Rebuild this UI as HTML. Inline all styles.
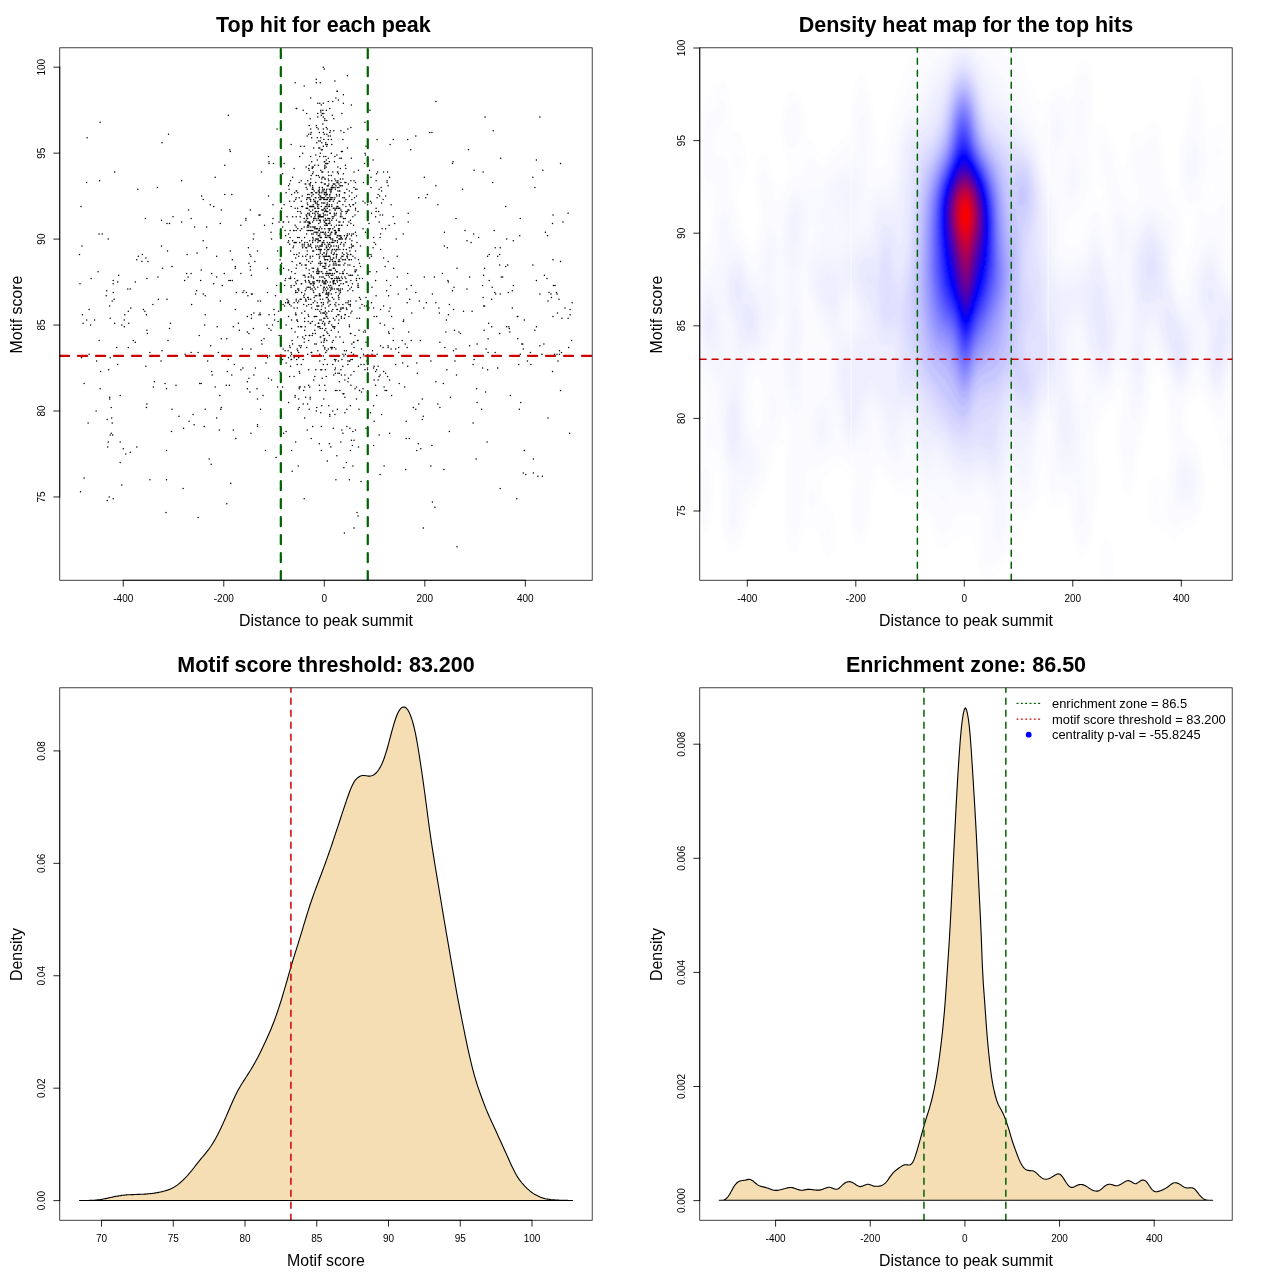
<!DOCTYPE html>
<html lang="en"><head><meta charset="utf-8"><title>Motif enrichment plots</title>
<style>html,body{margin:0;padding:0;background:#fff}svg{display:block}</style></head>
<body>
<svg width="1280" height="1280" viewBox="0 0 1280 1280" font-family="'Liberation Sans', sans-serif" style="opacity:.9999">
<rect width="1280" height="1280" fill="#fff"/>
<g id="p1">
<path d="M318.8 323.3h0M325.8 280.4h0M329.8 264.9h0M337.9 206.4h0M306.2 301.0h0M322.8 299.3h0M307.7 213.3h0M333.3 254.6h0M320.8 237.4h0M339.4 373.2h0M388.1 345.7h0M317.8 309.6h0M323.3 129.1h0M333.8 299.3h0M334.9 414.4h0M260.5 314.7h0M388.1 185.8h0M325.8 259.7h0M328.8 266.6h0M322.3 113.6h0M334.9 233.9h0M323.8 242.5h0M307.7 204.7h0M289.1 189.2h0M325.3 206.4h0M360.5 246.0h0M319.3 189.2h0M304.7 275.2h0M305.7 282.1h0M319.8 294.1h0M329.8 108.5h0M325.8 273.5h0M310.2 184.1h0M319.3 216.8h0M311.2 275.2h0M347.4 211.6h0M324.3 325.1h0M309.7 206.4h0M326.3 247.7h0M310.7 199.6h0M325.8 294.1h0M313.2 282.1h0M291.1 287.2h0M318.8 326.8h0M319.8 196.1h0M344.9 374.9h0M345.9 206.4h0M375.6 216.8h0M343.4 173.8h0M324.3 258.0h0M332.3 185.8h0M355.5 271.8h0M327.3 197.8h0M351.4 352.6h0M367.5 368.0h0M347.4 225.3h0M328.3 275.2h0M352.9 290.7h0M334.4 161.7h0M322.3 177.2h0M331.8 220.2h0M329.8 201.3h0M333.3 258.0h0M329.8 247.7h0M330.3 130.8h0M313.2 172.1h0M305.7 282.1h0M324.8 211.6h0M327.8 163.5h0M342.9 204.7h0M272.5 325.1h0M308.7 261.4h0M301.7 313.0h0M274.0 309.6h0M338.9 225.3h0M302.7 256.3h0M331.3 139.4h0M321.3 249.4h0M327.3 197.8h0M325.3 192.7h0M326.3 211.6h0M332.3 242.5h0M325.8 156.6h0M323.8 191.0h0M330.8 285.5h0M283.1 221.9h0M342.9 366.3h0M347.4 356.0h0M327.8 235.7h0M317.3 228.8h0M352.9 216.8h0M338.4 289.0h0M367.5 369.7h0M373.1 247.7h0M295.1 395.5h0M351.9 311.3h0M325.8 209.9h0M336.9 237.4h0M309.7 221.9h0M318.8 208.2h0M323.3 197.8h0M335.9 337.1h0M348.9 209.9h0M307.2 197.8h0M344.4 270.0h0M310.7 156.6h0M304.7 294.1h0M306.2 268.3h0M322.8 266.6h0M288.6 240.8h0M299.2 388.7h0M332.8 275.2h0M335.9 180.7h0M325.3 311.3h0M334.4 227.1h0M339.9 239.1h0M310.7 299.3h0M323.8 220.2h0M323.8 215.0h0M311.7 233.9h0M316.3 211.6h0M335.4 373.2h0M318.8 273.5h0M277.6 386.9h0M305.7 301.0h0M325.8 235.7h0M301.7 240.8h0M311.2 132.5h0M307.2 189.2h0M326.3 225.3h0M313.7 148.0h0M310.7 323.3h0M348.9 275.2h0M325.8 352.6h0M315.8 154.9h0M323.8 399.0h0M326.8 120.5h0M325.8 163.5h0M325.8 328.5h0M329.3 276.9h0M343.4 221.9h0M313.7 380.1h0M354.0 266.6h0M328.8 294.1h0M337.4 356.0h0M325.8 268.3h0M336.9 196.1h0M329.3 220.2h0M326.3 160.0h0M328.3 101.6h0M323.8 335.4h0M323.3 256.3h0M338.9 184.1h0M350.9 223.6h0M349.4 191.0h0M318.3 129.1h0M334.9 369.7h0M347.9 381.8h0M318.8 247.7h0M330.8 246.0h0M342.9 197.8h0M334.9 261.4h0M328.3 223.6h0M334.9 187.5h0M328.3 295.8h0M357.0 189.2h0M324.8 263.2h0M273.0 218.5h0M359.5 390.4h0M320.8 137.7h0M328.3 299.3h0M295.7 313.0h0M320.3 240.8h0M325.8 199.6h0M355.5 203.0h0M303.2 110.2h0M378.6 211.6h0M329.8 273.5h0M337.9 182.4h0M334.9 178.9h0M329.8 256.3h0M317.8 287.2h0M310.7 244.3h0M285.6 302.7h0M332.8 261.4h0M320.3 215.0h0M335.9 185.8h0M331.3 187.5h0M315.3 333.6h0M325.8 314.7h0M313.2 233.9h0M339.4 280.4h0M326.3 199.6h0M315.3 208.2h0M323.3 213.3h0M374.1 242.5h0M297.7 228.8h0M298.7 399.0h0M324.3 134.2h0M268.5 196.1h0M331.3 246.0h0M327.3 199.6h0M316.8 254.6h0M323.3 232.2h0M314.8 216.8h0M321.3 206.4h0M322.3 244.3h0M312.2 166.9h0M319.3 294.1h0M319.3 215.0h0M271.5 239.1h0M336.4 316.5h0M302.2 196.1h0M368.0 412.7h0M358.5 259.7h0M277.1 129.1h0M314.2 287.2h0M322.3 242.5h0M320.3 252.9h0M355.0 271.8h0M329.3 276.9h0M324.8 228.8h0M311.2 276.9h0M385.1 266.6h0M336.4 258.0h0M326.8 189.2h0M320.8 246.0h0M353.5 354.3h0M308.7 225.3h0M327.3 259.7h0M338.9 235.7h0M310.7 263.2h0M351.4 259.7h0M338.9 290.7h0M309.2 215.0h0M334.4 230.5h0M343.4 273.5h0M308.2 225.3h0M312.7 282.1h0M320.3 82.7h0M280.1 259.7h0M320.3 337.1h0M377.1 354.3h0M316.8 271.8h0M322.3 254.6h0M310.2 287.2h0M343.9 244.3h0M333.8 268.3h0M334.9 278.6h0M286.1 192.7h0M291.1 206.4h0M312.7 187.5h0M315.8 203.0h0M326.3 376.6h0M312.2 289.0h0M327.3 215.0h0M318.3 211.6h0M354.0 187.5h0M313.7 292.4h0M337.9 314.7h0M340.9 185.8h0M340.9 130.8h0M320.3 220.2h0M321.3 216.8h0M328.8 273.5h0M340.4 216.8h0M334.4 268.3h0M328.8 249.4h0M298.2 409.3h0M327.3 297.5h0M331.3 275.2h0M294.1 168.6h0M301.7 264.9h0M339.4 278.6h0M352.4 359.4h0M336.9 278.6h0M313.7 199.6h0M325.8 223.6h0M323.3 289.0h0M319.3 295.8h0M291.6 450.5h0M328.3 185.8h0M311.2 216.8h0M306.2 264.9h0M343.4 342.2h0M310.2 185.8h0M326.3 280.4h0M322.3 187.5h0M305.2 264.9h0M326.8 271.8h0M313.2 194.4h0M313.7 206.4h0M338.9 264.9h0M348.9 304.4h0M343.9 467.7h0M385.6 196.1h0M332.3 115.3h0M330.3 282.1h0M335.4 261.4h0M310.7 201.3h0M355.0 270.0h0M329.8 221.9h0M317.8 326.8h0M317.8 280.4h0M328.8 175.5h0M306.7 306.1h0M314.2 282.1h0M321.3 309.6h0M312.7 209.9h0M296.2 283.8h0M364.0 364.6h0M363.5 354.3h0M318.8 306.1h0M366.0 297.5h0M324.3 184.1h0M342.9 304.4h0M359.5 297.5h0M335.4 261.4h0M327.3 194.4h0M347.9 290.7h0M376.1 211.6h0M331.3 232.2h0M332.8 240.8h0M344.9 263.2h0M320.8 237.4h0M315.3 203.0h0M327.3 203.0h0M335.9 98.1h0M348.4 184.1h0M329.8 196.1h0M386.6 280.4h0M331.8 206.4h0M295.1 397.2h0M316.8 228.8h0M313.2 271.8h0M324.8 178.9h0M358.5 447.1h0M312.7 213.3h0M315.3 240.8h0M329.3 230.5h0M317.8 306.1h0M249.9 254.6h0M350.9 374.9h0M346.4 307.9h0M337.9 206.4h0M376.1 180.7h0M329.3 270.0h0M311.2 304.4h0M324.3 233.9h0M345.9 278.6h0M313.7 220.2h0M322.8 189.2h0M341.4 242.5h0M350.4 254.6h0M318.3 239.1h0M328.3 218.5h0M335.9 263.2h0M368.5 283.8h0M311.2 175.5h0M324.3 192.7h0M324.8 385.2h0M349.4 326.8h0M306.7 215.0h0M316.8 316.5h0M352.4 283.8h0M335.4 361.1h0M291.6 271.8h0M317.8 268.3h0M339.4 294.1h0M314.2 191.0h0M318.3 235.7h0M355.5 251.1h0M321.8 182.4h0M333.8 130.8h0M319.8 220.2h0M319.3 132.5h0M318.3 240.8h0M334.9 356.0h0M320.8 197.8h0M345.4 259.7h0M317.8 201.3h0M304.7 321.6h0M336.4 254.6h0M323.3 209.9h0M334.4 213.3h0M315.3 289.0h0M296.2 268.3h0M285.6 278.6h0M329.8 321.6h0M297.2 349.1h0M370.0 110.2h0M315.3 316.5h0M287.1 299.3h0M331.3 153.2h0M340.9 369.7h0M328.3 223.6h0M341.9 113.6h0M354.0 180.7h0M305.2 290.7h0M294.6 192.7h0M317.3 137.7h0M317.8 117.1h0M328.3 235.7h0M328.8 405.8h0M345.4 242.5h0M309.2 170.3h0M345.9 168.6h0M316.8 280.4h0M309.2 282.1h0M322.3 246.0h0M296.2 230.5h0M350.9 127.4h0M328.3 136.0h0M353.5 246.0h0M334.9 326.8h0M310.2 258.0h0M340.4 289.0h0M335.9 349.1h0M328.3 244.3h0M329.3 189.2h0M346.9 273.5h0M294.1 242.5h0M333.8 184.1h0M328.3 301.0h0M305.7 221.9h0M320.3 153.2h0M321.3 426.5h0M297.7 302.7h0M330.8 289.0h0M326.3 223.6h0M315.3 211.6h0M323.8 199.6h0M335.4 390.4h0M289.6 184.1h0M303.2 275.2h0M324.8 161.7h0M324.3 199.6h0M336.4 264.9h0M332.8 239.1h0M322.3 232.2h0M352.9 431.6h0M296.2 216.8h0M337.4 203.0h0M340.9 280.4h0M320.3 261.4h0M295.1 82.7h0M287.6 302.7h0M331.3 330.2h0M336.9 182.4h0M355.0 258.0h0M379.1 221.9h0M340.9 307.9h0M334.4 273.5h0M303.2 404.1h0M345.9 199.6h0M304.2 146.3h0M288.1 350.8h0M391.6 395.5h0M333.8 246.0h0M343.4 94.7h0M339.9 390.4h0M371.5 256.3h0M332.8 364.6h0M356.5 270.0h0M333.3 268.3h0M299.7 242.5h0M325.3 282.1h0M308.2 314.7h0M290.1 237.4h0M361.5 392.1h0M319.3 216.8h0M363.0 388.7h0M333.3 283.8h0M338.4 99.9h0M331.3 197.8h0M329.8 416.2h0M308.2 244.3h0M364.5 163.5h0M342.4 273.5h0M321.8 197.8h0M338.4 264.9h0M334.9 264.9h0M351.9 233.9h0M371.5 203.0h0M338.4 247.7h0M344.4 235.7h0M296.2 299.3h0M338.4 208.2h0M336.9 91.3h0M331.3 225.3h0M380.6 249.4h0M325.3 369.7h0M336.4 246.0h0M312.2 261.4h0M322.3 378.3h0M322.3 216.8h0M363.0 228.8h0M347.9 302.7h0M349.9 264.9h0M331.3 191.0h0M341.4 316.5h0M335.9 251.1h0M331.8 289.0h0M284.6 306.1h0M338.4 361.1h0M295.7 314.7h0M304.7 417.9h0M339.4 381.8h0M308.2 197.8h0M318.3 270.0h0M345.9 239.1h0M405.2 344.0h0M312.7 221.9h0M345.4 314.7h0M348.4 285.5h0M343.9 264.9h0M329.3 201.3h0M302.7 153.2h0M323.8 342.2h0M309.2 125.6h0M298.7 301.0h0M312.2 335.4h0M323.8 242.5h0M297.7 337.1h0M308.7 168.6h0M320.3 356.0h0M327.3 204.7h0M324.8 178.9h0M300.2 230.5h0M289.6 304.4h0M322.8 313.0h0M320.3 251.1h0M291.1 306.1h0M336.9 208.2h0M326.8 225.3h0M317.8 232.2h0M314.2 232.2h0M351.4 105.0h0M351.9 199.6h0M316.8 127.4h0M305.7 256.3h0M342.4 307.9h0M289.1 278.6h0M383.1 347.4h0M356.0 301.0h0M320.3 221.9h0M328.8 292.4h0M296.2 301.0h0M335.4 240.8h0M324.8 225.3h0M278.1 321.6h0M305.7 299.3h0M341.9 225.3h0M310.7 246.0h0M346.4 213.3h0M344.4 192.7h0M323.8 156.6h0M336.9 254.6h0M319.3 192.7h0M336.4 208.2h0M327.3 273.5h0M305.2 184.1h0M313.2 276.9h0M301.7 206.4h0M325.3 307.9h0M308.7 280.4h0M307.7 225.3h0M349.4 247.7h0M299.2 345.7h0M332.8 411.0h0M320.3 251.1h0M319.8 246.0h0M315.8 232.2h0M335.4 233.9h0M312.7 242.5h0M320.8 199.6h0M304.2 244.3h0M337.4 91.3h0M320.8 249.4h0M318.3 215.0h0M311.7 161.7h0M350.9 313.0h0M326.8 206.4h0M300.2 263.2h0M296.2 197.8h0M347.4 235.7h0M336.9 309.6h0M371.0 187.5h0M373.6 237.4h0M310.7 98.1h0M376.1 295.8h0M297.7 321.6h0M331.8 180.7h0M340.9 213.3h0M295.1 242.5h0M291.6 194.4h0M332.3 187.5h0M329.3 335.4h0M342.4 151.4h0M293.1 247.7h0M319.8 311.3h0M355.5 429.9h0M305.2 276.9h0M306.2 215.0h0M316.3 175.5h0M319.8 216.8h0M328.8 311.3h0M335.4 261.4h0M334.4 268.3h0M340.4 178.9h0M337.4 271.8h0M280.1 270.0h0M310.2 256.3h0M366.5 306.1h0M309.7 215.0h0M330.3 273.5h0M328.3 294.1h0M306.7 199.6h0M335.9 292.4h0M339.9 191.0h0M311.7 192.7h0M324.8 330.2h0M320.3 141.1h0M325.8 283.8h0M314.8 301.0h0M325.3 184.1h0M328.8 273.5h0M333.8 254.6h0M299.7 373.2h0M333.3 184.1h0M282.6 359.4h0M348.4 301.0h0M311.7 247.7h0M324.8 347.4h0M291.1 144.6h0M339.4 194.4h0M316.8 142.8h0M296.7 359.4h0M312.2 321.6h0M343.4 307.9h0M365.0 330.2h0M317.3 203.0h0M310.7 178.9h0M359.5 278.6h0M337.4 282.1h0M326.8 204.7h0M310.2 283.8h0M286.1 325.1h0M314.8 227.1h0M321.8 142.8h0M295.7 290.7h0M312.7 206.4h0M313.2 189.2h0M319.8 103.3h0M334.4 252.9h0M313.2 283.8h0M339.4 285.5h0M331.3 252.9h0M330.8 239.1h0M331.8 189.2h0M297.7 237.4h0M326.8 316.5h0M342.4 252.9h0M318.8 194.4h0M300.2 216.8h0M314.8 208.2h0M271.0 330.2h0M327.3 282.1h0M327.8 289.0h0M312.2 268.3h0M301.2 283.8h0M330.3 237.4h0M339.9 221.9h0M313.2 271.8h0M309.2 194.4h0M333.8 283.8h0M330.3 258.0h0M318.8 223.6h0M312.7 240.8h0M338.9 285.5h0M339.9 201.3h0M294.1 285.5h0M297.7 192.7h0M322.8 172.1h0M327.3 225.3h0M326.3 297.5h0M331.3 278.6h0M328.3 246.0h0M308.7 369.7h0M309.2 165.2h0M337.9 289.0h0M342.4 185.8h0M319.8 390.4h0M342.4 259.7h0M324.3 197.8h0M299.7 263.2h0M328.3 158.3h0M326.3 247.7h0M373.1 160.0h0M308.2 227.1h0M355.0 388.7h0M360.5 299.3h0M363.5 331.9h0M339.9 249.4h0M304.7 330.2h0M345.4 165.2h0M376.6 271.8h0M328.3 256.3h0M327.8 211.6h0M319.3 282.1h0M323.3 335.4h0M326.8 211.6h0M319.8 326.8h0M340.9 309.6h0M326.8 313.0h0M323.8 282.1h0M320.8 285.5h0M358.0 211.6h0M307.2 251.1h0M299.2 197.8h0M312.7 256.3h0M304.2 246.0h0M351.4 247.7h0M321.3 206.4h0M323.3 345.7h0M336.4 213.3h0M322.8 280.4h0M345.4 218.5h0M307.2 227.1h0M345.4 354.3h0M334.4 249.4h0M343.4 103.3h0M331.8 251.1h0M330.3 213.3h0M329.3 237.4h0M352.9 256.3h0M298.2 466.0h0M352.9 246.0h0M337.9 180.7h0M295.1 225.3h0M370.0 271.8h0M328.3 139.4h0M294.1 376.6h0M324.3 208.2h0M335.4 230.5h0M330.8 259.7h0M351.9 246.0h0M334.4 215.0h0M330.3 270.0h0M315.3 215.0h0M318.3 323.3h0M285.1 280.4h0M307.2 242.5h0M326.8 194.4h0M292.6 240.8h0M354.0 527.9h0M334.9 184.1h0M316.3 239.1h0M337.4 235.7h0M313.7 278.6h0M307.2 230.5h0M347.4 233.9h0M350.4 304.4h0M300.2 211.6h0M350.4 306.1h0M305.7 335.4h0M330.3 290.7h0M323.8 283.8h0M351.4 158.3h0M308.7 316.5h0M345.9 282.1h0M303.7 304.4h0M306.7 247.7h0M346.4 249.4h0M324.8 318.2h0M334.9 197.8h0M365.0 153.2h0M296.2 227.1h0M318.8 148.0h0M322.3 209.9h0M260.0 215.0h0M288.6 270.0h0M336.4 225.3h0M323.3 132.5h0M299.7 156.6h0M312.7 230.5h0M338.4 295.8h0M316.8 220.2h0M356.5 235.7h0M321.8 276.9h0M324.8 165.2h0M314.2 201.3h0M321.8 306.1h0M340.9 283.8h0M315.8 218.5h0M321.8 182.4h0M307.7 221.9h0M329.3 204.7h0M301.2 345.7h0M324.3 68.9h0M382.1 228.8h0M321.8 178.9h0M323.8 290.7h0M309.2 246.0h0M325.8 259.7h0M330.3 304.4h0M383.1 199.6h0M324.8 283.8h0M393.2 139.4h0M328.3 172.1h0M323.3 146.3h0M346.4 237.4h0M332.8 197.8h0M304.2 342.2h0M300.2 221.9h0M314.2 283.8h0M284.1 204.7h0M307.2 429.9h0M306.7 347.4h0M347.9 364.6h0M311.2 230.5h0M341.9 216.8h0M314.8 165.2h0M305.7 184.1h0M291.6 359.4h0M349.4 259.7h0M349.4 204.7h0M315.8 239.1h0M329.3 228.8h0M295.7 258.0h0M323.8 252.9h0M320.3 299.3h0M354.0 172.1h0M309.7 335.4h0M301.7 228.8h0M341.4 151.4h0M352.4 275.2h0M331.8 311.3h0M325.3 218.5h0M274.5 314.7h0M340.9 215.0h0M292.6 216.8h0M344.4 350.8h0M328.3 349.1h0M361.0 364.6h0M330.8 347.4h0M344.9 314.7h0M336.9 182.4h0M315.3 325.1h0M341.4 237.4h0M321.3 105.0h0M313.7 268.3h0M326.8 251.1h0M323.3 203.0h0M381.6 191.0h0M316.3 79.2h0M308.7 340.5h0M381.1 187.5h0M318.8 141.1h0M306.7 215.0h0M349.9 251.1h0M334.4 280.4h0M319.8 249.4h0M317.3 160.0h0M339.4 228.8h0M306.2 208.2h0M338.9 221.9h0M333.8 326.8h0M316.3 228.8h0M357.0 242.5h0M304.7 386.9h0M326.3 192.7h0M316.8 249.4h0M298.7 256.3h0M369.0 223.6h0M336.4 194.4h0M331.8 199.6h0M350.4 220.2h0M324.3 338.8h0M319.8 192.7h0M326.3 316.5h0M325.8 390.4h0M332.3 239.1h0M363.0 201.3h0M308.7 230.5h0M330.8 192.7h0M344.4 197.8h0M318.8 204.7h0M351.4 440.2h0M314.8 213.3h0M339.4 239.1h0M315.3 295.8h0M323.3 276.9h0M338.9 201.3h0M327.3 185.8h0M342.4 278.6h0M298.7 352.6h0M309.2 409.3h0M268.5 156.6h0M310.2 223.6h0M331.8 325.1h0M356.5 399.0h0M307.2 136.0h0M319.3 294.1h0M277.6 251.1h0M342.9 393.8h0M320.3 227.1h0M332.3 297.5h0M315.3 227.1h0M329.8 223.6h0M304.7 242.5h0M319.8 233.9h0M335.4 270.0h0M300.7 146.3h0M326.8 247.7h0M341.4 225.3h0M340.4 239.1h0M317.8 103.3h0M326.8 220.2h0M319.8 276.9h0M320.8 313.0h0M332.3 347.4h0M340.9 441.9h0M335.4 232.2h0M370.5 412.7h0M304.2 227.1h0M334.4 328.5h0M347.9 254.6h0M326.3 254.6h0M304.7 311.3h0M310.2 230.5h0M343.4 249.4h0M328.8 184.1h0M329.3 206.4h0M331.3 252.9h0M337.9 172.1h0M376.1 208.2h0M313.7 251.1h0M331.8 242.5h0M323.3 67.2h0M323.8 287.2h0M330.3 270.0h0M324.3 161.7h0M317.8 113.6h0M339.9 208.2h0M317.8 208.2h0M335.9 479.8h0M329.8 287.2h0M312.7 333.6h0M306.7 233.9h0M344.4 318.2h0M312.2 192.7h0M337.9 249.4h0M338.4 173.8h0M282.6 173.8h0M310.7 206.4h0M309.7 223.6h0M324.8 166.9h0M365.0 122.2h0M295.7 199.6h0M257.0 388.7h0M308.2 321.6h0M339.4 225.3h0M326.8 256.3h0M315.8 182.4h0M342.9 178.9h0M283.6 268.3h0M391.1 349.1h0M260.0 313.0h0M362.0 304.4h0M321.3 246.0h0M317.3 273.5h0M310.2 118.8h0M365.0 203.0h0M348.9 221.9h0M341.9 239.1h0M319.8 280.4h0M295.1 273.5h0M334.4 347.4h0M302.7 206.4h0M345.9 182.4h0M297.2 364.6h0M298.7 289.0h0M306.2 220.2h0M305.2 280.4h0M318.8 197.8h0M350.9 359.4h0M297.2 292.4h0M307.2 208.2h0M324.8 278.6h0M316.3 344.0h0M309.7 197.8h0M329.8 414.4h0M320.8 110.2h0M325.8 142.8h0M318.3 218.5h0M325.8 263.2h0M320.8 196.1h0M326.8 134.2h0M330.8 189.2h0M324.3 287.2h0M324.3 282.1h0M291.6 328.5h0M355.0 335.4h0M294.1 201.3h0M334.4 199.6h0M287.1 216.8h0M335.9 215.0h0M309.2 209.9h0M335.9 306.1h0M318.8 235.7h0M310.7 182.4h0M334.9 208.2h0M321.8 263.2h0M324.3 194.4h0M304.2 218.5h0M324.3 325.1h0M305.7 397.2h0M308.7 385.2h0M350.9 254.6h0M327.3 460.9h0M307.7 297.5h0M349.9 289.0h0M307.7 354.3h0M307.2 287.2h0M321.8 244.3h0M350.4 275.2h0M324.3 268.3h0M307.2 254.6h0M346.9 189.2h0M311.7 352.6h0M356.5 278.6h0M312.7 185.8h0M313.7 227.1h0M328.8 206.4h0M381.6 203.0h0M328.3 178.9h0M296.2 314.7h0M317.8 117.1h0M344.9 182.4h0M319.3 177.2h0M339.4 230.5h0M315.3 197.8h0M339.9 158.3h0M349.4 361.1h0M379.1 189.2h0M340.9 215.0h0M291.1 285.5h0M322.8 292.4h0M358.0 340.5h0M315.3 201.3h0M331.8 144.6h0M320.3 237.4h0M335.4 368.0h0M346.9 256.3h0M324.8 208.2h0M362.5 278.6h0M320.3 216.8h0M349.4 233.9h0M304.2 86.1h0M308.2 297.5h0M326.8 340.5h0M371.0 177.2h0M360.0 307.9h0M333.3 184.1h0M319.8 319.9h0M332.3 278.6h0M351.4 244.3h0M355.5 208.2h0M315.8 192.7h0M318.3 273.5h0M313.2 239.1h0M313.7 218.5h0M276.1 457.4h0M347.4 148.0h0M325.3 232.2h0M295.1 331.9h0M311.2 352.6h0M306.7 113.6h0M328.3 136.0h0M333.8 118.8h0M329.8 199.6h0M379.6 196.1h0M343.9 132.5h0M326.8 206.4h0M323.8 318.2h0M356.5 196.1h0M325.8 233.9h0M330.3 233.9h0M283.1 304.4h0M323.3 364.6h0M288.1 242.5h0M337.9 289.0h0M319.8 148.0h0M333.3 187.5h0M334.9 81.0h0M314.2 191.0h0M325.3 289.0h0M326.8 146.3h0M335.4 189.2h0M342.9 271.8h0M377.1 197.8h0M338.9 297.5h0M312.2 227.1h0M340.4 292.4h0M336.4 249.4h0M309.2 184.1h0M340.9 182.4h0M329.3 161.7h0M320.8 412.7h0M341.9 225.3h0M349.9 361.1h0M353.5 342.2h0M292.6 177.2h0M351.9 240.8h0M329.3 273.5h0M317.8 270.0h0M338.4 228.8h0M313.2 166.9h0M349.9 239.1h0M337.4 182.4h0M316.8 192.7h0M341.4 318.2h0M294.1 307.9h0M345.9 302.7h0M320.3 295.8h0M304.2 221.9h0M327.8 235.7h0M295.7 292.4h0M325.8 220.2h0M326.8 292.4h0M371.5 302.7h0M331.8 232.2h0M289.6 376.6h0M331.3 270.0h0M312.2 189.2h0M333.3 208.2h0M334.4 289.0h0M351.4 287.2h0M316.3 82.7h0M279.1 221.9h0M267.5 268.3h0M285.1 350.8h0M332.3 249.4h0M297.7 208.2h0M324.3 252.9h0M335.4 283.8h0M319.3 220.2h0M319.8 199.6h0M332.8 326.8h0M340.9 237.4h0M272.5 223.6h0M317.8 213.3h0M310.7 134.2h0M304.7 318.2h0M294.1 230.5h0M311.7 137.7h0M328.8 285.5h0M322.3 323.3h0M318.8 216.8h0M360.5 266.6h0M288.6 302.7h0M326.3 110.2h0M313.2 302.7h0M319.8 256.3h0M310.2 323.3h0M376.6 369.7h0M338.9 314.7h0M298.7 357.7h0M282.6 227.1h0M321.8 172.1h0M317.3 270.0h0M329.8 221.9h0M322.8 110.2h0M326.3 246.0h0M332.3 259.7h0M308.7 221.9h0M326.8 331.9h0M340.4 168.6h0M333.3 201.3h0M337.4 409.3h0M324.8 323.3h0M297.2 307.9h0M350.9 385.2h0M347.4 258.0h0M311.7 307.9h0M322.8 216.8h0M305.7 247.7h0M296.7 108.5h0M323.8 139.4h0M316.8 233.9h0M310.2 397.2h0M317.8 326.8h0M322.8 280.4h0M322.3 282.1h0M343.4 283.8h0M341.4 276.9h0M302.2 246.0h0M306.7 216.8h0M309.2 223.6h0M330.3 228.8h0M324.8 325.1h0M348.9 316.5h0M332.8 282.1h0M318.8 263.2h0M319.3 187.5h0M321.3 319.9h0M312.2 168.6h0M327.3 144.6h0M320.8 170.3h0M347.9 361.1h0M326.3 246.0h0M290.1 230.5h0M331.8 287.2h0M327.3 129.1h0M285.6 235.7h0M309.7 282.1h0M320.3 328.5h0M344.9 412.7h0M339.9 264.9h0M290.1 347.4h0M339.9 235.7h0M317.8 246.0h0M387.6 172.1h0M322.8 123.9h0M313.2 285.5h0M332.8 172.1h0M314.2 316.5h0M387.1 180.7h0M340.4 290.7h0M360.5 266.6h0M261.5 172.1h0M346.9 235.7h0M322.8 273.5h0M321.3 182.4h0M310.7 211.6h0M334.9 304.4h0M347.9 209.9h0M383.6 172.1h0M326.3 290.7h0M339.4 196.1h0M329.8 201.3h0M324.8 338.8h0M340.9 235.7h0M343.9 356.0h0M371.5 213.3h0M295.7 292.4h0M327.8 318.2h0M325.8 196.1h0M341.9 211.6h0M333.3 264.9h0M337.4 172.1h0M320.8 232.2h0M335.4 209.9h0M321.3 115.3h0M332.3 216.8h0M339.9 261.4h0M329.3 443.7h0M342.4 289.0h0M312.7 173.8h0M314.8 344.0h0M326.8 237.4h0M330.8 197.8h0M308.7 276.9h0M330.3 136.0h0M328.8 197.8h0M320.3 263.2h0M328.8 256.3h0M308.7 134.2h0M321.8 271.8h0M321.8 369.7h0M326.3 166.9h0M295.7 441.9h0M365.0 369.7h0M322.3 328.5h0M290.6 276.9h0M353.5 225.3h0M306.7 259.7h0M338.4 323.3h0M325.3 209.9h0M338.9 187.5h0M318.3 191.0h0M331.8 349.1h0M329.8 194.4h0M302.7 337.1h0M339.9 249.4h0M310.7 129.1h0M326.3 191.0h0M327.8 259.7h0M377.1 139.4h0M269.0 161.7h0M327.3 364.6h0M336.4 256.3h0M326.8 163.5h0M349.4 196.1h0M323.8 139.4h0M298.7 290.7h0M339.9 273.5h0M290.6 366.3h0M296.2 242.5h0M380.1 374.9h0M316.3 232.2h0M324.8 266.6h0M378.1 380.1h0M338.9 304.4h0M323.8 240.8h0M338.9 259.7h0M301.2 213.3h0M294.1 302.7h0M327.3 273.5h0M337.4 309.6h0M341.4 158.3h0M324.3 221.9h0M355.5 209.9h0M336.4 264.9h0M329.3 321.6h0M329.8 242.5h0M322.3 197.8h0M359.5 263.2h0M346.4 350.8h0M300.2 386.9h0M309.2 335.4h0M353.5 204.7h0M333.8 374.9h0M309.7 240.8h0M312.7 251.1h0M340.9 258.0h0M321.3 237.4h0M315.8 247.7h0M321.3 302.7h0M301.2 299.3h0M318.8 249.4h0M336.4 232.2h0M350.4 405.8h0M325.8 256.3h0M378.1 194.4h0M323.8 313.0h0M406.2 421.3h0M350.9 280.4h0M337.9 373.2h0M312.7 237.4h0M253.9 233.9h0M321.8 216.8h0M329.8 261.4h0M307.7 194.4h0M374.1 421.3h0M315.8 246.0h0M290.6 180.7h0M321.3 246.0h0M373.6 405.8h0M333.8 263.2h0M319.3 191.0h0M355.0 215.0h0M343.9 254.6h0M328.3 228.8h0M324.8 244.3h0M338.4 230.5h0M261.5 340.5h0M328.8 323.3h0M311.7 247.7h0M316.8 295.8h0M327.8 333.6h0M342.9 139.4h0M336.9 154.9h0M327.8 302.7h0M327.3 242.5h0M330.3 191.0h0M296.7 191.0h0M349.4 479.8h0M342.9 256.3h0M336.4 276.9h0M340.4 289.0h0M334.9 240.8h0M350.9 180.7h0M321.3 342.2h0M376.6 173.8h0M353.5 233.9h0M331.3 294.1h0M323.3 117.1h0M324.8 168.6h0M291.1 352.6h0M350.4 206.4h0M290.6 251.1h0M359.5 318.2h0M327.3 294.1h0M343.4 218.5h0M328.3 232.2h0M315.8 197.8h0M314.8 376.6h0M326.3 194.4h0M293.6 230.5h0M333.8 216.8h0M326.3 127.4h0M316.8 306.1h0M307.7 180.7h0M329.8 209.9h0M380.1 237.4h0M331.3 347.4h0M311.2 192.7h0M325.3 178.9h0M310.2 206.4h0M321.8 192.7h0M319.8 271.8h0M345.4 239.1h0M325.8 144.6h0M319.8 295.8h0M292.6 344.0h0M293.6 246.0h0M323.3 266.6h0M307.2 218.5h0M343.9 393.8h0M344.9 380.1h0M316.8 273.5h0M319.8 235.7h0M326.8 256.3h0M317.8 206.4h0M297.7 289.0h0M358.5 366.3h0M333.8 258.0h0M334.9 156.6h0M388.1 347.4h0M306.2 166.9h0M318.3 270.0h0M321.8 203.0h0M347.9 129.1h0M311.2 175.5h0M332.8 228.8h0M319.3 443.7h0M319.3 240.8h0M290.6 278.6h0M319.3 258.0h0M307.2 203.0h0M301.7 292.4h0M341.9 256.3h0M327.8 218.5h0M321.8 228.8h0M334.4 359.4h0M323.3 103.3h0M350.9 275.2h0M345.9 211.6h0M350.4 450.5h0M333.8 242.5h0M318.3 165.2h0M326.3 275.2h0M329.3 220.2h0M322.3 149.7h0M339.4 191.0h0M324.8 118.8h0M310.7 289.0h0M319.3 326.8h0M339.4 208.2h0M344.9 192.7h0M318.3 216.8h0M336.9 206.4h0M348.9 275.2h0M326.8 350.8h0M280.1 233.9h0M336.9 289.0h0M377.6 172.1h0M317.3 302.7h0M322.3 191.0h0M289.6 244.3h0M324.8 221.9h0M324.3 208.2h0M318.3 175.5h0M300.2 299.3h0M325.3 237.4h0M340.9 213.3h0M344.9 276.9h0M336.9 390.4h0M327.3 208.2h0M365.5 331.9h0M328.8 306.1h0M317.3 239.1h0M326.8 252.9h0M347.4 75.8h0M359.0 330.2h0M350.4 333.6h0M387.1 182.4h0M296.7 264.9h0M323.3 216.8h0M310.2 199.6h0M321.8 209.9h0M330.3 199.6h0M313.2 204.7h0M333.3 280.4h0M332.8 101.6h0M320.8 111.9h0M299.2 252.9h0M328.8 180.7h0M300.7 347.4h0M337.4 187.5h0M351.4 235.7h0M313.2 290.7h0M375.6 371.5h0M318.3 271.8h0M318.8 230.5h0M327.8 249.4h0M320.3 264.9h0M319.3 228.8h0M307.7 404.1h0M335.9 359.4h0M324.8 228.8h0M317.8 242.5h0M325.8 264.9h0M367.5 160.0h0M340.9 209.9h0M389.6 177.2h0M338.9 319.9h0M323.8 177.2h0M319.8 215.0h0M336.9 280.4h0M335.9 302.7h0M289.6 345.7h0M323.3 302.7h0M304.2 297.5h0M349.4 325.1h0M297.7 280.4h0M324.8 313.0h0M317.3 204.7h0M352.9 204.7h0M343.9 218.5h0M337.9 278.6h0M367.5 204.7h0M370.5 201.3h0M331.8 204.7h0M343.9 246.0h0M332.3 273.5h0M346.4 462.6h0M324.8 203.0h0M331.3 175.5h0M330.8 233.9h0M341.9 359.4h0M348.9 259.7h0M355.5 232.2h0M316.3 125.6h0M307.7 208.2h0M337.9 166.9h0M391.6 316.5h0M329.8 218.5h0M324.3 189.2h0M329.8 244.3h0M329.8 235.7h0M344.9 201.3h0M323.3 356.0h0M319.3 385.2h0M308.2 276.9h0M314.2 297.5h0M325.3 232.2h0M354.5 197.8h0M336.4 220.2h0M288.6 357.7h0M355.5 189.2h0M323.8 313.0h0M326.8 287.2h0M313.2 239.1h0M301.7 283.8h0M308.2 246.0h0M332.8 218.5h0M334.9 209.9h0M304.7 237.4h0M372.0 287.2h0M389.1 333.6h0M309.2 273.5h0M338.4 261.4h0M306.2 289.0h0M303.2 359.4h0M308.7 304.4h0M351.9 192.7h0M323.3 321.6h0M341.4 374.9h0M335.9 233.9h0M337.9 191.0h0M311.7 206.4h0M311.7 196.1h0M350.4 206.4h0M324.8 259.7h0M365.5 154.9h0M319.8 156.6h0M323.8 113.6h0M181.6 180.7h0M523.3 472.9h0M562.0 318.2h0M495.2 247.7h0M379.1 435.1h0M384.6 325.1h0M536.4 160.0h0M295.1 208.2h0M483.6 275.2h0M457.0 546.8h0M499.7 333.6h0M298.7 289.0h0M398.7 347.4h0M124.3 326.8h0M113.2 292.4h0M133.3 340.5h0M437.9 404.1h0M258.0 301.0h0M523.3 349.1h0M116.7 347.4h0M169.5 328.5h0M489.2 254.6h0M288.1 301.0h0M194.1 424.8h0M460.5 333.6h0M200.7 280.4h0M558.0 361.1h0M220.3 223.6h0M499.7 254.6h0M316.8 407.6h0M539.9 294.1h0M230.3 151.4h0M534.9 187.5h0M233.3 326.8h0M302.2 244.3h0M389.6 380.1h0M352.4 445.4h0M407.7 273.5h0M419.3 301.0h0M216.7 276.9h0M83.1 323.3h0M432.4 294.1h0M374.1 366.3h0M356.5 280.4h0M324.8 249.4h0M536.4 326.8h0M230.3 251.1h0M525.8 474.6h0M166.5 388.7h0M418.8 197.8h0M542.9 170.3h0M158.4 299.3h0M454.5 330.2h0M219.3 429.9h0M106.7 290.7h0M294.1 254.6h0M420.8 448.8h0M224.3 273.5h0M547.0 278.6h0M80.0 283.8h0M216.7 417.9h0M251.4 275.2h0M265.5 450.5h0M231.8 194.4h0M89.1 309.6h0M189.1 421.3h0M213.7 206.4h0M408.2 221.9h0M268.5 378.3h0M431.9 132.5h0M299.2 407.6h0M251.4 294.1h0M161.5 220.2h0M198.1 517.6h0M519.8 235.7h0M305.2 326.8h0M238.4 323.3h0M193.1 414.4h0M508.3 292.4h0M423.3 416.2h0M418.8 404.1h0M474.1 359.4h0M204.2 426.5h0M435.9 185.8h0M112.7 435.1h0M404.7 386.9h0M242.4 349.1h0M403.2 321.6h0M197.1 252.9h0M257.5 251.1h0M407.2 347.4h0M541.9 354.3h0M251.4 318.2h0M167.5 251.1h0M141.9 261.4h0M407.7 366.3h0M516.8 498.7h0M87.1 137.7h0M253.4 239.1h0M167.0 299.3h0M549.0 292.4h0M145.9 366.3h0M111.2 407.6h0M453.5 350.8h0M571.6 340.5h0M456.5 374.9h0M136.8 447.1h0M283.1 349.1h0M336.4 271.8h0M518.8 364.6h0M446.4 319.9h0M107.2 500.4h0M304.2 338.8h0M459.0 331.9h0M346.9 426.5h0M405.7 469.4h0M555.0 285.5h0M560.5 390.4h0M489.2 280.4h0M360.5 357.7h0M235.3 268.3h0M162.0 350.8h0M166.5 450.5h0M393.2 328.5h0M456.0 349.1h0M499.7 264.9h0M527.4 361.1h0M226.3 356.0h0M248.4 247.7h0M181.6 221.9h0M347.4 256.3h0M545.4 232.2h0M448.4 282.1h0M296.7 254.6h0M161.5 246.0h0M492.2 287.2h0M517.3 316.5h0M453.5 309.6h0M228.3 115.3h0M274.5 319.9h0M366.0 342.2h0M530.4 352.6h0M204.7 325.1h0M288.6 301.0h0M107.2 419.6h0M80.5 491.8h0M205.2 295.8h0M476.1 459.1h0M409.7 299.3h0M315.8 309.6h0M283.6 221.9h0M215.2 177.2h0M452.5 290.7h0M320.8 369.7h0M112.2 423.0h0M386.6 390.4h0M568.1 318.2h0M113.2 498.7h0M570.1 314.7h0M128.8 323.3h0M235.3 266.6h0M559.5 350.8h0M557.5 313.0h0M176.0 385.2h0M430.9 361.1h0M380.1 474.6h0M278.6 311.3h0M462.5 189.2h0M390.1 307.9h0M196.6 290.7h0M321.8 405.8h0M425.8 197.8h0M384.1 386.9h0M346.9 252.9h0M439.4 313.0h0M146.9 404.1h0M99.1 233.9h0M94.6 319.9h0M383.6 306.1h0M295.7 282.1h0M488.7 323.3h0M557.0 354.3h0M135.3 282.1h0M269.5 356.0h0M288.6 316.5h0M348.4 378.3h0M524.3 450.5h0M374.1 380.1h0M234.3 364.6h0M403.7 319.9h0M245.9 220.2h0M352.9 466.0h0M128.3 311.3h0M357.0 512.4h0M316.3 411.0h0M395.7 364.6h0M358.0 515.9h0M361.0 481.5h0M438.9 307.9h0M146.4 314.7h0M445.9 331.9h0M385.1 390.4h0M415.8 136.0h0M279.1 335.4h0M120.2 395.5h0M532.9 177.2h0M484.6 268.3h0M559.5 354.3h0M307.7 218.5h0M512.3 307.9h0M505.7 266.6h0M350.4 301.0h0M519.3 409.3h0M478.6 237.4h0M130.8 307.9h0M146.4 407.6h0M282.6 386.9h0M342.4 239.1h0M398.7 352.6h0M357.0 318.2h0M507.7 264.9h0M472.1 311.3h0M130.3 452.3h0M250.4 266.6h0M513.3 240.8h0M447.4 247.7h0M86.6 182.4h0M386.6 290.7h0M142.4 254.6h0M328.3 185.8h0M568.6 347.4h0M114.7 172.1h0M483.1 172.1h0M318.8 254.6h0M560.5 163.5h0M500.2 247.7h0M109.7 397.2h0M394.7 223.6h0M500.2 294.1h0M222.3 285.5h0M423.8 307.9h0M210.2 204.7h0M186.6 273.5h0M247.4 381.8h0M228.8 280.4h0M553.0 259.7h0M201.2 383.5h0M291.1 359.4h0M319.8 354.3h0M417.3 373.2h0M556.5 292.4h0M380.6 233.9h0M500.7 158.3h0M145.4 218.5h0M403.2 233.9h0M169.5 223.6h0M505.7 206.4h0M372.0 354.3h0M147.9 261.4h0M495.7 294.1h0M338.4 331.9h0M319.8 361.1h0M117.7 364.6h0M522.8 344.0h0M333.3 428.2h0M502.7 276.9h0M114.7 323.3h0M411.8 313.0h0M267.5 292.4h0M343.9 259.7h0M385.6 373.2h0M484.1 330.2h0M533.4 459.1h0M166.0 512.4h0M500.2 488.4h0M137.8 189.2h0M84.1 478.0h0M232.3 280.4h0M224.8 194.4h0M455.0 361.1h0M355.5 182.4h0M273.5 163.5h0M467.0 240.8h0M539.9 117.1h0M393.7 268.3h0M399.2 383.5h0M501.2 276.9h0M228.3 359.4h0M569.6 433.3h0M171.5 431.6h0M100.1 122.2h0M482.6 368.0h0M170.5 323.3h0M248.9 378.3h0M332.8 309.6h0M135.3 342.2h0M290.6 356.0h0M257.5 424.8h0M120.2 441.9h0M375.6 385.2h0M303.7 295.8h0M162.0 142.8h0M465.0 230.5h0M284.1 163.5h0M91.1 278.6h0M509.3 328.5h0M283.6 433.3h0M124.3 319.9h0M226.8 503.8h0M210.7 345.7h0M99.6 180.7h0M246.4 292.4h0M167.0 223.6h0M191.1 352.6h0M409.2 438.5h0M161.0 361.1h0M89.1 354.3h0M173.0 216.8h0M229.8 149.7h0M165.0 383.5h0M372.5 350.8h0M509.8 331.9h0M486.1 349.1h0M312.7 426.5h0M463.5 311.3h0M467.0 289.0h0M390.6 285.5h0M473.1 423.0h0M269.0 328.5h0M443.9 469.4h0M337.4 240.8h0M439.9 407.6h0M439.9 342.2h0M110.2 357.7h0M487.6 369.7h0M96.1 411.0h0M292.1 471.2h0M369.5 170.3h0M483.1 297.5h0M106.2 295.8h0M407.7 139.4h0M253.4 328.5h0M98.1 271.8h0M247.4 316.5h0M393.2 216.8h0M118.7 275.2h0M494.7 292.4h0M99.1 340.5h0M203.2 294.1h0M245.9 218.5h0M109.2 497.0h0M534.9 330.2h0M554.5 354.3h0M521.8 344.0h0M183.1 488.4h0M487.6 256.3h0M249.9 392.1h0M226.8 338.8h0M416.8 362.9h0M120.2 462.6h0M81.5 357.7h0M537.9 476.3h0M257.5 399.0h0M469.6 345.7h0M291.6 319.9h0M124.8 314.7h0M314.8 330.2h0M168.5 134.2h0M117.7 282.1h0M88.1 423.0h0M279.6 371.5h0M212.2 374.9h0M248.9 333.6h0M552.5 371.5h0M485.6 392.1h0M424.3 177.2h0M205.2 314.7h0M444.9 347.4h0M420.3 340.5h0M339.9 337.1h0M203.2 199.6h0M188.1 276.9h0M288.6 221.9h0M220.8 409.3h0M512.3 290.7h0M310.2 227.1h0M410.7 149.7h0M517.8 316.5h0M384.1 466.0h0M162.5 268.3h0M240.9 369.7h0M533.4 472.9h0M100.6 371.5h0M194.6 227.1h0M382.6 215.0h0M497.7 256.3h0M481.6 409.3h0M435.9 101.6h0M422.3 419.6h0M267.0 325.1h0M108.2 441.9h0M391.1 204.7h0M113.2 280.4h0M471.1 242.5h0M144.9 311.3h0M90.6 325.1h0M572.1 302.7h0M166.5 479.8h0M365.5 232.2h0M108.2 239.1h0M561.5 352.6h0M86.6 319.9h0M415.8 292.4h0M492.7 182.4h0M230.3 280.4h0M82.5 314.7h0M96.6 361.1h0M107.7 447.1h0M446.9 369.7h0M339.9 311.3h0M517.8 338.8h0M389.1 311.3h0M371.0 254.6h0M184.6 280.4h0M195.6 294.1h0M560.5 261.4h0M548.0 301.0h0M297.2 319.9h0M469.6 276.9h0M430.9 466.0h0M221.3 209.9h0M183.6 428.2h0M444.4 246.0h0M553.0 316.5h0M563.0 221.9h0M259.0 314.7h0M109.7 399.0h0M240.9 225.3h0M112.2 301.0h0M565.0 307.9h0M235.3 309.6h0M494.2 230.5h0M206.7 247.7h0M551.5 297.5h0M321.3 450.5h0M488.1 352.6h0M373.6 307.9h0M452.5 163.5h0M113.2 283.8h0M121.8 325.1h0M259.0 215.0h0M508.8 326.8h0M524.3 319.9h0M426.3 302.7h0M373.6 445.4h0M102.2 233.9h0M536.4 280.4h0M402.2 340.5h0M381.6 414.4h0M491.7 299.3h0M201.7 196.1h0M383.6 371.5h0M413.3 407.6h0M447.9 280.4h0M125.8 454.0h0M434.9 507.3h0M520.3 354.3h0M387.6 376.6h0M168.0 340.5h0M530.9 364.6h0M130.3 289.0h0M199.2 335.4h0M497.7 368.0h0M368.5 356.0h0M248.9 263.2h0M473.6 233.9h0M396.2 239.1h0M138.3 256.3h0M199.7 383.5h0M477.1 402.4h0M477.1 344.0h0M114.2 299.3h0M336.9 455.7h0M427.3 194.4h0M243.9 290.7h0M108.7 369.7h0M287.6 302.7h0M539.9 345.7h0M435.9 381.8h0M191.1 273.5h0M493.2 356.0h0M406.2 438.5h0M227.3 371.5h0M217.2 326.8h0M172.0 409.3h0M281.6 208.2h0M260.5 409.3h0M224.8 165.2h0M506.7 239.1h0M450.5 397.2h0M323.3 304.4h0M553.0 215.0h0M408.7 331.9h0M548.0 417.9h0M483.6 306.1h0M390.1 144.6h0M418.3 443.7h0M457.0 268.3h0M448.4 314.7h0M506.7 326.8h0M250.9 349.1h0M262.0 344.0h0M206.7 227.1h0M532.9 264.9h0M520.8 402.4h0M299.2 182.4h0M280.1 426.5h0M145.9 258.0h0M559.0 299.3h0M408.2 213.3h0M553.5 285.5h0M389.1 225.3h0M333.3 318.2h0M444.4 232.2h0M513.3 285.5h0M493.2 130.8h0M253.9 374.9h0M329.8 213.3h0M544.4 275.2h0M329.8 301.0h0M473.1 364.6h0M338.4 276.9h0M487.1 441.9h0M111.2 433.3h0M79.5 254.6h0M123.3 448.8h0M296.2 191.0h0M264.0 338.8h0M551.0 294.1h0M570.1 309.6h0M146.9 278.6h0M488.1 338.8h0M330.8 347.4h0M491.7 326.8h0M264.5 225.3h0M456.0 218.5h0M81.0 206.4h0M311.2 283.8h0M247.4 331.9h0M209.2 459.1h0M232.3 259.7h0M288.1 242.5h0M324.8 349.1h0M338.4 246.0h0M437.9 204.7h0M484.6 306.1h0M552.5 223.6h0M406.7 289.0h0M211.2 464.3h0M364.0 356.0h0M297.7 350.8h0M201.2 270.0h0M247.4 388.7h0M198.1 352.6h0M344.9 397.2h0M110.2 318.2h0M346.9 309.6h0M285.1 230.5h0M82.0 246.0h0M220.3 301.0h0M557.0 294.1h0M364.5 306.1h0M109.7 306.1h0M363.5 182.4h0M423.3 527.9h0M146.9 330.2h0M280.6 289.0h0M191.1 218.5h0M346.9 409.3h0M482.6 285.5h0M203.2 240.8h0M149.9 352.6h0M149.9 479.8h0M380.6 345.7h0M111.7 417.9h0M339.4 259.7h0M476.6 388.7h0M453.0 161.7h0M407.2 302.7h0M84.1 383.5h0M294.1 357.7h0M205.2 409.3h0M333.8 282.1h0M157.4 187.5h0M147.4 333.6h0M547.5 235.7h0M510.3 395.5h0M127.8 289.0h0M485.1 117.1h0M110.2 435.1h0M250.4 209.9h0M568.1 213.3h0M542.4 476.3h0M311.2 438.5h0M422.3 399.0h0M271.0 232.2h0M495.2 352.6h0M239.4 330.2h0M187.1 254.6h0M152.9 304.4h0M388.6 295.8h0M354.0 342.2h0M520.3 218.5h0M154.4 381.8h0M474.1 170.3h0M543.9 344.0h0M443.4 383.5h0M136.8 259.7h0M157.9 276.9h0M121.8 484.9h0M247.9 295.8h0M449.4 431.6h0M153.4 386.9h0M302.7 247.7h0M100.1 388.7h0M411.2 285.5h0M128.3 347.4h0M468.5 149.7h0M380.1 323.3h0M179.0 416.2h0M226.3 385.2h0M242.9 368.0h0M346.9 282.1h0M252.4 294.1h0M309.2 213.3h0M297.2 280.4h0M358.0 283.8h0M172.0 266.6h0M191.6 304.4h0M250.4 270.0h0M385.6 228.8h0M314.8 228.8h0M221.3 338.8h0M354.0 440.2h0M367.0 361.1h0M309.2 270.0h0M304.2 498.7h0M350.9 333.6h0M397.2 256.3h0M333.3 340.5h0M356.5 386.9h0M321.3 149.7h0M301.2 180.7h0M269.0 314.7h0M339.9 185.8h0M306.2 187.5h0M309.7 386.9h0M380.6 309.6h0M354.0 371.5h0M376.6 316.5h0M229.3 385.2h0M358.0 287.2h0M288.6 402.4h0M275.5 295.8h0M273.0 204.7h0M397.2 276.9h0M374.1 316.5h0M281.1 166.9h0M255.4 368.0h0M325.3 215.0h0M296.7 319.9h0M424.3 276.9h0M236.3 292.4h0M213.7 283.8h0M308.7 299.3h0M324.8 359.4h0M332.3 342.2h0M369.5 258.0h0M449.4 304.4h0M303.7 390.4h0M291.6 354.3h0M218.3 352.6h0M338.9 299.3h0M375.6 280.4h0M308.7 287.2h0M395.7 349.1h0M326.3 294.1h0M415.8 409.3h0M344.4 533.0h0M260.5 301.0h0M286.1 431.6h0M231.8 374.9h0M219.8 395.5h0M340.4 244.3h0M376.6 395.5h0M442.4 273.5h0M320.8 337.1h0M310.2 399.0h0M257.5 426.5h0M383.6 258.0h0M347.9 264.9h0M288.6 233.9h0M366.0 146.3h0M358.0 275.2h0M211.7 273.5h0M369.0 307.9h0M332.3 289.0h0M300.7 326.8h0M299.2 371.5h0M429.8 132.5h0M416.8 450.5h0M434.4 276.9h0M254.9 261.4h0M284.6 285.5h0M379.1 376.6h0M251.4 314.7h0M281.1 335.4h0M215.2 386.9h0M435.9 302.7h0M388.6 331.9h0M351.9 344.0h0M337.4 242.5h0M299.2 386.9h0M300.2 263.2h0M361.5 349.1h0M281.6 263.2h0M398.2 294.1h0M294.6 278.6h0M271.5 380.1h0M402.7 362.9h0M315.8 369.7h0M358.0 285.5h0M299.2 237.4h0M188.6 209.9h0M357.5 340.5h0M242.9 292.4h0M389.6 433.3h0M230.8 483.2h0M211.7 371.5h0M342.9 354.3h0M349.9 428.2h0M330.8 447.1h0M250.9 256.3h0M378.1 366.3h0M235.8 438.5h0M296.2 108.5h0M276.6 285.5h0M301.7 326.8h0M375.6 244.3h0M286.1 362.9h0M358.5 170.3h0M366.0 428.2h0M221.3 407.6h0M253.9 313.0h0M301.2 364.6h0M288.6 185.8h0M342.9 433.3h0M207.7 361.1h0M367.5 282.1h0M369.0 254.6h0M314.2 218.5h0M240.9 273.5h0M324.8 120.5h0M292.1 340.5h0M358.5 287.2h0M319.3 230.5h0M368.0 328.5h0M298.2 326.8h0M411.2 340.5h0M185.1 354.3h0M263.0 395.5h0M354.0 347.4h0M233.3 429.9h0M368.5 271.8h0M250.9 433.3h0M329.8 132.5h0M269.0 163.5h0M297.7 211.6h0M334.9 319.9h0M317.8 350.8h0M301.2 201.3h0M454.0 287.2h0M324.8 256.3h0M266.0 362.9h0M380.1 215.0h0M373.6 368.0h0M398.2 294.1h0M431.9 445.4h0M267.5 357.7h0M388.1 261.4h0M393.2 340.5h0M324.3 340.5h0M338.9 239.1h0M143.4 309.6h0M289.6 201.3h0M432.4 502.1h0M216.7 256.3h0M292.1 261.4h0M341.9 429.9h0M359.0 409.3h0" stroke="#000" stroke-width="1.5" stroke-linecap="round" fill="none"/>
<clipPath id="c1"><rect x="59.76" y="47.81" width="532.43" height="532.43"/></clipPath>
<g clip-path="url(#c1)" fill="none" stroke-linecap="round" stroke-width="2.25" stroke-dasharray="9 9">
<path d="M280.83 580.24V42.81M367.77 580.24V42.81" stroke="#006400"/>
<path d="M60.06 355.99H597.19" stroke="#cd0000"/>
</g>
<rect x="59.76" y="47.81" width="532.43" height="532.43" fill="none" stroke="#000" stroke-width="0.75"/>
<path d="M123.26 580.24H525.34M123.26 580.24v6M223.78 580.24v6M324.3 580.24v6M424.82 580.24v6M525.34 580.24v6M59.76 496.95V67.2M59.76 496.95h-6M59.76 411h-6M59.76 325.05h-6M59.76 239.1h-6M59.76 153.15h-6M59.76 67.2h-6" fill="none" stroke="#000" stroke-width="0.85" stroke-linecap="round"/>
<g font-size="10" text-anchor="middle" fill="#000">
<text x="123.26" y="601.5">-400</text>
<text x="223.78" y="601.5">-200</text>
<text x="324.3" y="601.5">0</text>
<text x="424.82" y="601.5">200</text>
<text x="525.34" y="601.5">400</text>
<text transform="translate(45.3 496.95) rotate(-90)">75</text>
<text transform="translate(45.3 411) rotate(-90)">80</text>
<text transform="translate(45.3 325.05) rotate(-90)">85</text>
<text transform="translate(45.3 239.1) rotate(-90)">90</text>
<text transform="translate(45.3 153.15) rotate(-90)">95</text>
<text transform="translate(45.3 67.2) rotate(-90)">100</text>
</g>
<text x="323.38" y="31.9" font-size="21.5" font-weight="bold" text-anchor="middle">Top hit for each peak</text>
<text x="325.98" y="626" font-size="15.9" text-anchor="middle">Distance to peak summit</text>
<text transform="translate(21.9 314.52) rotate(-90)" font-size="15.9" text-anchor="middle">Motif score</text>
</g>
<g id="p2">
<clipPath id="c2"><rect x="699.76" y="47.81" width="532.43" height="532.43"/></clipPath>
<g clip-path="url(#c2)">
<rect x="699.76" y="47.81" width="532.43" height="532.43" fill="#fff"/>
<filter id="bl" x="-5%" y="-5%" width="110%" height="110%"><feGaussianBlur stdDeviation="1.2"/></filter>
<g filter="url(#bl)">
<path d="M914.4 47.8L918.8 47.8L922.8 47.8L926.8 47.8L930.8 47.8L934.8 47.8L938.8 47.8L942.8 47.8L946.8 47.8L950.8 47.8L954.8 47.8L958.8 47.8L962.8 47.8L966.8 47.8L970.8 47.8L974.8 47.8L978.8 47.8L982.8 47.8L986.8 47.8L990.8 47.8L994.8 47.8L998.8 47.8L1002.8 47.8L1006.8 47.8L1010.8 47.8L1014.8 47.8L1016.8 48.8L1017.9 50.8L1018.9 52.8L1019.9 54.8L1020.9 56.8L1021.9 58.8L1022.8 60.7L1023.7 62.8L1024.6 64.8L1025.5 66.8L1026.3 68.8L1027.2 70.8L1028.0 72.8L1028.8 74.8L1029.6 76.8L1030.3 78.8L1031.1 80.8L1031.8 82.8L1032.6 84.8L1033.3 86.8L1034.0 88.8L1034.7 90.8L1035.5 92.8L1036.3 94.8L1037.1 96.8L1038.1 98.8L1039.2 100.8L1040.8 102.6L1043.7 100.8L1045.0 98.8L1046.1 96.8L1047.3 94.8L1048.5 92.8L1049.9 90.8L1051.6 88.8L1054.0 86.8L1056.8 85.6L1060.8 86.0L1062.8 87.0L1064.8 88.2L1066.8 89.0L1069.9 86.8L1071.1 84.8L1071.9 82.8L1072.7 80.8L1073.3 78.8L1074.0 76.8L1074.6 74.8L1075.3 72.8L1075.9 70.8L1076.6 68.8L1077.3 66.8L1078.2 64.8L1079.1 62.8L1080.2 60.8L1081.9 58.8L1084.8 57.5L1086.8 58.5L1088.4 60.8L1089.4 62.8L1090.2 64.8L1090.8 66.8L1091.8 70.8L1092.4 74.8L1092.8 77.7L1093.1 80.8L1093.4 84.8L1093.6 88.8L1093.6 92.8L1093.7 96.8L1093.6 100.8L1093.6 104.8L1093.5 108.8L1093.5 112.8L1093.5 116.8L1093.7 120.8L1094.0 124.8L1094.8 128.6L1096.8 127.9L1098.8 125.8L1100.8 124.3L1104.8 124.6L1106.8 126.7L1108.0 128.8L1109.0 130.8L1109.9 132.8L1110.7 134.8L1111.4 136.8L1112.2 138.8L1112.9 140.8L1113.7 142.8L1114.4 144.8L1115.2 146.8L1116.0 148.8L1116.7 150.8L1117.5 152.8L1118.2 154.8L1118.9 156.8L1119.7 158.8L1120.3 160.8L1121.0 162.8L1121.9 164.8L1122.5 166.8L1124.8 167.4L1125.0 164.8L1125.5 160.8L1126.0 156.8L1126.7 152.8L1127.4 148.8L1128.3 144.8L1129.5 140.8L1130.3 138.8L1131.3 136.8L1132.6 134.8L1134.8 133.1L1138.8 132.8L1142.8 132.1L1144.2 130.8L1145.8 128.8L1147.1 126.8L1148.4 124.8L1149.8 122.8L1151.8 120.8L1154.8 119.7L1156.7 120.8L1158.2 122.8L1159.2 124.8L1160.0 126.8L1160.6 128.8L1161.6 132.8L1162.3 136.8L1162.8 140.6L1163.2 144.8L1163.5 148.8L1163.8 152.8L1164.1 156.8L1164.4 160.8L1164.8 164.2L1165.2 166.8L1165.9 170.8L1166.8 174.4L1167.5 176.8L1168.1 178.8L1168.7 180.8L1169.5 182.8L1170.4 184.8L1171.5 186.8L1172.8 188.8L1174.8 190.3L1176.8 189.6L1177.4 186.8L1177.7 182.8L1177.9 178.8L1177.9 174.8L1178.0 170.8L1178.1 166.8L1178.3 162.8L1178.5 158.8L1178.8 156.3L1179.0 152.8L1179.4 148.8L1180.0 144.8L1180.7 140.8L1181.4 136.8L1182.3 132.8L1183.2 128.8L1184.2 124.8L1184.8 122.6L1185.6 118.8L1186.3 114.8L1186.8 112.1L1187.2 108.8L1187.6 104.8L1188.0 100.8L1188.4 96.8L1188.8 94.4L1189.3 90.8L1190.0 86.8L1190.8 83.7L1191.7 80.8L1192.5 78.8L1193.7 76.8L1196.3 74.8L1198.8 75.5L1200.8 78.4L1201.7 80.8L1202.4 82.8L1203.4 86.8L1204.1 90.8L1204.6 94.8L1204.9 98.8L1205.2 102.8L1205.4 106.8L1205.6 110.8L1205.8 114.8L1206.2 118.8L1206.7 122.8L1207.9 126.8L1208.6 128.8L1210.8 130.4L1212.8 128.8L1214.5 126.8L1216.8 124.9L1219.5 124.8L1221.7 126.8L1222.8 128.5L1223.7 130.8L1224.3 132.8L1225.3 136.8L1225.9 140.8L1226.3 144.8L1226.6 148.8L1226.6 152.8L1226.6 156.8L1226.4 160.8L1226.1 164.8L1225.9 168.8L1225.6 172.8L1225.5 176.8L1225.7 180.8L1226.3 184.8L1227.2 188.8L1228.1 192.8L1228.8 195.9L1229.3 198.8L1229.9 202.8L1230.4 206.8L1230.7 210.8L1232.2 212.6L1232.2 216.8L1232.2 220.8L1232.2 224.4L1230.7 226.8L1230.5 230.8L1230.3 234.8L1230.1 238.8L1230.1 242.8L1230.1 246.8L1230.3 250.8L1230.8 254.6L1232.2 256.8L1232.2 260.8L1232.2 264.8L1232.2 268.8L1232.2 272.8L1232.2 276.8L1232.2 280.8L1232.2 284.8L1232.2 288.8L1232.2 292.8L1232.2 296.8L1232.2 300.8L1232.2 304.8L1232.2 308.8L1232.2 312.8L1232.2 316.8L1232.2 320.8L1232.2 324.8L1232.2 328.8L1232.2 332.8L1232.2 336.8L1232.2 340.8L1232.2 344.8L1232.2 348.8L1232.2 352.8L1232.2 356.8L1232.2 360.8L1232.2 364.8L1232.2 368.8L1232.2 372.8L1232.2 376.8L1232.2 380.8L1232.2 384.8L1232.2 388.8L1232.2 392.8L1232.2 396.8L1232.2 400.8L1232.2 404.8L1232.2 408.8L1232.2 412.8L1232.2 416.8L1232.2 420.8L1232.2 424.8L1232.2 428.8L1232.2 432.8L1232.2 436.8L1232.2 440.8L1232.2 444.8L1232.2 448.8L1232.2 452.8L1232.2 456.8L1232.2 460.8L1232.2 464.8L1232.2 468.0L1229.0 468.8L1226.8 468.1L1224.8 465.3L1223.7 462.8L1223.0 460.8L1222.0 456.8L1221.2 452.8L1220.8 450.1L1220.2 446.8L1219.7 442.8L1219.0 438.8L1218.1 434.8L1217.5 432.8L1216.8 430.8L1215.8 428.8L1214.8 426.8L1213.6 424.8L1212.5 422.8L1211.4 420.8L1210.4 418.8L1209.4 416.8L1208.4 414.8L1207.5 412.8L1206.7 410.8L1205.8 408.8L1205.0 406.8L1204.1 404.8L1203.2 402.8L1202.2 400.8L1201.1 398.8L1198.9 396.8L1195.2 398.8L1193.8 400.8L1192.5 402.8L1191.3 404.8L1190.3 406.8L1189.4 408.8L1188.6 410.8L1187.6 414.8L1187.2 418.8L1187.5 422.8L1188.5 426.8L1189.4 428.8L1190.5 430.8L1191.8 432.8L1193.1 434.8L1194.4 436.8L1195.6 438.8L1196.6 440.8L1197.6 442.8L1198.4 444.8L1199.2 446.8L1199.8 448.8L1200.8 452.1L1201.5 454.8L1202.3 458.8L1202.8 461.5L1203.4 464.8L1203.9 468.8L1204.2 472.8L1204.5 476.8L1204.6 480.8L1204.7 484.8L1204.6 488.8L1204.5 492.8L1204.2 496.8L1203.8 500.8L1203.2 504.8L1202.8 507.0L1202.0 510.8L1200.8 514.8L1200.1 516.8L1199.3 518.8L1198.2 520.8L1197.0 522.8L1195.3 524.8L1192.8 526.7L1190.8 527.6L1188.8 528.2L1186.8 529.1L1184.8 530.3L1182.8 532.2L1180.8 534.6L1179.0 536.8L1177.1 538.8L1174.8 540.5L1170.8 539.7L1168.8 537.3L1167.3 534.8L1166.3 532.8L1165.3 530.8L1164.2 528.8L1162.8 526.8L1160.8 526.0L1158.8 526.7L1156.8 527.5L1153.6 526.8L1151.7 524.8L1150.6 522.8L1149.8 520.8L1149.2 518.8L1148.2 514.8L1147.6 510.8L1147.2 506.8L1147.0 502.8L1147.0 498.8L1147.1 494.8L1147.5 490.8L1148.1 486.8L1148.8 484.0L1149.7 480.8L1150.5 478.8L1151.7 476.8L1154.1 474.8L1156.8 475.0L1158.7 476.8L1160.3 478.8L1162.4 480.8L1164.8 479.5L1165.5 476.8L1166.6 472.8L1167.2 468.8L1167.7 464.8L1168.1 460.8L1168.4 456.8L1168.6 452.8L1168.6 448.8L1168.5 444.8L1168.2 440.8L1167.9 436.8L1167.5 432.8L1167.1 428.8L1166.8 424.8L1166.5 420.8L1166.2 416.8L1166.0 412.8L1165.9 408.8L1165.7 404.8L1165.4 400.8L1165.0 396.8L1164.4 392.8L1163.6 388.8L1162.8 385.2L1161.9 382.8L1161.2 380.8L1160.2 378.8L1158.9 376.8L1156.8 375.6L1155.4 376.8L1154.3 378.8L1153.2 382.8L1152.4 386.8L1151.9 390.8L1151.3 394.8L1150.8 398.3L1150.5 400.8L1150.0 404.8L1149.4 408.8L1148.8 412.8L1148.2 416.8L1147.4 420.8L1146.8 424.0L1146.2 426.8L1145.3 430.8L1144.2 434.8L1143.1 438.8L1141.9 442.8L1140.8 446.8L1139.9 450.8L1139.1 454.8L1138.5 458.8L1138.2 462.8L1137.9 466.8L1137.5 470.8L1137.2 474.8L1136.8 478.1L1136.4 480.8L1135.7 484.8L1134.8 488.5L1134.0 490.8L1133.2 492.8L1132.0 494.8L1130.8 496.4L1128.8 497.2L1126.8 496.4L1125.5 494.8L1124.3 492.8L1123.4 490.8L1122.7 488.8L1121.7 484.8L1120.9 480.8L1120.2 476.8L1119.6 472.8L1119.2 468.8L1118.8 465.0L1118.3 460.8L1117.9 456.8L1117.5 452.8L1117.1 448.8L1116.8 444.8L1116.6 440.8L1116.3 436.8L1116.2 432.8L1116.1 428.8L1116.1 424.8L1116.2 420.8L1116.2 416.8L1116.0 412.8L1114.8 408.8L1112.8 409.6L1110.8 411.3L1108.9 412.8L1106.8 414.4L1104.8 415.9L1102.8 418.0L1101.3 420.8L1100.6 422.8L1099.6 426.8L1098.8 430.8L1098.2 434.8L1097.8 438.8L1097.5 442.8L1097.5 446.8L1097.7 450.8L1098.1 454.8L1098.6 458.8L1099.3 462.8L1099.8 466.8L1100.2 470.8L1100.5 474.8L1100.6 478.8L1100.6 482.8L1100.5 486.8L1100.2 490.8L1099.7 494.8L1099.1 498.8L1098.3 502.8L1097.5 506.8L1096.8 510.0L1096.2 512.8L1095.5 516.8L1094.8 520.6L1094.2 524.8L1093.7 528.8L1093.0 532.8L1092.3 536.8L1091.5 540.8L1090.8 543.5L1089.8 546.8L1089.0 548.8L1088.1 550.8L1087.0 552.8L1085.5 554.8L1082.8 556.6L1078.8 555.1L1077.1 552.8L1076.0 550.8L1075.2 548.8L1074.4 546.8L1073.8 544.8L1072.8 540.8L1072.0 536.8L1071.3 532.8L1070.8 528.8L1070.3 524.8L1069.9 520.8L1069.4 516.8L1068.9 512.8L1067.9 508.8L1067.2 506.8L1065.9 504.8L1062.8 503.7L1060.8 504.7L1058.8 506.3L1056.8 508.0L1054.8 509.1L1051.7 508.8L1049.4 506.8L1048.1 504.8L1047.0 502.8L1046.1 500.8L1045.3 498.8L1044.6 496.8L1043.5 494.8L1040.8 493.4L1039.3 496.8L1038.6 498.8L1037.3 502.8L1036.6 504.8L1036.0 506.8L1035.3 508.8L1034.6 510.8L1033.8 512.8L1032.8 514.8L1031.8 516.8L1030.8 518.5L1028.8 520.8L1026.8 522.2L1022.8 522.4L1020.8 521.8L1016.8 522.7L1015.8 524.8L1015.0 526.8L1014.1 530.8L1013.3 534.8L1012.8 537.3L1012.2 540.8L1011.4 544.8L1010.8 547.7L1010.1 550.8L1009.0 554.8L1008.4 556.8L1007.7 558.8L1006.8 560.8L1005.9 562.8L1004.8 564.8L1003.5 566.8L1001.7 568.8L999.5 570.8L997.0 572.8L994.9 574.8L992.9 576.8L990.8 578.8L988.8 580.2L984.8 580.2L982.8 577.3L981.4 574.8L980.5 572.8L979.8 570.8L979.2 568.8L978.1 564.8L977.3 560.8L976.8 557.7L976.2 554.8L975.6 550.8L974.9 546.8L974.0 542.8L972.8 538.8L971.3 536.8L968.8 535.2L966.0 534.8L962.8 534.7L958.8 535.2L956.8 536.4L954.8 538.3L952.8 540.8L951.4 542.8L949.7 544.8L947.7 546.8L944.8 548.6L940.8 547.9L938.8 546.1L936.8 543.4L935.3 540.8L934.2 538.8L933.3 536.8L932.3 534.8L931.3 532.8L930.2 530.8L929.0 528.8L927.7 526.8L926.4 524.8L925.0 522.8L923.7 520.8L922.5 518.8L921.5 516.8L920.5 514.8L919.6 512.8L918.8 510.8L917.9 508.8L917.1 506.8L916.3 504.8L915.4 502.8L914.6 500.8L913.5 498.8L912.2 496.8L910.8 495.3L908.5 494.8L904.8 495.9L900.8 495.9L898.8 495.0L896.8 493.3L894.8 491.1L892.9 488.8L891.3 486.8L889.6 484.8L887.6 482.8L885.5 480.8L883.3 478.8L880.8 477.1L877.1 478.8L876.0 480.8L875.3 482.8L874.6 484.8L873.8 488.8L873.2 492.8L872.8 496.5L872.4 500.8L872.1 504.8L871.8 508.8L871.4 512.8L870.9 516.8L870.4 520.8L869.7 524.8L868.9 528.8L868.0 532.8L866.8 536.8L866.1 538.8L865.3 540.8L864.2 542.8L863.0 544.8L860.8 546.8L858.0 546.8L855.8 544.8L854.5 542.8L853.6 540.8L852.9 538.8L851.8 534.8L851.1 530.8L850.8 528.3L850.3 524.8L850.0 520.8L849.8 516.8L849.8 512.8L849.9 508.8L850.0 504.8L850.3 500.8L850.6 496.8L850.9 492.8L851.1 488.8L851.1 484.8L850.8 480.8L849.5 476.8L848.4 474.8L847.0 472.8L845.3 470.8L843.4 468.8L840.8 466.8L836.8 466.8L834.8 467.8L833.0 468.8L830.8 470.3L828.8 471.6L827.2 472.8L825.2 474.8L823.8 476.8L822.9 478.8L822.1 482.8L821.9 486.8L822.1 490.8L822.6 494.8L823.7 498.8L824.5 500.8L826.3 502.8L828.8 504.5L830.8 506.5L832.1 508.8L833.1 510.8L833.8 512.8L834.4 514.8L835.3 518.8L835.9 522.8L836.3 526.8L836.5 530.8L836.5 534.8L836.3 538.8L835.9 542.8L835.3 546.8L834.8 549.2L833.7 552.8L832.9 554.8L831.6 556.8L829.0 558.8L826.8 558.1L824.8 555.4L823.6 552.8L822.9 550.8L822.2 548.8L821.2 544.8L820.2 540.8L819.2 536.8L818.5 534.8L817.6 532.8L815.8 530.8L812.8 529.3L810.8 528.2L808.8 527.0L806.8 526.3L804.8 527.7L803.5 530.8L802.8 532.7L802.2 534.8L801.1 538.8L800.0 542.8L799.3 544.8L798.6 546.8L797.7 548.8L796.8 550.6L794.9 552.8L792.8 553.7L790.8 552.8L789.3 550.8L788.2 548.8L787.4 546.8L786.8 544.8L785.8 540.8L785.1 536.8L784.8 534.2L784.4 530.8L784.1 526.8L783.9 522.8L783.8 518.8L783.8 514.8L783.8 510.8L783.9 506.8L783.9 502.8L784.0 498.8L784.1 494.8L784.2 490.8L784.2 486.8L784.3 482.8L784.3 478.8L784.4 474.8L784.4 470.8L784.4 466.8L784.4 462.8L784.4 458.8L784.4 454.8L784.3 450.8L784.1 446.8L783.4 442.8L780.8 443.5L779.0 446.8L778.0 448.8L776.9 450.8L776.0 452.8L775.1 454.8L774.3 456.8L773.7 458.8L773.1 460.8L772.1 464.8L771.3 468.8L770.8 471.0L770.0 474.8L768.9 478.8L767.8 482.8L767.1 484.8L766.4 486.8L765.5 488.8L764.6 490.8L763.6 492.8L762.5 494.8L761.3 496.8L759.9 498.8L758.8 500.4L756.9 502.8L755.4 504.8L753.8 506.8L752.3 508.8L751.1 510.8L750.2 512.8L749.4 514.8L748.6 516.8L747.7 520.8L746.8 524.7L746.0 528.8L745.1 532.8L744.2 536.8L743.0 540.8L742.3 542.8L741.5 544.8L740.6 546.8L739.5 548.8L738.1 550.8L736.8 552.3L734.8 553.5L730.8 553.0L728.8 551.3L727.1 548.8L726.0 546.8L725.1 544.8L724.4 542.8L723.8 540.8L722.8 536.8L721.9 532.8L721.2 528.8L720.8 524.8L720.3 520.8L720.0 516.8L719.8 512.8L719.7 508.8L719.7 504.8L719.8 500.8L719.9 496.8L720.0 492.8L720.0 488.8L719.9 484.8L719.5 480.8L719.0 476.8L718.0 472.8L717.3 470.8L714.8 471.6L714.5 474.8L714.4 478.8L714.5 482.8L714.5 486.8L714.5 490.8L714.5 494.8L714.4 498.8L714.1 502.8L713.7 506.8L713.1 510.8L712.3 514.8L711.5 518.8L710.8 521.2L709.7 524.8L708.9 526.8L708.0 528.8L707.0 530.8L705.6 532.8L703.2 534.8L700.8 535.1L699.8 532.8L699.8 528.8L699.8 524.8L699.8 520.8L699.8 516.8L699.8 512.8L699.8 508.8L699.8 504.8L699.8 500.8L699.8 496.8L699.8 492.8L699.8 488.8L699.8 484.8L699.8 480.8L699.8 476.8L699.8 472.8L699.8 468.8L699.8 464.8L699.8 460.8L699.8 456.8L699.8 452.8L699.8 448.8L699.8 444.8L699.8 440.8L699.8 436.8L699.8 432.8L699.8 428.8L699.8 424.8L700.8 422.8L701.1 418.8L701.4 414.8L701.7 410.8L701.9 406.8L701.8 402.8L701.4 398.8L700.8 395.9L699.8 392.8L699.8 388.8L699.8 384.8L699.8 380.8L699.8 376.8L699.8 372.8L699.8 368.8L699.8 364.8L699.8 360.8L699.8 356.8L699.8 352.8L699.8 348.8L699.8 344.8L699.8 340.8L699.8 336.8L699.8 332.8L699.8 328.8L699.8 324.8L699.8 320.8L699.8 316.8L699.8 312.8L699.8 308.8L699.8 304.8L699.8 300.8L699.8 296.8L699.8 292.8L699.8 288.8L699.8 284.8L699.8 280.8L699.8 276.8L699.8 272.8L699.8 268.8L699.8 264.8L699.8 260.8L699.8 256.8L699.8 252.8L699.8 249.5L702.8 247.3L704.8 244.8L705.9 242.8L706.9 240.8L707.5 238.8L708.6 234.8L709.2 230.8L709.6 226.8L709.8 222.8L710.0 218.8L710.0 214.8L709.7 210.8L709.0 206.8L708.3 204.8L707.1 202.8L705.7 200.8L704.3 198.8L703.2 196.8L702.3 194.8L701.6 192.8L700.8 189.8L699.8 186.8L699.8 182.8L699.8 178.8L699.8 174.8L699.8 170.8L699.8 166.8L699.8 162.8L699.8 158.8L699.8 154.8L699.8 150.8L699.8 146.8L699.8 142.8L699.8 138.8L699.8 134.8L699.8 130.8L699.8 126.8L699.8 122.8L699.8 119.9L701.1 116.8L701.6 112.8L702.4 108.8L703.5 104.8L704.2 102.8L705.1 100.8L706.1 98.8L707.5 96.8L708.8 95.3L710.8 93.4L712.8 91.2L714.4 88.8L715.7 86.8L716.8 85.2L718.5 82.8L720.6 80.8L722.8 80.3L724.8 81.4L726.8 84.3L727.7 86.8L728.4 88.8L729.3 92.8L730.0 96.8L730.4 100.8L730.7 104.8L730.9 108.8L731.0 112.8L731.0 116.8L731.0 120.8L731.2 124.8L731.7 128.8L732.4 130.8L734.8 132.6L738.8 133.4L740.5 134.8L741.9 136.8L743.0 138.8L743.8 140.8L744.4 142.8L745.4 146.8L746.1 150.8L746.6 154.8L746.8 157.8L746.9 160.8L746.9 164.8L746.6 168.8L746.1 172.8L745.3 176.8L744.8 178.9L743.5 182.8L742.8 184.7L741.8 186.8L740.8 188.8L739.8 190.8L739.0 192.8L738.1 196.8L737.9 200.8L738.2 204.8L738.6 208.8L739.2 212.8L740.0 216.8L740.8 220.8L741.9 224.8L742.6 226.8L743.4 228.8L744.3 230.8L745.2 232.8L746.2 234.8L747.3 236.8L748.4 238.8L749.8 240.8L752.8 242.8L754.0 240.8L754.9 238.8L755.9 234.8L756.8 231.0L757.3 226.8L757.7 222.8L757.9 218.8L757.9 214.8L757.7 210.8L757.3 206.8L756.8 202.8L756.2 198.8L755.6 194.8L755.1 190.8L754.8 186.8L754.5 182.8L754.4 178.8L754.5 174.8L754.8 171.4L755.0 168.8L755.7 164.8L756.8 160.8L757.4 158.8L758.3 156.8L759.4 154.8L760.8 153.1L762.8 152.2L764.8 152.8L766.6 154.8L767.8 156.8L768.7 158.8L769.5 160.8L770.2 162.8L770.9 164.8L771.5 166.8L772.7 170.8L773.3 172.8L773.9 174.8L774.8 177.8L775.9 180.8L776.7 182.8L778.1 184.8L780.8 185.3L782.5 182.8L783.6 180.8L784.6 178.8L785.4 176.8L786.3 174.8L787.0 172.8L787.6 170.8L788.2 166.8L787.6 162.8L786.8 160.8L786.0 158.8L785.3 156.8L784.5 154.8L783.9 152.8L782.8 148.8L781.9 144.8L781.3 140.8L780.9 136.8L780.6 132.8L780.5 128.8L780.6 124.8L780.8 122.0L781.0 118.8L781.4 114.8L782.1 110.8L782.8 107.8L783.5 104.8L784.1 102.8L784.9 100.8L785.7 98.8L786.7 96.8L787.9 94.8L789.5 92.8L791.9 90.8L794.8 90.0L796.8 90.7L798.8 92.5L800.2 94.8L801.2 96.8L801.9 98.8L802.5 100.8L803.5 104.8L804.3 108.8L804.8 112.8L805.2 116.8L805.5 120.8L805.8 124.8L806.1 128.8L806.4 132.8L807.3 136.8L808.2 138.8L810.0 140.8L812.3 142.8L814.0 144.8L815.4 146.8L816.6 148.8L817.7 150.8L818.8 152.8L820.2 154.8L822.8 156.7L824.8 155.9L826.8 153.9L828.8 151.7L830.8 149.7L832.8 148.0L834.3 146.8L836.8 144.8L838.8 142.8L840.6 140.8L842.3 138.8L843.9 136.8L845.5 134.8L846.8 132.8L847.6 130.8L848.3 128.8L849.2 124.8L849.8 120.8L850.2 116.8L850.6 112.8L850.9 108.8L851.2 104.8L851.5 100.8L851.9 96.8L852.4 92.8L853.1 88.8L853.9 84.8L854.8 81.8L855.9 78.8L856.8 76.8L858.2 74.8L860.8 73.2L863.8 74.8L865.3 76.8L866.3 78.8L867.2 80.8L867.9 82.8L868.5 84.8L869.6 88.8L870.4 92.8L871.2 96.8L872.0 100.8L872.6 104.8L873.2 108.8L873.9 112.8L874.4 116.8L874.8 120.5L875.1 122.8L875.7 126.8L876.1 130.8L876.5 134.8L876.8 138.2L877.3 140.8L878.3 144.8L880.8 146.0L882.2 142.8L883.0 140.8L884.0 136.8L884.8 134.2L885.5 130.8L886.4 126.8L887.3 122.8L888.3 118.8L889.2 114.8L890.3 110.8L891.3 106.8L892.5 102.8L893.7 98.8L894.3 96.8L895.0 94.8L895.6 92.8L896.3 90.8L897.0 88.8L897.7 86.8L898.5 84.8L899.2 82.8L900.0 80.8L900.8 78.8L901.5 76.8L902.3 74.8L903.2 72.8L904.0 70.8L904.8 68.8L905.7 66.8L906.6 64.8L907.5 62.8L908.4 60.8L909.3 58.8L910.3 56.8L911.3 54.8L912.3 52.8L913.3 50.8L914.4 48.8ZM1096.8 184.1L1095.6 186.8L1094.9 190.8L1095.2 194.8L1096.0 196.8L1097.6 198.8L1100.8 199.2L1101.2 196.8L1101.0 192.8L1099.9 188.8L1099.2 186.8L1097.6 184.8ZM1186.8 215.5L1185.3 218.8L1184.8 222.1L1184.7 224.8L1184.6 228.8L1184.6 232.8L1184.6 236.8L1184.6 240.8L1184.8 244.8L1186.8 246.6L1187.7 244.8L1189.0 242.8L1189.7 240.8L1190.5 238.8L1191.4 234.8L1191.8 230.8L1192.0 226.8L1191.7 222.8L1190.8 218.8L1189.5 216.8L1186.8 215.5ZM1210.8 182.7L1210.2 184.8L1209.7 188.8L1210.1 192.8L1210.8 195.0L1212.8 194.3L1213.5 190.8L1213.6 186.8L1212.8 182.9ZM756.8 395.5L756.2 398.8L756.1 402.8L756.4 406.8L758.8 406.5L758.9 402.8L758.8 398.8L757.9 396.8ZM1106.1 538.8L1108.8 539.6L1110.8 542.5L1111.7 544.8L1112.3 546.8L1113.3 550.8L1113.9 554.8L1114.3 558.8L1114.4 562.8L1114.4 566.8L1114.3 570.8L1113.9 574.8L1113.3 578.8L1110.8 580.2L1106.8 580.2L1102.8 580.2L1100.2 578.8L1099.6 574.8L1099.2 570.8L1099.0 566.8L1098.9 562.8L1099.1 558.8L1099.4 554.8L1100.0 550.8L1100.8 547.3L1101.5 544.8L1102.3 542.8L1103.5 540.8L1104.8 539.3Z" fill="#fdfdff" fill-rule="evenodd"/>
<path d="M928.2 47.8L932.8 47.8L936.8 47.8L940.8 47.8L944.8 47.8L948.8 47.8L952.8 47.8L956.8 47.8L960.8 47.8L964.8 47.8L968.8 47.8L972.8 47.8L976.8 47.8L980.8 47.8L984.8 47.8L988.8 47.8L992.8 47.8L996.8 47.8L1000.6 47.8L1002.2 50.8L1003.7 52.8L1004.8 54.3L1006.5 56.8L1007.8 58.8L1009.0 60.8L1010.3 62.8L1011.4 64.8L1012.6 66.8L1013.7 68.8L1014.8 70.8L1015.8 72.8L1016.8 74.7L1017.8 76.8L1018.7 78.8L1019.7 80.8L1020.5 82.8L1021.4 84.8L1022.3 86.8L1023.1 88.8L1024.0 90.8L1024.8 92.8L1025.6 94.8L1026.4 96.8L1027.3 98.8L1028.1 100.8L1028.9 102.8L1029.8 104.8L1030.7 106.8L1031.6 108.8L1032.4 110.8L1033.3 112.8L1034.2 114.8L1035.1 116.8L1036.0 118.8L1036.9 120.8L1037.9 122.8L1038.8 124.8L1040.1 126.8L1042.1 128.8L1043.8 126.8L1044.6 124.8L1045.4 120.8L1046.2 116.8L1047.2 112.8L1048.3 108.8L1049.0 106.8L1049.7 104.8L1050.6 102.8L1051.7 100.8L1052.8 99.2L1054.8 97.1L1056.8 96.0L1060.8 96.5L1062.8 97.9L1064.8 99.9L1066.8 101.8L1068.8 102.5L1070.4 100.8L1071.4 98.8L1072.3 96.8L1073.0 94.8L1073.7 92.8L1074.3 90.8L1075.0 88.8L1075.7 86.8L1076.3 84.8L1077.0 82.8L1077.8 80.8L1078.5 78.8L1079.4 76.8L1080.4 74.8L1082.0 72.8L1084.8 71.7L1086.8 74.1L1087.7 76.8L1088.8 80.8L1089.3 84.8L1089.7 88.8L1089.9 92.8L1090.0 96.8L1090.0 100.8L1090.0 104.8L1089.9 108.8L1089.7 112.8L1089.6 116.8L1089.3 120.8L1089.0 124.8L1088.8 128.1L1088.6 130.8L1088.3 134.8L1088.0 138.8L1087.8 142.8L1087.7 146.8L1087.9 150.8L1088.2 154.8L1088.6 158.8L1089.0 162.8L1089.4 166.8L1089.5 170.8L1089.5 174.8L1089.3 178.8L1088.9 182.8L1088.3 186.8L1087.6 190.8L1086.8 193.9L1085.9 196.8L1085.1 198.8L1084.3 200.8L1083.4 202.8L1082.3 204.8L1081.1 206.8L1079.9 208.8L1078.8 210.5L1077.1 212.8L1075.3 214.8L1072.9 216.8L1070.8 218.2L1068.8 219.3L1067.2 220.8L1066.0 222.8L1065.2 224.8L1064.3 228.8L1064.0 232.8L1064.0 236.8L1064.4 240.8L1065.8 244.8L1067.9 246.8L1070.8 247.1L1074.8 246.1L1078.4 244.8L1080.8 243.0L1082.3 240.8L1083.2 238.8L1084.0 236.8L1084.8 234.8L1085.8 230.8L1086.8 227.5L1087.5 224.8L1088.7 220.8L1089.5 218.8L1090.4 216.8L1091.8 214.8L1094.8 213.0L1098.7 214.8L1100.4 216.8L1101.9 218.8L1103.2 220.8L1104.6 222.8L1106.8 221.9L1107.4 218.8L1108.0 214.8L1108.5 210.8L1108.8 206.8L1108.9 202.8L1108.8 198.8L1108.5 194.8L1108.0 190.8L1107.4 186.8L1106.8 183.9L1106.0 180.8L1104.9 176.8L1104.3 174.8L1103.6 172.8L1102.9 170.8L1102.2 168.8L1101.6 166.8L1101.0 164.8L1100.1 160.8L1099.6 156.8L1099.5 152.8L1099.8 148.8L1100.6 144.8L1101.6 142.8L1102.8 141.2L1105.6 142.8L1106.8 144.6L1107.7 146.8L1108.5 148.8L1109.3 150.8L1110.0 152.8L1110.8 154.7L1111.5 156.8L1112.3 158.8L1113.0 160.8L1113.7 162.8L1114.4 164.8L1115.0 166.8L1116.0 170.8L1116.8 174.2L1117.2 176.8L1118.0 180.8L1118.8 184.4L1119.4 186.8L1120.0 188.8L1120.8 190.7L1121.8 192.8L1122.8 194.7L1124.2 196.8L1125.8 198.8L1127.8 200.8L1130.2 202.8L1132.8 204.1L1135.9 202.8L1137.3 200.8L1138.0 198.8L1138.8 195.6L1138.9 192.8L1138.5 188.8L1137.4 184.8L1136.6 182.8L1135.7 180.8L1134.9 178.8L1134.2 176.8L1133.5 174.8L1132.8 171.7L1132.3 168.8L1132.0 164.8L1132.0 160.8L1132.3 156.8L1132.8 154.2L1134.1 150.8L1135.6 148.8L1138.8 147.8L1142.8 147.2L1144.8 145.5L1146.8 142.8L1148.0 140.8L1149.3 138.8L1150.7 136.8L1152.8 135.0L1156.0 136.8L1157.0 138.8L1158.0 142.8L1158.6 146.8L1159.0 150.8L1159.2 154.8L1159.3 158.8L1159.4 162.8L1159.6 166.8L1159.9 170.8L1160.5 174.8L1161.4 178.8L1162.7 182.8L1163.4 184.8L1164.1 186.8L1164.9 188.8L1165.7 190.8L1166.5 192.8L1167.4 194.8L1168.4 196.8L1169.6 198.8L1170.8 200.5L1172.7 202.8L1174.2 204.8L1175.6 206.8L1176.6 208.8L1177.5 210.8L1178.1 212.8L1178.8 215.5L1179.4 218.8L1179.8 222.8L1180.0 226.8L1180.1 230.8L1180.0 234.8L1179.8 238.8L1179.5 242.8L1178.9 246.8L1178.4 250.8L1177.9 254.8L1177.5 258.8L1177.3 262.8L1177.3 266.8L1177.7 270.8L1178.4 274.8L1179.9 278.8L1180.8 280.6L1182.8 281.4L1184.3 278.8L1185.0 276.8L1186.0 272.8L1186.8 269.5L1187.3 266.8L1188.4 262.8L1189.0 260.8L1189.7 258.8L1190.5 256.8L1191.3 254.8L1192.1 252.8L1193.0 250.8L1193.7 248.8L1194.5 246.8L1195.1 244.8L1196.0 240.8L1196.7 236.8L1197.2 232.8L1197.6 228.8L1197.9 224.8L1198.2 220.8L1198.5 216.8L1198.8 214.1L1199.3 210.8L1200.8 206.9L1202.8 207.8L1204.8 209.9L1206.8 212.5L1208.5 214.8L1210.7 216.8L1213.4 216.8L1215.4 214.8L1216.6 212.8L1217.5 210.8L1218.3 208.8L1219.3 206.8L1220.4 204.8L1222.8 203.8L1224.5 206.8L1225.1 208.8L1225.7 212.8L1226.1 216.8L1226.3 220.8L1226.3 224.8L1226.2 228.8L1226.1 232.8L1226.0 236.8L1226.0 240.8L1226.0 244.8L1226.2 248.8L1226.5 252.8L1226.8 255.2L1227.3 258.8L1228.2 262.8L1229.5 266.8L1230.4 268.8L1232.2 269.7L1232.2 272.8L1232.2 276.8L1232.2 280.8L1232.2 284.8L1232.2 288.8L1232.2 292.8L1232.2 296.8L1232.2 300.8L1232.2 304.8L1232.2 308.8L1232.2 312.8L1232.2 316.8L1232.2 320.8L1232.2 324.8L1232.2 328.8L1232.2 332.8L1232.2 336.8L1232.2 340.8L1232.2 344.8L1232.2 348.8L1232.2 352.8L1232.2 356.8L1232.2 360.8L1232.2 364.8L1232.2 368.8L1232.2 372.8L1232.2 376.8L1232.2 380.8L1232.2 384.8L1230.4 386.8L1229.3 390.8L1228.8 393.0L1227.9 396.8L1227.1 400.8L1226.4 404.8L1225.6 408.8L1224.9 412.8L1223.6 416.8L1220.8 418.7L1218.8 418.1L1216.9 416.8L1214.8 414.8L1213.3 412.8L1212.0 410.8L1210.8 408.8L1209.8 406.8L1208.8 404.8L1207.9 402.8L1207.1 400.8L1206.3 398.8L1205.5 396.8L1204.8 394.8L1203.9 392.8L1203.1 390.8L1202.2 388.8L1201.1 386.8L1198.8 385.0L1196.8 386.1L1194.8 388.6L1193.5 390.8L1192.3 392.8L1191.1 394.8L1189.9 396.8L1188.8 398.6L1187.4 400.8L1186.2 402.8L1185.0 404.8L1184.1 406.8L1183.2 408.8L1182.6 410.8L1181.7 414.8L1181.3 418.8L1181.3 422.8L1181.8 426.8L1182.8 430.5L1183.7 432.8L1184.8 434.7L1186.2 436.8L1187.9 438.8L1189.7 440.8L1191.4 442.8L1192.8 444.6L1194.2 446.8L1195.3 448.8L1196.2 450.8L1197.0 452.8L1197.7 454.8L1198.3 456.8L1199.4 460.8L1200.2 464.8L1200.8 468.6L1201.3 472.8L1201.6 476.8L1201.8 480.8L1201.9 484.8L1201.8 488.8L1201.5 492.8L1201.1 496.8L1200.5 500.8L1199.6 504.8L1198.8 507.9L1197.6 510.8L1196.8 512.7L1195.4 514.8L1193.5 516.8L1190.8 518.5L1188.8 519.2L1186.8 519.8L1184.8 520.6L1182.8 521.8L1180.8 523.4L1179.2 524.8L1176.8 526.8L1174.8 527.6L1172.5 526.8L1170.9 524.8L1169.9 522.8L1169.2 520.8L1168.2 516.8L1167.5 512.8L1167.2 508.8L1167.1 504.8L1167.2 500.8L1167.5 496.8L1167.9 492.8L1168.4 488.8L1168.9 484.8L1169.4 480.8L1169.8 476.8L1170.3 472.8L1170.8 468.9L1171.2 464.8L1171.6 460.8L1171.9 456.8L1172.3 452.8L1172.6 448.8L1172.8 445.8L1172.8 442.8L1172.8 438.8L1172.6 434.8L1172.2 430.8L1171.8 426.8L1171.3 422.8L1170.9 418.8L1170.5 414.8L1170.2 410.8L1169.9 406.8L1169.5 402.8L1168.9 398.8L1168.3 394.8L1167.5 390.8L1166.8 387.2L1166.1 384.8L1165.1 380.8L1163.9 376.8L1163.2 374.8L1162.4 372.8L1161.4 370.8L1160.4 368.8L1159.0 366.8L1156.8 364.8L1153.3 366.8L1152.5 368.8L1151.5 372.8L1150.8 376.3L1150.4 378.8L1149.9 382.8L1149.3 386.8L1148.8 390.8L1148.3 394.8L1147.8 398.8L1147.2 402.8L1146.8 405.5L1146.2 408.8L1145.5 412.8L1144.8 416.6L1144.3 418.8L1143.3 422.8L1142.8 424.9L1141.6 428.8L1140.9 430.8L1140.2 432.8L1139.5 434.8L1138.8 436.8L1138.0 438.8L1137.3 440.8L1136.7 442.8L1135.6 446.8L1134.8 450.8L1134.2 454.8L1133.7 458.8L1133.4 462.8L1133.0 466.8L1132.5 470.8L1131.6 474.8L1130.8 477.8L1128.8 480.1L1126.8 478.8L1126.0 476.8L1125.3 474.8L1124.3 470.8L1123.6 466.8L1123.0 462.8L1122.5 458.8L1122.1 454.8L1121.6 450.8L1121.2 446.8L1120.9 442.8L1120.6 438.8L1120.5 434.8L1120.5 430.8L1120.7 426.8L1121.0 422.8L1121.4 418.8L1121.9 414.8L1122.4 410.8L1122.8 407.8L1123.0 404.8L1123.1 400.8L1122.9 396.8L1122.2 392.8L1121.0 388.8L1119.1 386.8L1116.8 388.0L1115.2 390.8L1114.3 392.8L1113.3 394.8L1112.3 396.8L1111.3 398.8L1110.0 400.8L1108.8 402.5L1106.8 404.5L1104.8 405.9L1103.1 406.8L1100.8 408.7L1099.4 410.8L1098.5 412.8L1097.4 416.8L1096.8 419.7L1096.2 422.8L1095.5 426.8L1094.8 430.8L1094.2 434.8L1093.6 438.8L1093.0 442.8L1092.8 445.9L1092.6 448.8L1092.7 452.8L1093.0 456.8L1093.6 460.8L1094.3 464.8L1094.8 467.4L1095.3 470.8L1095.7 474.8L1095.9 478.8L1095.9 482.8L1095.7 486.8L1095.2 490.8L1094.8 493.9L1094.2 496.8L1093.5 500.8L1092.8 504.6L1092.2 508.8L1091.7 512.8L1091.2 516.8L1090.8 520.5L1090.3 524.8L1089.7 528.8L1089.0 532.8L1088.0 536.8L1087.4 538.8L1086.6 540.8L1085.6 542.8L1084.0 544.8L1080.8 545.6L1078.8 543.7L1077.3 540.8L1076.5 538.8L1075.9 536.8L1074.9 532.8L1074.2 528.8L1073.7 524.8L1073.3 520.8L1073.0 516.8L1072.8 513.7L1072.5 510.8L1072.1 506.8L1071.5 502.8L1070.8 499.6L1069.6 496.8L1068.5 494.8L1066.8 493.2L1064.8 492.4L1061.3 492.8L1058.8 494.1L1056.8 495.3L1054.8 496.0L1052.1 494.8L1050.8 493.2L1049.7 490.8L1049.0 488.8L1048.0 484.8L1047.3 480.8L1046.8 476.8L1046.4 472.8L1046.1 468.8L1045.9 464.8L1045.6 460.8L1045.4 456.8L1044.9 452.8L1044.1 454.8L1043.3 456.8L1042.6 458.8L1041.8 462.8L1040.8 466.3L1040.3 468.8L1039.5 472.8L1038.8 475.7L1038.2 478.8L1037.5 482.8L1036.8 486.0L1036.2 488.8L1035.4 492.8L1034.8 495.2L1033.8 498.8L1033.1 500.8L1032.4 502.8L1031.6 504.8L1030.6 506.8L1029.2 508.8L1027.0 510.8L1024.8 511.4L1022.8 510.7L1020.8 509.2L1018.8 507.4L1016.8 506.3L1014.8 507.5L1013.5 510.8L1012.9 512.8L1012.2 516.8L1011.5 520.8L1010.9 524.8L1010.3 528.8L1009.8 532.8L1009.1 536.8L1008.4 540.8L1007.5 544.8L1006.8 547.4L1005.6 550.8L1004.8 552.8L1003.8 554.8L1002.8 556.6L1000.8 558.8L998.8 560.3L996.8 561.3L994.8 562.3L992.8 563.6L990.9 564.8L988.8 565.9L985.9 564.8L984.4 562.8L983.6 560.8L982.9 558.8L982.1 554.8L981.5 550.8L981.2 546.8L981.1 542.8L981.1 538.8L981.2 534.8L981.3 530.8L981.3 526.8L981.2 522.8L980.8 519.4L979.8 516.8L978.1 514.8L974.8 513.8L970.8 514.3L968.1 514.8L964.8 515.1L960.8 515.0L956.8 515.8L954.8 517.5L952.8 520.8L951.9 522.8L950.9 524.8L950.0 526.8L949.0 528.8L947.9 530.8L946.8 532.4L944.8 534.2L940.8 533.5L938.8 531.1L937.5 528.8L936.6 526.8L935.7 524.8L934.8 522.8L933.9 520.8L932.9 518.8L931.7 516.8L930.4 514.8L928.8 512.8L927.3 510.8L925.8 508.8L924.8 507.1L923.6 504.8L922.6 502.8L921.8 500.8L921.0 498.8L920.2 496.8L919.5 494.8L918.8 492.8L918.0 490.8L917.3 488.8L916.5 486.8L915.6 484.8L914.8 482.8L913.7 480.8L912.8 479.1L910.8 477.0L906.8 478.6L904.8 480.6L902.8 482.0L898.8 482.0L896.9 480.8L894.8 478.9L892.8 476.9L890.8 474.9L888.8 473.0L886.8 471.0L884.8 468.8L883.1 466.8L881.4 464.8L878.9 462.8L876.8 463.6L874.8 466.8L874.0 468.8L873.1 470.8L872.3 472.8L871.6 474.8L871.0 476.8L870.0 480.8L869.4 484.8L869.0 488.8L868.8 492.8L868.7 496.8L868.5 500.8L868.3 504.8L868.0 508.8L867.6 512.8L867.0 516.8L866.3 520.8L865.4 524.8L864.8 526.9L864.0 528.8L863.1 530.8L861.6 532.8L858.8 533.9L856.8 531.7L855.7 528.8L854.8 525.5L854.3 522.8L853.8 518.8L853.6 514.8L853.6 510.8L853.7 506.8L853.9 502.8L854.3 498.8L854.8 495.2L855.1 492.8L855.7 488.8L856.3 484.8L856.8 481.6L857.1 478.8L857.2 474.8L856.8 471.4L855.7 468.8L853.8 466.8L850.8 465.2L848.8 463.9L846.8 462.0L844.8 459.7L842.8 457.2L840.8 455.1L838.8 454.1L836.3 454.8L833.7 456.8L831.3 458.8L828.9 460.8L826.8 462.4L824.8 463.8L823.1 464.8L820.8 466.3L818.8 467.4L816.8 468.4L814.5 468.8L810.9 466.8L808.8 465.9L806.8 468.3L806.2 470.8L805.5 474.8L805.0 478.8L804.8 481.3L804.6 484.8L804.5 488.8L804.3 492.8L803.9 496.8L803.2 500.8L802.5 504.8L801.8 508.8L801.1 512.8L800.4 516.8L799.7 520.8L798.9 524.8L798.0 528.8L796.9 532.8L796.0 534.8L795.0 536.8L792.8 538.2L791.3 536.8L790.2 534.8L789.6 532.8L788.8 529.4L788.4 526.8L788.0 522.8L787.8 518.8L787.6 514.8L787.6 510.8L787.6 506.8L787.6 502.8L787.7 498.8L787.7 494.8L787.7 490.8L787.8 486.8L787.8 482.8L787.8 478.8L787.8 474.8L787.8 470.8L787.9 466.8L788.0 462.8L788.1 458.8L788.2 454.8L788.4 450.8L788.7 446.8L788.9 442.8L789.1 438.8L789.2 434.8L789.1 430.8L788.8 426.8L788.1 422.8L787.0 418.8L786.1 416.8L785.0 414.8L782.8 415.9L782.1 418.8L781.1 422.8L780.2 426.8L779.1 430.8L778.5 432.8L777.8 434.8L777.0 436.8L776.0 438.8L775.0 440.8L773.8 442.8L772.8 444.7L771.6 446.8L770.8 448.8L770.1 450.8L769.2 454.8L768.8 457.1L768.2 460.8L767.5 464.8L766.8 468.8L765.9 472.8L764.8 476.8L764.1 478.8L763.4 480.8L762.6 482.8L761.7 484.8L760.8 486.6L759.5 488.8L758.3 490.8L756.9 492.8L755.4 494.8L753.8 496.8L752.1 498.8L750.8 500.4L749.0 502.8L747.9 504.8L747.0 506.8L746.4 508.8L745.4 512.8L744.8 516.0L744.3 518.8L743.6 522.8L742.8 526.8L741.9 530.8L740.8 534.7L740.0 536.8L739.1 538.8L738.0 540.8L736.8 542.6L734.8 544.2L730.8 543.5L728.8 541.1L727.6 538.8L726.8 536.9L726.0 534.8L725.0 530.8L724.2 526.8L723.7 522.8L723.4 518.8L723.2 514.8L723.1 510.8L723.1 506.8L723.3 502.8L723.4 498.8L723.6 494.8L723.8 490.8L723.8 486.8L723.7 482.8L723.3 478.8L722.9 474.8L722.2 470.8L721.5 466.8L720.8 462.8L719.8 458.8L718.8 454.8L718.0 452.8L717.1 450.8L714.8 448.8L710.8 449.6L708.5 448.8L707.4 446.8L706.7 444.8L705.9 440.8L705.5 436.8L705.2 432.8L705.2 428.8L705.4 424.8L705.7 420.8L706.3 416.8L706.8 414.0L707.3 410.8L708.0 406.8L708.4 402.8L708.4 398.8L707.8 394.8L706.8 391.4L705.6 388.8L704.5 386.8L703.4 384.8L702.4 382.8L701.4 380.8L699.8 379.3L699.8 374.8L699.8 370.8L699.8 366.8L699.8 362.8L699.8 358.8L699.8 354.8L699.8 350.8L699.8 346.8L699.8 342.8L699.8 338.8L699.8 334.8L699.8 330.8L699.8 326.8L699.8 322.8L699.8 318.8L699.8 314.8L699.8 310.8L699.8 306.8L699.8 302.8L699.8 298.8L699.8 294.8L699.8 290.8L699.8 286.8L699.8 282.8L699.8 278.8L699.8 274.8L699.8 270.8L699.8 266.8L699.8 262.8L701.9 260.8L703.6 258.8L705.4 256.8L706.8 255.1L708.1 252.8L709.1 250.8L709.8 248.8L710.5 246.8L711.4 242.8L712.1 238.8L712.6 234.8L713.0 230.8L713.3 226.8L713.6 222.8L713.9 218.8L714.3 214.8L714.7 210.8L715.1 206.8L715.6 202.8L715.9 198.8L716.2 194.8L716.3 190.8L715.9 186.8L715.1 182.8L712.8 181.1L710.8 182.6L708.8 183.5L706.8 182.7L705.8 180.8L704.9 178.8L704.2 174.8L703.8 170.8L703.7 166.8L703.8 162.8L704.1 158.8L704.3 154.8L704.6 150.8L704.8 146.8L704.9 142.8L704.9 138.8L705.0 134.8L705.1 130.8L705.3 126.8L705.8 122.8L706.5 118.8L708.0 114.8L709.2 112.8L710.8 111.4L712.8 110.6L714.8 109.3L716.4 106.8L717.4 104.8L718.3 102.8L719.5 100.8L720.8 99.0L723.7 100.8L724.4 102.8L725.0 106.8L725.0 110.8L724.8 113.9L724.2 116.8L723.0 120.8L721.8 122.8L720.8 124.4L718.8 126.4L717.4 128.8L716.6 130.8L715.7 134.8L715.1 138.8L714.6 142.8L714.4 146.8L714.6 150.8L715.5 154.8L716.8 156.7L718.8 155.8L720.6 154.8L724.8 156.7L726.1 158.8L727.2 160.8L728.1 162.8L728.8 165.4L729.4 168.8L729.4 172.8L729.2 176.8L729.0 180.8L729.0 184.8L729.3 188.8L730.0 192.8L730.8 196.3L731.4 198.8L732.4 202.8L733.5 206.8L734.4 210.8L735.3 214.8L736.2 218.8L736.8 221.8L737.5 224.8L738.5 228.8L739.2 230.8L740.0 232.8L740.8 234.7L741.9 236.8L742.9 238.8L744.0 240.8L745.1 242.8L746.1 244.8L747.1 246.8L748.1 248.8L749.0 250.8L750.1 252.8L751.7 254.8L754.8 254.3L756.1 250.8L756.8 248.8L757.7 244.8L758.6 240.8L759.3 236.8L760.1 232.8L760.8 228.8L761.3 224.8L761.8 220.8L762.1 216.8L762.2 212.8L762.1 208.8L761.9 204.8L761.5 200.8L760.9 196.8L760.4 192.8L760.0 188.8L759.8 184.8L759.8 180.8L760.1 176.8L760.8 172.8L761.8 170.8L764.8 169.7L766.7 172.8L767.4 174.8L768.1 176.8L768.8 178.8L770.0 182.8L770.6 184.8L771.2 186.8L771.8 188.8L772.5 190.8L773.1 192.8L773.8 194.8L774.5 196.8L775.3 198.8L776.2 200.8L777.5 202.8L780.8 201.5L781.8 198.8L782.8 196.8L783.5 194.8L784.3 192.8L785.1 190.8L786.0 188.8L787.0 186.8L788.1 184.8L789.4 182.8L790.8 181.1L792.8 179.1L794.8 177.7L796.8 176.7L798.8 175.6L800.8 174.1L802.8 171.3L803.9 168.8L804.7 166.8L805.5 164.8L806.3 162.8L807.2 160.8L808.6 158.8L810.8 157.6L812.8 158.5L814.7 160.8L815.9 162.8L817.1 164.8L818.3 166.8L820.2 168.8L822.8 169.3L824.8 167.7L826.8 165.0L828.2 162.8L829.8 160.8L831.6 158.8L834.0 156.8L836.8 154.9L838.8 153.4L840.8 151.6L842.8 149.7L844.8 147.8L846.8 146.1L848.1 144.8L849.5 142.8L850.5 140.8L851.1 138.8L851.9 134.8L852.5 130.8L853.0 126.8L853.3 122.8L853.6 118.8L853.9 114.8L854.3 110.8L854.7 106.8L855.1 102.8L855.8 98.8L856.6 94.8L857.2 92.8L858.0 90.8L859.2 88.8L860.8 87.4L862.8 88.2L864.5 90.8L865.3 92.8L866.0 94.8L866.7 96.8L867.7 100.8L868.5 104.8L869.2 108.8L869.9 112.8L870.4 116.8L870.8 119.4L871.2 122.8L871.6 126.8L871.9 130.8L872.1 134.8L872.2 138.8L872.3 142.8L872.4 146.8L872.4 150.8L872.6 154.8L872.8 158.3L873.1 160.8L874.0 164.8L874.7 166.8L876.8 168.8L880.5 168.8L882.8 167.5L884.8 165.1L885.9 162.8L886.7 160.8L887.8 156.8L888.8 153.0L889.2 150.8L889.9 146.8L890.6 142.8L891.3 138.8L892.0 134.8L892.8 131.1L893.2 128.8L894.0 124.8L894.8 122.0L895.6 118.8L896.8 114.8L897.4 112.8L898.0 110.8L898.8 108.9L899.5 106.8L900.3 104.8L901.2 102.8L902.0 100.8L903.0 98.8L903.9 96.8L904.8 95.0L905.8 92.8L906.8 90.9L907.8 88.8L908.8 86.8L909.7 84.8L910.7 82.8L911.6 80.8L912.6 78.8L913.5 76.8L914.5 74.8L915.4 72.8L916.4 70.8L917.3 68.8L918.3 66.8L919.3 64.8L920.3 62.8L921.3 60.8L922.3 58.8L923.4 56.8L924.5 54.8L925.6 52.8L926.8 50.9L928.2 48.8ZM754.8 377.9L753.0 380.8L752.0 384.8L751.6 388.8L751.3 392.8L751.1 396.8L751.1 400.8L751.1 404.8L751.3 408.8L751.5 412.8L752.0 416.8L752.8 420.5L753.6 422.8L754.5 424.8L756.2 426.8L758.8 428.2L760.8 427.1L761.7 424.8L762.7 420.8L763.1 416.8L763.3 412.8L763.5 408.8L763.6 404.8L763.6 400.8L763.6 396.8L763.5 392.8L763.2 388.8L762.8 386.1L761.8 382.8L761.0 380.8L759.5 378.8L756.8 377.3L754.8 377.9ZM1195.4 94.8L1196.8 93.4L1198.8 96.3L1199.3 98.8L1199.8 102.8L1200.1 106.8L1200.3 110.8L1200.6 114.8L1200.8 117.4L1201.1 120.8L1201.6 124.8L1202.3 128.8L1202.8 131.3L1203.5 134.8L1204.4 138.8L1205.2 142.8L1206.0 146.8L1206.5 150.8L1206.7 154.8L1206.7 158.8L1206.5 162.8L1206.1 166.8L1205.6 170.8L1204.9 174.8L1204.1 178.8L1203.4 182.8L1202.8 185.7L1202.1 188.8L1201.4 192.8L1200.8 196.1L1200.2 198.8L1199.1 202.8L1196.8 203.7L1192.8 203.2L1190.8 202.5L1188.8 201.2L1186.8 199.1L1185.4 196.8L1184.5 194.8L1183.8 192.8L1182.9 188.8L1182.2 184.8L1181.7 180.8L1181.4 176.8L1181.2 172.8L1181.2 168.8L1181.2 164.8L1181.4 160.8L1181.7 156.8L1182.1 152.8L1182.6 148.8L1183.3 144.8L1184.1 140.8L1184.8 138.3L1185.7 134.8L1186.8 131.2L1187.5 128.8L1188.2 126.8L1188.8 124.8L1189.4 122.8L1190.5 118.8L1191.4 114.8L1192.0 110.8L1192.5 106.8L1193.1 102.8L1193.9 98.8L1194.8 95.5ZM792.4 102.8L794.8 102.4L796.8 103.9L798.4 106.8L799.1 108.8L800.1 112.8L800.7 116.8L801.0 120.8L801.1 124.8L800.9 128.8L800.5 132.8L799.8 136.8L798.8 140.4L797.8 142.8L796.8 144.6L795.0 146.8L792.8 148.2L789.3 146.8L787.9 144.8L787.0 142.8L786.3 140.8L785.4 136.8L784.9 132.8L784.7 128.8L784.7 124.8L785.0 120.8L785.6 116.8L786.5 112.8L787.1 110.8L787.9 108.8L788.8 106.9L790.1 104.8L792.4 102.8ZM1217.1 146.8L1218.8 145.2L1219.9 148.8L1220.2 152.8L1219.5 156.8L1218.8 158.7L1216.9 156.8L1216.3 152.8L1216.5 148.8L1217.1 146.8ZM736.2 154.8L738.8 153.8L739.9 156.8L740.4 160.8L740.1 164.8L738.9 168.8L736.8 170.1L735.4 168.8L734.3 166.8L733.9 162.8L734.5 158.8L735.2 156.8L736.2 154.8ZM1226.8 432.8L1229.2 434.8L1230.1 438.8L1230.2 442.8L1229.3 446.8L1226.8 445.1L1226.3 440.8L1226.2 436.8L1226.8 432.8ZM703.4 468.8L706.1 468.8L707.3 470.8L708.0 472.8L708.8 475.8L709.3 478.8L709.8 482.8L710.2 486.8L710.4 490.8L710.5 494.8L710.3 498.8L710.1 502.8L709.6 506.8L708.9 510.8L707.8 514.8L707.2 516.8L706.4 518.8L705.3 520.8L703.4 522.8L700.8 523.1L699.8 520.8L699.8 516.8L699.8 512.8L699.8 508.8L699.8 504.8L699.8 500.8L699.8 496.8L699.8 492.8L699.8 488.8L699.8 484.8L699.8 480.8L699.8 476.8L699.8 472.8L701.7 470.8L702.8 469.2ZM810.9 488.8L813.9 490.8L814.6 492.8L815.2 496.8L815.3 500.8L815.1 504.8L813.0 508.8L810.8 507.3L809.8 504.8L808.9 500.8L808.7 496.8L809.2 492.8L809.8 490.8L810.8 488.8ZM1154.4 496.8L1156.8 498.7L1156.9 502.8L1156.1 504.8L1154.8 506.1L1153.9 502.8L1154.0 498.8ZM827.6 528.8L828.8 527.3L829.6 530.8L829.5 534.8L828.8 537.2L827.5 534.8L827.0 530.8L827.6 528.8ZM1106.6 562.8L1107.0 566.8L1106.6 562.8Z" fill="#fbfbff" fill-rule="evenodd"/>
<path d="M939.5 47.8L942.8 47.8L946.8 47.8L950.8 47.8L954.8 47.8L958.8 47.8L962.8 47.8L966.8 47.8L970.8 47.8L974.8 47.8L978.8 47.8L982.8 47.8L986.8 47.8L988.8 50.1L990.8 52.2L992.8 54.4L994.8 56.6L996.6 58.8L998.3 60.8L999.8 62.8L1001.3 64.8L1002.8 66.7L1004.2 68.8L1005.6 70.8L1006.8 72.5L1008.2 74.8L1009.5 76.8L1010.7 78.8L1011.9 80.8L1013.1 82.8L1014.1 84.8L1015.2 86.8L1016.2 88.8L1017.1 90.8L1018.1 92.8L1019.0 94.8L1019.9 96.8L1020.7 98.8L1021.6 100.8L1022.5 102.8L1023.4 104.8L1024.3 106.8L1025.3 108.8L1026.3 110.8L1027.3 112.8L1028.4 114.8L1029.4 116.8L1030.5 118.8L1031.5 120.8L1032.5 122.8L1033.5 124.8L1034.5 126.8L1035.4 128.8L1036.3 130.8L1037.1 132.8L1038.0 134.8L1038.7 136.8L1039.6 138.8L1040.4 140.8L1041.1 142.8L1041.9 144.8L1042.6 146.8L1043.3 148.8L1044.0 150.8L1044.8 153.8L1045.7 156.8L1046.5 160.8L1047.4 164.8L1048.2 168.8L1048.8 172.1L1049.5 174.8L1050.6 178.8L1051.4 180.8L1052.2 182.8L1053.2 184.8L1054.6 186.8L1056.8 188.6L1058.8 187.8L1059.7 184.8L1060.5 180.8L1060.8 178.4L1061.0 174.8L1061.0 170.8L1060.8 167.4L1060.0 164.8L1058.8 162.9L1056.8 161.3L1054.8 159.7L1052.8 157.3L1051.3 154.8L1050.4 152.8L1049.7 150.8L1048.9 146.8L1048.4 142.8L1048.1 138.8L1048.0 134.8L1048.1 130.8L1048.4 126.8L1048.8 123.8L1049.1 120.8L1049.9 116.8L1050.8 113.3L1051.6 110.8L1052.4 108.8L1053.6 106.8L1054.8 105.1L1056.8 103.7L1060.8 104.5L1062.8 106.6L1064.2 108.8L1065.3 110.8L1066.2 112.8L1067.2 114.8L1068.3 116.8L1071.3 114.8L1072.4 110.8L1073.4 106.8L1074.5 102.8L1075.7 98.8L1076.3 96.8L1076.9 94.8L1077.7 92.8L1078.4 90.8L1079.4 88.8L1080.4 86.8L1082.4 84.8L1084.8 85.9L1085.7 88.8L1086.5 92.8L1086.9 96.8L1087.1 100.8L1087.2 104.8L1087.2 108.8L1087.1 112.8L1086.9 116.8L1086.6 120.8L1086.2 124.8L1085.7 128.8L1085.2 132.8L1084.8 136.0L1084.3 138.8L1083.7 142.8L1083.3 146.8L1083.2 150.8L1083.4 154.8L1083.8 158.8L1084.3 162.8L1084.8 166.6L1085.1 170.8L1085.1 174.8L1084.9 178.8L1084.5 182.8L1083.7 186.8L1082.8 190.5L1082.0 192.8L1081.3 194.8L1080.4 196.8L1079.5 198.8L1078.5 200.8L1077.3 202.8L1075.9 204.8L1073.9 206.8L1070.8 208.5L1066.8 208.6L1063.2 210.8L1062.5 212.8L1061.7 216.8L1061.2 220.8L1060.8 224.4L1060.5 228.8L1060.3 232.8L1060.2 236.8L1060.3 240.8L1060.6 244.8L1061.5 248.8L1062.2 250.8L1063.1 252.8L1064.7 254.8L1066.8 255.8L1070.8 255.3L1072.8 254.6L1074.8 253.9L1076.8 253.2L1078.8 252.3L1080.8 251.1L1082.8 248.9L1083.9 246.8L1084.9 244.8L1085.5 242.8L1086.2 240.8L1086.9 238.8L1088.0 234.8L1088.8 232.1L1089.8 228.8L1090.6 226.8L1091.6 224.8L1092.8 222.9L1094.8 221.3L1098.3 222.8L1099.8 224.8L1100.8 226.6L1101.8 228.8L1102.6 230.8L1103.4 232.8L1104.1 234.8L1104.7 236.8L1105.7 238.8L1106.5 240.8L1108.8 242.0L1109.3 238.8L1109.6 234.8L1110.0 230.8L1110.3 226.8L1110.7 222.8L1111.1 218.8L1111.5 214.8L1112.0 210.8L1112.7 206.8L1113.6 202.8L1114.2 200.8L1116.2 198.8L1118.8 199.9L1120.8 201.9L1122.8 204.1L1124.8 206.5L1126.7 208.8L1128.4 210.8L1130.4 212.8L1132.8 214.3L1136.8 213.0L1138.6 210.8L1139.8 208.8L1141.0 206.8L1142.0 204.8L1143.1 202.8L1144.1 200.8L1145.1 198.8L1146.2 196.8L1147.5 194.8L1148.8 193.4L1152.8 194.1L1154.7 194.8L1156.8 195.4L1158.8 196.3L1160.8 198.1L1162.7 200.8L1163.9 202.8L1165.2 204.8L1166.7 206.8L1168.5 208.8L1170.5 210.8L1172.2 212.8L1173.5 214.8L1174.5 216.8L1175.2 218.8L1176.2 222.8L1176.7 226.8L1176.9 230.8L1176.9 234.8L1176.8 237.8L1176.5 240.8L1176.1 244.8L1175.6 248.8L1175.1 252.8L1174.8 256.7L1174.6 260.8L1174.6 264.8L1174.8 268.5L1175.3 272.8L1176.0 276.8L1176.8 280.5L1177.6 282.8L1178.3 284.8L1179.2 286.8L1180.3 288.8L1182.2 290.8L1184.8 290.7L1185.7 288.8L1186.5 286.8L1187.4 282.8L1188.2 278.8L1188.8 276.1L1189.4 272.8L1190.4 268.8L1191.7 264.8L1192.4 262.8L1193.2 260.8L1194.1 258.8L1195.0 256.8L1195.9 254.8L1196.7 252.8L1197.4 250.8L1198.1 248.8L1198.7 246.8L1199.7 242.8L1200.6 238.8L1201.5 234.8L1202.6 230.8L1203.6 228.8L1204.8 227.4L1208.8 228.0L1210.7 228.8L1214.8 229.4L1218.8 229.4L1220.8 232.5L1221.3 234.8L1221.9 238.8L1222.4 242.8L1222.8 245.7L1223.1 248.8L1223.6 252.8L1224.1 256.8L1224.7 260.8L1225.6 264.8L1226.7 268.8L1227.5 270.8L1228.4 272.8L1229.4 274.8L1230.5 276.8L1232.2 278.8L1232.2 282.8L1232.2 286.8L1232.2 290.8L1232.2 294.8L1232.2 298.8L1232.2 302.8L1232.2 306.8L1232.2 310.8L1232.2 314.8L1232.2 318.8L1232.2 322.8L1232.2 326.8L1232.2 330.8L1232.2 334.8L1232.2 338.8L1232.2 342.8L1232.2 346.8L1232.2 350.8L1232.2 354.8L1232.2 358.8L1232.2 362.8L1232.2 366.8L1232.2 370.8L1232.2 374.8L1230.8 377.2L1229.7 380.8L1229.0 382.8L1227.9 386.8L1226.8 390.6L1226.2 392.8L1225.0 396.8L1223.8 400.8L1223.1 402.8L1222.2 404.8L1221.0 406.8L1218.8 408.6L1214.8 407.2L1212.8 404.8L1211.5 402.8L1210.4 400.8L1209.4 398.8L1208.5 396.8L1207.7 394.8L1207.0 392.8L1206.2 390.8L1205.6 388.8L1204.9 386.8L1204.2 384.8L1203.5 382.8L1202.9 380.8L1202.0 378.8L1201.0 376.8L1198.8 375.6L1196.8 377.4L1194.8 380.7L1193.7 382.8L1192.8 384.6L1191.7 386.8L1190.6 388.8L1189.4 390.8L1188.2 392.8L1186.8 394.8L1185.3 396.8L1183.7 398.8L1182.1 400.8L1180.8 402.6L1179.0 404.8L1176.8 406.7L1174.8 405.4L1173.7 402.8L1173.0 400.8L1172.4 398.8L1171.2 394.8L1170.1 390.8L1169.1 386.8L1168.0 382.8L1166.9 378.8L1165.7 374.8L1165.1 372.8L1164.4 370.8L1163.6 368.8L1162.9 366.8L1161.8 364.8L1160.8 362.8L1159.5 360.8L1158.0 358.8L1156.8 357.3L1154.8 356.2L1152.8 357.4L1151.4 360.8L1150.7 362.8L1150.0 366.8L1149.3 370.8L1148.8 374.6L1148.3 378.8L1147.8 382.8L1147.2 386.8L1146.8 390.3L1146.4 392.8L1145.9 396.8L1145.2 400.8L1144.8 403.5L1144.1 406.8L1143.3 410.8L1142.8 413.3L1141.8 416.8L1140.8 420.5L1139.9 422.8L1139.1 424.8L1138.3 426.8L1137.3 428.8L1136.3 430.8L1135.2 432.8L1134.0 434.8L1133.0 436.8L1132.0 438.8L1131.1 440.8L1130.2 442.8L1129.2 444.8L1126.4 442.8L1125.7 438.8L1125.2 434.8L1125.1 430.8L1125.2 426.8L1125.5 422.8L1125.9 418.8L1126.2 414.8L1126.6 410.8L1126.8 407.4L1126.8 404.8L1126.8 400.8L1126.6 396.8L1126.1 392.8L1125.5 388.8L1124.8 385.5L1123.9 382.8L1123.2 380.8L1122.2 378.8L1120.9 376.8L1118.8 376.1L1116.8 378.1L1115.5 380.8L1114.5 382.8L1113.8 384.8L1113.0 386.8L1112.2 388.8L1111.3 390.8L1110.3 392.8L1109.1 394.8L1107.6 396.8L1105.2 398.8L1102.8 400.0L1100.8 400.7L1098.8 401.9L1096.8 404.8L1096.1 406.8L1095.2 410.8L1094.5 414.8L1093.8 418.8L1093.2 422.8L1092.4 426.8L1091.5 430.8L1090.8 434.2L1090.1 436.8L1089.3 440.8L1088.8 444.3L1088.5 446.8L1088.3 450.8L1088.3 454.8L1088.5 458.8L1088.8 462.2L1089.0 464.8L1089.5 468.8L1089.9 472.8L1090.3 476.8L1090.4 480.8L1090.3 484.8L1090.1 488.8L1089.7 492.8L1089.4 496.8L1089.1 500.8L1088.9 504.8L1088.7 508.8L1088.4 512.8L1088.2 516.8L1087.8 520.8L1087.3 524.8L1086.8 527.8L1086.0 530.8L1085.3 532.8L1084.3 534.8L1082.8 536.7L1079.5 534.8L1078.4 532.8L1077.8 530.8L1076.8 526.8L1076.2 522.8L1075.8 518.8L1075.5 514.8L1075.3 510.8L1075.1 506.8L1074.8 502.8L1074.4 498.8L1073.6 494.8L1072.8 491.8L1071.3 488.8L1069.6 486.8L1066.8 485.1L1062.8 484.2L1058.8 484.5L1054.8 484.2L1052.8 481.6L1051.9 478.8L1051.1 474.8L1050.8 472.0L1050.5 468.8L1050.4 464.8L1050.4 460.8L1050.4 456.8L1050.5 452.8L1050.6 448.8L1050.6 444.8L1050.5 440.8L1050.2 436.8L1049.7 432.8L1048.8 428.8L1047.4 426.8L1044.8 427.0L1043.9 428.8L1043.0 430.8L1042.0 434.8L1041.2 438.8L1040.5 442.8L1040.0 446.8L1039.4 450.8L1038.8 454.8L1038.2 458.8L1037.6 462.8L1036.9 466.8L1036.3 470.8L1035.7 474.8L1035.1 478.8L1034.4 482.8L1033.6 486.8L1032.8 490.6L1032.2 492.8L1031.5 494.8L1030.8 496.8L1029.9 498.8L1028.8 500.8L1026.8 502.7L1022.8 501.9L1020.8 499.7L1018.8 497.0L1016.9 494.8L1014.8 493.8L1012.8 496.1L1011.9 498.8L1011.0 502.8L1010.4 506.8L1009.8 510.8L1009.4 514.8L1008.9 518.8L1008.4 522.8L1008.0 526.8L1007.4 530.8L1006.8 534.7L1005.9 538.8L1004.8 542.8L1004.1 544.8L1003.2 546.8L1002.1 548.8L1000.8 550.5L998.8 551.9L994.8 552.2L990.8 551.1L988.8 549.3L987.8 546.8L987.2 542.8L987.2 538.8L987.4 534.8L987.7 530.8L988.0 526.8L988.2 522.8L988.2 518.8L988.0 514.8L987.5 510.8L986.8 507.7L985.5 504.8L984.3 502.8L982.8 501.3L980.8 500.3L976.8 500.7L974.8 501.5L972.8 502.3L970.8 503.1L968.8 503.8L964.8 504.4L960.8 503.9L956.8 503.2L952.8 504.8L951.5 506.8L950.5 508.8L949.7 510.8L949.0 512.8L948.2 514.8L947.5 516.8L946.5 518.8L945.2 520.8L942.8 522.2L940.8 520.8L939.6 518.8L938.6 516.8L937.8 514.8L936.9 512.8L936.1 510.8L935.1 508.8L933.9 506.8L932.2 504.8L930.8 503.5L928.8 501.7L926.8 499.3L925.3 496.8L924.3 494.8L923.4 492.8L922.5 490.8L921.7 488.8L921.0 486.8L920.2 484.8L919.4 482.8L918.7 480.8L917.8 478.8L917.1 476.8L916.2 474.8L915.4 472.8L914.5 470.8L913.6 468.8L912.8 466.9L911.5 464.8L909.8 462.8L906.8 463.9L905.2 466.8L904.0 468.8L902.8 470.5L900.8 472.1L896.8 471.7L894.8 470.4L892.8 468.9L890.8 467.2L888.8 465.4L886.8 463.2L885.1 460.8L883.8 458.8L882.8 456.8L881.7 454.8L880.8 452.8L879.7 450.8L878.8 448.8L876.8 447.8L875.4 450.8L874.6 452.8L874.0 454.8L873.4 456.8L872.6 458.8L871.8 460.8L871.0 462.8L870.0 464.8L868.9 466.8L867.1 468.8L863.6 466.8L862.8 465.0L861.9 462.8L861.0 460.8L859.7 458.8L856.8 457.4L852.8 458.1L848.8 456.9L846.8 454.9L845.2 452.8L843.9 450.8L842.8 448.8L841.5 446.8L840.1 444.8L838.8 443.2L835.2 444.8L833.7 446.8L832.3 448.8L830.8 450.8L829.0 452.8L827.0 454.8L824.8 456.6L822.8 457.7L820.8 458.4L816.8 458.2L814.8 457.0L812.8 454.8L811.4 452.8L810.2 450.8L809.0 448.8L807.4 446.8L804.8 448.5L804.3 450.8L803.4 454.8L802.8 458.3L802.4 460.8L801.8 464.8L801.2 468.8L800.8 472.5L800.2 476.8L799.8 480.8L799.4 484.8L799.0 488.8L798.6 492.8L798.1 496.8L797.6 500.8L797.1 504.8L796.3 508.8L795.4 512.8L794.8 515.6L792.6 514.8L792.1 510.8L791.8 506.8L791.6 502.8L791.4 498.8L791.3 494.8L791.2 490.8L791.1 486.8L791.0 482.8L790.9 478.8L790.9 474.8L790.8 470.8L790.8 466.8L790.9 462.8L791.0 458.8L791.2 454.8L791.5 450.8L791.8 446.8L792.2 442.8L792.5 438.8L792.8 435.8L793.0 432.8L793.0 428.8L792.8 426.0L792.4 422.8L791.5 418.8L790.8 416.3L789.7 412.8L789.0 410.8L788.3 408.8L787.6 406.8L787.0 404.8L786.3 402.8L785.6 400.8L784.8 397.7L783.7 394.8L782.9 390.8L782.2 388.8L781.4 384.8L781.0 380.8L780.8 377.0L780.3 372.8L780.2 368.8L780.1 364.8L780.1 360.8L780.1 356.8L780.2 352.8L780.2 348.8L780.0 344.8L779.2 340.8L776.9 342.8L776.2 344.8L775.5 346.8L774.8 348.8L774.1 352.8L773.6 356.8L773.5 360.8L773.7 364.8L774.1 368.8L774.8 372.2L775.4 374.8L776.4 378.8L777.4 382.8L778.2 386.8L778.7 390.8L779.2 394.8L779.4 398.8L779.4 402.8L779.4 406.8L779.1 410.8L778.8 414.8L778.2 418.8L777.5 422.8L776.8 425.7L775.6 428.8L774.8 430.8L773.3 432.8L770.8 434.7L768.8 434.1L767.4 430.8L766.8 426.8L766.5 422.8L766.3 418.8L766.3 414.8L766.3 410.8L766.3 406.8L766.4 402.8L766.6 398.8L766.7 394.8L766.8 390.8L766.9 386.8L766.8 384.2L766.5 380.8L765.7 376.8L765.0 374.8L763.7 372.8L761.3 370.8L758.8 369.7L754.8 369.5L752.8 370.6L751.4 372.8L750.5 374.8L749.6 378.8L749.0 382.8L748.8 385.2L748.6 388.8L748.5 392.8L748.4 396.8L748.4 400.8L748.5 404.8L748.5 408.8L748.7 412.8L748.9 416.8L749.4 420.8L750.2 424.8L750.8 427.0L752.4 430.8L753.6 432.8L754.8 434.5L756.8 436.5L758.8 438.2L760.8 439.8L762.8 441.9L764.1 444.8L764.7 448.8L764.8 452.8L764.8 456.2L764.6 458.8L764.2 462.8L763.6 466.8L762.8 470.8L761.6 474.8L760.9 476.8L760.1 478.8L759.2 480.8L758.2 482.8L757.1 484.8L755.8 486.8L754.8 488.4L752.8 490.8L750.8 492.8L748.8 494.8L747.1 496.8L745.8 498.8L744.9 500.8L744.3 502.8L743.5 506.8L742.8 510.8L742.3 514.8L741.7 518.8L741.0 522.8L740.1 526.8L738.9 530.8L738.0 532.8L736.9 534.8L735.1 536.8L732.8 537.5L730.8 536.2L728.8 533.0L727.9 530.8L727.3 528.8L726.8 526.5L726.1 522.8L725.6 518.8L725.4 514.8L725.3 510.8L725.4 506.8L725.5 502.8L725.8 498.8L726.1 494.8L726.4 490.8L726.4 486.8L726.3 482.8L725.9 478.8L725.4 474.8L724.8 471.2L724.3 468.8L723.6 464.8L722.9 460.8L722.1 456.8L721.4 452.8L720.8 449.1L720.2 446.8L719.2 442.8L717.8 438.8L717.0 436.8L715.6 434.8L714.1 432.8L712.8 430.9L712.1 428.8L711.7 424.8L711.9 420.8L712.5 416.8L713.1 412.8L713.7 408.8L714.0 404.8L714.0 400.8L713.7 396.8L713.0 392.8L711.8 388.8L711.0 386.8L710.0 384.8L708.9 382.8L707.5 380.8L706.0 378.8L704.8 377.0L703.5 374.8L702.5 372.8L701.7 370.8L701.0 368.8L699.8 366.8L699.8 362.8L699.8 358.8L699.8 354.8L699.8 350.8L699.8 346.8L699.8 342.8L699.8 338.8L699.8 334.8L699.8 330.8L699.8 326.8L699.8 322.8L699.8 318.8L699.8 314.8L699.8 310.8L699.8 306.8L699.8 302.8L699.8 298.8L699.8 294.8L699.8 290.8L699.8 286.8L699.8 282.8L699.8 278.8L699.8 274.8L700.8 272.8L701.9 270.8L703.3 268.8L704.8 267.1L706.8 264.9L708.4 262.8L709.6 260.8L710.7 258.8L711.5 256.8L712.3 254.8L712.9 252.8L713.8 248.8L714.4 244.8L714.8 242.3L715.1 238.8L715.4 234.8L715.6 230.8L715.9 226.8L716.3 222.8L716.8 218.8L717.4 214.8L718.1 210.8L718.8 207.9L719.7 204.8L720.4 202.8L721.5 200.8L722.8 199.1L726.1 200.8L727.4 202.8L728.5 204.8L729.4 206.8L730.1 208.8L730.8 210.8L731.5 212.8L732.5 216.8L733.5 220.8L734.3 224.8L734.8 227.0L735.7 230.8L736.8 234.5L737.7 236.8L738.7 238.8L739.9 240.8L741.2 242.8L742.4 244.8L743.6 246.8L744.7 248.8L745.7 250.8L746.6 252.8L747.4 254.8L748.3 256.8L749.1 258.8L750.0 260.8L751.1 262.8L752.8 264.7L755.8 262.8L756.8 261.1L757.4 258.8L758.4 254.8L759.3 250.8L760.0 246.8L760.8 243.2L761.2 240.8L762.0 236.8L762.8 233.2L763.3 230.8L764.1 226.8L764.8 223.2L765.3 220.8L766.0 216.8L766.6 212.8L767.7 208.8L768.4 206.8L770.8 207.3L772.5 210.8L773.3 212.8L774.1 214.8L774.9 216.8L775.8 218.8L776.6 220.8L778.8 222.4L780.3 218.8L781.0 216.8L781.8 212.8L782.8 209.3L783.3 206.8L784.3 202.8L785.0 200.8L785.6 198.8L786.3 196.8L787.1 194.8L788.0 192.8L789.1 190.8L790.5 188.8L792.3 186.8L794.8 185.0L796.8 184.2L800.8 183.5L802.9 182.8L804.8 181.4L806.6 178.8L807.8 176.8L808.8 175.1L810.7 172.8L814.8 174.7L816.4 176.8L818.3 178.8L820.8 180.2L822.8 179.5L824.8 177.2L826.1 174.8L827.2 172.8L828.4 170.8L829.6 168.8L830.8 167.2L832.8 165.0L834.8 163.4L836.8 162.2L838.8 160.9L840.8 159.5L842.8 157.9L844.3 156.8L846.8 155.2L848.8 154.1L850.6 152.8L852.0 150.8L852.9 148.8L853.9 144.8L854.5 140.8L854.8 138.5L855.1 134.8L855.4 130.8L855.7 126.8L856.0 122.8L856.4 118.8L856.8 115.0L857.4 110.8L858.1 106.8L858.8 104.2L860.6 100.8L863.7 102.8L864.7 104.8L865.3 106.8L866.4 110.8L867.2 114.8L867.9 118.8L868.5 122.8L868.8 125.3L869.1 128.8L869.4 132.8L869.5 136.8L869.6 140.8L869.6 144.8L869.5 148.8L869.4 152.8L869.3 156.8L869.3 160.8L869.5 164.8L869.9 168.8L870.6 172.8L871.2 174.8L872.4 176.8L874.8 178.3L878.8 178.3L882.8 177.7L884.8 176.9L886.8 174.9L887.9 172.8L888.9 170.8L889.5 168.8L890.1 166.8L890.8 164.6L891.5 160.8L892.2 156.8L892.8 153.5L893.1 150.8L893.6 146.8L894.2 142.8L894.8 139.8L895.2 136.8L896.0 132.8L896.8 129.4L897.4 126.8L898.5 122.8L899.1 120.8L899.8 118.8L900.5 116.8L901.3 114.8L902.2 112.8L903.2 110.8L904.2 108.8L905.3 106.8L906.4 104.8L907.6 102.8L908.8 101.0L910.0 98.8L911.2 96.8L912.3 94.8L913.4 92.8L914.5 90.8L915.5 88.8L916.5 86.8L917.4 84.8L918.3 82.8L919.2 80.8L920.1 78.8L920.9 76.8L921.8 74.8L922.6 72.8L923.5 70.8L924.4 68.8L925.3 66.8L926.2 64.8L927.3 62.8L928.4 60.8L929.7 58.8L930.8 57.2L932.8 54.8L934.8 52.8L936.8 51.1L938.8 49.5ZM808.8 306.7L806.8 307.4L806.4 310.8L806.3 314.8L806.3 318.8L806.3 322.8L806.4 326.8L806.4 330.8L806.5 334.8L806.4 338.8L806.4 342.8L806.3 346.8L806.2 350.8L806.1 354.8L806.1 358.8L806.2 362.8L806.5 366.8L807.5 370.8L808.1 374.8L808.4 378.8L808.5 382.8L808.5 386.8L808.5 390.8L808.6 394.8L808.7 398.8L810.2 402.8L812.8 401.3L814.5 398.8L815.7 396.8L816.8 395.1L817.9 392.8L818.7 390.8L819.3 388.8L819.8 384.8L818.8 381.8L816.8 379.6L814.8 377.9L812.8 375.7L811.0 372.8L810.2 370.8L809.7 366.8L809.6 362.8L809.8 358.8L810.1 354.8L810.8 351.2L811.1 348.8L812.0 344.8L812.8 342.0L813.6 338.8L814.4 334.8L814.9 330.8L814.9 326.8L814.5 322.8L813.6 318.8L812.8 315.4L811.8 312.8L811.0 310.8L809.9 308.8L808.8 306.8ZM791.5 116.8L792.8 115.3L794.8 116.2L795.7 118.8L796.3 122.8L796.1 126.8L795.3 130.8L794.5 132.8L792.8 134.7L790.8 133.6L789.9 130.8L789.3 126.8L789.6 122.8L790.4 118.8L791.5 116.8ZM1192.7 128.8L1194.8 127.4L1196.7 128.8L1197.7 130.8L1198.5 132.8L1199.2 134.8L1200.4 138.8L1201.3 142.8L1202.1 146.8L1202.6 150.8L1202.9 154.8L1203.0 158.8L1202.9 162.8L1202.5 166.8L1202.0 170.8L1201.3 174.8L1200.8 177.1L1199.8 180.8L1198.8 184.3L1197.8 186.8L1197.0 188.8L1195.8 190.8L1193.9 192.8L1190.8 193.7L1188.8 192.3L1186.8 189.2L1185.9 186.8L1184.8 182.8L1184.2 178.8L1183.7 174.8L1183.5 170.8L1183.4 166.8L1183.5 162.8L1183.8 158.8L1184.2 154.8L1184.8 150.8L1185.5 146.8L1186.5 142.8L1187.1 140.8L1187.8 138.8L1188.5 136.8L1189.4 134.8L1190.3 132.8L1191.5 130.8L1192.7 128.8ZM1148.9 158.8L1150.8 156.9L1152.0 158.8L1152.5 162.8L1152.2 166.8L1151.6 170.8L1150.8 174.7L1149.7 176.8L1146.8 177.1L1146.0 174.8L1145.3 170.8L1145.5 166.8L1146.6 162.8L1147.8 160.8L1148.8 158.9ZM1178.6 442.8L1180.8 441.8L1182.8 442.6L1184.8 443.9L1186.8 445.4L1188.4 446.8L1190.4 448.8L1192.1 450.8L1193.4 452.8L1194.4 454.8L1195.3 456.8L1196.1 458.8L1196.7 460.8L1197.8 464.8L1198.5 468.8L1199.1 472.8L1199.5 476.8L1199.7 480.8L1199.7 484.8L1199.6 488.8L1199.3 492.8L1198.8 496.3L1198.3 498.8L1197.2 502.8L1196.5 504.8L1195.6 506.8L1194.4 508.8L1192.8 510.7L1190.8 512.0L1188.8 512.7L1184.8 513.7L1182.8 514.5L1180.8 515.4L1178.8 516.4L1176.3 516.8L1173.6 514.8L1172.6 512.8L1171.6 508.8L1171.2 504.8L1171.0 500.8L1171.0 496.8L1171.2 492.8L1171.4 488.8L1171.6 484.8L1171.9 480.8L1172.3 476.8L1172.7 472.8L1173.1 468.8L1173.6 464.8L1174.1 460.8L1174.7 456.8L1175.5 452.8L1176.3 448.8L1177.6 444.8L1178.6 442.8ZM702.3 482.8L705.6 484.8L706.2 486.8L706.8 489.1L707.1 492.8L707.1 496.8L706.9 500.8L706.3 504.8L705.2 508.8L704.2 510.8L702.8 512.4L700.8 511.5L699.8 508.8L699.8 504.8L699.8 500.8L699.8 496.8L699.8 492.8L699.8 488.8L699.8 485.0L702.3 482.8ZM860.7 490.8L862.8 489.4L863.8 492.8L864.5 496.8L864.7 500.8L864.7 504.8L864.3 508.8L863.7 512.8L862.9 516.8L861.8 518.8L860.8 520.6L858.8 519.6L858.0 516.8L857.4 512.8L857.3 508.8L857.5 504.8L858.0 500.8L858.6 496.8L859.3 494.8L860.0 492.8L860.7 490.8Z" fill="#fafaff" fill-rule="evenodd"/>
<path d="M946.7 47.8L950.8 47.8L954.8 47.8L958.8 47.8L962.8 47.8L966.8 47.8L970.8 47.8L974.8 47.8L978.8 47.8L980.8 49.7L982.8 52.4L984.5 54.8L986.1 56.8L987.6 58.8L988.8 60.3L990.8 62.7L992.5 64.8L994.2 66.8L995.8 68.8L997.4 70.8L998.8 72.6L1000.5 74.8L1002.0 76.8L1003.4 78.8L1004.8 80.6L1006.3 82.8L1007.8 84.8L1009.1 86.8L1010.4 88.8L1011.7 90.8L1012.8 92.6L1014.0 94.8L1015.0 96.8L1016.0 98.8L1016.9 100.8L1017.9 102.8L1018.8 104.8L1019.7 106.8L1020.7 108.8L1021.6 110.8L1022.6 112.8L1023.7 114.8L1024.8 116.7L1026.0 118.8L1027.2 120.8L1028.4 122.8L1029.6 124.8L1030.8 126.8L1031.9 128.8L1032.8 130.5L1033.9 132.8L1034.8 134.7L1035.7 136.8L1036.5 138.8L1037.3 140.8L1038.1 142.8L1038.7 144.8L1039.5 146.8L1040.1 148.8L1040.8 151.1L1041.9 154.8L1042.8 158.4L1043.4 160.8L1044.3 164.8L1045.2 168.8L1046.1 172.8L1046.8 176.1L1047.5 178.8L1048.5 182.8L1049.7 186.8L1050.3 188.8L1051.1 190.8L1052.0 192.8L1052.8 194.7L1053.9 196.8L1054.8 198.8L1055.7 200.8L1056.4 202.8L1057.4 206.8L1057.9 210.8L1058.1 214.8L1058.1 218.8L1058.0 222.8L1057.9 226.8L1057.7 230.8L1057.6 234.8L1057.6 238.8L1057.7 242.8L1058.0 246.8L1058.6 250.8L1059.7 254.8L1060.4 256.8L1061.5 258.8L1062.8 260.5L1064.8 261.9L1068.8 262.1L1070.8 261.5L1072.8 260.7L1074.8 259.9L1076.8 259.1L1078.8 258.3L1080.8 257.2L1082.8 255.4L1084.6 252.8L1085.5 250.8L1086.3 248.8L1087.0 246.8L1088.2 242.8L1089.4 238.8L1090.0 236.8L1090.7 234.8L1091.5 232.8L1092.4 230.8L1094.1 228.8L1096.8 228.3L1098.8 230.4L1100.0 232.8L1100.9 234.8L1101.6 236.8L1102.3 238.8L1102.9 240.8L1103.5 242.8L1104.7 246.8L1105.4 248.8L1106.1 250.8L1106.7 252.8L1107.7 254.8L1108.5 256.8L1110.6 258.8L1111.8 256.8L1112.4 252.8L1112.6 248.8L1112.5 244.8L1112.5 240.8L1112.5 236.8L1112.5 232.8L1112.7 228.8L1113.0 224.8L1113.4 220.8L1114.1 216.8L1114.8 213.9L1116.1 210.8L1118.6 208.8L1120.8 209.5L1122.2 210.8L1124.0 212.8L1125.6 214.8L1126.8 216.4L1128.5 218.8L1130.3 220.8L1132.8 222.1L1135.6 220.8L1137.6 218.8L1139.1 216.8L1140.5 214.8L1141.8 212.8L1143.1 210.8L1144.5 208.8L1146.4 206.8L1148.8 205.4L1152.8 205.7L1154.8 206.7L1156.8 207.9L1158.8 209.6L1160.8 211.7L1162.8 214.0L1164.8 216.1L1166.8 217.8L1168.8 219.5L1170.0 220.8L1171.4 222.8L1172.3 224.8L1172.9 226.8L1173.5 230.8L1173.8 234.8L1173.7 238.8L1173.5 242.8L1173.2 246.8L1172.9 250.8L1172.7 254.8L1172.6 258.8L1172.6 262.8L1172.8 266.6L1173.1 270.8L1173.7 274.8L1174.3 278.8L1175.3 282.8L1176.5 286.8L1177.2 288.8L1178.1 290.8L1179.0 292.8L1180.2 294.8L1181.6 296.8L1184.5 298.8L1186.8 297.4L1187.8 294.8L1188.5 292.8L1189.3 288.8L1190.0 284.8L1190.6 280.8L1191.4 276.8L1192.4 272.8L1193.6 268.8L1194.4 266.8L1195.2 264.8L1196.1 262.8L1197.0 260.8L1197.8 258.8L1198.7 256.8L1199.5 254.8L1200.2 252.8L1201.0 250.8L1201.7 248.8L1202.4 246.8L1203.2 244.8L1204.0 242.8L1205.1 240.8L1206.7 238.8L1208.8 237.9L1212.8 238.2L1214.8 239.0L1216.8 240.7L1218.0 242.8L1218.9 244.8L1220.0 248.8L1220.8 252.3L1221.2 254.8L1221.9 258.8L1222.6 262.8L1223.5 266.8L1224.6 270.8L1225.3 272.8L1226.2 274.8L1227.2 276.8L1228.3 278.8L1229.5 280.8L1230.6 282.8L1232.2 284.8L1232.2 288.8L1232.2 292.8L1232.2 296.8L1232.2 300.8L1232.2 304.8L1232.2 308.8L1232.2 312.8L1232.2 316.8L1232.2 320.8L1232.2 324.8L1232.2 328.8L1232.2 332.8L1232.2 336.8L1232.2 340.8L1232.2 344.8L1232.2 348.8L1232.2 352.8L1232.2 356.8L1232.2 360.8L1232.2 364.8L1232.2 368.8L1230.8 370.7L1230.1 372.8L1229.5 374.8L1228.8 376.8L1227.6 380.8L1227.0 382.8L1226.4 384.8L1225.2 388.8L1224.5 390.8L1223.9 392.8L1223.2 394.8L1222.3 396.8L1221.3 398.8L1219.9 400.8L1216.8 402.4L1214.8 401.4L1212.8 399.2L1211.3 396.8L1210.3 394.8L1209.4 392.8L1208.6 390.8L1207.8 388.8L1207.2 386.8L1206.6 384.8L1206.0 382.8L1204.9 378.8L1203.8 374.8L1202.9 370.8L1202.2 368.8L1201.4 366.8L1198.8 365.7L1196.9 368.8L1196.0 370.8L1195.1 372.8L1194.2 374.8L1193.4 376.8L1192.5 378.8L1191.7 380.8L1190.8 382.7L1189.7 384.8L1188.8 386.6L1187.4 388.8L1185.9 390.8L1184.8 392.3L1182.8 394.3L1180.8 395.9L1178.8 396.8L1174.8 394.8L1173.7 392.8L1172.8 390.8L1172.0 388.8L1171.3 386.8L1170.6 384.8L1170.0 382.8L1169.4 380.8L1168.8 378.6L1167.6 374.8L1166.8 371.8L1165.7 368.8L1165.1 366.8L1164.3 364.8L1163.5 362.8L1162.6 360.8L1161.5 358.8L1160.5 356.8L1159.3 354.8L1158.0 352.8L1156.8 351.0L1154.8 348.9L1151.3 350.8L1150.5 352.8L1149.6 356.8L1148.8 360.8L1148.3 364.8L1147.8 368.8L1147.3 372.8L1146.8 376.7L1146.3 380.8L1145.7 384.8L1145.2 388.8L1144.8 391.5L1144.2 394.8L1143.5 398.8L1142.8 402.6L1142.2 404.8L1141.2 408.8L1139.9 412.8L1139.2 414.8L1138.3 416.8L1137.2 418.8L1135.3 420.8L1132.8 421.1L1131.6 418.8L1130.8 414.9L1130.4 410.8L1130.1 406.8L1129.9 402.8L1129.6 398.8L1129.2 394.8L1128.8 391.6L1128.3 388.8L1127.6 384.8L1126.8 380.8L1125.7 376.8L1124.8 373.7L1123.5 370.8L1122.5 368.8L1120.8 366.9L1117.6 368.8L1116.4 370.8L1115.6 372.8L1114.8 374.6L1114.0 376.8L1113.3 378.8L1112.6 380.8L1111.9 382.8L1111.1 384.8L1110.2 386.8L1109.2 388.8L1107.9 390.8L1106.0 392.8L1102.8 394.4L1098.8 394.6L1094.8 395.9L1093.1 398.8L1092.4 402.8L1092.0 406.8L1091.6 410.8L1091.2 414.8L1090.8 417.9L1090.1 420.8L1089.1 424.8L1088.4 426.8L1087.6 428.8L1086.9 430.8L1086.0 432.8L1085.3 434.8L1084.8 437.5L1084.3 440.8L1084.1 444.8L1084.0 448.8L1084.1 452.8L1084.3 456.8L1084.4 460.8L1084.5 464.8L1084.6 468.8L1084.6 472.8L1084.6 476.8L1084.4 480.8L1084.2 484.8L1084.1 488.8L1084.2 492.8L1084.5 496.8L1084.8 500.0L1084.9 502.8L1085.1 506.8L1085.2 510.8L1085.1 514.8L1084.8 518.8L1083.9 522.8L1083.2 524.8L1080.8 525.6L1079.8 522.8L1078.9 518.8L1078.5 514.8L1078.4 510.8L1078.3 506.8L1078.3 502.8L1078.3 498.8L1078.1 494.8L1077.4 490.8L1076.8 488.8L1076.2 486.8L1075.3 484.8L1074.1 482.8L1072.8 481.1L1070.8 479.6L1068.9 478.8L1066.8 478.2L1062.8 477.0L1060.8 476.3L1058.8 475.3L1056.8 473.5L1055.4 470.8L1054.8 468.8L1054.1 464.8L1053.8 460.8L1053.6 456.8L1053.5 452.8L1053.4 448.8L1053.3 444.8L1053.2 440.8L1053.0 436.8L1052.8 432.9L1052.3 428.8L1051.6 424.8L1050.8 421.7L1049.0 418.8L1046.8 417.8L1044.8 418.7L1043.4 420.8L1042.3 422.8L1041.6 424.8L1040.9 426.8L1040.0 430.8L1039.2 434.8L1038.5 438.8L1037.9 442.8L1037.3 446.8L1036.8 450.0L1036.3 452.8L1035.8 456.8L1035.2 460.8L1034.8 463.4L1034.3 466.8L1033.7 470.8L1033.2 474.8L1032.8 477.4L1032.2 480.8L1031.3 484.8L1030.8 487.1L1029.4 490.8L1028.5 492.8L1026.8 494.8L1024.2 494.8L1022.0 492.8L1020.8 491.0L1019.4 488.8L1018.2 486.8L1016.9 484.8L1014.8 482.9L1011.5 484.8L1010.6 486.8L1009.6 490.8L1008.9 494.8L1008.4 498.8L1007.9 502.8L1007.5 506.8L1007.2 510.8L1006.8 514.8L1006.5 518.8L1006.0 522.8L1005.5 526.8L1004.9 530.8L1004.0 534.8L1002.8 538.8L1001.8 540.8L1000.8 542.5L998.8 543.8L996.2 542.8L994.8 541.1L993.8 538.8L992.9 534.8L992.5 530.8L992.3 526.8L992.2 522.8L992.1 518.8L992.0 514.8L991.7 510.8L991.0 506.8L989.9 502.8L989.2 500.8L988.3 498.8L987.1 496.8L985.6 494.8L983.3 492.8L980.8 491.9L976.8 492.6L974.8 493.6L972.8 494.6L970.8 495.6L968.8 496.3L966.4 496.8L963.5 496.8L960.8 496.2L958.8 495.5L956.8 494.6L954.8 493.8L950.8 493.4L948.8 494.4L946.8 496.8L945.5 498.8L944.3 500.8L942.8 502.1L940.8 499.7L939.3 496.8L937.8 494.8L934.8 493.2L931.5 492.8L928.8 491.5L926.8 489.3L925.3 486.8L924.3 484.8L923.3 482.8L922.4 480.8L921.6 478.8L920.7 476.8L919.8 474.8L918.9 472.8L918.1 470.8L917.3 468.8L916.5 466.8L915.7 464.8L915.0 462.8L914.3 460.8L913.6 458.8L912.8 456.0L911.6 452.8L910.8 449.6L909.4 446.8L906.8 445.0L905.4 448.8L904.7 450.8L903.6 454.8L903.0 456.8L902.2 458.8L901.3 460.8L899.5 462.8L896.8 463.8L893.9 462.8L890.8 460.8L888.8 458.9L887.2 456.8L885.9 454.8L884.9 452.8L884.1 450.8L883.4 448.8L882.8 446.8L881.7 442.8L880.9 438.8L880.1 434.8L879.3 430.8L878.8 427.9L877.8 424.8L877.1 422.8L876.2 420.8L875.0 418.8L872.8 418.1L871.5 420.8L871.0 424.8L871.1 428.8L871.3 432.8L871.5 436.8L871.6 440.8L871.3 444.8L870.8 448.3L870.0 450.8L869.3 452.8L867.3 454.8L864.8 453.3L863.2 450.8L861.5 448.8L858.8 448.4L856.8 449.8L854.8 451.3L852.8 452.2L848.8 451.3L846.8 449.0L845.4 446.8L844.4 444.8L843.5 442.8L842.8 440.9L841.9 438.8L841.2 436.8L840.5 434.8L839.7 432.8L839.1 430.8L838.4 428.8L837.4 426.8L834.8 427.8L834.2 430.8L833.2 434.8L832.6 436.8L832.0 438.8L831.2 440.8L830.3 442.8L829.2 444.8L828.0 446.8L826.8 448.4L824.8 450.4L822.8 451.6L818.8 452.0L816.8 450.9L814.9 448.8L813.8 446.8L812.9 444.8L812.2 442.8L811.3 438.8L810.8 434.8L810.7 430.8L810.8 426.8L811.3 422.8L812.0 418.8L812.8 416.0L813.8 412.8L814.6 410.8L815.6 408.8L816.7 406.8L817.9 404.8L819.4 402.8L820.8 401.2L822.8 399.3L824.8 397.6L826.8 395.5L827.9 392.8L828.6 388.8L828.9 384.8L829.0 380.8L829.1 376.8L829.1 372.8L829.2 368.8L829.3 364.8L829.3 360.8L829.3 356.8L829.1 352.8L828.8 348.8L827.8 344.8L826.8 341.2L825.4 338.8L824.2 336.8L822.9 334.8L821.9 332.8L821.0 330.8L820.3 328.8L819.7 326.8L819.1 324.8L818.5 322.8L817.9 320.8L817.2 318.8L816.6 316.8L816.0 314.8L815.3 312.8L814.6 310.8L813.9 308.8L813.2 306.8L812.4 304.8L811.7 302.8L810.9 300.8L810.1 298.8L809.4 296.8L808.7 294.8L807.9 292.8L807.2 290.8L806.5 288.8L805.5 286.8L804.8 284.8L802.3 286.8L801.9 290.8L801.9 294.8L802.1 298.8L802.4 302.8L802.8 306.6L803.2 310.8L803.5 314.8L803.7 318.8L803.9 322.8L804.0 326.8L804.0 330.8L803.9 334.8L803.8 338.8L803.5 342.8L803.1 346.8L802.8 350.2L802.5 352.8L802.2 356.8L802.0 360.8L801.9 364.8L801.9 368.8L802.1 372.8L802.4 376.8L802.7 380.8L803.0 384.8L803.2 388.8L803.1 392.8L802.8 396.8L802.3 400.8L801.5 404.8L800.8 407.5L799.5 410.8L798.6 412.8L796.8 414.4L794.8 413.1L793.4 410.8L792.3 408.8L791.4 406.8L790.5 404.8L789.8 402.8L789.1 400.8L788.5 398.8L787.4 394.8L786.8 392.2L786.0 388.8L785.2 384.8L784.8 381.6L784.3 378.8L783.8 374.8L783.5 370.8L783.3 366.8L783.1 362.8L783.1 358.8L783.1 354.8L783.3 350.8L783.4 346.8L783.7 342.8L783.9 338.8L784.2 334.8L784.4 330.8L784.6 326.8L784.6 322.8L784.3 318.8L783.7 314.8L782.8 311.2L780.8 314.8L779.9 318.8L778.8 322.5L778.2 324.8L777.0 328.8L776.3 330.8L775.6 332.8L774.8 334.8L774.0 336.8L773.3 338.8L772.5 340.8L771.8 342.8L771.1 344.8L770.5 346.8L769.3 350.8L768.8 352.9L767.6 356.8L766.8 358.8L765.5 360.8L762.8 362.7L758.8 363.4L754.8 363.6L752.8 364.3L750.8 366.1L749.2 368.8L748.4 370.8L747.5 374.8L746.8 378.8L746.5 382.8L746.3 386.8L746.2 390.8L746.2 394.8L746.2 398.8L746.3 402.8L746.3 406.8L746.4 410.8L746.6 414.8L746.8 418.1L747.0 420.8L747.5 424.8L748.2 428.8L748.8 430.9L750.2 434.8L751.3 436.8L752.5 438.8L754.0 440.8L755.5 442.8L756.8 444.6L758.2 446.8L759.2 448.8L759.9 450.8L760.7 454.8L761.0 458.8L760.8 462.8L760.3 466.8L759.4 470.8L758.8 472.9L758.1 474.8L757.3 476.8L756.3 478.8L755.2 480.8L753.9 482.8L752.8 484.4L750.8 486.5L748.8 488.1L746.8 489.5L745.0 490.8L743.4 492.8L742.5 494.8L741.6 498.8L741.1 502.8L740.8 506.6L740.4 510.8L740.0 514.8L739.4 518.8L738.8 521.9L737.9 524.8L737.2 526.8L736.1 528.8L734.8 530.6L730.8 529.2L729.7 526.8L728.9 524.8L728.1 520.8L727.6 516.8L727.4 512.8L727.4 508.8L727.5 504.8L727.9 500.8L728.3 496.8L728.7 492.8L729.0 488.8L729.1 484.8L728.8 481.0L728.1 476.8L727.3 472.8L726.8 470.5L726.0 466.8L725.1 462.8L724.4 458.8L723.7 454.8L723.1 450.8L722.8 448.5L722.1 444.8L721.5 440.8L721.0 436.8L720.3 432.8L719.7 428.8L719.2 424.8L718.9 420.8L718.8 416.8L718.8 412.8L718.8 408.8L718.8 404.8L718.6 400.8L718.1 396.8L717.4 392.8L716.8 390.4L715.6 386.8L714.8 384.8L713.9 382.8L713.0 380.8L711.8 378.8L710.8 377.1L709.1 374.8L707.5 372.8L706.0 370.8L704.8 368.9L703.8 366.8L702.9 364.8L702.2 362.8L701.2 358.8L699.8 357.1L699.8 352.8L699.8 348.8L699.8 344.8L699.8 340.8L699.8 336.8L699.8 332.8L699.8 328.8L699.8 324.8L699.8 320.8L699.8 316.8L699.8 312.8L699.8 308.8L699.8 304.8L699.8 300.8L699.8 296.8L699.8 292.8L699.8 288.8L699.8 284.8L700.8 282.9L701.6 280.8L702.5 278.8L703.8 276.8L705.4 274.8L706.8 273.4L708.8 271.3L710.8 268.8L712.1 266.8L713.1 264.8L714.0 262.8L714.7 260.8L715.3 258.8L716.3 254.8L716.8 251.8L717.1 248.8L717.4 244.8L717.7 240.8L717.8 236.8L718.0 232.8L718.3 228.8L718.6 224.8L719.2 220.8L720.1 216.8L720.8 214.3L722.6 210.8L724.8 209.9L726.8 211.6L728.5 214.8L729.2 216.8L729.9 218.8L730.8 221.9L731.4 224.8L732.2 228.8L732.8 231.7L733.5 234.8L734.7 238.8L735.7 240.8L736.8 242.6L738.5 244.8L740.1 246.8L741.6 248.8L742.8 250.6L744.0 252.8L744.9 254.8L745.8 256.8L746.6 258.8L747.3 260.8L748.1 262.8L748.8 264.8L749.7 266.8L750.6 268.8L752.0 270.8L754.8 272.3L756.8 270.8L757.8 268.8L758.5 266.8L759.5 262.8L760.3 258.8L760.8 256.2L761.3 252.8L762.0 248.8L762.8 244.9L763.2 242.8L764.1 238.8L764.8 236.2L765.8 232.8L766.4 230.8L767.2 228.8L768.2 226.8L770.8 225.0L772.3 226.8L773.4 228.8L774.3 230.8L775.1 232.8L775.9 234.8L776.6 236.8L777.6 238.8L778.6 240.8L780.8 238.9L781.4 234.8L782.0 230.8L782.6 226.8L783.1 222.8L783.6 218.8L784.2 214.8L784.8 211.8L785.3 208.8L786.3 204.8L786.9 202.8L787.6 200.8L788.4 198.8L789.3 196.8L790.4 194.8L792.0 192.8L794.4 190.8L796.8 189.9L800.8 190.5L802.8 191.3L804.8 192.2L808.8 192.2L810.8 190.8L812.8 189.8L816.8 190.7L818.8 191.4L821.6 190.8L823.6 188.8L824.8 187.2L825.8 184.8L826.7 182.8L827.5 180.8L828.4 178.8L829.3 176.8L830.4 174.8L831.7 172.8L833.5 170.8L836.2 168.8L838.8 167.4L840.8 166.3L842.8 165.0L844.8 163.8L846.8 162.9L850.8 161.8L852.8 160.9L854.7 158.8L855.6 156.8L856.5 152.8L857.0 148.8L857.3 144.8L857.5 140.8L857.6 136.8L857.9 132.8L858.2 128.8L858.5 124.8L859.2 120.8L860.2 116.8L861.6 114.8L863.9 116.8L864.8 118.8L865.6 122.8L866.3 126.8L866.8 130.7L867.0 134.8L867.1 138.8L867.1 142.8L866.9 146.8L866.8 149.7L866.5 152.8L866.2 156.8L866.0 160.8L865.9 164.8L866.0 168.8L866.2 172.8L866.6 176.8L867.2 180.8L868.1 184.8L869.1 186.8L872.8 186.9L874.8 186.0L876.8 185.2L880.8 184.7L884.8 184.6L886.8 183.6L888.8 181.3L890.0 178.8L890.9 176.8L891.5 174.8L892.7 170.8L893.5 166.8L894.1 162.8L894.7 158.8L895.2 154.8L895.6 150.8L896.1 146.8L896.7 142.8L897.4 138.8L898.1 134.8L898.8 132.2L899.6 128.8L900.8 125.2L901.6 122.8L902.4 120.8L903.3 118.8L904.3 116.8L905.5 114.8L906.7 112.8L908.1 110.8L909.4 108.8L910.8 106.9L912.2 104.8L913.5 102.8L914.8 100.9L916.0 98.8L917.1 96.8L918.1 94.8L919.1 92.8L920.0 90.8L920.9 88.8L921.6 86.8L922.4 84.8L923.2 82.8L923.9 80.8L924.7 78.8L925.5 76.8L926.3 74.8L927.2 72.8L928.1 70.8L929.1 68.8L930.2 66.8L931.6 64.8L932.8 63.3L934.8 61.2L936.8 59.5L938.8 57.9L940.8 56.1L942.8 54.0L944.8 51.5L946.7 48.8ZM1078.8 356.8L1077.8 360.8L1076.8 364.8L1076.3 368.8L1075.8 372.8L1075.3 376.8L1075.1 380.8L1075.0 384.8L1075.3 388.8L1075.7 392.8L1076.3 396.8L1076.8 399.3L1077.9 402.8L1078.5 404.8L1080.3 406.8L1082.1 404.8L1083.0 402.8L1083.7 400.8L1084.4 398.8L1085.1 396.8L1085.9 394.8L1086.5 392.8L1087.2 390.8L1087.7 386.8L1087.6 382.8L1087.0 378.8L1086.2 374.8L1085.1 370.8L1084.4 368.8L1083.7 366.8L1083.0 364.8L1082.2 362.8L1081.3 360.8L1080.6 358.8L1078.8 356.8ZM810.8 226.5L809.8 228.8L808.9 230.8L808.2 234.8L807.9 238.8L808.1 242.8L810.8 243.6L812.8 240.9L813.8 238.8L814.6 236.8L815.1 232.8L814.8 229.5L813.4 226.8L810.8 226.5ZM1080.6 98.8L1083.2 100.8L1083.9 104.8L1084.2 108.8L1084.3 112.8L1084.1 116.8L1083.7 120.8L1083.2 124.8L1082.8 127.6L1081.8 130.8L1081.1 132.8L1080.0 134.8L1078.8 136.3L1077.4 134.8L1076.5 132.8L1075.8 128.8L1075.4 124.8L1075.3 120.8L1075.5 116.8L1075.9 112.8L1076.6 108.8L1077.8 104.8L1078.4 102.8L1079.3 100.8L1080.6 98.8ZM1058.3 110.8L1060.8 112.3L1062.2 114.8L1063.0 116.8L1063.6 118.8L1064.5 122.8L1064.8 125.4L1065.0 128.8L1065.0 132.8L1064.8 136.3L1064.5 138.8L1063.8 142.8L1062.8 146.2L1061.4 148.8L1058.8 150.8L1054.8 148.8L1053.7 146.8L1052.8 144.8L1051.9 140.8L1051.3 136.8L1051.1 132.8L1051.1 128.8L1051.4 124.8L1052.0 120.8L1052.8 117.7L1053.9 114.8L1054.8 113.0L1056.8 111.0ZM1194.0 138.8L1196.5 140.8L1197.4 142.8L1198.1 144.8L1198.8 147.0L1199.5 150.8L1199.9 154.8L1200.1 158.8L1200.0 162.8L1199.6 166.8L1199.0 170.8L1198.1 174.8L1196.9 178.8L1196.1 180.8L1195.1 182.8L1193.6 184.8L1190.8 186.0L1189.4 184.8L1188.1 182.8L1187.3 180.8L1186.7 178.8L1186.0 174.8L1185.7 170.8L1185.5 166.8L1185.6 162.8L1185.9 158.8L1186.4 154.8L1187.2 150.8L1188.2 146.8L1188.9 144.8L1189.9 142.8L1190.8 141.0L1192.8 138.8ZM1074.3 154.8L1076.8 156.2L1077.9 158.8L1078.6 160.8L1079.6 164.8L1080.4 168.8L1080.8 172.8L1080.8 176.8L1080.5 180.8L1079.9 184.8L1078.9 188.8L1078.2 190.8L1077.5 192.8L1076.5 194.8L1075.3 196.8L1073.4 198.8L1070.8 199.8L1068.8 199.0L1067.0 196.8L1066.1 194.8L1065.2 190.8L1064.9 186.8L1064.9 182.8L1065.1 178.8L1065.4 174.8L1065.9 170.8L1066.7 166.8L1067.7 162.8L1068.5 160.8L1069.5 158.8L1070.8 157.0L1072.8 155.2ZM818.6 350.8L819.5 352.8L819.3 356.8L817.7 354.8L818.6 350.8ZM771.0 394.8L772.8 393.1L774.4 396.8L775.3 400.8L775.7 404.8L775.8 408.8L775.6 412.8L775.1 416.8L773.5 420.8L770.8 421.1L770.2 418.8L769.6 414.8L769.3 410.8L769.4 406.8L769.6 402.8L770.1 398.8L770.8 395.1ZM796.7 450.8L797.2 454.8L796.9 458.8L796.4 454.8L796.7 450.8ZM1181.4 450.8L1184.8 450.7L1186.8 451.7L1188.3 452.8L1190.4 454.8L1191.9 456.8L1193.1 458.8L1194.1 460.8L1194.9 462.8L1195.5 464.8L1196.5 468.8L1197.2 472.8L1197.6 476.8L1197.8 480.8L1197.8 484.8L1197.6 488.8L1197.2 492.8L1196.8 495.1L1195.8 498.8L1195.0 500.8L1194.0 502.8L1192.8 504.6L1190.8 506.3L1188.8 507.1L1184.8 507.9L1180.8 508.5L1176.8 507.2L1175.4 504.8L1174.7 502.8L1174.1 498.8L1173.8 494.8L1173.7 490.8L1173.8 486.8L1174.0 482.8L1174.2 478.8L1174.6 474.8L1175.0 470.8L1175.5 466.8L1176.2 462.8L1176.8 460.2L1177.7 456.8L1178.4 454.8L1179.4 452.8L1180.8 451.1Z" fill="#f8f8ff" fill-rule="evenodd"/>
<path d="M950.8 47.8L954.8 47.8L958.8 47.8L962.8 47.8L966.8 47.8L970.8 47.8L974.8 47.8L976.8 50.2L978.6 52.8L979.9 54.8L981.1 56.8L982.4 58.8L983.7 60.8L984.8 62.6L986.3 64.8L987.6 66.8L988.8 68.5L990.5 70.8L992.0 72.8L993.6 74.8L994.8 76.4L996.6 78.8L998.2 80.8L999.8 82.8L1001.3 84.8L1002.8 86.6L1004.5 88.8L1006.1 90.8L1007.7 92.8L1009.2 94.8L1010.5 96.8L1011.8 98.8L1013.0 100.8L1014.1 102.8L1015.1 104.8L1016.1 106.8L1017.1 108.8L1018.1 110.8L1019.0 112.8L1020.0 114.8L1021.1 116.8L1022.2 118.8L1023.4 120.8L1024.7 122.8L1026.1 124.8L1027.4 126.8L1028.7 128.8L1030.0 130.8L1031.1 132.8L1032.2 134.8L1033.2 136.8L1034.2 138.8L1035.0 140.8L1035.9 142.8L1036.6 144.8L1037.4 146.8L1038.1 148.8L1038.7 150.8L1039.3 152.8L1040.5 156.8L1041.5 160.8L1042.5 164.8L1043.4 168.8L1044.3 172.8L1044.8 175.4L1045.6 178.8L1046.4 182.8L1047.4 186.8L1048.4 190.8L1049.7 194.8L1050.3 196.8L1051.0 198.8L1051.8 200.8L1052.4 202.8L1053.1 204.8L1053.7 206.8L1054.6 210.8L1055.2 214.8L1055.5 218.8L1055.6 222.8L1055.5 226.8L1055.4 230.8L1055.3 234.8L1055.3 238.8L1055.3 242.8L1055.5 246.8L1055.9 250.8L1056.6 254.8L1057.8 258.8L1058.5 260.8L1059.6 262.8L1060.8 264.7L1062.8 266.6L1064.8 267.6L1068.8 267.5L1070.8 266.8L1072.8 266.0L1074.8 265.1L1076.8 264.3L1078.8 263.5L1080.8 262.5L1082.8 261.0L1084.6 258.8L1085.7 256.8L1086.7 254.8L1087.4 252.8L1088.1 250.8L1088.7 248.8L1089.9 244.8L1090.5 242.8L1091.2 240.8L1092.0 238.8L1092.9 236.8L1094.6 234.8L1098.5 236.8L1099.5 238.8L1100.4 240.8L1101.1 242.8L1101.7 244.8L1102.3 246.8L1103.0 248.8L1103.6 250.8L1104.2 252.8L1105.5 256.8L1106.1 258.8L1106.8 260.8L1107.6 262.8L1108.4 264.8L1109.3 266.8L1110.4 268.8L1112.7 270.8L1114.2 268.8L1115.0 266.8L1115.6 262.8L1115.8 258.8L1115.7 254.8L1115.5 250.8L1115.2 246.8L1114.9 242.8L1114.8 239.1L1114.7 234.8L1114.8 231.7L1114.9 228.8L1115.4 224.8L1116.3 220.8L1117.0 218.8L1118.5 216.8L1122.8 218.2L1124.7 220.8L1125.8 222.8L1126.8 224.5L1128.1 226.8L1129.5 228.8L1132.8 229.7L1134.8 228.1L1136.8 225.7L1138.8 222.8L1140.0 220.8L1141.3 218.8L1142.6 216.8L1144.1 214.8L1146.0 212.8L1148.8 211.2L1152.8 211.8L1154.8 213.1L1156.6 214.8L1158.4 216.8L1160.0 218.8L1161.4 220.8L1162.8 222.7L1164.4 224.8L1166.1 226.8L1167.5 228.8L1168.6 230.8L1169.4 232.8L1170.2 236.8L1170.6 240.8L1170.7 244.8L1170.7 248.8L1170.7 252.8L1170.8 256.8L1170.9 260.8L1171.1 264.8L1171.4 268.8L1171.8 272.8L1172.4 276.8L1172.8 279.2L1173.6 282.8L1174.6 286.8L1175.2 288.8L1175.9 290.8L1176.6 292.8L1177.5 294.8L1178.4 296.8L1179.5 298.8L1180.6 300.8L1182.1 302.8L1184.3 304.8L1186.8 305.3L1188.8 303.4L1189.8 300.8L1190.8 297.1L1191.1 294.8L1191.7 290.8L1192.2 286.8L1192.8 283.4L1193.2 280.8L1194.1 276.8L1194.8 274.4L1195.9 270.8L1196.7 268.8L1197.5 266.8L1198.4 264.8L1199.2 262.8L1200.1 260.8L1200.9 258.8L1201.7 256.8L1202.6 254.8L1203.5 252.8L1204.5 250.8L1205.6 248.8L1206.8 247.2L1208.8 245.5L1212.8 245.4L1214.7 246.8L1216.2 248.8L1217.2 250.8L1218.0 252.8L1218.6 254.8L1219.6 258.8L1220.4 262.8L1221.3 266.8L1222.3 270.8L1223.5 274.8L1224.3 276.8L1225.2 278.8L1226.4 280.8L1227.6 282.8L1228.8 284.6L1230.0 286.8L1232.2 288.3L1232.2 292.8L1232.2 296.8L1232.2 300.8L1232.2 304.8L1232.2 308.8L1232.2 312.8L1232.2 316.8L1232.2 320.8L1232.2 324.8L1232.2 328.8L1232.2 332.8L1232.2 336.8L1232.2 340.8L1232.2 344.8L1232.2 348.8L1232.2 352.8L1232.2 356.8L1232.2 360.8L1232.2 364.7L1230.2 366.8L1229.0 370.8L1228.4 372.8L1227.1 376.8L1226.5 378.8L1225.9 380.8L1225.3 382.8L1224.6 384.8L1223.9 386.8L1223.2 388.8L1222.4 390.8L1221.5 392.8L1220.3 394.8L1218.8 396.7L1216.8 397.4L1214.8 396.5L1213.2 394.8L1211.8 392.8L1210.8 390.8L1209.9 388.8L1209.1 386.8L1208.4 384.8L1207.8 382.8L1206.8 378.8L1205.9 374.8L1205.2 370.8L1204.8 367.9L1204.2 364.8L1203.7 360.8L1203.4 356.8L1203.1 352.8L1202.9 348.8L1202.8 346.0L1201.4 342.8L1200.1 344.8L1199.2 348.8L1198.3 352.8L1197.4 356.8L1196.8 358.8L1195.7 362.8L1195.1 364.8L1194.5 366.8L1193.9 368.8L1193.2 370.8L1192.5 372.8L1191.8 374.8L1191.0 376.8L1190.2 378.8L1189.3 380.8L1188.2 382.8L1187.1 384.8L1185.6 386.8L1183.8 388.8L1181.2 390.8L1178.8 391.5L1176.8 390.9L1174.8 388.8L1173.7 386.8L1172.8 385.0L1171.9 382.8L1171.2 380.8L1170.5 378.8L1169.8 376.8L1169.2 374.8L1168.0 370.8L1167.4 368.8L1166.8 366.7L1165.4 362.8L1164.7 360.8L1163.8 358.8L1162.9 356.8L1161.9 354.8L1160.9 352.8L1159.9 350.8L1158.8 348.8L1157.7 346.8L1156.8 345.0L1155.3 342.8L1153.1 340.8L1150.8 341.9L1149.7 344.8L1148.8 348.3L1148.4 350.8L1147.8 354.8L1147.3 358.8L1146.8 362.8L1146.4 366.8L1145.9 370.8L1145.4 374.8L1144.9 378.8L1144.3 382.8L1143.7 386.8L1143.0 390.8L1142.2 394.8L1141.2 398.8L1140.0 402.8L1139.3 404.8L1138.3 406.8L1136.8 408.8L1134.8 408.1L1133.6 404.8L1132.8 401.5L1132.3 398.8L1131.7 394.8L1131.1 390.8L1130.4 386.8L1129.7 382.8L1129.0 378.8L1128.2 374.8L1127.3 370.8L1126.8 368.0L1126.0 364.8L1125.0 360.8L1123.6 356.8L1120.8 355.2L1119.7 356.8L1118.4 358.8L1117.4 360.8L1116.5 362.8L1115.8 364.8L1115.1 366.8L1114.4 368.8L1113.8 370.8L1113.2 372.8L1112.5 374.8L1111.8 376.8L1111.1 378.8L1110.4 380.8L1109.5 382.8L1108.5 384.8L1107.2 386.8L1105.0 388.8L1102.8 389.6L1099.1 388.8L1096.8 387.5L1094.8 385.5L1093.1 382.8L1092.2 380.8L1091.5 378.8L1090.9 376.8L1090.2 374.8L1089.6 372.8L1088.8 369.7L1087.9 366.8L1086.8 362.8L1086.2 360.8L1085.2 356.8L1084.2 352.8L1083.4 348.8L1082.8 345.4L1082.1 342.8L1081.1 338.8L1080.5 336.8L1079.4 334.8L1076.8 333.3L1074.8 336.8L1073.9 340.8L1073.5 344.8L1073.2 348.8L1073.1 352.8L1073.0 356.8L1072.9 360.8L1072.8 363.5L1072.6 366.8L1072.4 370.8L1072.3 374.8L1072.2 378.8L1072.2 382.8L1072.4 386.8L1072.7 390.8L1073.3 394.8L1073.9 398.8L1074.6 402.8L1075.5 406.8L1076.2 410.8L1076.8 414.0L1077.4 416.8L1078.0 420.8L1078.4 424.8L1078.7 428.8L1079.0 432.8L1079.2 436.8L1079.4 440.8L1079.5 444.8L1079.7 448.8L1079.8 452.8L1079.9 456.8L1079.8 460.8L1079.5 464.8L1078.8 468.8L1077.6 470.8L1074.8 471.8L1070.8 471.8L1066.8 471.6L1064.8 471.0L1062.8 469.8L1060.8 468.0L1058.8 464.8L1058.0 462.8L1057.0 458.8L1056.5 454.8L1056.1 450.8L1055.8 446.8L1055.6 442.8L1055.3 438.8L1055.1 434.8L1054.8 430.8L1054.4 426.8L1053.9 422.8L1053.1 418.8L1051.7 414.8L1050.3 412.8L1046.8 411.8L1045.0 412.8L1043.3 414.8L1042.2 416.8L1041.3 418.8L1040.5 420.8L1039.9 422.8L1038.8 426.7L1037.9 430.8L1037.0 434.8L1036.3 438.8L1035.6 442.8L1034.9 446.8L1034.2 450.8L1033.5 454.8L1032.9 458.8L1032.3 462.8L1031.8 466.8L1031.2 470.8L1030.8 473.8L1030.2 476.8L1029.2 480.8L1027.6 484.8L1025.3 486.8L1022.8 485.3L1021.1 482.8L1020.0 480.8L1018.8 478.8L1017.5 476.8L1015.8 474.8L1012.8 473.1L1010.8 474.2L1009.3 476.8L1008.5 478.8L1007.5 482.8L1006.8 486.8L1006.2 490.8L1005.7 494.8L1005.3 498.8L1005.0 502.8L1004.8 506.2L1004.6 508.8L1004.3 512.8L1003.9 516.8L1003.5 520.8L1003.0 524.8L1002.1 528.8L1001.5 530.8L1000.6 532.8L998.8 533.9L996.8 530.8L996.1 526.8L995.7 522.8L995.5 518.8L995.4 514.8L995.1 510.8L994.8 507.9L994.3 504.8L993.2 500.8L992.4 498.8L991.5 496.8L990.4 494.8L989.2 492.8L987.8 490.8L986.1 488.8L983.6 486.8L980.8 485.8L976.8 486.6L974.8 487.6L972.8 488.7L970.8 489.7L968.8 490.5L964.8 491.2L960.8 490.2L958.8 489.2L956.8 487.9L955.2 486.8L952.8 485.0L950.8 483.6L948.8 482.2L946.9 480.8L944.8 479.1L942.8 477.4L940.8 476.0L936.8 476.1L934.8 477.8L932.8 479.8L930.8 481.1L926.8 479.5L924.8 476.8L923.7 474.8L922.5 472.8L921.5 470.8L920.4 468.8L919.5 466.8L918.6 464.8L917.8 462.8L917.1 460.8L916.4 458.8L915.7 456.8L914.8 453.3L914.1 450.8L913.2 446.8L912.3 442.8L911.4 438.8L910.8 436.1L909.4 432.8L907.2 430.8L905.0 432.8L904.2 434.8L903.1 438.8L902.2 442.8L901.3 446.8L900.8 449.0L899.4 452.8L898.1 454.8L894.8 456.6L890.8 454.8L888.9 452.8L887.6 450.8L886.6 448.8L885.8 446.8L885.1 444.8L884.1 440.8L883.3 436.8L882.8 433.9L882.2 430.8L881.5 426.8L880.8 423.3L880.0 420.8L879.4 418.8L878.8 416.8L877.8 414.8L876.9 412.8L875.6 410.8L873.5 408.8L870.8 408.8L869.3 410.8L868.3 412.8L867.6 414.8L867.0 416.8L866.1 420.8L865.4 424.8L864.8 428.6L864.3 430.8L863.7 432.8L862.6 434.8L861.5 436.8L860.1 438.8L858.8 440.5L857.3 442.8L855.6 444.8L853.3 446.8L850.8 447.4L848.8 446.3L846.8 443.6L845.4 440.8L844.6 438.8L843.9 436.8L842.8 432.8L841.8 428.8L841.1 424.8L840.3 420.8L839.6 416.8L838.9 412.8L837.9 408.8L836.9 404.8L836.3 402.8L835.6 400.8L834.8 397.4L834.0 394.8L833.3 390.8L832.8 386.8L832.4 382.8L832.2 378.8L832.0 374.8L832.0 370.8L832.1 366.8L832.1 362.8L832.2 358.8L832.2 354.8L832.1 350.8L831.8 346.8L831.2 342.8L830.8 340.5L829.7 336.8L829.0 334.8L828.1 332.8L827.1 330.8L826.0 328.8L824.9 326.8L823.8 324.8L822.8 323.0L821.6 320.8L820.6 318.8L819.7 316.8L818.9 314.8L818.1 312.8L817.3 310.8L816.6 308.8L815.8 306.8L815.1 304.8L814.4 302.8L813.6 300.8L812.9 298.8L812.2 296.8L811.6 294.8L810.8 292.0L809.8 288.8L809.0 284.8L808.2 280.8L807.7 276.8L807.4 272.8L807.4 268.8L807.8 264.8L808.8 261.2L809.5 258.8L810.3 256.8L811.3 254.8L812.6 252.8L814.1 250.8L815.9 248.8L817.8 246.8L819.3 244.8L820.5 242.8L821.4 240.8L822.0 238.8L822.8 235.6L823.3 232.8L823.6 228.8L823.6 224.8L823.2 220.8L822.8 216.8L822.8 212.8L823.4 208.8L824.6 204.8L825.6 200.8L826.6 196.8L827.5 192.8L828.6 188.8L829.8 184.8L830.5 182.8L831.4 180.8L832.5 178.8L834.1 176.8L836.7 174.8L838.8 173.8L840.7 172.8L842.8 171.7L844.7 170.8L846.8 170.1L850.8 169.9L854.8 169.9L858.8 169.9L860.8 172.7L861.7 176.8L862.3 180.8L862.6 184.8L862.7 188.8L862.6 192.8L862.3 196.8L861.8 200.8L861.2 204.8L860.8 207.8L860.4 210.8L860.1 214.8L859.9 218.8L860.5 222.8L861.9 224.8L864.8 224.5L865.8 222.8L866.8 220.9L867.6 216.8L868.3 212.8L868.8 209.7L869.1 206.8L869.8 202.8L870.8 199.6L871.8 196.8L872.8 195.1L874.5 192.8L876.8 191.0L878.8 190.3L882.8 190.5L886.8 190.3L888.8 188.8L890.2 186.8L891.3 184.8L892.1 182.8L892.9 180.8L893.5 178.8L894.6 174.8L895.3 170.8L895.9 166.8L896.4 162.8L896.8 159.5L897.0 156.8L897.4 152.8L897.9 148.8L898.4 144.8L899.1 140.8L899.8 136.8L900.8 133.1L901.4 130.8L902.1 128.8L902.8 126.8L903.7 124.8L904.6 122.8L905.8 120.8L906.8 119.1L908.4 116.8L909.9 114.8L911.5 112.8L912.8 111.1L914.5 108.8L915.9 106.8L917.2 104.8L918.4 102.8L919.5 100.8L920.5 98.8L921.4 96.8L922.3 94.8L923.1 92.8L923.8 90.8L924.5 88.8L925.2 86.8L925.9 84.8L926.7 82.8L927.4 80.8L928.2 78.8L929.1 76.8L930.0 74.8L931.1 72.8L932.4 70.8L934.0 68.8L936.0 66.8L938.4 64.8L940.7 62.8L942.5 60.8L944.0 58.8L945.4 56.8L946.7 54.8L948.0 52.8L949.3 50.8L950.8 48.8ZM834.8 223.4L833.0 224.8L832.6 228.8L834.3 232.8L836.8 234.5L838.8 233.1L839.4 230.8L839.0 226.8L837.7 224.8L834.8 223.4ZM846.8 308.5L845.8 310.8L844.8 314.8L844.7 318.8L845.4 322.8L846.6 324.8L848.8 324.4L850.8 321.2L851.5 318.8L852.0 314.8L851.4 310.8L850.4 308.8L848.8 307.5L846.8 308.5ZM1056.2 120.8L1058.8 119.7L1060.4 122.8L1061.2 126.8L1061.3 130.8L1060.9 134.8L1059.5 138.8L1056.8 140.5L1055.7 138.8L1054.8 136.8L1054.3 132.8L1054.2 128.8L1054.6 124.8L1056.2 120.8ZM862.5 136.8L862.8 140.8L862.5 136.8ZM1192.0 148.8L1194.8 149.1L1196.2 152.8L1196.8 155.5L1197.0 158.8L1197.0 162.8L1196.8 165.7L1196.2 168.8L1195.2 172.8L1194.4 174.8L1193.2 176.8L1190.8 177.7L1189.1 174.8L1188.2 170.8L1187.9 166.8L1188.0 162.8L1188.3 158.8L1188.8 156.0L1189.7 152.8L1190.5 150.8L1192.0 148.8ZM1072.1 170.8L1074.8 171.6L1075.6 174.8L1075.8 178.8L1075.4 182.8L1074.8 185.5L1072.8 188.6L1070.2 186.8L1069.4 182.8L1069.5 178.8L1070.1 174.8L1070.8 172.5L1072.1 170.8ZM793.1 196.8L794.8 195.6L798.8 195.6L800.5 196.8L802.3 198.8L803.6 200.8L804.5 202.8L805.2 204.8L806.1 208.8L806.3 212.8L806.3 216.8L805.9 220.8L805.5 224.8L804.9 228.8L804.4 232.8L804.0 236.8L803.6 240.8L803.2 244.8L802.9 248.8L802.6 252.8L802.3 256.8L801.8 260.8L801.1 264.8L800.1 268.8L798.9 272.8L797.9 276.8L797.0 280.8L796.5 284.8L796.6 288.8L797.1 292.8L797.8 296.8L798.8 300.4L799.2 302.8L800.0 306.8L800.7 310.8L801.3 314.8L801.7 318.8L801.9 322.8L802.1 326.8L802.1 330.8L802.0 334.8L801.8 338.8L801.4 342.8L801.0 346.8L800.5 350.8L800.1 354.8L799.7 358.8L799.4 362.8L799.2 366.8L799.2 370.8L799.3 374.8L799.4 378.8L799.5 382.8L799.5 386.8L799.3 390.8L798.8 394.8L797.7 398.8L796.8 400.8L794.8 401.9L792.8 400.0L791.2 396.8L790.4 394.8L789.8 392.8L788.8 389.3L788.2 386.8L787.4 382.8L786.8 379.1L786.4 376.8L785.9 372.8L785.6 368.8L785.3 364.8L785.2 360.8L785.2 356.8L785.3 352.8L785.5 348.8L785.8 344.8L786.1 340.8L786.5 336.8L786.8 334.0L787.0 330.8L787.4 326.8L787.7 322.8L787.9 318.8L788.2 314.8L788.4 310.8L788.6 306.8L788.7 302.8L788.9 298.8L788.9 294.8L788.8 290.8L788.5 286.8L788.0 282.8L787.4 278.8L786.8 275.6L786.3 272.8L785.7 268.8L785.1 264.8L784.8 262.0L784.4 258.8L784.1 254.8L783.9 250.8L783.8 246.8L783.9 242.8L784.0 238.8L784.2 234.8L784.5 230.8L784.8 227.4L785.0 224.8L785.4 220.8L785.9 216.8L786.6 212.8L787.4 208.8L788.6 204.8L789.4 202.8L790.3 200.8L791.5 198.8L792.8 197.1ZM723.8 220.8L726.8 222.0L727.8 224.8L728.4 226.8L729.2 230.8L729.8 234.8L730.5 238.8L731.6 242.8L732.8 244.7L734.8 246.8L736.8 248.3L738.8 250.0L740.8 252.2L742.5 254.8L743.6 256.8L744.5 258.8L745.3 260.8L746.0 262.8L746.7 264.8L747.4 266.8L748.1 268.8L748.8 270.8L749.7 272.8L750.6 274.8L752.2 276.8L754.8 278.6L758.8 277.3L760.0 274.8L760.7 272.8L761.5 268.8L762.1 264.8L762.6 260.8L763.1 256.8L763.7 252.8L764.5 248.8L765.4 244.8L766.6 240.8L767.6 238.8L768.8 236.8L772.3 238.8L773.2 240.8L773.8 242.8L774.8 246.8L775.4 250.8L775.7 254.8L775.7 258.8L775.5 262.8L775.1 266.8L774.8 269.7L774.5 272.8L774.2 276.8L774.2 280.8L774.5 284.8L775.1 288.8L775.9 292.8L776.5 296.8L777.1 300.8L777.4 304.8L777.4 308.8L777.2 312.8L776.8 315.9L776.3 318.8L775.4 322.8L774.8 325.3L773.5 328.8L772.8 330.8L771.8 332.8L770.9 334.8L770.0 336.8L769.1 338.8L768.3 340.8L767.6 342.8L766.9 344.8L766.2 346.8L765.5 348.8L764.8 350.8L763.8 352.8L762.8 354.6L760.8 356.7L758.8 357.8L754.8 358.7L752.8 359.4L750.8 360.7L748.8 362.8L747.7 364.8L746.8 366.8L746.2 368.8L745.2 372.8L744.8 375.6L744.4 378.8L744.1 382.8L744.0 386.8L744.0 390.8L744.1 394.8L744.2 398.8L744.3 402.8L744.5 406.8L744.6 410.8L744.7 414.8L745.0 418.8L745.3 422.8L745.7 426.8L746.2 430.8L746.8 433.6L747.7 436.8L748.4 438.8L749.4 440.8L750.4 442.8L751.7 444.8L752.8 446.5L754.2 448.8L755.2 450.8L756.1 452.8L756.7 454.8L757.3 458.8L757.4 462.8L756.9 466.8L755.9 470.8L755.3 472.8L754.4 474.8L753.3 476.8L751.9 478.8L749.9 480.8L746.8 482.5L742.8 482.9L738.8 484.4L737.2 486.8L737.0 490.8L737.4 494.8L737.8 498.8L738.0 502.8L738.0 506.8L737.9 510.8L737.5 514.8L736.8 518.7L735.9 520.8L735.0 522.8L732.8 523.8L730.9 520.8L730.0 516.8L729.6 512.8L729.6 508.8L729.9 504.8L730.4 500.8L730.8 498.5L731.8 494.8L732.7 490.8L733.6 488.8L733.8 484.8L732.8 481.5L732.0 478.8L731.3 476.8L730.5 474.8L729.9 472.8L729.2 470.8L728.5 468.8L727.4 464.8L726.8 462.1L726.1 458.8L725.3 454.8L724.8 451.2L724.4 448.8L723.8 444.8L723.4 440.8L723.0 436.8L722.8 434.4L722.4 430.8L722.1 426.8L721.9 422.8L721.8 418.8L721.8 414.8L721.9 410.8L722.0 406.8L722.0 402.8L722.0 398.8L721.8 394.8L721.2 390.8L720.2 386.8L719.4 384.8L718.5 382.8L717.5 380.8L716.4 378.8L715.3 376.8L714.2 374.8L712.9 372.8L711.5 370.8L710.0 368.8L708.8 367.4L706.8 364.8L705.6 362.8L704.6 360.8L703.8 358.8L703.1 356.8L702.1 352.8L701.2 348.8L700.8 346.3L699.8 342.8L699.8 338.8L699.8 334.8L699.8 330.8L699.8 326.8L699.8 322.8L699.8 318.8L699.8 314.8L699.8 310.8L699.8 306.8L699.8 302.8L699.8 298.8L699.8 294.8L700.8 292.7L701.9 288.8L702.6 286.8L703.7 284.8L704.8 283.1L706.8 280.9L708.8 279.4L710.8 278.0L712.5 276.8L714.7 274.8L716.2 272.8L717.2 270.8L717.9 268.8L718.6 266.8L719.6 262.8L720.3 258.8L720.8 255.1L721.0 250.8L721.0 246.8L720.9 242.8L720.8 239.7L720.7 236.8L720.8 232.8L721.2 228.8L721.9 224.8L722.8 221.9ZM821.3 408.8L824.8 407.9L826.8 409.4L828.4 412.8L829.4 416.8L829.9 420.8L830.1 424.8L830.0 428.8L829.5 432.8L828.8 435.9L827.8 438.8L826.9 440.8L825.7 442.8L823.9 444.8L820.8 446.2L818.8 445.6L816.8 443.5L815.5 440.8L814.9 438.8L814.1 434.8L813.9 430.8L814.0 426.8L814.6 422.8L815.5 418.8L816.2 416.8L817.0 414.8L818.0 412.8L819.3 410.8L820.8 409.1ZM1180.8 458.8L1182.8 457.1L1186.8 457.5L1188.8 458.8L1190.7 460.8L1191.9 462.8L1192.9 464.8L1193.6 466.8L1194.3 468.8L1195.2 472.8L1195.7 476.8L1196.0 480.8L1195.9 484.8L1195.6 488.8L1194.9 492.8L1193.6 496.8L1192.5 498.8L1190.8 500.8L1188.8 501.8L1184.8 502.4L1180.8 501.8L1178.8 500.2L1177.3 496.8L1176.4 492.8L1176.1 488.8L1176.0 484.8L1176.2 480.8L1176.4 476.8L1176.8 473.3L1177.1 470.8L1177.9 466.8L1178.8 463.2L1179.7 460.8L1180.8 458.8Z" fill="#f7f7ff" fill-rule="evenodd"/>
<path d="M954.1 47.8L956.8 47.8L960.8 47.8L964.8 47.8L968.8 47.8L972.2 47.8L973.9 50.8L975.4 52.8L976.7 54.8L978.0 56.8L979.2 58.8L980.3 60.8L981.5 62.8L982.5 64.8L983.7 66.8L984.8 68.8L986.0 70.8L987.2 72.8L988.4 74.8L989.7 76.8L991.1 78.8L992.5 80.8L994.0 82.8L995.5 84.8L996.8 86.4L998.6 88.8L1000.3 90.8L1002.0 92.8L1003.7 94.8L1005.5 96.8L1006.8 98.2L1008.8 100.6L1010.3 102.8L1011.6 104.8L1012.8 106.7L1014.0 108.8L1015.0 110.8L1016.0 112.8L1017.0 114.8L1018.1 116.8L1019.1 118.8L1020.2 120.8L1021.5 122.8L1022.8 124.8L1024.2 126.8L1025.6 128.8L1026.8 130.3L1028.5 132.8L1029.8 134.8L1030.8 136.4L1032.1 138.8L1033.1 140.8L1034.0 142.8L1034.8 144.7L1035.6 146.8L1036.4 148.8L1037.1 150.8L1037.7 152.8L1038.3 154.8L1039.5 158.8L1040.5 162.8L1041.5 166.8L1042.4 170.8L1043.2 174.8L1044.1 178.8L1044.8 182.3L1045.3 184.8L1046.2 188.8L1046.8 191.5L1047.6 194.8L1048.6 198.8L1049.8 202.8L1050.8 206.5L1051.4 208.8L1052.3 212.8L1052.8 216.2L1053.0 218.8L1053.3 222.8L1053.4 226.8L1053.3 230.8L1053.3 234.8L1053.2 238.8L1053.2 242.8L1053.4 246.8L1053.7 250.8L1054.2 254.8L1054.8 258.0L1055.5 260.8L1056.1 262.8L1056.9 264.8L1057.9 266.8L1059.2 268.8L1060.8 270.6L1062.8 272.0L1064.8 272.8L1068.8 272.5L1070.8 271.9L1072.8 271.0L1074.8 270.1L1076.8 269.3L1078.8 268.4L1080.8 267.5L1082.8 266.2L1084.2 264.8L1085.7 262.8L1086.8 261.0L1087.6 258.8L1088.4 256.8L1089.1 254.8L1089.7 252.8L1090.3 250.8L1090.9 248.8L1091.6 246.8L1092.4 244.8L1093.4 242.8L1094.8 240.9L1098.2 242.8L1099.3 244.8L1100.1 246.8L1100.9 248.8L1101.5 250.8L1102.2 252.8L1102.8 254.8L1103.5 256.8L1104.1 258.8L1104.7 260.8L1105.4 262.8L1106.0 264.8L1106.7 266.8L1107.4 268.8L1108.1 270.8L1108.7 272.8L1109.6 274.8L1110.3 276.8L1111.3 278.8L1112.5 280.8L1114.8 281.9L1116.8 279.9L1118.6 276.8L1120.8 275.2L1122.2 278.8L1122.8 281.0L1123.4 284.8L1123.8 288.8L1123.9 292.8L1123.8 296.8L1123.4 300.8L1122.9 304.8L1122.3 308.8L1121.7 312.8L1121.2 316.8L1120.8 320.4L1120.6 322.8L1120.3 326.8L1120.1 330.8L1119.8 334.8L1119.5 338.8L1118.9 342.8L1118.3 346.8L1117.5 350.8L1116.8 353.1L1115.9 356.8L1114.8 360.6L1114.2 362.8L1113.1 366.8L1111.9 370.8L1111.3 372.8L1110.6 374.8L1109.9 376.8L1109.1 378.8L1108.0 380.8L1106.8 382.8L1104.8 384.6L1101.3 384.8L1098.8 383.4L1096.8 381.2L1095.2 378.8L1094.2 376.8L1093.4 374.8L1092.6 372.8L1091.9 370.8L1091.3 368.8L1090.7 366.8L1090.0 364.8L1088.9 360.8L1087.8 356.8L1086.8 352.8L1085.9 348.8L1085.1 344.8L1084.3 340.8L1083.4 336.8L1082.8 333.8L1081.8 330.8L1081.0 328.8L1079.9 326.8L1078.8 325.3L1074.8 326.4L1073.4 328.8L1072.5 330.8L1071.9 332.8L1071.0 336.8L1070.6 340.8L1070.3 344.8L1070.3 348.8L1070.2 352.8L1070.2 356.8L1070.2 360.8L1070.1 364.8L1070.0 368.8L1069.9 372.8L1069.8 376.8L1069.9 380.8L1070.0 384.8L1070.3 388.8L1070.8 392.2L1071.1 394.8L1071.8 398.8L1072.6 402.8L1073.3 406.8L1074.0 410.8L1074.6 414.8L1075.2 418.8L1075.6 422.8L1075.9 426.8L1076.1 430.8L1076.2 434.8L1076.2 438.8L1076.1 442.8L1076.0 446.8L1075.7 450.8L1075.1 454.8L1074.1 458.8L1073.1 460.8L1071.6 462.8L1068.8 464.5L1064.8 463.8L1062.8 461.9L1061.0 458.8L1060.3 456.8L1059.2 452.8L1058.8 450.3L1058.3 446.8L1057.8 442.8L1057.5 438.8L1057.1 434.8L1056.8 430.8L1056.4 426.8L1056.0 422.8L1055.6 418.8L1054.9 414.8L1053.8 410.8L1053.0 408.8L1050.8 406.8L1047.3 406.8L1044.8 408.2L1042.8 410.6L1041.6 412.8L1040.8 414.5L1040.0 416.8L1039.3 418.8L1038.6 420.8L1037.5 424.8L1036.8 427.6L1036.0 430.8L1035.1 434.8L1034.1 438.8L1033.3 442.8L1032.8 445.3L1032.0 448.8L1031.2 452.8L1030.8 455.5L1030.2 458.8L1029.5 462.8L1028.9 466.8L1027.9 470.8L1026.8 474.8L1024.8 476.7L1022.8 475.5L1020.8 472.8L1019.4 470.8L1017.9 468.8L1016.0 466.8L1012.8 464.8L1009.3 466.8L1008.2 468.8L1007.4 470.8L1006.6 472.8L1005.6 476.8L1004.8 480.7L1003.9 484.8L1003.1 488.8L1002.3 492.8L1001.2 496.8L1000.5 498.8L998.8 500.1L996.8 497.6L994.9 494.8L993.5 492.8L992.0 490.8L990.8 489.2L988.9 486.8L987.2 484.8L985.0 482.8L982.8 481.5L978.8 481.1L976.8 481.7L974.8 482.7L972.8 483.8L970.8 484.8L968.8 485.7L964.8 486.3L960.8 485.2L958.8 484.0L957.3 482.8L955.0 480.8L952.9 478.8L950.9 476.8L949.0 474.8L947.2 472.8L945.4 470.8L943.6 468.8L941.4 466.8L938.8 465.2L934.8 465.7L932.8 467.4L931.3 468.8L928.8 470.5L924.9 468.8L923.2 466.8L921.9 464.8L920.8 463.0L919.7 460.8L918.8 458.8L918.1 456.8L917.4 454.8L916.8 452.8L915.8 448.8L914.9 444.8L914.1 440.8L913.4 436.8L912.8 433.3L912.1 430.8L910.9 426.8L909.8 424.8L907.3 422.8L904.8 424.0L903.2 426.8L902.4 428.8L901.3 432.8L900.3 436.8L899.4 440.8L898.8 443.2L897.3 446.8L895.9 448.8L892.8 449.9L890.9 448.8L889.3 446.8L888.2 444.8L887.3 442.8L886.6 440.8L885.7 436.8L884.9 432.8L884.2 428.8L883.4 424.8L882.8 421.6L882.0 418.8L880.8 414.8L880.0 412.8L879.1 410.8L878.0 408.8L876.9 406.8L875.5 404.8L873.5 402.8L870.8 402.3L868.8 404.2L867.2 406.8L866.3 408.8L865.5 410.8L864.8 412.8L864.1 414.8L863.0 418.8L862.0 422.8L860.8 426.8L859.6 430.8L858.8 432.8L858.0 434.8L857.1 436.8L856.0 438.8L854.8 440.6L852.8 442.5L848.8 441.5L847.1 438.8L846.2 436.8L845.5 434.8L844.8 432.8L843.8 428.8L843.1 424.8L842.4 420.8L841.7 416.8L841.1 412.8L840.8 410.4L840.0 406.8L839.2 402.8L838.1 398.8L837.1 394.8L836.1 390.8L835.4 386.8L834.8 382.8L834.4 378.8L834.2 374.8L834.1 370.8L834.1 366.8L834.1 362.8L834.2 358.8L834.3 354.8L834.4 350.8L834.3 346.8L834.1 342.8L833.4 338.8L832.8 336.4L831.6 332.8L830.7 330.8L829.7 328.8L828.8 326.9L827.6 324.8L826.5 322.8L825.3 320.8L824.1 318.8L823.0 316.8L821.9 314.8L820.9 312.8L820.0 310.8L819.1 308.8L818.3 306.8L817.5 304.8L816.8 302.8L816.0 300.8L815.3 298.8L814.6 296.8L813.9 294.8L813.3 292.8L812.2 288.8L811.3 284.8L810.8 281.2L810.5 278.8L810.3 274.8L810.4 270.8L810.8 267.7L811.4 264.8L812.7 260.8L813.9 258.8L815.4 256.8L817.9 254.8L820.7 252.8L822.8 251.1L824.8 249.1L826.8 247.4L828.8 246.8L832.8 248.0L834.8 248.8L838.8 248.1L840.2 246.8L842.0 244.8L843.6 242.8L844.8 241.2L846.3 238.8L847.4 236.8L848.3 234.8L849.0 232.8L849.3 228.8L848.6 226.8L848.0 224.8L847.1 222.8L846.1 220.8L845.1 218.8L843.9 216.8L842.8 215.1L840.9 212.8L839.0 210.8L836.8 208.8L834.8 206.8L833.4 204.8L832.6 202.8L831.8 198.8L831.8 194.8L832.3 190.8L832.8 188.6L834.5 184.8L836.1 182.8L838.8 180.9L840.8 180.0L842.8 179.0L844.8 178.2L848.8 177.6L852.8 178.7L854.8 180.1L856.7 182.8L857.5 184.8L858.2 188.8L858.5 192.8L858.4 196.8L858.1 200.8L857.7 204.8L857.1 208.8L856.4 212.8L855.6 216.8L854.9 220.8L854.0 224.8L853.6 228.8L854.8 231.6L856.8 233.4L860.8 233.8L863.6 232.8L866.3 230.8L867.6 228.8L868.5 226.8L869.5 222.8L870.1 218.8L870.7 214.8L871.2 210.8L871.9 206.8L872.8 203.7L873.8 200.8L874.8 198.8L876.4 196.8L878.8 195.3L882.8 195.6L886.8 196.1L888.8 195.2L890.8 193.0L892.1 190.8L893.0 188.8L893.8 186.8L894.6 184.8L895.7 180.8L896.5 176.8L897.2 172.8L897.6 168.8L898.0 164.8L898.4 160.8L898.8 156.8L899.1 152.8L899.6 148.8L900.1 144.8L900.8 141.4L901.3 138.8L902.3 134.8L903.0 132.8L903.7 130.8L904.5 128.8L905.5 126.8L906.6 124.8L908.0 122.8L909.5 120.8L910.8 119.2L912.7 116.8L914.4 114.8L916.0 112.8L917.5 110.8L918.8 109.0L920.1 106.8L921.2 104.8L922.2 102.8L923.1 100.8L923.9 98.8L924.7 96.8L925.4 94.8L926.1 92.8L926.8 90.8L927.4 88.8L928.1 86.8L928.8 84.8L929.6 82.8L930.5 80.8L931.5 78.8L932.6 76.8L934.1 74.8L936.0 72.8L938.2 70.8L940.3 68.8L942.0 66.8L943.5 64.8L944.8 63.0L946.0 60.8L947.2 58.8L948.4 56.8L949.7 54.8L950.8 53.2L952.4 50.8L954.1 48.8ZM846.8 300.4L844.8 302.7L843.9 304.8L843.3 306.8L842.8 309.0L842.2 312.8L841.8 316.8L841.6 320.8L841.7 324.8L842.3 328.8L842.9 330.8L844.2 332.8L846.8 333.8L848.4 332.8L850.1 330.8L851.5 328.8L852.7 326.8L853.7 324.8L854.5 322.8L855.1 320.8L855.8 316.8L855.8 312.8L855.1 308.8L854.4 306.8L853.5 304.8L852.3 302.8L850.8 301.1L848.8 300.1ZM794.5 200.8L796.8 200.3L798.8 201.4L799.9 202.8L801.0 204.8L801.8 206.8L802.7 210.8L803.1 214.8L803.2 218.8L803.0 222.8L802.8 225.3L802.4 228.8L802.0 232.8L801.6 236.8L801.1 240.8L800.8 243.6L800.3 246.8L799.8 250.8L799.1 254.8L798.3 258.8L797.1 262.8L796.3 264.8L795.4 266.8L793.9 268.8L790.9 268.8L789.9 266.8L789.1 264.8L788.1 260.8L787.3 256.8L786.8 252.8L786.5 248.8L786.3 244.8L786.2 240.8L786.2 236.8L786.3 232.8L786.5 228.8L786.8 225.2L787.2 220.8L787.8 216.8L788.5 212.8L789.6 208.8L790.3 206.8L791.2 204.8L792.4 202.8L794.5 200.8ZM1146.5 216.8L1148.8 215.6L1152.8 216.4L1154.8 217.9L1156.8 220.1L1158.7 222.8L1160.0 224.8L1161.3 226.8L1162.4 228.8L1163.6 230.8L1164.7 232.8L1165.7 234.8L1166.4 236.8L1167.1 238.8L1167.9 242.8L1168.4 246.8L1168.8 250.7L1169.0 254.8L1169.3 258.8L1169.5 262.8L1169.8 266.8L1170.2 270.8L1170.6 274.8L1171.3 278.8L1172.0 282.8L1172.8 286.0L1173.6 288.8L1174.2 290.8L1174.8 292.8L1175.6 294.8L1176.4 296.8L1177.3 298.8L1178.2 300.8L1179.2 302.8L1180.3 304.8L1181.6 306.8L1182.8 308.5L1184.8 310.6L1186.8 311.7L1190.4 310.8L1191.9 308.8L1192.6 306.8L1193.3 302.8L1193.7 298.8L1194.0 294.8L1194.3 290.8L1194.7 286.8L1195.3 282.8L1196.2 278.8L1196.8 276.7L1197.9 272.8L1198.7 270.8L1199.4 268.8L1200.2 266.8L1201.0 264.8L1201.9 262.8L1202.8 260.9L1203.7 258.8L1204.7 256.8L1206.0 254.8L1207.7 252.8L1210.8 251.2L1213.9 252.8L1215.4 254.8L1216.4 256.8L1217.1 258.8L1217.7 260.8L1218.8 264.6L1219.3 266.8L1220.2 270.8L1220.8 272.9L1221.9 276.8L1222.6 278.8L1223.5 280.8L1224.6 282.8L1225.9 284.8L1227.2 286.8L1228.5 288.8L1229.6 290.8L1230.5 292.8L1232.2 294.8L1232.2 298.8L1232.2 302.8L1232.2 306.8L1232.2 310.8L1232.2 314.8L1232.2 318.8L1232.2 322.8L1232.2 326.8L1232.2 330.8L1232.2 334.8L1232.2 338.8L1232.2 342.8L1232.2 346.8L1232.2 350.8L1232.2 354.8L1232.2 358.6L1230.2 360.8L1229.2 364.8L1228.0 368.8L1226.8 372.8L1225.6 376.8L1225.0 378.8L1224.3 380.8L1223.6 382.8L1222.9 384.8L1222.0 386.8L1221.1 388.8L1219.8 390.8L1217.2 392.8L1214.8 392.3L1213.4 390.8L1212.1 388.8L1211.0 386.8L1210.2 384.8L1209.5 382.8L1208.9 380.8L1207.9 376.8L1207.1 372.8L1206.5 368.8L1206.0 364.8L1205.7 360.8L1205.5 356.8L1205.5 352.8L1205.5 348.8L1205.5 344.8L1205.4 340.8L1205.2 336.8L1204.8 333.7L1203.9 330.8L1203.3 328.8L1202.3 326.8L1200.8 324.8L1198.0 326.8L1197.3 330.8L1196.9 334.8L1196.7 338.8L1196.4 342.8L1196.1 346.8L1195.6 350.8L1195.0 354.8L1194.2 358.8L1193.4 362.8L1192.8 365.0L1191.8 368.8L1191.1 370.8L1190.5 372.8L1189.8 374.8L1188.9 376.8L1188.0 378.8L1187.0 380.8L1185.7 382.8L1184.0 384.8L1181.3 386.8L1178.8 387.4L1176.8 386.5L1175.2 384.8L1174.0 382.8L1173.0 380.8L1172.1 378.8L1171.4 376.8L1170.7 374.8L1170.0 372.8L1169.4 370.8L1168.8 368.6L1167.6 364.8L1167.0 362.8L1166.3 360.8L1165.5 358.8L1164.8 356.8L1163.9 354.8L1163.1 352.8L1162.1 350.8L1161.2 348.8L1160.2 346.8L1159.3 344.8L1158.4 342.8L1157.5 340.8L1156.8 338.9L1155.7 336.8L1154.8 334.8L1152.9 332.8L1149.7 334.8L1148.8 336.7L1148.2 338.8L1147.4 342.8L1146.8 346.8L1146.4 350.8L1146.0 354.8L1145.6 358.8L1145.3 362.8L1144.8 366.8L1144.4 370.8L1143.8 374.8L1143.3 378.8L1142.8 382.1L1142.2 384.8L1141.3 388.8L1140.8 391.1L1139.3 394.8L1138.0 396.8L1134.8 394.8L1133.8 390.8L1132.8 386.8L1132.1 382.8L1131.3 378.8L1130.8 375.6L1130.3 372.8L1129.7 368.8L1129.2 364.8L1128.9 360.8L1128.8 358.1L1128.7 354.8L1128.9 350.8L1129.1 346.8L1129.5 342.8L1130.0 338.8L1130.4 334.8L1130.8 331.0L1131.0 326.8L1131.1 322.8L1131.1 318.8L1131.0 314.8L1130.8 310.9L1130.3 306.8L1129.8 302.8L1129.4 298.8L1129.0 294.8L1128.8 290.8L1128.6 286.8L1128.5 282.8L1128.5 278.8L1128.6 274.8L1128.6 270.8L1128.7 266.8L1128.8 262.8L1128.8 258.8L1128.8 254.8L1128.8 250.8L1129.1 246.8L1130.3 242.8L1131.2 240.8L1132.2 238.8L1133.3 236.8L1134.5 234.8L1135.6 232.8L1136.8 231.0L1138.0 228.8L1139.2 226.8L1140.4 224.8L1141.6 222.8L1142.8 221.1L1144.5 218.8L1146.5 216.8ZM1120.7 224.8L1122.8 226.7L1123.8 228.8L1124.6 230.8L1125.2 232.8L1126.1 236.8L1126.6 240.8L1126.6 244.8L1126.0 248.8L1125.3 250.8L1124.3 252.8L1123.3 254.8L1120.8 256.3L1119.7 252.8L1119.0 250.8L1118.3 246.8L1117.7 242.8L1117.4 238.8L1117.3 234.8L1117.6 230.8L1118.5 226.8L1120.7 224.8ZM768.7 248.8L770.8 249.7L771.4 252.8L771.7 256.8L771.6 260.8L771.2 264.8L770.8 267.7L769.8 270.8L768.9 274.8L768.0 276.8L767.4 278.8L768.6 282.8L769.7 286.8L770.5 288.8L771.2 290.8L771.8 292.8L772.5 294.8L773.4 298.8L774.1 302.8L774.5 306.8L774.5 310.8L774.1 314.8L773.4 318.8L772.8 321.5L771.4 324.8L770.5 326.8L769.3 328.8L768.2 330.8L767.2 332.8L766.4 334.8L765.7 336.8L765.1 338.8L763.9 342.8L763.3 344.8L762.5 346.8L761.6 348.8L760.3 350.8L758.8 352.4L756.8 353.7L754.8 354.5L752.8 355.2L750.8 356.3L748.8 357.9L746.8 360.3L745.4 362.8L744.5 364.8L743.8 366.8L742.8 370.8L742.0 374.8L741.6 378.8L741.5 382.8L741.6 386.8L741.8 390.8L742.1 394.8L742.3 398.8L742.6 402.8L742.8 406.3L742.9 408.8L743.1 412.8L743.3 416.8L743.5 420.8L743.7 424.8L744.1 428.8L744.5 432.8L745.1 436.8L746.0 440.8L746.8 443.5L748.2 446.8L749.2 448.8L750.4 450.8L751.4 452.8L752.2 454.8L752.9 456.8L753.6 460.8L753.4 464.8L752.8 468.3L751.7 470.8L750.8 472.6L748.8 474.5L745.6 474.8L742.8 473.7L740.8 472.9L736.8 472.6L732.8 470.8L731.5 468.8L730.4 466.8L729.6 464.8L728.8 462.8L727.7 458.8L726.8 454.8L726.1 450.8L725.6 446.8L725.1 442.8L724.8 439.6L724.5 436.8L724.2 432.8L723.9 428.8L723.8 424.8L723.7 420.8L723.8 416.8L723.9 412.8L724.1 408.8L724.3 404.8L724.6 400.8L724.8 397.8L724.9 394.8L725.1 390.8L725.2 386.8L725.2 382.8L724.8 378.8L723.6 376.8L720.8 375.0L718.8 373.1L716.9 370.8L715.5 368.8L714.0 366.8L712.8 365.2L710.8 362.9L708.9 360.8L707.5 358.8L706.2 356.8L705.3 354.8L704.5 352.8L703.8 350.8L702.8 347.1L702.3 344.8L701.6 340.8L701.0 336.8L699.8 335.3L699.8 330.8L699.8 326.8L699.8 322.8L699.8 318.8L699.8 314.8L699.8 310.8L699.8 306.8L699.8 303.0L701.1 300.8L702.0 296.8L702.8 294.2L704.3 290.8L705.7 288.8L708.1 286.8L710.8 285.9L713.9 286.8L716.2 288.8L718.0 290.8L720.6 288.8L721.0 284.8L721.5 280.8L722.1 276.8L722.8 273.4L723.2 270.8L724.2 266.8L725.4 262.8L726.1 260.8L726.9 258.8L727.8 256.8L729.1 254.8L730.8 253.4L732.8 252.6L735.9 252.8L738.8 254.2L740.8 256.2L742.4 258.8L743.4 260.8L744.2 262.8L745.0 264.8L745.7 266.8L746.3 268.8L746.9 270.8L747.6 272.8L748.3 274.8L749.0 276.8L750.0 278.8L751.3 280.8L752.8 282.4L754.8 283.9L756.8 285.1L758.8 286.2L760.8 287.0L764.5 284.8L765.7 282.8L766.4 280.8L766.5 276.8L766.2 272.8L765.9 268.8L765.8 264.8L766.0 260.8L766.3 256.8L766.8 253.8L767.9 250.8L768.7 248.8ZM722.8 314.5L722.6 318.8L722.5 322.8L722.6 326.8L722.7 330.8L723.0 334.8L723.3 338.8L723.7 342.8L724.1 346.8L724.5 350.8L725.0 354.8L725.6 358.8L726.2 362.8L726.7 366.8L728.8 368.4L730.8 364.9L731.3 362.8L732.2 358.8L732.8 355.1L733.1 350.8L733.2 346.8L733.3 342.8L733.1 338.8L732.8 334.8L732.1 330.8L731.2 326.8L729.8 322.8L729.1 320.8L728.0 318.8L727.1 316.8L725.7 314.8L724.8 313.0L722.8 314.5ZM794.2 306.8L796.8 308.2L797.6 310.8L798.3 312.8L799.2 316.8L799.7 320.8L800.0 324.8L800.2 328.8L800.2 332.8L800.0 336.8L799.6 340.8L799.2 344.8L798.8 348.3L798.4 350.8L797.9 354.8L797.4 358.8L797.0 362.8L796.8 366.8L796.5 370.8L796.4 374.8L796.2 378.8L795.9 382.8L795.2 386.8L792.8 388.6L791.9 386.8L791.0 384.8L789.9 380.8L789.0 376.8L788.3 372.8L787.8 368.8L787.5 364.8L787.3 360.8L787.3 356.8L787.4 352.8L787.6 348.8L787.9 344.8L788.2 340.8L788.6 336.8L789.1 332.8L789.5 328.8L790.0 324.8L790.5 320.8L791.0 316.8L791.8 312.8L792.8 308.8L794.2 306.8ZM821.6 416.8L824.8 418.1L825.7 420.8L826.4 424.8L826.4 428.8L825.7 432.8L824.8 435.8L822.8 438.6L820.3 438.8L818.8 437.4L817.8 434.8L817.1 430.8L817.3 426.8L818.0 422.8L818.8 420.3L820.8 417.2ZM1182.2 464.8L1184.8 463.1L1188.8 464.7L1190.4 466.8L1191.5 468.8L1192.2 470.8L1192.9 472.8L1193.6 476.8L1193.9 480.8L1193.8 484.8L1193.2 488.8L1191.8 492.8L1190.8 494.6L1188.8 496.1L1184.8 496.5L1182.8 495.9L1180.8 494.0L1179.4 490.8L1178.8 487.9L1178.5 484.8L1178.4 480.8L1178.7 476.8L1179.3 472.8L1180.2 468.8L1180.9 466.8L1182.2 464.8Z" fill="#f5f5ff" fill-rule="evenodd"/>
<path d="M957.7 47.8L960.8 47.8L964.8 47.8L968.5 47.8L970.8 50.7L972.7 52.8L974.2 54.8L975.6 56.8L976.8 58.8L977.9 60.8L979.0 62.8L980.1 64.8L981.1 66.8L982.1 68.8L983.1 70.8L984.1 72.8L985.1 74.8L986.2 76.8L987.3 78.8L988.4 80.8L989.7 82.8L990.8 84.6L992.3 86.8L993.7 88.8L995.2 90.8L996.7 92.8L998.4 94.8L1000.1 96.8L1001.9 98.8L1003.9 100.8L1005.9 102.8L1007.7 104.8L1009.3 106.8L1010.8 108.8L1012.1 110.8L1013.2 112.8L1014.3 114.8L1015.4 116.8L1016.5 118.8L1017.6 120.8L1018.7 122.8L1019.9 124.8L1021.2 126.8L1022.7 128.8L1024.2 130.8L1025.8 132.8L1027.3 134.8L1028.8 136.8L1030.0 138.8L1031.2 140.8L1032.2 142.8L1033.2 144.8L1034.1 146.8L1034.9 148.8L1035.6 150.8L1036.3 152.8L1037.0 154.8L1037.6 156.8L1038.7 160.8L1039.8 164.8L1040.7 168.8L1041.6 172.8L1042.4 176.8L1043.3 180.8L1044.1 184.8L1044.8 188.6L1045.3 190.8L1046.1 194.8L1046.8 198.2L1047.4 200.8L1048.3 204.8L1048.8 207.2L1049.6 210.8L1050.3 214.8L1050.8 218.5L1051.1 222.8L1051.3 226.8L1051.3 230.8L1051.3 234.8L1051.3 238.8L1051.3 242.8L1051.5 246.8L1051.7 250.8L1052.2 254.8L1052.7 258.8L1053.6 262.8L1054.7 266.8L1055.5 268.8L1056.4 270.8L1057.7 272.8L1059.3 274.8L1060.8 276.1L1062.8 277.2L1064.8 277.8L1068.8 277.6L1070.8 276.9L1072.8 276.1L1074.8 275.3L1076.8 274.4L1078.8 273.5L1080.8 272.5L1082.8 271.3L1084.8 269.6L1086.8 266.9L1087.7 264.8L1088.6 262.8L1089.3 260.8L1090.0 258.8L1090.6 256.8L1091.3 254.8L1092.0 252.8L1092.7 250.8L1093.9 248.8L1096.8 247.2L1098.0 248.8L1099.2 250.8L1100.0 252.8L1100.9 254.8L1101.5 256.8L1102.2 258.8L1102.9 260.8L1103.6 262.8L1104.2 264.8L1104.9 266.8L1105.5 268.8L1106.1 270.8L1106.8 273.0L1107.9 276.8L1108.8 279.9L1109.7 282.8L1110.8 286.5L1111.7 288.8L1112.4 290.8L1113.3 292.8L1114.2 294.8L1115.0 296.8L1115.9 298.8L1116.7 302.8L1117.2 306.8L1117.4 310.8L1117.5 314.8L1117.5 318.8L1117.5 322.8L1117.4 326.8L1117.3 330.8L1117.1 334.8L1116.8 338.8L1116.4 342.8L1115.9 346.8L1115.2 350.8L1114.4 354.8L1113.5 358.8L1112.8 361.6L1112.0 364.8L1110.8 368.8L1110.2 370.8L1109.5 372.8L1108.8 374.7L1107.7 376.8L1106.4 378.8L1104.8 380.4L1102.5 380.8L1099.2 378.8L1097.6 376.8L1096.4 374.8L1095.4 372.8L1094.5 370.8L1093.8 368.8L1093.0 366.8L1092.4 364.8L1091.7 362.8L1091.1 360.8L1090.0 356.8L1088.9 352.8L1088.0 348.8L1087.1 344.8L1086.3 340.8L1085.5 336.8L1084.8 333.3L1084.1 330.8L1083.0 326.8L1082.3 324.8L1081.5 322.8L1080.4 320.8L1078.8 318.8L1076.8 318.2L1074.8 319.2L1073.4 320.8L1072.1 322.8L1071.0 324.8L1070.2 326.8L1069.5 328.8L1068.8 331.5L1068.2 334.8L1067.8 338.8L1067.6 342.8L1067.6 346.8L1067.7 350.8L1067.8 354.8L1067.8 358.8L1067.8 362.8L1067.7 366.8L1067.6 370.8L1067.6 374.8L1067.5 378.8L1067.6 382.8L1067.9 386.8L1068.4 390.8L1068.8 393.1L1069.4 396.8L1070.2 400.8L1070.8 403.3L1071.4 406.8L1072.2 410.8L1072.8 414.6L1073.3 418.8L1073.7 422.8L1073.9 426.8L1074.0 430.8L1073.9 434.8L1073.7 438.8L1073.4 442.8L1072.8 446.8L1071.8 450.8L1071.1 452.8L1070.0 454.8L1068.8 456.2L1064.8 455.7L1063.0 452.8L1062.2 450.8L1061.6 448.8L1060.8 445.7L1060.2 442.8L1059.6 438.8L1059.1 434.8L1058.8 431.7L1058.5 428.8L1058.1 424.8L1057.8 420.8L1057.4 416.8L1057.1 412.8L1056.8 410.3L1056.1 406.8L1054.8 403.1L1052.8 401.5L1048.8 401.8L1046.8 402.6L1044.8 404.0L1042.8 406.4L1041.4 408.8L1040.5 410.8L1039.7 412.8L1038.9 414.8L1038.3 416.8L1037.7 418.8L1037.0 420.8L1035.9 424.8L1034.8 428.7L1034.2 430.8L1033.0 434.8L1031.9 438.8L1030.8 442.8L1029.6 446.8L1028.8 450.2L1028.0 452.8L1027.0 456.8L1026.4 458.8L1025.6 460.8L1024.8 462.6L1022.8 463.7L1020.8 462.6L1018.8 460.9L1016.8 459.0L1014.8 457.5L1012.8 456.9L1009.4 458.8L1008.0 460.8L1007.0 462.8L1006.3 464.8L1005.6 466.8L1005.0 468.8L1004.0 472.8L1002.9 476.8L1001.8 480.8L1001.2 482.8L1000.4 484.8L999.3 486.8L996.8 488.5L994.8 487.8L992.8 486.3L991.4 484.8L989.5 482.8L987.5 480.8L985.2 478.8L982.8 477.3L978.8 476.9L974.8 478.4L972.8 479.5L970.8 480.5L968.8 481.4L964.8 482.0L961.1 480.8L958.8 479.3L956.8 477.6L954.8 475.6L952.8 473.4L950.8 471.1L948.8 468.8L947.2 466.8L945.6 464.8L943.9 462.8L942.1 460.8L939.6 458.8L936.8 457.5L932.8 458.4L930.8 460.0L928.8 461.5L926.8 462.3L923.7 460.8L922.0 458.8L920.8 456.9L919.9 454.8L919.0 452.8L918.4 450.8L917.3 446.8L916.8 444.5L916.0 440.8L915.3 436.8L914.8 433.6L914.2 430.8L913.3 426.8L912.8 424.5L911.3 420.8L910.1 418.8L908.8 417.4L904.8 417.7L902.8 420.0L901.4 422.8L900.6 424.8L900.0 426.8L898.9 430.8L897.9 434.8L896.8 438.6L895.7 440.8L893.6 442.8L890.8 441.9L889.0 438.8L888.3 436.8L887.2 432.8L886.4 428.8L885.7 424.8L884.9 420.8L883.9 416.8L883.3 414.8L882.6 412.8L881.8 410.8L880.9 408.8L879.9 406.8L878.8 404.8L877.6 402.8L876.3 400.8L874.8 398.8L872.8 397.2L868.8 398.6L867.2 400.8L866.1 402.8L865.1 404.8L864.2 406.8L863.4 408.8L862.7 410.8L862.1 412.8L860.9 416.8L859.9 420.8L858.9 424.8L857.7 428.8L857.0 430.8L856.2 432.8L855.2 434.8L853.7 436.8L850.8 438.3L848.8 436.8L847.7 434.8L846.8 432.8L846.2 430.8L845.2 426.8L844.4 422.8L843.7 418.8L843.1 414.8L842.8 412.2L842.2 408.8L841.5 404.8L840.8 400.8L839.8 396.8L838.9 392.8L838.0 388.8L837.2 384.8L836.8 382.1L836.4 378.8L836.1 374.8L835.9 370.8L835.9 366.8L836.0 362.8L836.2 358.8L836.4 354.8L836.7 350.8L837.2 346.8L837.8 342.8L838.8 338.9L842.8 340.4L844.8 341.0L848.8 339.2L850.5 336.8L851.8 334.8L853.1 332.8L854.3 330.8L855.4 328.8L856.4 326.8L857.3 324.8L857.9 322.8L858.6 318.8L858.7 314.8L858.3 310.8L857.3 306.8L856.7 304.8L855.9 302.8L854.9 300.8L853.6 298.8L852.1 296.8L849.4 294.8L846.8 294.4L844.8 295.6L842.9 298.8L842.3 300.8L841.3 304.8L840.8 307.7L840.3 310.8L839.7 314.8L839.2 318.8L838.8 322.8L838.1 326.8L837.1 330.8L834.8 330.3L832.8 327.5L831.1 324.8L829.8 322.8L828.8 321.1L827.4 318.8L826.2 316.8L825.0 314.8L823.8 312.8L822.8 310.8L821.8 308.8L820.8 306.8L820.0 304.8L819.1 302.8L818.4 300.8L817.6 298.8L816.9 296.8L816.2 294.8L815.6 292.8L815.0 290.8L814.0 286.8L813.2 282.8L812.8 279.0L812.7 274.8L813.0 270.8L814.1 266.8L814.9 264.8L816.4 262.8L818.8 261.0L820.8 260.0L822.8 259.0L824.8 257.7L826.8 256.6L830.8 256.2L832.8 256.9L834.8 257.6L838.8 257.1L840.8 255.2L842.7 252.8L844.3 250.8L846.0 248.8L848.1 246.8L850.8 244.9L852.8 243.8L854.8 242.8L856.8 241.7L858.8 240.6L860.8 239.5L862.8 238.4L864.8 237.4L866.8 236.1L868.1 234.8L869.3 232.8L870.1 230.8L870.7 228.8L871.4 224.8L872.0 220.8L872.5 216.8L873.1 212.8L873.9 208.8L874.8 205.8L876.2 202.8L878.1 200.8L880.8 200.0L883.7 200.8L886.8 201.4L888.8 200.8L890.8 199.3L892.6 196.8L893.7 194.8L894.7 192.8L895.4 190.8L896.1 188.8L896.8 186.5L897.6 182.8L898.3 178.8L898.8 175.4L899.0 172.8L899.4 168.8L899.7 164.8L900.0 160.8L900.3 156.8L900.7 152.8L901.2 148.8L901.8 144.8L902.6 140.8L903.7 136.8L904.4 134.8L905.2 132.8L906.1 130.8L907.3 128.8L908.5 126.8L910.1 124.8L911.7 122.8L913.4 120.8L914.8 119.3L916.8 116.9L918.5 114.8L920.0 112.8L921.3 110.8L922.5 108.8L923.5 106.8L924.5 104.8L925.3 102.8L926.0 100.8L926.7 98.8L927.4 96.8L928.0 94.8L928.7 92.8L929.3 90.8L930.1 88.8L930.8 86.8L931.7 84.8L932.7 82.8L934.0 80.8L935.5 78.8L937.4 76.8L938.8 75.5L940.8 73.4L942.7 70.8L943.9 68.8L945.1 66.8L946.2 64.8L947.3 62.8L948.4 60.8L949.6 58.8L950.8 56.9L952.1 54.8L953.6 52.8L955.4 50.8L956.8 49.5L957.7 47.8ZM844.2 188.8L846.8 187.5L850.8 188.1L852.8 190.4L853.6 192.8L854.2 196.8L854.1 200.8L853.5 204.8L852.8 208.1L850.8 210.8L847.4 208.8L845.9 206.8L844.8 205.0L843.4 202.8L842.3 200.8L841.4 198.8L840.8 196.8L841.1 192.8L842.2 190.8L844.2 188.8ZM793.9 206.8L796.8 206.0L798.8 208.3L799.7 210.8L800.5 214.8L800.8 218.8L800.7 222.8L800.5 226.8L800.1 230.8L799.6 234.8L799.1 238.8L798.4 242.8L797.7 246.8L796.8 250.8L796.0 252.8L795.2 254.8L793.5 256.8L790.8 255.3L790.0 252.8L789.2 248.8L788.8 246.2L788.5 242.8L788.3 238.8L788.2 234.8L788.3 230.8L788.5 226.8L788.8 223.1L789.4 218.8L790.2 214.8L790.8 212.4L792.3 208.8L793.9 206.8ZM1146.3 220.8L1148.8 219.4L1152.8 220.3L1154.8 222.0L1156.8 224.4L1158.3 226.8L1159.5 228.8L1160.6 230.8L1161.7 232.8L1162.6 234.8L1163.5 236.8L1164.3 238.8L1165.0 240.8L1165.6 242.8L1166.4 246.8L1167.0 250.8L1167.5 254.8L1167.9 258.8L1168.2 262.8L1168.5 266.8L1168.8 269.5L1169.1 272.8L1169.6 276.8L1170.3 280.8L1170.8 283.5L1171.5 286.8L1172.6 290.8L1173.2 292.8L1173.9 294.8L1174.6 296.8L1175.4 298.8L1176.3 300.8L1177.2 302.8L1178.1 304.8L1179.1 306.8L1180.2 308.8L1181.5 310.8L1182.7 312.8L1184.3 314.8L1186.2 316.8L1188.6 318.8L1190.8 320.6L1192.2 322.8L1192.9 324.8L1193.6 328.8L1193.9 332.8L1194.1 336.8L1194.1 340.8L1193.9 344.8L1193.6 348.8L1193.2 352.8L1192.8 355.8L1192.3 358.8L1191.5 362.8L1190.8 365.9L1190.0 368.8L1189.4 370.8L1188.7 372.8L1187.9 374.8L1187.0 376.8L1185.8 378.8L1184.8 380.4L1182.8 382.5L1180.8 383.7L1176.8 382.8L1175.1 380.8L1173.9 378.8L1173.0 376.8L1172.2 374.8L1171.4 372.8L1170.8 370.8L1170.1 368.8L1169.5 366.8L1168.8 364.3L1167.7 360.8L1167.0 358.8L1166.3 356.8L1165.6 354.8L1164.8 352.8L1164.0 350.8L1163.1 348.8L1162.2 346.8L1161.4 344.8L1160.6 342.8L1159.7 340.8L1159.0 338.8L1158.3 336.8L1157.6 334.8L1156.9 332.8L1156.1 330.8L1155.2 328.8L1153.9 326.8L1150.8 325.9L1148.8 328.0L1147.5 330.8L1146.8 332.8L1146.0 336.8L1145.5 340.8L1145.1 344.8L1144.8 348.8L1144.5 352.8L1144.2 356.8L1143.9 360.8L1143.5 364.8L1143.0 368.8L1142.4 372.8L1141.7 376.8L1140.9 380.8L1140.2 382.8L1139.5 384.8L1138.1 386.8L1135.6 384.8L1134.7 382.8L1133.8 378.8L1133.0 374.8L1132.3 370.8L1131.8 366.8L1131.5 362.8L1131.4 358.8L1131.4 354.8L1131.6 350.8L1131.9 346.8L1132.2 342.8L1132.6 338.8L1133.0 334.8L1133.3 330.8L1133.6 326.8L1133.7 322.8L1133.8 318.8L1133.7 314.8L1133.5 310.8L1133.2 306.8L1132.8 302.8L1132.4 298.8L1132.0 294.8L1131.7 290.8L1131.4 286.8L1131.3 282.8L1131.1 278.8L1131.1 274.8L1131.1 270.8L1131.2 266.8L1131.3 262.8L1131.5 258.8L1131.8 254.8L1132.3 250.8L1132.8 248.4L1133.5 244.8L1134.8 241.1L1135.6 238.8L1136.5 236.8L1137.4 234.8L1138.4 232.8L1139.4 230.8L1140.6 228.8L1141.7 226.8L1142.8 225.1L1144.4 222.8L1146.3 220.8ZM1210.5 256.8L1212.8 257.6L1214.8 260.1L1215.9 262.8L1216.7 264.8L1217.8 268.8L1218.8 272.4L1219.4 274.8L1220.5 278.8L1221.2 280.8L1222.0 282.8L1222.9 284.8L1224.2 286.8L1225.6 288.8L1226.8 290.4L1228.3 292.8L1229.3 294.8L1230.1 296.8L1232.2 298.5L1232.2 302.8L1232.2 306.8L1232.2 310.8L1232.2 314.8L1232.2 318.8L1232.2 322.8L1232.2 326.8L1232.2 330.8L1232.2 334.8L1232.2 338.8L1232.2 342.8L1232.2 346.8L1232.2 350.8L1230.8 352.0L1230.2 354.8L1229.3 358.8L1228.3 362.8L1227.2 366.8L1226.0 370.8L1224.8 374.8L1224.1 376.8L1223.5 378.8L1222.8 380.8L1221.9 382.8L1221.0 384.8L1219.7 386.8L1217.4 388.8L1214.8 388.4L1213.4 386.8L1212.1 384.8L1211.2 382.8L1210.4 380.8L1209.8 378.8L1208.8 374.8L1208.1 370.8L1207.6 366.8L1207.2 362.8L1207.1 358.8L1207.0 354.8L1207.1 350.8L1207.1 346.8L1207.2 342.8L1207.2 338.8L1207.0 334.8L1206.8 332.4L1206.1 328.8L1204.9 324.8L1204.1 322.8L1203.3 320.8L1202.3 318.8L1201.3 316.8L1200.2 314.8L1199.3 312.8L1198.6 310.8L1197.9 308.8L1197.1 304.8L1196.8 300.8L1196.6 296.8L1196.7 292.8L1196.9 288.8L1197.3 284.8L1198.1 280.8L1198.8 278.0L1199.6 274.8L1200.3 272.8L1201.0 270.8L1201.8 268.8L1202.6 266.8L1203.5 264.8L1204.5 262.8L1205.7 260.8L1206.8 259.2L1208.8 257.3ZM732.2 258.8L734.8 257.2L738.8 258.0L740.8 260.1L742.3 262.8L743.3 264.8L744.0 266.8L744.7 268.8L745.3 270.8L746.5 274.8L747.1 276.8L747.8 278.8L748.6 280.8L749.6 282.8L750.8 284.6L752.8 286.8L754.8 288.7L756.7 290.8L758.2 292.8L759.4 294.8L760.4 296.8L761.4 298.8L762.3 300.8L763.5 302.8L764.8 304.6L768.8 303.6L770.2 306.8L770.7 310.8L769.8 314.8L769.1 316.8L767.7 318.8L766.4 320.8L765.7 322.8L765.0 324.8L764.2 328.8L763.4 332.8L762.8 335.6L762.1 338.8L760.8 342.8L760.0 344.8L758.9 346.8L757.1 348.8L754.8 350.5L752.8 351.4L750.8 352.4L748.8 353.6L747.2 354.8L745.2 356.8L743.5 358.8L741.9 360.8L740.8 362.6L738.8 364.0L737.5 360.8L736.8 356.8L736.5 352.8L736.2 348.8L735.9 344.8L735.6 340.8L735.3 336.8L734.8 332.8L734.1 328.8L733.2 324.8L731.9 320.8L731.2 318.8L730.4 316.8L729.6 314.8L728.8 312.8L728.0 310.8L727.3 308.8L726.0 304.8L725.2 300.8L724.8 297.4L724.4 294.8L724.2 290.8L724.2 286.8L724.5 282.8L724.8 280.3L725.2 276.8L726.0 272.8L726.8 270.0L727.7 266.8L728.5 264.8L729.4 262.8L730.6 260.8L732.2 258.8ZM708.4 292.8L712.8 294.1L714.6 296.8L715.5 298.8L716.3 300.8L716.9 302.8L717.9 306.8L718.6 310.8L719.2 314.8L719.6 318.8L719.9 322.8L720.1 326.8L720.3 330.8L720.5 334.8L720.6 338.8L720.8 342.3L720.9 346.8L720.9 350.8L720.8 354.8L720.0 358.8L719.0 360.8L714.8 359.5L712.8 357.8L710.8 356.0L708.8 353.9L706.8 351.0L705.8 348.8L704.9 346.8L704.3 344.8L703.3 340.8L702.8 338.5L702.2 334.8L701.7 330.8L701.3 326.8L701.1 322.8L701.1 318.8L701.1 314.8L701.4 310.8L701.9 306.8L702.6 302.8L703.8 298.8L704.6 296.8L705.9 294.8L708.4 292.8ZM794.4 320.8L796.8 321.7L797.3 324.8L797.7 328.8L797.8 332.8L797.6 336.8L797.3 340.8L796.8 344.8L796.1 348.8L795.4 352.8L794.8 356.8L793.9 360.8L793.2 364.8L790.5 362.8L790.1 358.8L790.0 354.8L790.0 350.8L790.2 346.8L790.5 342.8L790.8 339.5L791.1 336.8L791.7 332.8L792.2 328.8L792.8 325.5L793.7 322.8L794.4 320.8ZM734.2 378.8L736.8 378.7L737.4 380.8L738.4 384.8L739.1 388.8L739.7 392.8L740.2 396.8L740.7 400.8L741.1 404.8L741.4 408.8L741.6 412.8L741.8 416.8L742.0 420.8L742.2 424.8L742.5 428.8L742.7 432.8L743.0 436.8L743.4 440.8L743.9 444.8L744.5 448.8L745.3 452.8L746.1 456.8L746.2 460.8L744.8 462.4L740.8 463.7L738.8 464.7L736.8 465.5L733.2 464.8L731.5 462.8L730.4 460.8L729.6 458.8L729.0 456.8L728.0 452.8L727.2 448.8L726.8 445.7L726.4 442.8L726.0 438.8L725.7 434.8L725.5 430.8L725.3 426.8L725.3 422.8L725.3 418.8L725.5 414.8L725.7 410.8L726.0 406.8L726.4 402.8L726.8 399.7L727.2 396.8L727.9 392.8L728.8 388.9L729.5 386.8L730.2 384.8L731.2 382.8L732.4 380.8L734.2 378.8ZM1183.3 472.8L1184.8 471.0L1188.8 472.5L1189.8 474.8L1190.5 476.8L1191.0 480.8L1190.8 484.1L1189.8 486.8L1188.8 488.6L1186.8 489.4L1184.6 488.8L1182.9 486.8L1182.3 484.8L1181.8 480.8L1182.1 476.8L1182.8 473.8Z" fill="#f4f4ff" fill-rule="evenodd"/>
<path d="M958.8 50.8L960.8 49.9L964.8 49.7L966.8 50.5L968.8 51.7L970.8 53.6L972.8 55.9L974.7 58.8L976.0 60.8L977.1 62.8L978.2 64.8L979.1 66.8L980.1 68.8L981.0 70.8L982.0 72.8L982.9 74.8L983.9 76.8L984.7 78.8L985.7 80.8L986.7 82.8L987.8 84.8L988.8 86.7L990.0 88.8L991.3 90.8L992.6 92.8L994.0 94.8L995.5 96.8L996.8 98.5L998.8 100.8L1000.7 102.8L1002.8 104.8L1004.8 106.6L1006.8 108.5L1008.8 110.8L1010.3 112.8L1011.6 114.8L1012.8 116.6L1014.0 118.8L1015.1 120.8L1016.2 122.8L1017.4 124.8L1018.6 126.8L1020.0 128.8L1021.5 130.8L1022.8 132.4L1024.8 134.7L1026.5 136.8L1028.0 138.8L1029.3 140.8L1030.5 142.8L1031.6 144.8L1032.6 146.8L1033.5 148.8L1034.3 150.8L1035.1 152.8L1035.8 154.8L1036.4 156.8L1037.0 158.8L1038.2 162.8L1038.8 165.2L1039.7 168.8L1040.5 172.8L1041.4 176.8L1042.2 180.8L1042.8 184.0L1043.3 186.8L1044.1 190.8L1044.8 194.8L1045.5 198.8L1046.3 202.8L1046.8 205.7L1047.4 208.8L1048.0 212.8L1048.6 216.8L1049.0 220.8L1049.2 224.8L1049.4 228.8L1049.4 232.8L1049.4 236.8L1049.5 240.8L1049.6 244.8L1049.8 248.8L1050.2 252.8L1050.6 256.8L1051.2 260.8L1051.9 264.8L1052.8 268.5L1053.5 270.8L1054.2 272.8L1054.9 274.8L1056.1 276.8L1057.5 278.8L1058.8 280.2L1060.8 281.7L1062.8 282.7L1066.8 283.3L1069.8 282.8L1072.8 281.9L1074.8 281.0L1076.8 280.0L1078.8 279.0L1080.8 277.9L1082.5 276.8L1084.8 275.1L1086.7 272.8L1087.8 270.8L1088.8 268.9L1089.5 266.8L1090.3 264.8L1090.9 262.8L1091.6 260.8L1092.3 258.8L1093.2 256.8L1094.2 254.8L1096.8 253.4L1098.0 254.8L1099.2 256.8L1100.2 258.8L1101.0 260.8L1101.8 262.8L1102.5 264.8L1103.2 266.8L1103.8 268.8L1104.5 270.8L1105.1 272.8L1106.2 276.8L1106.8 279.0L1107.8 282.8L1108.7 286.8L1109.6 290.8L1110.5 294.8L1111.6 298.8L1112.5 302.8L1113.4 306.8L1114.1 310.8L1114.6 314.8L1114.9 318.8L1115.2 322.8L1115.3 326.8L1115.3 330.8L1115.2 334.8L1114.9 338.8L1114.6 342.8L1114.1 346.8L1113.5 350.8L1112.8 354.7L1111.9 358.8L1110.9 362.8L1109.8 366.8L1109.1 368.8L1108.4 370.8L1107.4 372.8L1106.1 374.8L1104.8 376.2L1100.8 375.8L1098.8 373.5L1097.2 370.8L1096.2 368.8L1095.4 366.8L1094.6 364.8L1093.9 362.8L1093.3 360.8L1092.6 358.8L1091.5 354.8L1090.8 352.3L1089.9 348.8L1089.0 344.8L1088.1 340.8L1087.3 336.8L1086.8 334.1L1086.0 330.8L1085.1 326.8L1084.0 322.8L1083.3 320.8L1082.6 318.8L1081.7 316.8L1080.8 315.0L1079.0 312.8L1076.8 311.8L1074.8 312.5L1072.8 314.4L1070.9 316.8L1069.7 318.8L1068.8 320.5L1067.7 322.8L1067.0 324.8L1065.9 328.8L1065.3 332.8L1065.0 336.8L1064.9 340.8L1065.0 344.8L1065.1 348.8L1065.3 352.8L1065.3 356.8L1065.4 360.8L1065.3 364.8L1065.2 368.8L1065.0 372.8L1064.8 376.8L1064.7 380.8L1064.7 384.8L1065.0 388.8L1065.7 392.8L1066.8 396.2L1067.4 398.8L1068.5 402.8L1069.4 406.8L1070.3 410.8L1070.8 413.4L1071.2 416.8L1071.6 420.8L1071.9 424.8L1071.9 428.8L1071.8 432.8L1071.4 436.8L1070.8 440.8L1069.5 444.8L1068.2 446.8L1065.6 446.8L1064.1 444.8L1063.3 442.8L1062.6 440.8L1061.7 436.8L1061.0 432.8L1060.5 428.8L1060.1 424.8L1059.8 420.8L1059.5 416.8L1059.3 412.8L1059.2 408.8L1059.1 404.8L1058.8 400.8L1057.9 396.8L1056.8 395.1L1052.8 395.4L1050.8 396.4L1048.8 397.4L1046.8 398.6L1044.8 400.1L1042.8 402.5L1041.5 404.8L1040.5 406.8L1039.7 408.8L1038.9 410.8L1038.2 412.8L1037.5 414.8L1036.8 416.8L1036.2 418.8L1035.6 420.8L1034.9 422.8L1034.3 424.8L1033.6 426.8L1033.0 428.8L1032.2 430.8L1031.5 432.8L1030.8 434.8L1030.0 436.8L1029.2 438.8L1028.4 440.8L1027.5 442.8L1026.8 444.7L1025.6 446.8L1024.8 448.6L1022.9 450.8L1020.8 451.5L1018.8 450.7L1016.8 449.4L1014.8 448.5L1012.2 448.8L1009.8 450.8L1008.4 452.8L1007.3 454.8L1006.4 456.8L1005.7 458.8L1005.0 460.8L1004.4 462.8L1003.3 466.8L1002.8 468.9L1001.7 472.8L1001.1 474.8L1000.3 476.8L999.5 478.8L998.3 480.8L996.8 482.3L992.8 481.6L990.8 480.0L988.8 478.1L987.3 476.8L984.8 474.8L982.8 473.7L978.8 473.2L974.8 474.6L972.8 475.6L970.8 476.7L968.8 477.5L964.8 478.0L961.2 476.8L958.8 475.2L956.8 473.3L954.8 471.2L952.8 468.9L951.0 466.8L949.4 464.8L947.9 462.8L946.3 460.8L944.8 458.8L943.1 456.8L941.2 454.8L938.8 452.8L936.8 451.8L932.8 451.8L930.8 452.8L928.8 454.3L926.8 455.3L924.0 454.8L922.0 452.8L920.8 450.8L920.0 448.8L919.3 446.8L918.7 444.8L917.8 440.8L917.0 436.8L916.3 432.8L915.6 428.8L914.8 424.8L913.7 420.8L913.1 418.8L912.2 416.8L911.1 414.8L909.1 412.8L906.8 412.1L904.5 412.8L902.8 414.1L900.8 416.8L899.7 418.8L898.9 420.8L898.2 422.8L897.6 424.8L896.8 427.8L895.6 430.8L894.9 432.8L892.8 434.8L890.8 433.2L889.9 430.8L889.2 428.8L888.2 424.8L887.4 420.8L886.8 418.2L885.9 414.8L885.3 412.8L884.6 410.8L883.8 408.8L882.8 406.8L881.7 404.8L880.8 403.1L879.4 400.8L878.1 398.8L876.9 396.8L875.4 394.8L873.3 392.8L870.8 392.1L868.8 393.5L866.8 396.1L865.2 398.8L864.2 400.8L863.2 402.8L862.4 404.8L861.6 406.8L861.0 408.8L859.8 412.8L858.8 416.8L857.9 420.8L856.8 424.8L856.1 426.8L855.4 428.8L854.4 430.8L853.0 432.8L850.8 433.7L848.8 431.7L847.6 428.8L846.9 426.8L846.0 422.8L845.2 418.8L844.8 415.7L844.4 412.8L843.8 408.8L843.2 404.8L842.8 401.9L842.2 398.8L841.4 394.8L840.8 392.1L840.0 388.8L839.2 384.8L838.8 382.4L838.3 378.8L837.9 374.8L837.7 370.8L837.8 366.8L838.0 362.8L838.3 358.8L838.8 355.6L839.5 352.8L840.3 350.8L842.1 348.8L844.8 348.1L847.7 346.8L849.5 344.8L850.8 343.0L852.0 340.8L853.1 338.8L854.3 336.8L855.6 334.8L856.8 333.0L858.1 330.8L859.2 328.8L860.0 326.8L860.8 323.6L861.1 320.8L861.2 316.8L860.8 312.8L860.1 308.8L859.0 304.8L858.3 302.8L857.5 300.8L856.7 298.8L855.6 296.8L854.4 294.8L853.0 292.8L851.2 290.8L848.8 289.0L846.8 288.3L844.5 288.8L842.8 290.7L841.9 292.8L841.3 294.8L840.3 298.8L839.6 302.8L838.9 306.8L838.2 310.8L837.4 314.8L836.8 317.7L835.0 320.8L830.9 318.8L829.5 316.8L828.1 314.8L826.8 312.8L825.6 310.8L824.5 308.8L823.5 306.8L822.5 304.8L821.6 302.8L820.8 300.8L820.1 298.8L819.3 296.8L818.7 294.8L818.0 292.8L816.9 288.8L816.0 284.8L815.5 280.8L815.4 276.8L816.0 272.8L816.7 270.8L818.1 268.8L820.8 266.8L822.8 265.7L824.8 264.6L826.8 263.5L830.8 263.2L832.8 264.0L834.8 265.0L836.8 265.9L839.9 264.8L841.6 262.8L842.8 261.0L844.2 258.8L845.7 256.8L847.5 254.8L849.8 252.8L852.7 250.8L854.8 249.2L856.8 247.4L858.8 245.6L860.8 244.1L862.7 242.8L864.8 241.7L866.7 240.8L868.8 239.5L870.8 236.9L871.5 234.8L872.5 230.8L873.2 226.8L873.6 222.8L874.1 218.8L874.8 214.8L875.8 210.8L876.5 208.8L877.7 206.8L880.8 204.9L884.8 205.9L888.8 206.1L890.8 205.1L892.8 203.2L894.4 200.8L895.4 198.8L896.3 196.8L897.0 194.8L898.1 190.8L898.8 187.9L899.3 184.8L899.9 180.8L900.3 176.8L900.7 172.8L901.0 168.8L901.2 164.8L901.5 160.8L901.8 156.8L902.2 152.8L902.7 148.8L903.4 144.8L904.4 140.8L905.0 138.8L905.8 136.8L906.6 134.8L907.7 132.8L908.8 131.0L910.4 128.8L912.0 126.8L913.7 124.8L915.5 122.8L916.8 121.4L918.8 119.1L920.6 116.8L922.1 114.8L923.4 112.8L924.5 110.8L925.5 108.8L926.3 106.8L927.1 104.8L927.8 102.8L928.5 100.8L929.1 98.8L929.8 96.8L930.4 94.8L931.2 92.8L932.0 90.8L932.8 88.9L933.9 86.8L935.1 84.8L936.6 82.8L938.4 80.8L940.0 78.8L941.5 76.8L942.8 75.0L943.9 72.8L945.1 70.8L946.1 68.8L947.1 66.8L948.1 64.8L949.2 62.8L950.3 60.8L951.5 58.8L952.8 57.0L954.4 54.8L956.3 52.8L958.8 50.8ZM793.3 214.8L794.8 212.9L796.8 214.0L797.6 216.8L798.1 220.8L798.1 224.8L797.9 228.8L797.4 232.8L796.8 236.7L796.1 238.8L795.5 240.8L794.9 242.8L792.8 244.5L791.5 240.8L790.8 237.5L790.6 234.8L790.5 230.8L790.6 226.8L791.0 222.8L791.8 218.8L792.8 215.5ZM1145.8 224.8L1148.8 222.8L1152.8 223.8L1154.8 225.6L1156.8 228.3L1158.3 230.8L1159.4 232.8L1160.4 234.8L1161.3 236.8L1162.1 238.8L1162.9 240.8L1163.6 242.8L1164.6 246.8L1165.4 250.8L1166.1 254.8L1166.5 258.8L1166.8 261.2L1167.1 264.8L1167.5 268.8L1167.9 272.8L1168.4 276.8L1168.8 279.6L1169.3 282.8L1170.1 286.8L1170.8 289.5L1171.7 292.8L1172.3 294.8L1173.0 296.8L1173.7 298.8L1174.5 300.8L1175.4 302.8L1176.3 304.8L1177.2 306.8L1178.2 308.8L1179.2 310.8L1180.3 312.8L1181.4 314.8L1182.6 316.8L1184.0 318.8L1185.3 320.8L1186.7 322.8L1188.1 324.8L1189.2 326.8L1190.0 328.8L1190.8 331.3L1191.4 334.8L1191.8 338.8L1191.9 342.8L1191.9 346.8L1191.6 350.8L1191.2 354.8L1190.8 358.0L1190.3 360.8L1189.5 364.8L1188.8 367.5L1187.7 370.8L1186.9 372.8L1186.0 374.8L1184.8 376.8L1183.2 378.8L1180.8 380.4L1176.8 379.4L1174.8 376.9L1173.7 374.8L1172.8 372.8L1172.1 370.8L1171.4 368.8L1170.8 366.8L1170.1 364.8L1168.9 360.8L1168.3 358.8L1167.7 356.8L1167.0 354.8L1166.3 352.8L1165.6 350.8L1164.8 348.8L1164.0 346.8L1163.2 344.8L1162.4 342.8L1161.6 340.8L1160.9 338.8L1160.2 336.8L1159.6 334.8L1158.8 331.9L1157.8 328.8L1156.8 325.2L1155.7 322.8L1154.3 320.8L1150.8 320.2L1148.8 321.6L1146.8 324.2L1145.5 326.8L1144.8 328.8L1144.0 332.8L1143.5 336.8L1143.3 340.8L1143.1 344.8L1143.0 348.8L1142.8 352.8L1142.5 356.8L1142.1 360.8L1141.6 364.8L1141.0 368.8L1140.0 372.8L1139.4 374.8L1136.8 376.5L1135.5 372.8L1134.8 370.2L1134.3 366.8L1133.9 362.8L1133.8 358.8L1133.8 354.8L1133.9 350.8L1134.2 346.8L1134.5 342.8L1135.0 338.8L1135.4 334.8L1135.8 330.8L1136.1 326.8L1136.2 322.8L1136.2 318.8L1136.0 314.8L1135.7 310.8L1135.3 306.8L1134.9 302.8L1134.4 298.8L1134.0 294.8L1133.6 290.8L1133.2 286.8L1133.0 282.8L1132.9 278.8L1132.8 274.8L1132.8 270.8L1132.8 266.8L1133.0 262.8L1133.3 258.8L1133.7 254.8L1134.3 250.8L1134.8 248.6L1135.7 244.8L1136.3 242.8L1137.0 240.8L1137.8 238.8L1138.7 236.8L1139.6 234.8L1140.6 232.8L1141.6 230.8L1142.8 228.9L1144.1 226.8L1145.8 224.8ZM733.0 262.8L734.8 261.3L738.8 261.6L740.8 263.8L742.3 266.8L743.1 268.8L743.8 270.8L744.4 272.8L745.5 276.8L746.7 280.8L747.4 282.8L748.3 284.8L749.4 286.8L750.8 288.7L752.7 290.8L754.5 292.8L756.0 294.8L757.1 296.8L758.0 298.8L758.7 300.8L759.4 302.8L760.4 306.8L760.8 309.2L761.4 312.8L761.8 316.8L761.9 320.8L761.8 324.8L761.4 328.8L760.9 332.8L760.1 336.8L758.8 340.8L757.9 342.8L756.8 344.6L754.8 346.6L752.8 347.9L750.9 348.8L748.8 349.8L746.8 350.8L744.8 351.8L740.8 351.5L739.5 348.8L738.9 346.8L738.2 342.8L737.6 338.8L737.0 334.8L736.4 330.8L735.7 326.8L734.8 322.9L734.1 320.8L733.5 318.8L732.8 316.9L731.9 314.8L731.1 312.8L730.4 310.8L729.6 308.8L729.0 306.8L728.3 304.8L727.4 300.8L726.8 296.8L726.4 292.8L726.3 288.8L726.4 284.8L726.8 281.0L727.4 276.8L728.3 272.8L728.9 270.8L729.6 268.8L730.5 266.8L731.6 264.8L732.8 263.1ZM1208.2 262.8L1210.8 261.9L1212.4 262.8L1213.9 264.8L1215.0 266.8L1215.7 268.8L1216.4 270.8L1217.0 272.8L1218.1 276.8L1218.8 279.2L1219.9 282.8L1220.6 284.8L1221.4 286.8L1222.5 288.8L1223.8 290.8L1225.3 292.8L1226.8 294.6L1228.0 296.8L1229.0 298.8L1229.7 300.8L1230.3 302.8L1232.2 304.6L1232.2 308.8L1232.2 312.8L1232.2 316.8L1232.2 320.8L1232.2 324.8L1232.2 328.8L1232.2 332.8L1232.2 336.8L1232.2 340.8L1232.2 344.0L1230.3 346.8L1229.6 350.8L1228.8 354.8L1227.9 358.8L1226.9 362.8L1225.8 366.8L1224.8 370.5L1224.0 372.8L1223.4 374.8L1222.7 376.8L1221.9 378.8L1221.0 380.8L1219.8 382.8L1218.8 384.4L1216.8 385.5L1214.8 384.7L1213.3 382.8L1212.2 380.8L1211.4 378.8L1210.7 376.8L1209.7 372.8L1209.1 368.8L1208.8 366.2L1208.5 362.8L1208.3 358.8L1208.2 354.8L1208.3 350.8L1208.5 346.8L1208.6 342.8L1208.7 338.8L1208.6 334.8L1208.3 330.8L1207.6 326.8L1206.8 323.4L1205.9 320.8L1205.1 318.8L1204.2 316.8L1203.4 314.8L1202.6 312.8L1201.8 310.8L1201.2 308.8L1200.0 304.8L1199.3 300.8L1199.0 296.8L1198.9 292.8L1199.0 288.8L1199.4 284.8L1200.1 280.8L1200.8 278.3L1201.8 274.8L1202.4 272.8L1203.2 270.8L1204.1 268.8L1205.1 266.8L1206.4 264.8L1208.2 262.8ZM708.1 298.8L710.8 298.9L712.5 300.8L713.6 302.8L714.4 304.8L715.1 306.8L716.1 310.8L716.8 314.4L717.1 316.8L717.5 320.8L717.8 324.8L718.0 328.8L718.1 332.8L718.0 336.8L717.8 340.8L717.3 344.8L716.8 347.2L715.7 348.8L712.8 349.8L710.8 349.0L708.8 347.3L707.1 344.8L706.2 342.8L705.4 340.8L704.7 338.8L703.8 334.8L703.2 330.8L702.8 327.5L702.6 324.8L702.4 320.8L702.5 316.8L702.7 312.8L703.3 308.8L704.2 304.8L704.8 302.8L706.0 300.8L708.1 298.8ZM732.3 390.8L734.8 389.7L736.8 392.5L737.5 394.8L738.5 398.8L739.1 402.8L739.6 406.8L740.0 410.8L740.3 414.8L740.5 418.8L740.7 422.8L740.9 426.8L741.1 430.8L741.2 434.8L741.3 438.8L741.4 442.8L741.3 446.8L740.9 450.8L739.8 454.8L738.8 456.8L737.1 458.8L734.8 459.9L732.8 459.1L731.3 456.8L730.4 454.8L729.7 452.8L728.8 449.2L728.3 446.8L727.7 442.8L727.3 438.8L727.0 434.8L726.8 430.8L726.6 426.8L726.6 422.8L726.7 418.8L726.9 414.8L727.2 410.8L727.7 406.8L728.2 402.8L728.8 399.9L729.6 396.8L730.2 394.8L731.0 392.8L732.3 390.8Z" fill="#f2f2ff" fill-rule="evenodd"/>
<path d="M959.7 52.8L962.8 51.9L966.5 52.8L968.8 54.2L970.8 56.1L972.8 58.7L974.2 60.8L975.4 62.8L976.5 64.8L977.6 66.8L978.5 68.8L979.5 70.8L980.3 72.8L981.2 74.8L982.1 76.8L982.9 78.8L983.8 80.8L984.6 82.8L985.6 84.8L986.4 86.8L987.4 88.8L988.4 90.8L989.5 92.8L990.6 94.8L991.9 96.8L993.3 98.8L994.7 100.8L996.3 102.8L998.0 104.8L1000.0 106.8L1002.2 108.8L1004.5 110.8L1006.7 112.8L1008.6 114.8L1010.1 116.8L1011.5 118.8L1012.8 120.8L1013.9 122.8L1015.1 124.8L1016.3 126.8L1017.6 128.8L1018.8 130.6L1020.5 132.8L1022.2 134.8L1024.0 136.8L1025.8 138.8L1027.4 140.8L1028.8 142.7L1030.0 144.8L1031.2 146.8L1032.1 148.8L1033.0 150.8L1033.9 152.8L1034.6 154.8L1035.3 156.8L1036.0 158.8L1036.8 161.5L1037.7 164.8L1038.7 168.8L1039.6 172.8L1040.4 176.8L1041.2 180.8L1042.0 184.8L1042.6 188.8L1043.4 192.8L1044.0 196.8L1044.6 200.8L1045.3 204.8L1045.9 208.8L1046.4 212.8L1046.8 216.3L1047.0 218.8L1047.3 222.8L1047.5 226.8L1047.6 230.8L1047.7 234.8L1047.8 238.8L1047.9 242.8L1048.1 246.8L1048.4 250.8L1048.8 254.7L1049.3 258.8L1049.9 262.8L1050.5 266.8L1051.3 270.8L1052.3 274.8L1053.6 278.8L1054.4 280.8L1055.5 282.8L1056.8 284.6L1058.8 286.6L1060.8 288.0L1062.8 289.0L1064.8 289.7L1068.8 290.2L1072.8 289.8L1074.8 289.1L1076.8 287.9L1078.8 286.2L1080.3 284.8L1082.8 282.8L1084.8 281.2L1086.8 278.9L1088.0 276.8L1089.0 274.8L1089.8 272.8L1090.6 270.8L1091.3 268.8L1092.0 266.8L1092.7 264.8L1093.6 262.8L1094.6 260.8L1096.8 259.5L1098.1 260.8L1099.5 262.8L1100.5 264.8L1101.3 266.8L1102.1 268.8L1102.8 270.8L1103.4 272.8L1104.0 274.8L1104.8 277.3L1105.7 280.8L1106.6 284.8L1107.4 288.8L1108.2 292.8L1108.8 296.1L1109.3 298.8L1110.1 302.8L1110.8 306.5L1111.3 308.8L1112.0 312.8L1112.6 316.8L1113.0 320.8L1113.4 324.8L1113.5 328.8L1113.6 332.8L1113.5 336.8L1113.2 340.8L1112.8 344.8L1112.3 348.8L1111.7 352.8L1110.9 356.8L1109.9 360.8L1108.8 364.8L1108.0 366.8L1107.1 368.8L1105.7 370.8L1102.8 372.4L1100.8 371.2L1099.0 368.8L1097.9 366.8L1097.0 364.8L1096.2 362.8L1095.4 360.8L1094.7 358.8L1094.1 356.8L1093.5 354.8L1092.8 352.4L1091.8 348.8L1090.8 344.8L1089.9 340.8L1089.1 336.8L1088.3 332.8L1087.4 328.8L1086.8 325.8L1086.0 322.8L1085.0 318.8L1084.4 316.8L1083.7 314.8L1083.0 312.8L1082.1 310.8L1081.2 308.8L1080.0 306.8L1078.8 304.9L1076.8 303.5L1073.6 304.8L1071.8 306.8L1070.3 308.8L1069.0 310.8L1067.7 312.8L1066.8 314.5L1065.7 316.8L1064.9 318.8L1064.3 320.8L1063.4 324.8L1062.8 328.8L1062.5 332.8L1062.4 336.8L1062.5 340.8L1062.6 344.8L1062.7 348.8L1062.8 352.0L1062.8 354.8L1062.8 358.8L1062.7 362.8L1062.4 366.8L1061.9 370.8L1061.2 374.8L1060.1 378.8L1059.2 380.8L1058.2 382.8L1056.9 384.8L1055.5 386.8L1053.8 388.8L1051.8 390.8L1049.5 392.8L1046.8 394.8L1044.8 396.4L1042.8 398.8L1041.7 400.8L1040.6 402.8L1039.8 404.8L1039.0 406.8L1038.3 408.8L1037.6 410.8L1036.9 412.8L1036.2 414.8L1035.5 416.8L1034.8 418.8L1034.1 420.8L1033.4 422.8L1032.6 424.8L1031.8 426.8L1031.0 428.8L1030.0 430.8L1029.0 432.8L1027.8 434.8L1026.8 436.5L1024.8 438.8L1022.8 440.3L1018.8 439.7L1016.8 438.6L1013.1 438.8L1011.1 440.8L1009.8 442.8L1008.8 444.5L1007.8 446.8L1006.8 448.8L1006.1 450.8L1005.4 452.8L1004.7 454.8L1003.6 458.8L1002.8 461.8L1002.0 464.8L1000.8 468.8L1000.1 470.8L999.4 472.8L998.4 474.8L997.0 476.8L994.8 478.0L991.7 476.8L989.1 474.8L986.8 472.9L984.8 471.4L982.8 470.4L978.8 469.8L975.2 470.8L972.8 472.0L970.8 473.0L968.8 473.9L964.8 474.4L960.8 472.8L958.8 471.3L956.8 469.4L954.8 467.3L952.8 464.9L951.0 462.8L949.5 460.8L948.0 458.8L946.8 457.2L945.0 454.8L943.4 452.8L941.6 450.8L939.3 448.8L936.8 447.2L934.8 446.5L931.3 446.8L928.8 448.1L926.8 449.1L924.1 448.8L922.2 446.8L921.1 444.8L920.4 442.8L919.2 438.8L918.4 434.8L917.6 430.8L916.9 426.8L916.0 422.8L915.0 418.8L914.4 416.8L913.6 414.8L912.8 412.8L911.5 410.8L909.4 408.8L906.8 408.0L903.5 408.8L900.8 410.6L898.8 412.8L897.6 414.8L896.6 416.8L895.6 418.8L894.8 420.8L892.8 422.7L891.4 420.8L890.5 418.8L889.3 414.8L888.6 412.8L887.3 408.8L886.4 406.8L885.4 404.8L884.2 402.8L882.8 400.8L881.5 398.8L880.1 396.8L878.8 394.8L877.5 392.8L876.1 390.8L874.8 389.0L872.8 387.1L868.8 388.2L866.9 390.8L865.6 392.8L864.4 394.8L863.3 396.8L862.3 398.8L861.4 400.8L860.6 402.8L859.9 404.8L858.8 408.7L857.8 412.8L856.9 416.8L855.9 420.8L854.8 424.4L853.5 426.8L850.8 428.7L849.3 426.8L848.4 424.8L847.3 420.8L846.8 418.6L846.2 414.8L845.6 410.8L845.1 406.8L844.8 404.2L844.3 400.8L843.7 396.8L843.0 392.8L842.2 388.8L841.4 384.8L840.8 381.7L840.4 378.8L840.0 374.8L839.9 370.8L840.0 366.8L840.4 362.8L841.7 358.8L842.8 356.9L844.8 355.9L847.6 354.8L849.5 352.8L850.8 350.8L851.6 348.8L852.6 346.8L853.5 344.8L854.5 342.8L855.7 340.8L856.8 339.2L858.6 336.8L860.3 334.8L861.7 332.8L862.6 330.8L863.5 326.8L863.7 322.8L863.6 318.8L863.2 314.8L862.8 311.8L862.2 308.8L861.1 304.8L860.5 302.8L859.7 300.8L858.9 298.8L858.0 296.8L857.1 294.8L856.0 292.8L855.0 290.8L853.7 288.8L852.4 286.8L850.9 284.8L849.1 282.8L847.0 280.8L845.2 278.8L844.1 276.8L843.9 272.8L844.8 269.1L845.6 266.8L846.5 264.8L847.7 262.8L849.2 260.8L850.8 259.1L852.8 257.0L854.7 254.8L856.4 252.8L858.1 250.8L860.1 248.8L862.6 246.8L864.8 245.6L866.8 244.9L868.8 244.1L870.7 242.8L872.0 240.8L872.9 238.8L873.8 234.8L874.5 230.8L875.0 226.8L875.5 222.8L876.2 218.8L876.8 216.0L878.0 212.8L879.6 210.8L882.8 210.1L886.1 210.8L888.8 211.0L892.8 209.6L894.8 207.8L896.6 204.8L897.4 202.8L898.0 200.8L898.8 198.4L899.5 194.8L900.3 190.8L900.8 187.8L901.1 184.8L901.6 180.8L901.9 176.8L902.2 172.8L902.5 168.8L902.7 164.8L902.9 160.8L903.2 156.8L903.7 152.8L904.3 148.8L904.8 146.3L905.7 142.8L906.3 140.8L907.1 138.8L908.1 136.8L909.2 134.8L910.5 132.8L912.0 130.8L913.7 128.8L915.4 126.8L916.8 125.4L918.8 123.2L920.8 121.0L922.6 118.8L924.0 116.8L925.2 114.8L926.3 112.8L927.2 110.8L928.0 108.8L928.8 106.8L929.4 104.8L930.1 102.8L930.8 100.8L931.5 98.8L932.2 96.8L933.0 94.8L933.9 92.8L934.8 91.0L936.1 88.8L937.4 86.8L938.8 85.1L940.3 82.8L941.6 80.8L942.8 78.9L943.8 76.8L944.8 75.1L945.8 72.8L946.8 70.9L947.7 68.8L948.7 66.8L949.7 64.8L950.8 63.0L952.0 60.8L953.4 58.8L954.8 57.0L956.8 54.8L958.8 53.3ZM1147.4 226.8L1150.8 226.0L1152.8 227.0L1154.6 228.8L1156.1 230.8L1157.4 232.8L1158.4 234.8L1159.4 236.8L1160.3 238.8L1161.1 240.8L1161.8 242.8L1162.4 244.8L1163.5 248.8L1164.4 252.8L1164.8 255.3L1165.3 258.8L1165.7 262.8L1166.1 266.8L1166.5 270.8L1166.8 273.3L1167.1 276.8L1167.6 280.8L1168.3 284.8L1168.8 287.2L1169.6 290.8L1170.7 294.8L1171.4 296.8L1172.1 298.8L1172.9 300.8L1173.6 302.8L1174.5 304.8L1175.4 306.8L1176.3 308.8L1177.3 310.8L1178.3 312.8L1179.3 314.8L1180.4 316.8L1181.5 318.8L1182.6 320.8L1183.8 322.8L1184.8 324.7L1186.0 326.8L1186.9 328.8L1187.8 330.8L1188.4 332.8L1189.4 336.8L1189.9 340.8L1190.1 344.8L1190.1 348.8L1189.9 352.8L1189.4 356.8L1188.8 360.8L1188.0 364.8L1186.8 368.8L1186.0 370.8L1185.0 372.8L1183.7 374.8L1181.6 376.8L1178.8 377.5L1176.8 376.3L1174.8 373.5L1173.5 370.8L1172.7 368.8L1172.0 366.8L1171.3 364.8L1170.7 362.8L1169.5 358.8L1168.8 356.1L1167.7 352.8L1167.1 350.8L1166.3 348.8L1165.6 346.8L1164.8 344.8L1164.1 342.8L1163.3 340.8L1162.6 338.8L1161.9 336.8L1161.3 334.8L1160.2 330.8L1159.2 326.8L1158.8 324.7L1157.7 320.8L1157.0 318.8L1155.9 316.8L1154.8 315.4L1152.7 314.8L1148.8 316.5L1146.8 318.0L1144.8 319.9L1142.8 322.0L1140.9 322.8L1140.1 320.8L1139.1 316.8L1138.3 312.8L1137.7 308.8L1137.0 304.8L1136.4 300.8L1135.9 296.8L1135.4 292.8L1134.9 288.8L1134.6 284.8L1134.3 280.8L1134.2 276.8L1134.1 272.8L1134.1 268.8L1134.3 264.8L1134.6 260.8L1135.0 256.8L1135.6 252.8L1136.4 248.8L1137.5 244.8L1138.2 242.8L1138.9 240.8L1139.7 238.8L1140.6 236.8L1141.6 234.8L1142.6 232.8L1143.8 230.8L1145.2 228.8L1146.8 227.2ZM735.9 264.8L738.8 265.2L740.1 266.8L741.3 268.8L742.1 270.8L742.9 272.8L744.0 276.8L744.8 279.7L745.6 282.8L746.2 284.8L747.0 286.8L748.0 288.8L749.3 290.8L750.8 292.5L752.8 294.7L754.4 296.8L755.5 298.8L756.4 300.8L757.2 302.8L757.8 304.8L758.6 308.8L759.3 312.8L759.7 316.8L759.8 320.8L759.7 324.8L759.4 328.8L758.9 332.8L757.9 336.8L757.1 338.8L756.1 340.8L754.8 342.6L752.8 344.4L750.8 345.5L748.8 346.3L746.0 346.8L742.8 345.9L740.9 342.8L740.3 340.8L739.4 336.8L738.8 333.6L738.3 330.8L737.6 326.8L736.8 323.0L736.2 320.8L734.9 316.8L734.1 314.8L733.3 312.8L732.5 310.8L731.7 308.8L731.0 306.8L730.3 304.8L729.2 300.8L728.8 298.3L728.3 294.8L728.0 290.8L728.0 286.8L728.3 282.8L728.8 279.4L729.3 276.8L730.4 272.8L731.1 270.8L732.1 268.8L733.4 266.8L734.8 265.3ZM1210.6 266.8L1212.8 268.3L1214.1 270.8L1215.0 272.8L1215.6 274.8L1216.2 276.8L1217.4 280.8L1218.5 284.8L1219.2 286.8L1219.9 288.8L1220.8 290.8L1222.0 292.8L1223.4 294.8L1224.8 296.4L1226.6 298.8L1227.7 300.8L1228.6 302.8L1229.2 304.8L1230.1 308.8L1230.6 312.8L1232.2 314.0L1232.2 316.8L1232.2 320.8L1232.2 324.8L1232.2 328.8L1232.2 331.6L1230.7 332.8L1230.3 336.8L1229.8 340.8L1229.3 344.8L1228.8 348.1L1228.3 350.8L1227.4 354.8L1226.8 357.9L1226.1 360.8L1225.1 364.8L1223.9 368.8L1223.3 370.8L1222.7 372.8L1221.9 374.8L1221.1 376.8L1220.0 378.8L1218.8 380.8L1216.8 382.0L1214.8 381.1L1213.2 378.8L1212.3 376.8L1211.6 374.8L1210.8 371.6L1210.2 368.8L1209.7 364.8L1209.5 360.8L1209.4 356.8L1209.4 352.8L1209.6 348.8L1209.7 344.8L1209.9 340.8L1210.1 336.8L1210.0 332.8L1209.7 328.8L1209.1 324.8L1208.0 320.8L1207.3 318.8L1206.6 316.8L1205.7 314.8L1205.0 312.8L1204.2 310.8L1203.5 308.8L1202.9 306.8L1201.8 302.8L1201.2 298.8L1200.8 294.8L1200.8 290.8L1201.1 286.8L1201.7 282.8L1202.6 278.8L1203.2 276.8L1203.9 274.8L1204.6 272.8L1205.7 270.8L1206.8 269.0L1208.8 267.1ZM825.3 270.8L828.8 269.2L832.8 270.5L834.8 272.2L836.8 274.5L838.4 276.8L839.4 278.8L839.9 282.8L839.6 286.8L839.1 290.8L838.8 293.8L838.4 296.8L837.8 300.8L837.2 304.8L836.8 307.1L835.7 310.8L834.9 312.8L832.8 314.3L830.8 313.1L828.9 310.8L827.6 308.8L826.4 306.8L825.3 304.8L824.3 302.8L823.5 300.8L822.7 298.8L822.0 296.8L821.3 294.8L820.3 290.8L819.5 286.8L819.1 282.8L819.4 278.8L820.0 276.8L821.1 274.8L822.8 272.9L824.8 271.2ZM708.2 304.8L710.8 305.2L711.8 306.8L712.8 308.5L713.5 310.8L714.5 314.8L715.2 318.8L715.5 322.8L715.7 326.8L715.6 330.8L715.2 334.8L714.8 337.3L713.0 340.8L710.8 341.6L708.8 340.4L707.7 338.8L706.8 337.2L706.0 334.8L704.9 330.8L704.4 326.8L704.1 322.8L704.1 318.8L704.3 314.8L704.8 311.4L705.5 308.8L706.3 306.8L708.2 304.8ZM1138.6 340.8L1139.4 342.8L1139.9 346.8L1140.0 350.8L1139.7 354.8L1139.3 358.8L1138.8 362.0L1137.0 358.8L1136.7 354.8L1136.8 351.9L1137.2 348.8L1137.9 344.8L1138.6 340.8ZM732.1 398.8L734.8 397.7L736.4 400.8L737.1 402.8L737.9 406.8L738.5 410.8L738.8 413.4L739.0 416.8L739.3 420.8L739.4 424.8L739.6 428.8L739.6 432.8L739.6 436.8L739.5 440.8L739.1 444.8L738.3 448.8L737.6 450.8L736.4 452.8L734.8 454.2L732.8 453.5L731.3 450.8L730.5 448.8L729.6 444.8L728.9 440.8L728.4 436.8L728.2 432.8L728.0 428.8L727.9 424.8L728.0 420.8L728.2 416.8L728.5 412.8L729.1 408.8L729.9 404.8L730.8 401.3L732.1 398.8ZM1063.8 404.8L1066.4 406.8L1067.2 408.8L1068.3 412.8L1069.1 416.8L1069.5 420.8L1069.6 424.8L1069.5 428.8L1069.0 432.8L1068.3 434.8L1067.0 436.8L1064.8 435.2L1064.0 432.8L1063.0 428.8L1062.4 424.8L1062.1 420.8L1061.9 416.8L1062.0 412.8L1062.3 408.8L1062.8 406.1Z" fill="#f0f0ff" fill-rule="evenodd"/>
<path d="M960.1 54.8L962.8 54.1L966.1 54.8L968.8 56.5L970.8 58.5L972.6 60.8L973.9 62.8L975.1 64.8L976.1 66.8L977.1 68.8L978.1 70.8L979.0 72.8L979.8 74.8L980.6 76.8L981.5 78.8L982.3 80.8L983.1 82.8L983.9 84.8L984.7 86.8L985.6 88.8L986.4 90.8L987.3 92.8L988.3 94.8L989.3 96.8L990.4 98.8L991.6 100.8L992.8 102.6L994.4 104.8L996.0 106.8L997.7 108.8L999.8 110.8L1002.1 112.8L1004.5 114.8L1006.8 116.8L1008.6 118.8L1010.2 120.8L1011.6 122.8L1012.8 124.6L1014.1 126.8L1015.3 128.8L1016.6 130.8L1018.1 132.8L1019.7 134.8L1021.5 136.8L1023.4 138.8L1024.8 140.2L1026.8 142.5L1028.4 144.8L1029.7 146.8L1030.8 148.7L1031.8 150.8L1032.7 152.8L1033.5 154.8L1034.3 156.8L1034.9 158.8L1035.6 160.8L1036.7 164.8L1037.8 168.8L1038.7 172.8L1039.6 176.8L1040.3 180.8L1040.8 183.4L1041.4 186.8L1042.1 190.8L1042.7 194.8L1043.3 198.8L1043.8 202.8L1044.3 206.8L1044.7 210.8L1045.1 214.8L1045.5 218.8L1045.7 222.8L1045.8 226.8L1045.9 230.8L1046.0 234.8L1046.1 238.8L1046.3 242.8L1046.6 246.8L1046.8 249.3L1047.1 252.8L1047.6 256.8L1048.1 260.8L1048.6 264.8L1049.3 268.8L1050.0 272.8L1050.7 276.8L1051.7 280.8L1052.8 284.7L1053.6 286.8L1054.5 288.8L1055.7 290.8L1056.8 292.4L1058.8 294.7L1060.6 296.8L1062.1 298.8L1062.9 300.8L1063.4 304.8L1062.8 308.8L1062.1 312.8L1061.4 316.8L1060.8 320.8L1060.5 324.8L1060.3 328.8L1060.2 332.8L1060.2 336.8L1060.3 340.8L1060.4 344.8L1060.5 348.8L1060.5 352.8L1060.4 356.8L1060.2 360.8L1059.7 364.8L1059.0 368.8L1058.0 372.8L1057.4 374.8L1056.6 376.8L1055.8 378.8L1054.8 380.8L1053.8 382.8L1052.8 384.5L1051.1 386.8L1049.3 388.8L1047.1 390.8L1044.8 392.8L1043.2 394.8L1041.9 396.8L1040.8 398.8L1040.0 400.8L1039.2 402.8L1038.4 404.8L1037.7 406.8L1037.0 408.8L1036.3 410.8L1035.6 412.8L1034.9 414.8L1034.2 416.8L1033.4 418.8L1032.6 420.8L1031.7 422.8L1030.8 424.8L1029.6 426.8L1028.3 428.8L1026.8 430.8L1024.8 432.3L1020.8 432.4L1018.8 431.2L1016.8 429.9L1014.8 429.1L1011.8 430.8L1010.5 432.8L1009.6 434.8L1008.7 436.8L1008.0 438.8L1007.2 440.8L1006.5 442.8L1005.8 444.8L1005.2 446.8L1004.6 448.8L1003.5 452.8L1002.8 455.3L1001.9 458.8L1000.8 462.8L1000.2 464.8L999.5 466.8L998.8 468.8L997.7 470.8L996.2 472.8L992.8 473.8L990.9 472.8L988.8 471.2L986.8 469.7L984.8 468.3L982.8 467.3L980.8 466.7L977.1 466.8L974.8 467.6L972.8 468.6L970.8 469.6L968.8 470.4L964.8 470.9L960.8 469.2L958.8 467.7L956.8 465.8L954.8 463.7L952.8 461.4L950.8 458.9L949.2 456.8L947.7 454.8L946.3 452.8L944.8 450.8L943.2 448.8L941.4 446.8L939.2 444.8L936.8 443.2L934.8 442.3L930.8 442.0L927.9 442.8L924.8 443.2L922.8 441.4L921.6 438.8L920.8 436.8L919.8 432.8L919.0 428.8L918.1 424.8L917.3 420.8L916.2 416.8L915.6 414.8L914.9 412.8L914.0 410.8L913.1 408.8L911.6 406.8L909.3 404.8L906.8 404.1L902.8 404.6L898.8 405.7L896.8 406.4L892.8 405.2L891.3 402.8L890.2 400.8L888.9 398.8L886.8 397.0L884.8 395.7L882.8 394.1L880.8 391.9L878.8 389.2L877.2 386.8L875.9 384.8L874.8 383.0L872.9 380.8L870.8 380.2L868.8 382.0L867.0 384.8L865.8 386.8L864.8 388.6L863.4 390.8L862.2 392.8L861.0 394.8L859.9 396.8L859.1 398.8L858.4 400.8L857.4 404.8L856.8 407.8L856.1 410.8L855.3 414.8L854.8 417.0L853.3 420.8L850.8 422.7L849.7 420.8L848.8 418.8L848.0 414.8L847.4 410.8L846.8 406.8L846.4 402.8L846.0 398.8L845.6 394.8L845.1 390.8L844.5 386.8L843.9 382.8L843.3 378.8L843.0 374.8L843.3 370.8L844.8 367.2L848.8 366.9L850.4 364.8L851.2 362.8L852.2 358.8L853.3 354.8L854.5 350.8L855.3 348.8L856.3 346.8L857.6 344.8L859.6 342.8L862.8 341.3L866.8 342.1L868.8 343.0L869.3 340.8L869.1 336.8L868.8 334.5L868.1 330.8L867.5 326.8L866.8 322.8L866.3 318.8L865.6 314.8L864.8 311.0L864.3 308.8L863.1 304.8L862.5 302.8L861.8 300.8L861.0 298.8L860.2 296.8L859.3 294.8L858.4 292.8L857.4 290.8L856.5 288.8L855.6 286.8L854.8 285.0L853.7 282.8L852.9 280.8L852.1 278.8L851.4 276.8L850.8 272.8L851.2 268.8L852.6 264.8L853.6 262.8L854.7 260.8L855.8 258.8L857.1 256.8L858.5 254.8L860.1 252.8L862.2 250.8L864.8 249.3L868.8 248.3L870.8 247.6L872.8 245.6L873.9 242.8L874.5 240.8L875.4 236.8L876.0 232.8L876.6 228.8L877.2 224.8L878.1 220.8L878.8 218.6L879.9 216.8L882.8 215.0L886.8 215.4L890.8 215.7L894.8 215.3L896.8 214.0L898.4 210.8L899.0 208.8L899.9 204.8L900.7 200.8L901.3 196.8L901.8 192.8L902.4 188.8L902.8 185.3L903.0 182.8L903.3 178.8L903.6 174.8L903.8 170.8L904.0 166.8L904.2 162.8L904.5 158.8L904.8 156.2L905.2 152.8L905.9 148.8L906.8 145.4L907.6 142.8L908.5 140.8L909.5 138.8L910.6 136.8L912.0 134.8L913.6 132.8L914.8 131.4L916.8 129.1L918.8 126.9L920.8 124.9L922.7 122.8L924.3 120.8L925.7 118.8L926.8 117.0L927.8 114.8L928.7 112.8L929.5 110.8L930.3 108.8L931.0 106.8L931.7 104.8L932.4 102.8L933.1 100.8L933.9 98.8L934.8 96.8L935.7 94.8L936.8 93.0L938.0 90.8L939.2 88.8L940.5 86.8L941.5 84.8L942.6 82.8L943.5 80.8L944.5 78.8L945.4 76.8L946.3 74.8L947.2 72.8L948.1 70.8L949.1 68.8L950.1 66.8L951.2 64.8L952.3 62.8L953.7 60.8L954.8 59.3L956.8 57.1L958.8 55.5ZM1146.4 230.8L1148.8 229.1L1152.8 230.0L1154.8 232.1L1156.5 234.8L1157.6 236.8L1158.6 238.8L1159.4 240.8L1160.2 242.8L1160.9 244.8L1161.5 246.8L1162.6 250.8L1163.4 254.8L1164.0 258.8L1164.5 262.8L1165.0 266.8L1165.3 270.8L1165.7 274.8L1166.1 278.8L1166.6 282.8L1167.2 286.8L1168.0 290.8L1168.8 293.7L1169.7 296.8L1170.3 298.8L1171.1 300.8L1171.9 302.8L1172.7 304.8L1173.6 306.8L1174.5 308.8L1175.4 310.8L1176.4 312.8L1177.4 314.8L1178.4 316.8L1179.5 318.8L1180.5 320.8L1181.6 322.8L1182.6 324.8L1183.6 326.8L1184.5 328.8L1185.4 330.8L1186.1 332.8L1186.8 334.8L1187.7 338.8L1188.3 342.8L1188.5 346.8L1188.5 350.8L1188.2 354.8L1187.7 358.8L1187.0 362.8L1185.8 366.8L1185.1 368.8L1184.0 370.8L1182.8 372.8L1180.8 374.3L1176.8 373.2L1175.1 370.8L1174.1 368.8L1173.3 366.8L1172.5 364.8L1171.9 362.8L1171.3 360.8L1170.1 356.8L1169.0 352.8L1168.4 350.8L1167.8 348.8L1167.1 346.8L1166.4 344.8L1165.7 342.8L1165.0 340.8L1164.3 338.8L1163.6 336.8L1163.0 334.8L1161.9 330.8L1161.0 326.8L1160.2 322.8L1159.3 318.8L1158.8 316.3L1157.4 312.8L1155.6 310.8L1152.8 310.4L1150.8 311.1L1148.8 312.1L1146.8 313.0L1144.8 313.7L1142.3 312.8L1141.0 310.8L1140.2 308.8L1139.1 304.8L1138.2 300.8L1137.5 296.8L1136.9 292.8L1136.4 288.8L1136.0 284.8L1135.7 280.8L1135.5 276.8L1135.4 272.8L1135.4 268.8L1135.6 264.8L1135.9 260.8L1136.4 256.8L1136.8 254.5L1137.5 250.8L1138.6 246.8L1139.2 244.8L1139.9 242.8L1140.7 240.8L1141.5 238.8L1142.5 236.8L1143.5 234.8L1144.7 232.8L1146.4 230.8ZM1095.3 266.8L1096.8 265.6L1098.6 266.8L1099.8 268.8L1100.8 270.5L1101.6 272.8L1102.3 274.8L1103.0 276.8L1104.1 280.8L1104.8 283.5L1105.5 286.8L1106.2 290.8L1106.8 294.1L1107.2 296.8L1107.9 300.8L1108.5 304.8L1109.2 308.8L1109.9 312.8L1110.6 316.8L1111.2 320.8L1111.6 324.8L1111.9 328.8L1112.0 332.8L1112.0 336.8L1111.8 340.8L1111.4 344.8L1110.9 348.8L1110.2 352.8L1109.4 356.8L1108.8 359.2L1107.5 362.8L1106.8 364.7L1105.2 366.8L1102.8 367.9L1100.8 366.4L1098.8 363.1L1097.8 360.8L1097.0 358.8L1096.3 356.8L1095.6 354.8L1095.0 352.8L1093.9 348.8L1092.8 344.8L1091.8 340.8L1090.9 336.8L1090.1 332.8L1089.3 328.8L1088.8 326.3L1088.0 322.8L1087.1 318.8L1086.2 314.8L1085.1 310.8L1084.1 306.8L1083.1 302.8L1082.3 298.8L1082.4 294.8L1083.7 290.8L1084.8 289.1L1086.3 286.8L1087.6 284.8L1088.7 282.8L1089.6 280.8L1090.4 278.8L1091.1 276.8L1091.8 274.8L1092.5 272.8L1093.2 270.8L1094.1 268.8L1095.3 266.8ZM735.6 268.8L738.3 268.8L740.1 270.8L741.1 272.8L741.8 274.8L742.5 276.8L743.5 280.8L744.5 284.8L745.7 288.8L746.5 290.8L747.6 292.8L748.8 294.3L750.8 296.3L752.8 298.5L754.2 300.8L755.2 302.8L755.9 304.8L756.8 308.0L757.3 310.8L757.9 314.8L758.1 318.8L758.2 322.8L757.9 326.8L757.4 330.8L756.8 333.7L755.6 336.8L754.5 338.8L752.8 340.8L750.8 342.1L748.8 342.8L744.8 342.2L743.5 340.8L742.3 338.8L741.6 336.8L740.8 333.7L740.2 330.8L739.4 326.8L738.8 323.4L738.2 320.8L737.1 316.8L736.4 314.8L735.7 312.8L734.8 310.8L733.9 308.8L733.0 306.8L732.2 304.8L731.6 302.8L730.8 299.9L730.2 296.8L729.7 292.8L729.5 288.8L729.7 284.8L730.2 280.8L730.8 278.0L731.7 274.8L732.5 272.8L733.6 270.8L734.8 269.3ZM1207.8 272.8L1210.8 271.7L1212.8 273.8L1214.1 276.8L1214.9 278.8L1216.1 282.8L1216.8 285.3L1217.8 288.8L1218.4 290.8L1219.1 292.8L1220.0 294.8L1221.1 296.8L1222.7 298.8L1224.5 300.8L1226.0 302.8L1227.1 304.8L1227.8 306.8L1228.4 308.8L1229.2 312.8L1229.6 316.8L1229.7 320.8L1229.7 324.8L1229.6 328.8L1229.3 332.8L1229.0 336.8L1228.5 340.8L1227.9 344.8L1227.2 348.8L1226.8 351.3L1226.1 354.8L1225.2 358.8L1224.3 362.8L1223.2 366.8L1221.9 370.8L1221.2 372.8L1220.2 374.8L1219.0 376.8L1216.8 378.5L1214.8 377.5L1213.2 374.8L1212.5 372.8L1211.5 368.8L1210.9 364.8L1210.6 360.8L1210.4 356.8L1210.5 352.8L1210.7 348.8L1210.9 344.8L1211.2 340.8L1211.4 336.8L1211.6 332.8L1211.5 328.8L1211.0 324.8L1210.2 320.8L1209.6 318.8L1208.8 316.8L1208.0 314.8L1207.2 312.8L1206.4 310.8L1205.6 308.8L1204.9 306.8L1204.3 304.8L1203.4 300.8L1202.8 296.8L1202.6 292.8L1202.7 288.8L1203.2 284.8L1204.0 280.8L1204.8 278.2L1206.3 274.8L1207.8 272.8ZM826.6 276.8L828.8 275.7L832.0 276.8L833.7 278.8L834.8 280.8L835.5 282.8L836.2 286.8L836.4 290.8L836.2 294.8L835.8 298.8L835.1 302.8L834.4 304.8L833.2 306.8L830.8 307.1L828.8 304.9L827.5 302.8L826.5 300.8L825.6 298.8L824.9 296.8L823.8 292.8L823.2 288.8L823.1 284.8L824.0 280.8L825.0 278.8L826.6 276.8ZM708.0 312.8L710.8 313.1L712.0 316.8L712.8 320.7L712.9 324.8L712.8 327.5L711.9 330.8L710.8 332.8L708.1 330.8L707.2 328.8L706.4 324.8L706.2 320.8L706.5 316.8L708.0 312.8ZM732.0 406.8L734.8 405.3L736.0 408.8L736.8 411.4L737.2 414.8L737.6 418.8L737.9 422.8L738.0 426.8L738.0 430.8L737.9 434.8L737.6 438.8L737.0 442.8L735.4 446.8L732.8 447.3L731.7 444.8L731.0 442.8L730.2 438.8L729.8 434.8L729.5 430.8L729.4 426.8L729.4 422.8L729.6 418.8L730.0 414.8L730.6 410.8L732.0 406.8Z" fill="#eeeeff" fill-rule="evenodd"/>
<path d="M960.7 58.8L964.8 58.6L966.8 59.4L968.6 60.8L970.5 62.8L972.0 64.8L973.3 66.8L974.4 68.8L975.4 70.8L976.4 72.8L977.3 74.8L978.1 76.8L978.9 78.8L979.7 80.8L980.4 82.8L981.1 84.8L981.9 86.8L982.5 88.8L983.3 90.8L984.0 92.8L984.7 94.8L985.5 96.8L986.2 98.8L987.0 100.8L988.0 102.8L988.9 104.8L990.0 106.8L991.1 108.8L992.4 110.8L993.8 112.8L995.4 114.8L996.8 116.3L998.8 118.3L1000.8 120.0L1002.8 121.6L1004.3 122.8L1006.6 124.8L1008.4 126.8L1010.1 128.8L1011.5 130.8L1012.8 132.5L1014.4 134.8L1015.9 136.8L1017.6 138.8L1019.6 140.8L1021.8 142.8L1024.0 144.8L1025.9 146.8L1027.5 148.8L1028.8 150.6L1030.0 152.8L1031.0 154.8L1031.9 156.8L1032.7 158.8L1033.5 160.8L1034.1 162.8L1034.7 164.8L1035.9 168.8L1036.8 172.6L1037.3 174.8L1038.1 178.8L1038.8 182.7L1039.5 186.8L1040.1 190.8L1040.6 194.8L1041.1 198.8L1041.5 202.8L1041.8 206.8L1042.1 210.8L1042.2 214.8L1042.3 218.8L1042.3 222.8L1042.2 226.8L1042.2 230.8L1042.2 234.8L1042.4 238.8L1042.6 242.8L1043.0 246.8L1043.5 250.8L1044.0 254.8L1044.6 258.8L1045.2 262.8L1045.8 266.8L1046.3 270.8L1046.8 274.1L1047.1 276.8L1047.7 280.8L1048.2 284.8L1048.7 288.8L1049.3 292.8L1049.9 296.8L1050.7 300.8L1051.6 304.8L1052.6 308.8L1053.5 312.8L1054.2 316.8L1054.7 320.8L1055.1 324.8L1055.4 328.8L1055.7 332.8L1055.9 336.8L1056.1 340.8L1056.1 344.8L1056.2 348.8L1056.0 352.8L1055.8 356.8L1055.3 360.8L1054.8 363.8L1054.1 366.8L1053.0 370.8L1052.3 372.8L1051.6 374.8L1050.6 376.8L1049.5 378.8L1048.1 380.8L1046.8 382.4L1044.8 384.6L1043.0 386.8L1041.8 388.8L1040.8 390.8L1040.0 392.8L1039.2 394.8L1038.4 396.8L1037.8 398.8L1037.1 400.8L1036.5 402.8L1035.8 404.8L1035.1 406.8L1034.4 408.8L1033.6 410.8L1032.8 412.8L1031.8 414.8L1030.8 416.8L1029.3 418.8L1027.4 420.8L1024.8 422.2L1020.8 421.0L1018.8 419.6L1016.8 417.9L1014.8 416.3L1012.8 415.4L1010.1 416.8L1008.8 418.8L1008.0 420.8L1007.3 422.8L1006.7 424.8L1005.6 428.8L1004.8 431.9L1004.1 434.8L1003.1 438.8L1002.2 442.8L1001.3 446.8L1000.8 449.0L999.9 452.8L998.8 456.8L998.1 458.8L997.3 460.8L996.3 462.8L994.8 464.8L992.8 465.6L990.2 464.8L986.8 462.8L984.8 461.5L982.8 460.5L980.8 459.8L976.8 459.6L973.3 460.8L970.8 462.0L968.9 462.8L964.8 463.2L962.8 462.6L960.8 461.5L958.8 460.0L956.8 458.2L955.3 456.8L953.4 454.8L951.7 452.8L950.2 450.8L948.8 448.9L947.3 446.8L945.9 444.8L944.8 443.3L942.8 440.8L940.9 438.8L938.8 436.9L936.8 435.4L934.8 434.0L932.8 432.9L930.8 432.0L928.8 431.3L926.8 430.5L924.8 428.8L923.7 426.8L922.8 424.9L922.1 422.8L921.4 420.8L920.8 418.8L919.6 414.8L918.9 412.8L918.3 410.8L917.5 408.8L916.8 406.8L915.9 404.8L914.9 402.8L913.8 400.8L912.4 398.8L910.8 397.2L908.8 396.1L904.8 395.4L902.8 394.8L900.8 393.2L899.3 390.8L898.5 388.8L897.4 384.8L896.9 380.8L896.4 376.8L896.2 372.8L896.0 368.8L895.8 364.8L895.7 360.8L895.4 356.8L894.9 352.8L893.9 348.8L893.1 346.8L890.9 344.8L886.8 345.3L882.8 345.2L880.8 343.2L879.7 340.8L878.9 338.8L878.2 336.8L877.2 332.8L876.2 328.8L875.2 324.8L874.8 322.5L873.8 318.8L872.8 314.8L872.2 312.8L871.6 310.8L871.0 308.8L870.2 306.8L869.4 304.8L868.5 302.8L867.5 300.8L866.5 298.8L865.5 296.8L864.5 294.8L863.5 292.8L862.5 290.8L861.7 288.8L860.8 286.8L860.1 284.8L859.4 282.8L858.8 280.3L858.1 276.8L858.0 272.8L858.5 268.8L859.6 264.8L860.5 262.8L861.7 260.8L863.6 258.8L866.8 257.5L870.8 258.3L873.6 256.8L874.8 255.1L875.6 252.8L876.2 250.8L877.2 246.8L878.0 242.8L878.8 239.0L879.2 236.8L880.2 232.8L880.8 230.7L881.6 228.8L882.8 226.9L884.8 225.4L888.8 225.7L890.5 226.8L892.4 228.8L893.7 230.8L894.6 232.8L895.4 234.8L896.1 236.8L896.8 239.5L898.1 242.8L898.7 244.8L900.8 243.3L901.2 240.8L901.9 236.8L902.5 232.8L902.9 228.8L903.2 224.8L903.4 220.8L903.6 216.8L903.9 212.8L904.2 208.8L904.5 204.8L904.8 201.6L905.0 198.8L905.3 194.8L905.7 190.8L906.1 186.8L906.4 182.8L906.7 178.8L907.0 174.8L907.2 170.8L907.4 166.8L907.7 162.8L908.2 158.8L908.8 154.9L909.7 150.8L910.3 148.8L911.1 146.8L912.0 144.8L913.0 142.8L914.2 140.8L915.6 138.8L916.8 137.3L918.8 134.9L920.8 132.9L922.8 130.9L924.8 128.9L926.5 126.8L927.9 124.8L929.1 122.8L930.2 120.8L931.1 118.8L932.0 116.8L932.9 114.8L933.6 112.8L934.4 110.8L935.2 108.8L935.9 106.8L936.8 104.8L937.5 102.8L938.4 100.8L939.2 98.8L940.1 96.8L941.0 94.8L941.7 92.8L942.6 90.8L943.4 88.8L944.1 86.8L945.0 84.8L945.7 82.8L946.5 80.8L947.3 78.8L948.1 76.8L949.0 74.8L949.8 72.8L950.8 70.9L951.8 68.8L952.8 67.1L954.2 64.8L955.7 62.8L957.7 60.8L960.7 58.8ZM1148.1 236.8L1150.8 236.0L1152.8 237.1L1154.3 238.8L1155.6 240.8L1156.6 242.8L1157.5 244.8L1158.3 246.8L1158.9 248.8L1160.0 252.8L1160.8 256.0L1161.3 258.8L1161.8 262.8L1162.3 266.8L1162.6 270.8L1162.8 273.6L1162.9 276.8L1163.0 280.8L1163.1 284.8L1163.1 288.8L1163.0 292.8L1162.8 296.8L1161.1 298.8L1156.8 299.3L1154.8 300.1L1152.8 301.1L1150.8 302.2L1148.8 302.9L1146.0 302.8L1143.6 300.8L1142.5 298.8L1141.7 296.8L1141.1 294.8L1140.1 290.8L1139.4 286.8L1138.9 282.8L1138.5 278.8L1138.4 274.8L1138.3 270.8L1138.5 266.8L1138.8 262.9L1139.3 258.8L1140.1 254.8L1140.8 251.9L1141.7 248.8L1142.3 246.8L1143.1 244.8L1144.0 242.8L1144.9 240.8L1146.2 238.8L1148.1 236.8ZM735.3 280.8L736.8 279.1L738.8 280.7L739.4 282.8L740.4 286.8L741.0 290.8L741.3 294.8L741.5 298.8L740.8 302.8L738.8 302.1L736.8 300.3L735.0 296.8L734.0 292.8L733.7 288.8L734.0 284.8L734.8 281.6ZM1096.6 282.8L1098.8 282.0L1100.4 284.8L1101.1 286.8L1102.1 290.8L1102.8 293.7L1103.2 296.8L1103.7 300.8L1104.1 304.8L1104.7 308.8L1105.2 312.8L1105.8 316.8L1106.5 320.8L1107.1 324.8L1107.6 328.8L1108.0 332.8L1108.1 336.8L1107.9 340.8L1107.5 344.8L1106.9 348.8L1106.2 350.8L1105.3 352.8L1102.8 354.4L1101.6 352.8L1100.5 350.8L1099.8 348.8L1099.1 346.8L1098.0 342.8L1097.0 338.8L1096.1 334.8L1095.3 330.8L1094.8 328.6L1094.1 324.8L1093.4 320.8L1092.8 316.9L1092.3 312.8L1092.1 308.8L1092.0 304.8L1092.3 300.8L1092.8 297.5L1093.2 294.8L1094.0 290.8L1094.8 287.6L1095.8 284.8L1096.6 282.8ZM1208.7 286.8L1211.8 288.8L1212.6 290.8L1213.4 294.8L1213.8 298.8L1213.8 302.8L1213.1 304.8L1210.8 304.1L1208.9 300.8L1207.9 296.8L1207.6 292.8L1208.1 288.8ZM742.0 304.8L744.8 303.4L748.8 304.1L750.8 305.5L752.8 308.7L753.4 310.8L754.3 314.8L754.7 318.8L754.6 322.8L754.1 326.8L752.8 330.8L751.4 332.8L748.8 334.1L746.8 333.1L745.3 330.8L744.5 328.8L743.6 324.8L742.9 320.8L742.5 316.8L742.3 312.8L742.1 308.8L742.0 304.8ZM1164.4 304.8L1166.8 305.7L1168.8 308.6L1169.9 310.8L1171.1 312.8L1172.2 314.8L1173.3 316.8L1174.5 318.8L1175.6 320.8L1176.8 322.7L1177.9 324.8L1179.0 326.8L1179.9 328.8L1180.9 330.8L1181.7 332.8L1182.5 334.8L1183.1 336.8L1184.1 340.8L1184.8 344.5L1185.1 348.8L1185.1 352.8L1184.8 356.3L1184.3 358.8L1183.2 362.8L1182.2 364.8L1180.8 366.7L1178.2 366.8L1176.2 364.8L1175.1 362.8L1174.3 360.8L1173.6 358.8L1173.0 356.8L1171.9 352.8L1170.9 348.8L1169.9 344.8L1168.8 340.8L1167.7 336.8L1166.8 333.6L1166.1 330.8L1165.2 326.8L1164.8 324.6L1164.3 320.8L1164.0 316.8L1163.8 312.8L1163.9 308.8L1164.4 304.8ZM1218.5 316.8L1220.8 314.8L1222.8 315.5L1224.5 318.8L1225.1 322.8L1225.2 326.8L1225.1 330.8L1224.9 334.8L1224.8 337.4L1224.4 340.8L1224.0 344.8L1223.6 348.8L1223.1 352.8L1222.4 356.8L1221.5 360.8L1220.8 363.7L1219.4 366.8L1217.8 368.8L1214.8 367.3L1214.1 364.8L1213.4 360.8L1213.2 356.8L1213.2 352.8L1213.5 348.8L1214.0 344.8L1214.5 340.8L1215.2 336.8L1215.9 332.8L1216.5 328.8L1216.8 326.4L1217.3 322.8L1218.0 318.8Z" fill="#eaeaff" fill-rule="evenodd"/>
<path d="M960.1 62.8L962.8 62.0L966.1 62.8L968.8 64.7L970.6 66.8L971.9 68.8L973.2 70.8L974.2 72.8L975.2 74.8L976.1 76.8L976.9 78.8L977.7 80.8L978.4 82.8L979.1 84.8L979.8 86.8L980.5 88.8L981.1 90.8L981.8 92.8L982.4 94.8L983.0 96.8L983.7 98.8L984.4 100.8L985.1 102.8L985.8 104.8L986.6 106.8L987.4 108.8L988.3 110.8L989.3 112.8L990.4 114.8L991.7 116.8L992.8 118.4L994.6 120.8L996.5 122.8L998.5 124.8L1000.7 126.8L1002.8 128.5L1004.8 130.3L1006.8 132.2L1008.8 134.5L1010.6 136.8L1012.2 138.8L1013.9 140.8L1015.8 142.8L1018.1 144.8L1020.8 146.8L1022.8 148.3L1024.8 150.1L1026.8 152.4L1028.4 154.8L1029.6 156.8L1030.5 158.8L1031.4 160.8L1032.2 162.8L1032.9 164.8L1033.5 166.8L1034.6 170.8L1035.6 174.8L1036.4 178.8L1037.1 182.8L1037.8 186.8L1038.3 190.8L1038.8 194.7L1039.2 198.8L1039.5 202.8L1039.7 206.8L1039.7 210.8L1039.7 214.8L1039.6 218.8L1039.3 222.8L1039.1 226.8L1038.8 230.8L1038.7 234.8L1038.7 238.8L1038.8 241.5L1039.0 244.8L1039.5 248.8L1040.1 252.8L1040.8 256.2L1041.2 258.8L1041.9 262.8L1042.6 266.8L1043.2 270.8L1043.7 274.8L1044.2 278.8L1044.6 282.8L1044.8 285.4L1045.0 288.8L1045.2 292.8L1045.4 296.8L1045.7 300.8L1046.0 304.8L1046.4 308.8L1046.8 311.3L1047.5 314.8L1048.4 318.8L1049.5 322.8L1050.4 326.8L1051.1 330.8L1051.7 334.8L1052.1 338.8L1052.4 342.8L1052.5 346.8L1052.4 350.8L1052.1 354.8L1051.6 358.8L1050.9 362.8L1049.8 366.8L1049.0 368.8L1048.1 370.8L1047.0 372.8L1045.6 374.8L1044.0 376.8L1042.8 378.4L1041.4 380.8L1040.4 382.8L1039.6 384.8L1038.9 386.8L1038.3 388.8L1037.1 392.8L1036.0 396.8L1035.4 398.8L1034.7 400.8L1034.0 402.8L1033.3 404.8L1032.4 406.8L1031.4 408.8L1030.3 410.8L1028.8 412.8L1026.8 414.4L1023.8 414.8L1020.8 413.6L1018.8 412.1L1017.4 410.8L1015.3 408.8L1012.9 406.8L1010.8 406.1L1008.8 407.2L1007.7 408.8L1006.8 410.6L1006.0 412.8L1005.3 414.8L1004.7 416.8L1003.6 420.8L1002.8 424.1L1002.1 426.8L1001.3 430.8L1000.8 433.2L1000.0 436.8L999.2 440.8L998.8 443.2L997.9 446.8L996.9 450.8L996.1 452.8L995.2 454.8L993.5 456.8L990.8 457.7L988.8 457.1L986.8 456.0L984.8 454.9L982.8 453.8L980.8 453.0L976.8 452.4L972.8 453.6L970.8 454.6L968.8 455.5L964.8 456.1L961.3 454.8L958.8 453.2L956.8 451.7L954.8 449.9L952.8 447.8L950.8 445.4L948.9 442.8L947.5 440.8L946.1 438.8L944.8 436.9L943.1 434.8L941.2 432.8L939.1 430.8L936.9 428.8L934.8 427.0L932.8 425.3L930.8 423.5L928.8 421.6L926.8 419.2L925.3 416.8L924.2 414.8L923.3 412.8L922.4 410.8L921.6 408.8L920.8 406.9L919.9 404.8L919.0 402.8L918.1 400.8L917.2 398.8L916.2 396.8L915.2 394.8L914.0 392.8L912.8 390.9L910.8 388.8L908.8 387.7L906.0 386.8L903.3 384.8L902.1 382.8L901.3 380.8L900.7 378.8L899.9 374.8L899.5 370.8L899.1 366.8L898.9 362.8L898.6 358.8L898.4 354.8L898.0 350.8L897.5 346.8L896.8 342.8L896.2 340.8L895.4 338.8L894.0 336.8L890.8 335.8L886.8 336.6L883.3 334.8L882.0 332.8L881.0 330.8L880.3 328.8L879.2 324.8L878.3 320.8L877.5 316.8L876.9 312.8L876.2 308.8L875.6 304.8L875.0 300.8L874.4 296.8L873.6 292.8L872.8 288.8L872.1 286.8L871.2 284.8L868.8 283.3L866.8 282.2L865.0 278.8L864.5 274.8L866.8 270.9L868.8 272.4L870.6 274.8L873.6 272.8L874.6 270.8L875.2 268.8L876.4 264.8L877.4 260.8L878.3 256.8L879.2 252.8L880.0 248.8L880.8 245.3L881.4 242.8L882.0 240.8L882.7 238.8L883.9 236.8L886.4 234.8L888.8 235.5L890.8 238.4L891.7 240.8L892.3 242.8L893.2 246.8L893.9 250.8L894.4 254.8L894.8 258.6L895.4 262.8L896.2 266.8L896.8 268.9L898.8 270.6L900.0 268.8L901.0 266.8L902.2 262.8L903.1 258.8L903.8 254.8L904.5 250.8L905.0 246.8L905.4 242.8L905.8 238.8L906.1 234.8L906.3 230.8L906.6 226.8L906.8 222.8L906.9 218.8L907.1 214.8L907.2 210.8L907.5 206.8L907.7 202.8L908.1 198.8L908.4 194.8L908.8 191.3L909.0 188.8L909.4 184.8L909.8 180.8L910.1 176.8L910.5 172.8L910.8 169.6L911.0 166.8L911.5 162.8L912.1 158.8L912.8 156.0L913.6 152.8L914.4 150.8L915.2 148.8L916.1 146.8L917.3 144.8L918.6 142.8L920.2 140.8L922.0 138.8L924.0 136.8L925.9 134.8L927.6 132.8L928.8 131.3L930.3 128.8L931.5 126.8L932.5 124.8L933.5 122.8L934.4 120.8L935.2 118.8L936.0 116.8L936.8 114.9L937.5 112.8L938.2 110.8L939.0 108.8L939.6 106.8L940.3 104.8L941.0 102.8L941.6 100.8L942.3 98.8L943.0 96.8L943.6 94.8L944.3 92.8L945.0 90.8L945.6 88.8L946.4 86.8L947.1 84.8L947.8 82.8L948.6 80.8L949.3 78.8L950.2 76.8L951.1 74.8L952.0 72.8L953.1 70.8L954.3 68.8L955.7 66.8L957.4 64.8L960.1 62.8ZM1148.4 244.8L1150.8 243.7L1152.8 244.7L1154.3 246.8L1155.3 248.8L1156.2 250.8L1156.9 252.8L1157.9 256.8L1158.7 260.8L1159.2 264.8L1159.5 268.8L1159.6 272.8L1159.4 276.8L1159.0 280.8L1157.9 284.8L1157.1 286.8L1155.8 288.8L1154.0 290.8L1151.3 292.8L1148.8 293.6L1146.8 293.0L1145.0 290.8L1144.1 288.8L1143.5 286.8L1142.8 284.0L1142.3 280.8L1141.9 276.8L1141.7 272.8L1141.8 268.8L1142.1 264.8L1142.6 260.8L1143.4 256.8L1144.4 252.8L1145.1 250.8L1145.9 248.8L1146.9 246.8L1148.4 244.8ZM1173.5 334.8L1174.8 333.0L1176.8 334.4L1178.2 336.8L1179.2 338.8L1179.8 340.8L1180.4 342.8L1181.1 346.8L1181.2 350.8L1180.8 354.6L1179.4 356.8L1176.8 355.9L1175.6 352.8L1174.9 350.8L1174.1 346.8L1173.5 342.8L1173.2 338.8L1173.5 334.8Z" fill="#e7e7ff" fill-rule="evenodd"/>
<path d="M958.8 66.8L960.8 65.6L964.8 65.4L966.8 66.3L968.8 68.0L970.8 70.5L972.2 72.8L973.3 74.8L974.3 76.8L975.2 78.8L976.0 80.8L976.8 82.8L977.5 84.8L978.2 86.8L978.8 88.8L979.5 90.8L980.1 92.8L980.8 95.1L981.9 98.8L982.8 101.8L983.8 104.8L984.4 106.8L985.0 108.8L985.8 110.8L986.5 112.8L987.4 114.8L988.3 116.8L989.4 118.8L990.5 120.8L991.9 122.8L993.3 124.8L994.8 126.6L996.7 128.8L998.8 130.8L1000.8 132.7L1002.8 134.6L1004.8 136.6L1006.7 138.8L1008.4 140.8L1010.0 142.8L1011.8 144.8L1013.8 146.8L1016.5 148.8L1018.8 150.2L1020.8 151.3L1022.8 152.6L1024.8 154.3L1026.8 156.6L1028.2 158.8L1029.3 160.8L1030.2 162.8L1031.0 164.8L1031.7 166.8L1032.4 168.8L1033.5 172.8L1034.4 176.8L1035.2 180.8L1035.9 184.8L1036.5 188.8L1036.8 191.3L1037.1 194.8L1037.4 198.8L1037.6 202.8L1037.7 206.8L1037.6 210.8L1037.4 214.8L1037.1 218.8L1036.8 222.1L1036.5 224.8L1036.0 228.8L1035.6 232.8L1035.3 236.8L1035.1 240.8L1035.1 244.8L1035.4 248.8L1035.8 252.8L1036.5 256.8L1037.3 260.8L1038.3 264.8L1039.1 268.8L1039.8 272.8L1040.5 276.8L1040.8 279.3L1041.1 282.8L1041.3 286.8L1041.5 290.8L1041.5 294.8L1041.6 298.8L1041.6 302.8L1041.7 306.8L1041.9 310.8L1042.2 314.8L1042.6 318.8L1043.4 322.8L1044.5 326.8L1045.1 328.8L1045.7 330.8L1046.3 332.8L1047.3 336.8L1048.0 340.8L1048.4 344.8L1048.5 348.8L1048.3 352.8L1047.7 356.8L1046.8 360.8L1045.9 362.8L1044.9 364.8L1043.5 366.8L1042.0 368.8L1040.8 370.7L1039.7 372.8L1039.0 374.8L1037.9 378.8L1037.0 382.8L1036.2 386.8L1035.2 390.8L1034.2 394.8L1033.0 398.8L1032.2 400.8L1031.3 402.8L1030.2 404.8L1028.8 406.8L1026.8 408.4L1024.1 408.8L1020.8 407.6L1018.8 406.0L1016.8 404.0L1014.8 401.8L1012.8 399.8L1011.0 398.8L1007.1 400.8L1006.0 402.8L1005.0 404.8L1004.3 406.8L1003.6 408.8L1002.9 410.8L1002.3 412.8L1001.7 414.8L1000.8 418.0L1000.0 420.8L999.0 424.8L998.1 428.8L997.3 432.8L996.8 435.9L996.1 438.8L995.1 442.8L994.4 444.8L993.5 446.8L991.7 448.8L988.8 449.4L986.8 448.7L984.8 447.7L982.8 446.6L980.8 445.5L978.8 444.8L975.6 444.8L972.8 446.0L970.8 447.3L968.8 448.4L966.8 449.2L962.8 449.0L960.8 448.2L958.8 447.1L956.8 445.8L954.8 444.2L953.4 442.8L951.6 440.8L950.1 438.8L948.8 437.0L947.3 434.8L945.9 432.8L944.8 431.3L942.8 428.8L940.9 426.8L938.9 424.8L936.8 422.8L934.9 420.8L933.1 418.8L931.5 416.8L930.0 414.8L928.8 412.9L927.4 410.8L926.3 408.8L925.1 406.8L924.1 404.8L923.1 402.8L922.1 400.8L921.1 398.8L920.1 396.8L919.1 394.8L918.2 392.8L917.2 390.8L916.2 388.8L915.3 386.8L914.2 384.8L913.1 382.8L911.7 380.8L909.7 378.8L906.8 376.8L904.9 374.8L904.0 372.8L903.4 370.8L902.8 368.6L902.2 364.8L901.8 360.8L901.4 356.8L901.1 352.8L900.8 349.7L900.5 346.8L899.9 342.8L899.3 338.8L898.8 336.2L897.8 332.8L897.1 330.8L895.8 328.8L892.8 327.4L890.8 328.1L888.9 328.8L884.8 327.9L882.8 324.8L882.1 322.8L881.5 320.8L880.8 317.9L880.2 314.8L879.6 310.8L879.1 306.8L878.8 303.8L878.5 300.8L878.2 296.8L877.9 292.8L877.8 288.8L877.8 284.8L878.0 280.8L878.3 276.8L878.8 272.8L879.3 268.8L879.9 264.8L880.6 260.8L881.4 256.8L882.3 252.8L883.6 248.8L884.5 246.8L886.8 244.9L888.7 246.8L889.5 248.8L890.5 252.8L891.1 256.8L891.6 260.8L892.0 264.8L892.4 268.8L892.8 271.8L893.3 274.8L894.2 278.8L894.8 281.0L895.8 282.8L898.8 284.2L900.8 281.1L901.5 278.8L902.2 276.8L902.9 274.8L903.8 270.8L904.7 266.8L905.4 262.8L906.0 258.8L906.6 254.8L907.1 250.8L907.5 246.8L907.9 242.8L908.2 238.8L908.5 234.8L908.8 230.8L908.9 226.8L909.1 222.8L909.3 218.8L909.5 214.8L909.7 210.8L910.0 206.8L910.3 202.8L910.7 198.8L911.1 194.8L911.5 190.8L911.9 186.8L912.4 182.8L912.8 179.9L913.1 176.8L913.5 172.8L914.0 168.8L914.6 164.8L915.4 160.8L916.4 156.8L917.0 154.8L917.8 152.8L918.7 150.8L919.8 148.8L921.1 146.8L922.6 144.8L924.3 142.8L926.1 140.8L927.7 138.8L929.2 136.8L930.6 134.8L931.8 132.8L932.8 131.1L933.9 128.8L934.9 126.8L935.8 124.8L936.7 122.8L937.4 120.8L938.1 118.8L938.9 116.8L939.5 114.8L940.1 112.8L940.8 110.8L941.9 106.8L942.6 104.8L943.7 100.8L944.3 98.8L944.9 96.8L946.1 92.8L946.8 90.8L947.4 88.8L948.0 86.8L948.8 84.8L949.4 82.8L950.2 80.8L951.1 78.8L951.9 76.8L952.9 74.8L954.0 72.8L955.3 70.8L956.8 68.8L958.8 66.8ZM1150.4 254.8L1152.8 255.5L1154.2 258.8L1154.9 260.8L1155.4 264.8L1155.6 268.8L1155.3 272.8L1154.8 275.6L1153.3 278.8L1151.2 280.8L1148.8 280.3L1147.2 276.8L1146.6 272.8L1146.5 268.8L1146.8 264.8L1147.5 260.8L1148.7 256.8L1150.4 254.8Z" fill="#e3e3ff" fill-rule="evenodd"/>
<path d="M960.2 68.8L962.8 67.9L966.0 68.8L968.6 70.8L970.2 72.8L971.5 74.8L972.6 76.8L973.6 78.8L974.5 80.8L975.4 82.8L976.1 84.8L976.8 86.8L977.5 88.8L978.2 90.8L978.8 92.9L980.0 96.8L980.8 99.9L981.6 102.8L982.7 106.8L983.4 108.8L984.0 110.8L984.6 112.8L985.3 114.8L986.1 116.8L986.9 118.8L987.8 120.8L988.8 122.7L990.0 124.8L991.3 126.8L992.6 128.8L994.3 130.8L996.0 132.8L997.9 134.8L999.8 136.8L1001.7 138.8L1003.4 140.8L1004.8 142.5L1006.6 144.8L1008.1 146.8L1009.7 148.8L1011.6 150.8L1014.4 152.8L1016.8 153.9L1018.8 154.7L1020.8 155.5L1022.8 156.6L1024.8 158.3L1026.8 160.7L1028.0 162.8L1029.1 164.8L1029.9 166.8L1030.7 168.8L1031.3 170.8L1032.5 174.8L1033.4 178.8L1034.1 182.8L1034.7 186.8L1035.2 190.8L1035.6 194.8L1035.8 198.8L1035.9 202.8L1035.9 206.8L1035.7 210.8L1035.3 214.8L1034.9 218.8L1034.3 222.8L1033.7 226.8L1033.1 230.8L1032.8 233.4L1032.3 236.8L1031.9 240.8L1031.6 244.8L1031.4 248.8L1031.3 252.8L1031.4 256.8L1031.7 260.8L1032.3 264.8L1032.8 267.2L1033.7 270.8L1034.8 274.7L1035.3 276.8L1036.2 280.8L1036.8 284.3L1037.1 286.8L1037.4 290.8L1037.6 294.8L1037.8 298.8L1037.8 302.8L1037.9 306.8L1037.9 310.8L1037.9 314.8L1037.9 318.8L1037.8 322.8L1037.8 326.8L1037.6 330.8L1037.2 334.8L1036.5 336.8L1034.8 338.4L1032.8 339.7L1030.8 342.7L1030.2 346.8L1030.4 350.8L1031.4 354.8L1032.1 356.8L1032.7 358.8L1033.5 360.8L1034.4 364.8L1034.8 367.9L1034.9 370.8L1034.9 374.8L1034.8 377.4L1034.5 380.8L1034.0 384.8L1033.3 388.8L1032.8 391.1L1031.6 394.8L1030.9 396.8L1029.9 398.8L1028.8 400.7L1026.8 402.6L1024.8 403.2L1022.4 402.8L1019.2 400.8L1017.2 398.8L1015.4 396.8L1013.7 394.8L1011.4 392.8L1008.8 392.3L1006.8 394.0L1005.1 396.8L1004.1 398.8L1003.2 400.8L1002.4 402.8L1001.7 404.8L1000.9 406.8L1000.1 408.8L999.4 410.8L998.6 412.8L997.9 414.8L997.2 416.8L996.5 418.8L995.8 420.8L994.8 424.8L993.8 428.8L992.8 432.8L992.1 434.8L991.2 436.8L989.4 438.8L986.8 439.3L984.8 438.5L982.8 437.3L980.8 436.1L978.8 435.3L974.8 436.3L972.8 438.0L970.8 439.9L968.8 441.6L966.8 442.7L962.8 443.1L958.8 441.6L956.8 440.4L954.8 438.9L952.8 436.9L951.0 434.8L949.6 432.8L948.1 430.8L946.8 428.8L945.3 426.8L943.7 424.8L942.0 422.8L940.8 421.4L938.8 419.3L936.8 417.2L934.8 414.8L933.4 412.8L932.0 410.8L930.8 408.8L929.6 406.8L928.5 404.8L927.3 402.8L926.2 400.8L925.1 398.8L924.0 396.8L922.8 394.8L921.8 392.8L920.8 390.8L919.8 388.8L918.8 386.8L917.9 384.8L917.1 382.8L916.2 380.8L915.4 378.8L914.6 376.8L913.7 374.8L912.9 372.8L911.8 370.8L910.9 368.8L909.6 366.8L908.4 364.8L907.3 362.8L906.4 360.8L905.8 358.8L904.8 354.8L904.1 350.8L903.5 346.8L902.9 342.8L902.2 338.8L901.5 334.8L900.8 330.8L900.0 326.8L899.0 322.8L897.7 318.8L896.9 316.8L894.8 315.6L892.8 317.4L891.4 318.8L888.8 320.7L885.0 318.8L884.1 316.8L883.4 314.8L882.8 312.3L882.2 308.8L881.7 304.8L881.4 300.8L881.2 296.8L881.1 292.8L881.1 288.8L881.2 284.8L881.4 280.8L881.7 276.8L882.2 272.8L882.7 268.8L883.6 264.8L884.7 260.8L886.8 259.6L887.7 262.8L888.6 266.8L889.1 270.8L889.6 274.8L890.2 278.8L890.8 282.0L891.3 284.8L892.3 288.8L893.5 292.8L894.2 294.8L895.0 296.8L896.5 298.8L898.8 297.7L900.0 294.8L900.9 292.8L901.5 290.8L902.1 288.8L902.8 286.8L903.8 282.8L904.7 278.8L905.5 274.8L906.3 270.8L906.8 268.0L907.2 264.8L907.8 260.8L908.3 256.8L908.8 253.6L909.1 250.8L909.4 246.8L909.8 242.8L910.1 238.8L910.4 234.8L910.7 230.8L910.9 226.8L911.1 222.8L911.3 218.8L911.5 214.8L911.7 210.8L912.1 206.8L912.4 202.8L912.8 199.6L913.0 196.8L913.5 192.8L914.0 188.8L914.5 184.8L915.0 180.8L915.5 176.8L916.1 172.8L916.8 168.8L917.5 164.8L918.5 160.8L919.1 158.8L919.8 156.8L920.6 154.8L921.6 152.8L922.8 150.9L924.2 148.8L925.7 146.8L927.2 144.8L928.7 142.8L930.1 140.8L931.3 138.8L932.6 136.8L933.6 134.8L934.7 132.8L935.6 130.8L936.6 128.8L937.4 126.8L938.2 124.8L939.0 122.8L939.6 120.8L940.3 118.8L940.9 116.8L942.0 112.8L942.8 110.3L943.6 106.8L944.7 102.8L945.7 98.8L946.8 95.5L947.5 92.8L948.1 90.8L948.8 88.8L949.4 86.8L950.1 84.8L950.9 82.8L951.7 80.8L952.6 78.8L953.6 76.8L954.7 74.8L956.0 72.8L957.7 70.8L960.2 68.8Z" fill="#e0e0ff" fill-rule="evenodd"/>
<path d="M961.6 70.8L964.8 70.7L966.8 71.8L968.8 73.7L970.8 76.4L972.1 78.8L973.1 80.8L974.0 82.8L974.8 84.8L975.6 86.8L976.3 88.8L976.9 90.8L977.6 92.8L978.7 96.8L979.9 100.8L980.8 104.4L981.5 106.8L982.5 110.8L983.8 114.8L984.4 116.8L985.1 118.8L985.9 120.8L986.7 122.8L987.7 124.8L988.7 126.8L989.9 128.8L991.1 130.8L992.6 132.8L994.1 134.8L995.8 136.8L997.6 138.8L999.3 140.8L1000.8 142.5L1002.5 144.8L1004.0 146.8L1005.3 148.8L1006.6 150.8L1008.0 152.8L1009.6 154.8L1011.6 156.8L1014.8 158.3L1017.4 158.8L1020.8 159.6L1022.8 160.5L1024.8 162.2L1026.8 164.7L1027.9 166.8L1028.9 168.8L1029.6 170.8L1030.3 172.8L1030.9 174.8L1031.9 178.8L1032.7 182.8L1033.3 186.8L1033.8 190.8L1034.1 194.8L1034.3 198.8L1034.3 202.8L1034.1 206.8L1033.8 210.8L1033.4 214.8L1032.8 218.8L1032.1 222.8L1031.4 226.8L1030.8 230.1L1030.2 232.8L1029.5 236.8L1028.9 240.8L1028.4 244.8L1028.0 248.8L1027.7 252.8L1027.5 256.8L1027.4 260.8L1027.4 264.8L1027.6 268.8L1028.0 272.8L1028.5 276.8L1029.4 280.8L1030.5 284.8L1031.7 288.8L1032.7 292.8L1033.3 296.8L1033.7 300.8L1033.9 304.8L1033.9 308.8L1033.7 312.8L1033.3 316.8L1032.8 319.5L1031.8 322.8L1030.9 324.8L1030.0 326.8L1029.0 328.8L1028.1 330.8L1027.3 332.8L1026.6 334.8L1025.8 338.8L1025.4 342.8L1025.3 346.8L1025.6 350.8L1026.3 354.8L1026.8 357.3L1027.8 360.8L1028.4 362.8L1029.0 364.8L1029.7 366.8L1030.7 370.8L1031.4 374.8L1031.6 378.8L1031.4 382.8L1030.9 386.8L1029.8 390.8L1029.1 392.8L1027.9 394.8L1025.8 396.8L1022.8 397.3L1020.8 396.5L1018.8 395.0L1016.8 392.8L1015.1 390.8L1013.4 388.8L1011.1 386.8L1008.8 386.5L1006.8 387.9L1004.8 390.8L1003.7 392.8L1002.8 394.7L1001.8 396.8L1000.9 398.8L1000.0 400.8L999.1 402.8L998.0 404.8L997.0 406.8L995.8 408.8L994.8 410.6L993.3 412.8L992.0 414.8L990.8 416.8L989.3 418.8L987.6 420.8L984.8 422.4L980.8 422.5L978.8 423.1L976.8 424.6L974.9 426.8L973.6 428.8L972.2 430.8L970.8 432.7L969.1 434.8L966.8 436.8L964.8 437.6L960.8 437.3L958.8 436.5L956.8 435.4L954.8 433.9L952.8 431.9L950.8 429.5L948.9 426.8L947.5 424.8L946.0 422.8L944.8 421.1L942.9 418.8L941.1 416.8L939.3 414.8L937.6 412.8L936.1 410.8L934.8 408.9L933.4 406.8L932.2 404.8L931.1 402.8L930.0 400.8L928.9 398.8L927.8 396.8L926.8 395.0L925.4 392.8L924.3 390.8L923.1 388.8L922.1 386.8L921.1 384.8L920.1 382.8L919.3 380.8L918.5 378.8L917.7 376.8L917.0 374.8L916.3 372.8L915.6 370.8L915.0 368.8L914.4 366.8L913.7 364.8L913.0 362.8L912.3 360.8L911.6 358.8L910.9 356.8L910.1 354.8L909.4 352.8L908.7 350.8L908.0 348.8L907.4 346.8L906.8 344.7L905.8 340.8L904.9 336.8L904.2 332.8L903.5 328.8L902.9 324.8L902.3 320.8L901.9 316.8L901.7 312.8L901.8 308.8L902.2 304.8L902.8 301.1L903.1 298.8L903.9 294.8L904.7 290.8L905.5 286.8L906.2 282.8L906.8 279.9L907.3 276.8L907.9 272.8L908.5 268.8L909.1 264.8L909.6 260.8L910.1 256.8L910.5 252.8L910.9 248.8L911.3 244.8L911.6 240.8L911.9 236.8L912.1 232.8L912.4 228.8L912.6 224.8L912.9 220.8L913.1 216.8L913.3 212.8L913.6 208.8L914.0 204.8L914.4 200.8L914.8 197.9L915.1 194.8L915.6 190.8L916.1 186.8L916.7 182.8L917.3 178.8L917.9 174.8L918.6 170.8L919.5 166.8L920.5 162.8L921.2 160.8L922.0 158.8L922.9 156.8L923.9 154.8L925.1 152.8L926.4 150.8L927.7 148.8L929.1 146.8L930.4 144.8L931.6 142.8L932.8 141.0L933.9 138.8L935.0 136.8L936.0 134.8L936.9 132.8L937.8 130.8L938.6 128.8L939.3 126.8L940.0 124.8L940.7 122.8L941.8 118.8L942.8 115.7L943.4 112.8L944.5 108.8L945.4 104.8L946.5 100.8L947.5 96.8L948.7 92.8L950.0 88.8L950.7 86.8L951.4 84.8L952.2 82.8L953.1 80.8L954.1 78.8L955.3 76.8L956.6 74.8L958.3 72.8L960.8 71.0ZM886.4 294.8L887.7 296.8L888.7 300.8L887.6 304.8L886.3 302.8L886.0 298.8L886.4 294.8Z" fill="#dcdcff" fill-rule="evenodd"/>
<path d="M958.8 74.8L960.8 73.4L964.8 73.1L966.8 74.2L968.8 76.1L970.6 78.8L971.8 80.8L972.8 82.8L973.6 84.8L974.4 86.8L975.2 88.8L975.9 90.8L976.5 92.8L977.1 94.8L978.3 98.8L979.3 102.8L980.4 106.8L981.4 110.8L982.5 114.8L983.7 118.8L984.4 120.8L985.1 122.8L985.9 124.8L986.7 126.8L987.8 128.8L988.8 130.7L990.1 132.8L991.4 134.8L992.8 136.7L994.4 138.8L996.0 140.8L997.7 142.8L999.2 144.8L1000.7 146.8L1002.1 148.8L1003.4 150.8L1004.5 152.8L1005.7 154.8L1006.8 156.8L1008.0 158.8L1009.4 160.8L1010.8 162.4L1012.8 163.6L1016.8 163.5L1020.8 163.6L1022.8 164.5L1024.8 166.1L1026.7 168.8L1027.7 170.8L1028.6 172.8L1029.3 174.8L1030.4 178.8L1031.3 182.8L1031.9 186.8L1032.3 190.8L1032.6 194.8L1032.7 198.8L1032.7 202.8L1032.5 206.8L1032.1 210.8L1031.5 214.8L1030.8 218.8L1029.9 222.8L1029.0 226.8L1028.1 230.8L1027.2 234.8L1026.8 237.2L1026.2 240.8L1025.7 244.8L1025.3 248.8L1025.0 252.8L1024.8 256.8L1024.7 260.8L1024.6 264.8L1024.7 268.8L1024.8 272.6L1025.0 276.8L1025.4 280.8L1026.0 284.8L1026.6 288.8L1027.4 292.8L1028.2 296.8L1028.8 300.6L1029.1 304.8L1029.1 308.8L1028.8 312.7L1028.0 316.8L1026.8 320.8L1025.7 324.8L1025.0 326.8L1024.1 330.8L1023.3 334.8L1022.8 338.7L1022.5 342.8L1022.5 346.8L1022.8 350.6L1023.3 354.8L1024.0 358.8L1024.8 362.6L1025.3 364.8L1026.3 368.8L1027.2 372.8L1027.8 376.8L1028.0 380.8L1027.5 384.8L1026.8 387.2L1024.8 390.0L1022.8 390.8L1018.8 389.1L1016.8 387.0L1015.0 384.8L1013.3 382.8L1010.8 381.0L1006.8 382.4L1005.0 384.8L1003.8 386.8L1002.8 388.7L1001.7 390.8L1000.8 392.6L999.6 394.8L998.5 396.8L997.3 398.8L995.8 400.8L994.0 402.8L991.5 404.8L988.8 406.4L986.8 407.3L984.8 408.2L982.8 409.0L980.8 410.2L978.8 412.0L976.8 414.7L975.7 416.8L974.6 418.8L973.6 420.8L972.6 422.8L971.5 424.8L970.4 426.8L969.1 428.8L967.3 430.8L964.8 432.5L960.8 432.5L958.8 431.7L956.8 430.6L954.8 429.1L952.8 427.0L951.0 424.8L949.5 422.8L948.1 420.8L946.8 418.9L945.2 416.8L943.6 414.8L941.9 412.8L940.2 410.8L938.8 409.1L937.1 406.8L935.7 404.8L934.5 402.8L933.3 400.8L932.2 398.8L931.1 396.8L930.0 394.8L928.9 392.8L927.7 390.8L926.8 389.1L925.4 386.8L924.2 384.8L923.1 382.8L922.1 380.8L921.2 378.8L920.4 376.8L919.6 374.8L918.9 372.8L918.3 370.8L917.6 368.8L916.8 365.6L915.9 362.8L914.9 358.8L913.8 354.8L912.8 351.2L912.0 348.8L911.4 346.8L910.8 344.8L910.1 342.8L909.5 340.8L908.8 338.3L907.8 334.8L906.9 330.8L906.1 326.8L905.6 322.8L905.1 318.8L904.9 314.8L904.9 310.8L905.1 306.8L905.4 302.8L905.9 298.8L906.4 294.8L907.0 290.8L907.6 286.8L908.2 282.8L908.8 279.4L909.1 276.8L909.7 272.8L910.2 268.8L910.7 264.8L911.2 260.8L911.6 256.8L912.0 252.8L912.4 248.8L912.8 244.8L913.0 240.8L913.3 236.8L913.6 232.8L913.8 228.8L914.0 224.8L914.3 220.8L914.5 216.8L914.8 213.8L915.0 210.8L915.3 206.8L915.7 202.8L916.1 198.8L916.7 194.8L917.2 190.8L917.7 186.8L918.3 182.8L918.8 180.2L919.3 176.8L920.1 172.8L920.8 169.9L921.6 166.8L922.2 164.8L922.9 162.8L923.7 160.8L924.6 158.8L925.6 156.8L926.8 154.8L927.9 152.8L929.2 150.8L930.4 148.8L931.6 146.8L932.8 144.8L933.8 142.8L934.9 140.8L935.9 138.8L936.9 136.8L937.8 134.8L938.7 132.8L939.4 130.8L940.2 128.8L940.9 126.8L942.0 122.8L942.6 120.8L943.6 116.8L944.6 112.8L945.5 108.8L946.5 104.8L947.5 100.8L948.6 96.8L949.8 92.8L950.4 90.8L951.1 88.8L951.8 86.8L952.6 84.8L953.5 82.8L954.5 80.8L955.6 78.8L956.8 77.1L958.8 74.8Z" fill="#d8d8ff" fill-rule="evenodd"/>
<path d="M959.1 76.8L960.8 75.6L964.8 75.3L966.8 76.4L968.8 78.4L970.4 80.8L971.5 82.8L972.5 84.8L973.4 86.8L974.1 88.8L974.9 90.8L975.5 92.8L976.2 94.8L976.8 96.9L977.9 100.8L978.8 104.4L979.4 106.8L980.4 110.8L981.4 114.8L982.5 118.8L983.1 120.8L983.8 122.8L984.5 124.8L985.3 126.8L986.2 128.8L987.1 130.8L988.2 132.8L989.3 134.8L990.6 136.8L992.0 138.8L993.4 140.8L994.8 142.6L996.5 144.8L998.0 146.8L999.4 148.8L1000.7 150.8L1001.9 152.8L1003.0 154.8L1004.1 156.8L1005.0 158.8L1006.0 160.8L1006.9 162.8L1008.0 164.8L1009.1 166.8L1010.6 168.8L1012.8 169.9L1016.4 168.8L1018.8 168.0L1022.8 168.5L1024.8 170.2L1026.4 172.8L1027.4 174.8L1028.1 176.8L1028.8 178.8L1029.7 182.8L1030.4 186.8L1030.8 189.3L1031.1 192.8L1031.2 196.8L1031.2 200.8L1031.0 204.8L1030.5 208.8L1029.9 212.8L1029.1 216.8L1028.1 220.8L1027.0 224.8L1025.9 228.8L1025.0 232.8L1024.2 236.8L1023.8 240.8L1023.4 244.8L1023.2 248.8L1023.0 252.8L1022.9 256.8L1022.8 260.8L1022.7 264.8L1022.7 268.8L1022.7 272.8L1022.8 276.8L1023.0 280.8L1023.3 284.8L1023.7 288.8L1024.1 292.8L1024.5 296.8L1024.8 300.3L1024.9 302.8L1025.0 306.8L1024.8 310.8L1024.4 314.8L1023.7 318.8L1022.8 322.8L1022.0 326.8L1021.3 330.8L1020.8 334.2L1020.5 336.8L1020.2 340.8L1020.1 344.8L1020.2 348.8L1020.4 352.8L1020.8 355.9L1021.1 358.8L1021.7 362.8L1022.3 366.8L1022.8 369.5L1023.1 372.8L1023.2 376.8L1022.8 379.7L1020.8 382.1L1017.9 380.8L1015.8 378.8L1013.7 376.8L1010.8 375.3L1007.4 376.8L1005.6 378.8L1004.2 380.8L1003.0 382.8L1001.9 384.8L1000.8 386.8L999.7 388.8L998.8 390.5L997.2 392.8L995.5 394.8L993.1 396.8L990.8 398.1L988.8 398.8L986.8 399.4L984.8 400.1L982.8 400.9L980.8 402.2L978.8 404.2L977.0 406.8L976.0 408.8L975.0 410.8L974.1 412.8L973.3 414.8L972.4 416.8L971.5 418.8L970.5 420.8L969.4 422.8L968.1 424.8L966.8 426.4L964.8 427.8L960.8 428.0L958.8 427.2L956.8 425.9L954.8 424.3L953.3 422.8L951.7 420.8L950.2 418.8L948.8 416.8L947.3 414.8L945.9 412.8L944.3 410.8L942.8 408.9L941.0 406.8L939.4 404.8L937.9 402.8L936.8 401.1L935.4 398.8L934.2 396.8L933.1 394.8L932.0 392.8L930.9 390.8L929.8 388.8L928.8 387.1L927.4 384.8L926.2 382.8L925.0 380.8L924.0 378.8L923.0 376.8L922.1 374.8L921.3 372.8L920.6 370.8L919.9 368.8L919.3 366.8L918.8 364.8L917.7 360.8L916.8 356.8L915.8 352.8L914.8 348.8L913.8 344.8L912.8 340.8L912.2 338.8L911.1 334.8L910.1 330.8L909.2 326.8L908.8 324.4L908.2 320.8L907.8 316.8L907.6 312.8L907.6 308.8L907.8 304.8L908.1 300.8L908.4 296.8L908.8 293.9L909.1 290.8L909.6 286.8L910.0 282.8L910.5 278.8L911.0 274.8L911.5 270.8L911.9 266.8L912.4 262.8L912.8 259.4L913.0 256.8L913.4 252.8L913.7 248.8L914.0 244.8L914.3 240.8L914.6 236.8L914.9 232.8L915.1 228.8L915.3 224.8L915.5 220.8L915.8 216.8L916.1 212.8L916.4 208.8L916.8 205.6L917.0 202.8L917.5 198.8L918.0 194.8L918.5 190.8L919.1 186.8L919.8 182.8L920.5 178.8L921.3 174.8L922.3 170.8L923.5 166.8L924.2 164.8L925.0 162.8L925.9 160.8L926.8 159.1L927.9 156.8L929.0 154.8L930.2 152.8L931.3 150.8L932.5 148.8L933.5 146.8L934.6 144.8L935.6 142.8L936.7 140.8L937.6 138.8L938.5 136.8L939.3 134.8L940.1 132.8L940.9 130.8L941.5 128.8L942.1 126.8L942.7 124.8L943.7 120.8L944.7 116.8L945.6 112.8L946.5 108.8L947.4 104.8L948.5 100.8L949.5 96.8L950.8 92.9L951.4 90.8L952.2 88.8L952.9 86.8L953.8 84.8L954.8 82.8L955.9 80.8L957.3 78.8L958.8 77.1Z" fill="#d5d5ff" fill-rule="evenodd"/>
<path d="M959.3 78.8L960.8 77.7L962.8 77.1L966.8 78.5L968.8 80.6L970.2 82.8L971.3 84.8L972.3 86.8L973.1 88.8L973.9 90.8L974.6 92.8L975.3 94.8L975.9 96.8L976.8 100.0L977.5 102.8L978.5 106.8L979.5 110.8L980.5 114.8L981.5 118.8L982.6 122.8L983.3 124.8L984.0 126.8L984.8 128.8L985.7 130.8L986.6 132.8L987.7 134.8L988.7 136.8L990.0 138.8L991.3 140.8L992.7 142.8L994.1 144.8L995.6 146.8L996.8 148.5L998.4 150.8L999.7 152.8L1000.8 154.8L1001.9 156.8L1002.8 158.8L1003.7 160.8L1004.5 162.8L1005.4 164.8L1006.2 166.8L1006.9 168.8L1007.9 170.8L1008.7 172.8L1009.9 174.8L1012.1 176.8L1014.8 176.2L1016.3 174.8L1018.8 173.1L1022.2 172.8L1024.8 174.8L1025.9 176.8L1026.9 178.8L1027.5 180.8L1028.5 184.8L1029.1 188.8L1029.5 192.8L1029.6 196.8L1029.5 200.8L1029.2 204.8L1028.8 208.3L1028.3 210.8L1027.3 214.8L1026.0 218.8L1025.4 220.8L1024.7 222.8L1024.0 224.8L1023.0 228.8L1022.3 232.8L1021.9 236.8L1021.7 240.8L1021.5 244.8L1021.4 248.8L1021.3 252.8L1021.3 256.8L1021.2 260.8L1021.2 264.8L1021.1 268.8L1021.1 272.8L1021.1 276.8L1021.2 280.8L1021.3 284.8L1021.5 288.8L1021.7 292.8L1021.9 296.8L1022.1 300.8L1022.1 304.8L1022.0 308.8L1021.7 312.8L1021.2 316.8L1020.8 319.2L1020.2 322.8L1019.5 326.8L1018.8 330.8L1018.3 334.8L1018.0 338.8L1017.7 342.8L1017.6 346.8L1017.6 350.8L1017.7 354.8L1017.8 358.8L1017.9 362.8L1017.4 366.8L1015.9 368.8L1012.8 368.8L1008.8 370.2L1006.8 372.2L1004.9 374.8L1003.6 376.8L1002.5 378.8L1001.3 380.8L1000.2 382.8L999.0 384.8L997.6 386.8L995.9 388.8L993.6 390.8L990.8 392.3L988.8 392.9L984.8 394.0L982.9 394.8L980.8 396.2L978.8 398.1L977.0 400.8L976.0 402.8L975.0 404.8L974.2 406.8L973.4 408.8L972.6 410.8L971.8 412.8L970.9 414.8L970.0 416.8L968.9 418.8L967.6 420.8L965.7 422.8L962.8 424.0L959.0 422.8L956.8 421.3L954.8 419.5L952.8 417.3L950.9 414.8L949.5 412.8L948.0 410.8L946.8 409.0L945.1 406.8L943.5 404.8L941.9 402.8L940.3 400.8L938.8 398.8L937.5 396.8L936.2 394.8L935.0 392.8L933.9 390.8L932.8 388.8L931.6 386.8L930.4 384.8L929.2 382.8L928.0 380.8L926.8 378.8L925.7 376.8L924.8 375.1L923.7 372.8L922.9 370.8L922.1 368.8L921.5 366.8L920.8 364.8L919.8 360.8L918.8 356.8L917.9 352.8L917.1 348.8L916.2 344.8L915.3 340.8L914.8 338.3L913.9 334.8L913.0 330.8L912.1 326.8L911.4 322.8L910.8 318.8L910.4 314.8L910.2 310.8L910.1 306.8L910.2 302.8L910.4 298.8L910.7 294.8L911.0 290.8L911.3 286.8L911.7 282.8L912.1 278.8L912.5 274.8L912.9 270.8L913.3 266.8L913.7 262.8L914.1 258.8L914.5 254.8L914.8 251.4L915.0 248.8L915.2 244.8L915.5 240.8L915.8 236.8L916.0 232.8L916.2 228.8L916.5 224.8L916.7 220.8L917.0 216.8L917.2 212.8L917.6 208.8L918.0 204.8L918.4 200.8L918.8 198.3L919.2 194.8L919.7 190.8L920.4 186.8L921.1 182.8L921.8 178.8L922.8 174.9L923.8 170.8L924.5 168.8L925.2 166.8L926.0 164.8L926.9 162.8L927.8 160.8L928.8 158.9L929.8 156.8L930.9 154.8L932.0 152.8L933.1 150.8L934.1 148.8L935.2 146.8L936.2 144.8L937.2 142.8L938.1 140.8L939.0 138.8L939.8 136.8L940.6 134.8L941.3 132.8L942.0 130.8L942.6 128.8L943.7 124.8L944.7 120.8L945.6 116.8L946.5 112.8L947.4 108.8L948.3 104.8L949.3 100.8L950.4 96.8L951.1 94.8L951.7 92.8L952.4 90.8L953.2 88.8L954.0 86.8L955.0 84.8L956.1 82.8L957.4 80.8L958.8 79.2Z" fill="#d1d1ff" fill-rule="evenodd"/>
<path d="M959.3 80.8L960.8 79.6L962.8 79.0L966.8 80.5L968.8 82.7L970.1 84.8L971.2 86.8L972.1 88.8L973.0 90.8L973.7 92.8L974.4 94.8L975.0 96.8L975.6 98.8L976.7 102.8L977.8 106.8L978.7 110.8L979.7 114.8L980.6 118.8L981.7 122.8L982.8 126.3L983.7 128.8L984.4 130.8L985.3 132.8L986.2 134.8L987.3 136.8L988.4 138.8L989.6 140.8L990.8 142.7L992.2 144.8L993.6 146.8L994.8 148.5L996.3 150.8L997.6 152.8L998.8 154.7L999.9 156.8L1000.9 158.8L1001.9 160.8L1002.7 162.8L1003.5 164.8L1004.2 166.8L1004.9 168.8L1005.6 170.8L1006.3 172.8L1006.9 174.8L1007.7 176.8L1008.3 178.8L1009.1 180.8L1010.1 182.8L1011.1 184.8L1012.8 186.5L1014.8 185.2L1016.2 182.8L1017.5 180.8L1018.8 179.3L1020.8 177.9L1023.4 178.8L1024.8 180.3L1025.8 182.8L1026.5 184.8L1027.3 188.8L1027.7 192.8L1027.8 196.8L1027.6 200.8L1027.1 204.8L1026.2 208.8L1025.6 210.8L1024.9 212.8L1024.0 214.8L1023.0 216.8L1022.0 218.8L1021.2 220.8L1020.3 224.8L1020.0 228.8L1019.8 232.8L1019.8 236.8L1019.8 240.8L1019.8 244.8L1019.9 248.8L1019.9 252.8L1019.9 256.8L1019.8 260.8L1019.8 264.8L1019.7 268.8L1019.7 272.8L1019.7 276.8L1019.6 280.8L1019.7 284.8L1019.7 288.8L1019.8 292.8L1019.8 296.8L1019.8 300.8L1019.8 304.8L1019.5 308.8L1019.2 312.8L1018.8 315.9L1018.3 318.8L1017.7 322.8L1017.1 326.8L1016.5 330.8L1016.0 334.8L1015.5 338.8L1015.2 342.8L1014.9 346.8L1014.6 350.8L1014.0 354.8L1012.8 358.8L1011.6 360.8L1010.1 362.8L1008.8 364.3L1006.9 366.8L1005.6 368.8L1004.4 370.8L1003.2 372.8L1002.0 374.8L1000.9 376.8L999.6 378.8L998.3 380.8L996.8 382.8L994.9 384.8L992.8 386.3L990.8 387.2L988.8 387.8L985.4 388.8L982.8 389.9L980.8 391.2L979.1 392.8L977.7 394.8L976.5 396.8L975.5 398.8L974.6 400.8L973.8 402.8L973.0 404.8L972.3 406.8L971.5 408.8L970.6 410.8L969.7 412.8L968.8 414.8L967.5 416.8L965.6 418.8L962.8 420.0L959.5 418.8L956.9 416.8L954.9 414.8L953.2 412.8L951.7 410.8L950.2 408.8L948.8 406.8L947.4 404.8L945.9 402.8L944.8 401.2L942.9 398.8L941.3 396.8L939.8 394.8L938.4 392.8L937.1 390.8L935.8 388.8L934.8 387.1L933.4 384.8L932.2 382.8L931.0 380.8L929.7 378.8L928.5 376.8L927.3 374.8L926.2 372.8L925.2 370.8L924.4 368.8L923.6 366.8L922.9 364.8L922.3 362.8L921.2 358.8L920.2 354.8L919.4 350.8L918.8 347.5L918.2 344.8L917.4 340.8L916.8 337.1L916.3 334.8L915.5 330.8L914.8 326.9L914.0 322.8L913.4 318.8L913.0 314.8L912.8 312.4L912.5 308.8L912.4 304.8L912.4 300.8L912.5 296.8L912.7 292.8L912.9 288.8L913.1 284.8L913.4 280.8L913.8 276.8L914.1 272.8L914.4 268.8L914.8 265.4L915.0 262.8L915.3 258.8L915.6 254.8L915.9 250.8L916.2 246.8L916.5 242.8L916.8 238.9L917.0 234.8L917.2 230.8L917.4 226.8L917.6 222.8L917.9 218.8L918.1 214.8L918.5 210.8L918.8 207.9L919.1 204.8L919.5 200.8L920.0 196.8L920.6 192.8L921.2 188.8L921.9 184.8L922.7 180.8L923.6 176.8L924.7 172.8L925.3 170.8L926.0 168.8L926.8 166.9L927.6 164.8L928.5 162.8L929.4 160.8L930.4 158.8L931.4 156.8L932.5 154.8L933.5 152.8L934.6 150.8L935.6 148.8L936.6 146.8L937.6 144.8L938.5 142.8L939.4 140.8L940.2 138.8L941.0 136.8L941.7 134.8L942.4 132.8L943.0 130.8L944.1 126.8L944.8 124.3L945.5 120.8L946.4 116.8L947.3 112.8L948.2 108.8L948.8 106.4L949.6 102.8L950.7 98.8L951.9 94.8L952.6 92.8L953.3 90.8L954.2 88.8L955.1 86.8L956.2 84.8L957.5 82.8L958.8 81.2Z" fill="#ceceff" fill-rule="evenodd"/>
<path d="M959.2 82.8L960.8 81.5L962.8 80.8L964.8 81.1L966.8 82.4L968.8 84.6L970.1 86.8L970.8 88.0L972.1 90.8L972.8 92.6L973.6 94.8L974.2 96.8L974.8 98.5L975.5 100.8L976.0 102.8L976.5 104.8L977.0 106.8L977.5 108.8L978.0 110.8L978.4 112.8L978.8 114.4L979.4 116.8L979.9 118.8L980.3 120.8L980.8 122.5L981.4 124.8L982.0 126.8L982.7 128.8L983.4 130.8L984.2 132.8L984.8 134.2L986.0 136.8L986.8 138.4L988.2 140.8L988.8 141.9L989.3 142.8L990.6 144.8L991.9 146.8L992.8 148.1L994.5 150.8L995.9 152.8L996.8 154.3L998.2 156.8L998.8 157.9L1000.2 160.8L1000.8 162.1L1001.9 164.8L1002.6 166.8L1003.3 168.8L1004.0 170.8L1004.5 172.8L1005.2 174.8L1005.8 176.8L1006.3 178.8L1006.8 180.7L1007.4 182.8L1008.0 184.8L1008.5 186.8L1009.1 188.8L1009.8 190.8L1010.3 192.8L1010.8 194.6L1011.7 196.8L1012.3 198.8L1012.8 200.5L1013.9 202.8L1014.4 204.8L1014.8 206.5L1015.5 208.8L1015.8 210.8L1016.0 212.8L1016.2 214.8L1016.3 216.8L1016.5 218.8L1016.6 220.8L1016.8 222.8L1016.9 224.8L1017.1 226.8L1017.3 228.8L1017.4 230.8L1017.6 232.8L1017.7 234.8L1017.9 236.8L1018.0 238.8L1018.1 240.8L1018.2 242.8L1018.3 244.8L1018.3 246.8L1018.4 248.8L1018.4 250.8L1018.5 252.8L1018.5 254.8L1018.5 256.8L1018.5 258.8L1018.5 260.8L1018.5 262.8L1018.5 264.8L1018.5 266.8L1018.4 268.8L1018.4 270.8L1018.4 272.8L1018.3 274.8L1018.3 276.8L1018.3 278.8L1018.2 280.8L1018.2 282.8L1018.2 284.8L1018.1 286.8L1018.1 288.8L1018.1 290.8L1018.0 292.8L1018.0 294.8L1018.0 296.8L1017.9 298.8L1017.8 300.8L1017.7 302.8L1017.6 304.8L1017.5 306.8L1017.3 308.8L1017.1 310.8L1016.8 312.8L1016.6 314.8L1016.3 316.8L1016.0 318.8L1015.6 320.8L1015.3 322.8L1015.0 324.8L1014.8 326.2L1014.4 328.8L1014.1 330.8L1013.8 332.8L1013.5 334.8L1013.3 336.8L1013.0 338.8L1012.8 340.8L1012.5 342.8L1012.3 344.8L1012.0 346.8L1011.6 348.8L1011.2 350.8L1010.8 352.2L1009.9 354.8L1009.1 356.8L1008.2 358.8L1007.1 360.8L1006.1 362.8L1005.0 364.8L1003.9 366.8L1002.8 368.8L1001.6 370.8L1000.8 372.3L999.2 374.8L997.8 376.8L996.8 378.2L994.8 380.2L993.9 380.8L992.8 381.6L990.8 382.5L988.8 383.2L986.8 383.8L984.8 384.6L982.8 385.5L980.8 386.8L978.8 388.8L977.5 390.8L976.8 391.8L975.4 394.8L974.8 396.1L973.7 398.8L972.9 400.8L972.2 402.8L971.4 404.8L970.8 406.4L969.7 408.8L968.8 410.8L967.5 412.8L966.8 414.0L965.8 414.8L964.8 415.7L962.8 416.2L960.8 415.5L959.7 414.8L958.8 414.1L957.4 412.8L955.6 410.8L954.8 409.8L954.0 408.8L952.8 407.1L951.1 404.8L949.7 402.8L948.8 401.4L947.0 398.8L945.5 396.8L944.8 395.8L944.0 394.8L942.8 393.2L940.9 390.8L939.4 388.8L938.0 386.8L936.8 385.1L935.3 382.8L934.0 380.8L932.8 378.9L931.4 376.8L930.8 375.8L930.2 374.8L928.9 372.8L927.8 370.8L926.8 368.9L925.8 366.8L925.0 364.8L924.2 362.8L923.6 360.8L923.0 358.8L922.5 356.8L922.0 354.8L921.6 352.8L921.2 350.8L920.8 348.8L920.4 346.8L920.0 344.8L919.7 342.8L919.3 340.8L919.0 338.8L918.8 337.4L918.3 334.8L917.9 332.8L917.6 330.8L917.3 328.8L916.9 326.8L916.6 324.8L916.3 322.8L916.0 320.8L915.7 318.8L915.4 316.8L915.2 314.8L915.0 312.8L914.9 310.8L914.7 308.8L914.6 306.8L914.5 304.8L914.4 302.8L914.3 300.8L914.3 298.8L914.3 296.8L914.3 294.8L914.4 292.8L914.4 290.8L914.5 288.8L914.6 286.8L914.7 284.8L914.8 282.9L914.9 280.8L915.0 278.8L915.1 276.8L915.2 274.8L915.4 272.8L915.5 270.8L915.7 268.8L915.8 266.8L916.0 264.8L916.1 262.8L916.3 260.8L916.4 258.8L916.6 256.8L916.7 254.8L916.9 252.8L917.0 250.8L917.1 248.8L917.3 246.8L917.4 244.8L917.5 242.8L917.6 240.8L917.7 238.8L917.9 236.8L918.0 234.8L918.1 232.8L918.2 230.8L918.3 228.8L918.4 226.8L918.5 224.8L918.6 222.8L918.7 220.8L918.9 218.8L919.0 216.8L919.1 214.8L919.3 212.8L919.4 210.8L919.6 208.8L919.8 206.8L920.0 204.8L920.2 202.8L920.5 200.8L920.8 198.8L921.0 196.8L921.3 194.8L921.6 192.8L921.9 190.8L922.2 188.8L922.6 186.8L923.0 184.8L923.4 182.8L923.8 180.8L924.3 178.8L924.8 177.0L925.4 174.8L926.0 172.8L926.7 170.8L927.4 168.8L928.2 166.8L928.8 165.5L929.9 162.8L930.8 161.1L931.9 158.8L932.8 157.1L933.9 154.8L934.8 153.1L935.9 150.8L936.8 149.1L937.8 146.8L938.8 144.9L939.7 142.8L940.5 140.8L941.3 138.8L942.0 136.8L942.7 134.8L943.3 132.8L943.9 130.8L944.4 128.8L944.8 127.6L945.4 124.8L945.8 122.8L946.3 120.8L946.7 118.8L947.1 116.8L947.6 114.8L948.0 112.8L948.4 110.8L948.8 109.5L949.3 106.8L949.8 104.8L950.3 102.8L950.8 101.4L951.5 98.8L952.1 96.8L952.7 94.8L953.5 92.8L954.3 90.8L954.8 89.7L956.2 86.8L956.8 85.8L957.5 84.8L958.8 83.1ZM1020.2 186.8L1022.8 185.6L1023.5 186.8L1024.5 188.8L1025.0 190.8L1025.2 192.8L1025.3 194.8L1025.3 196.8L1025.1 198.8L1024.9 200.8L1024.2 202.8L1023.3 204.8L1022.8 206.0L1021.0 206.8L1018.8 205.2L1017.8 202.8L1017.6 200.8L1017.6 198.8L1017.7 196.8L1017.9 194.8L1018.2 192.8L1018.6 190.8L1019.2 188.8L1020.2 186.8Z" fill="#c7c7ff" fill-rule="evenodd"/>
<path d="M960.3 86.8L962.8 85.7L964.8 86.0L966.0 86.8L968.0 88.8L968.8 89.8L969.3 90.8L970.4 92.8L971.3 94.8L972.1 96.8L972.8 98.7L973.4 100.8L974.0 102.8L974.6 104.8L975.1 106.8L975.6 108.8L976.1 110.8L976.5 112.8L977.0 114.8L977.5 116.8L977.9 118.8L978.4 120.8L978.8 122.6L979.3 124.8L979.9 126.8L980.4 128.8L980.8 130.1L981.7 132.8L982.4 134.8L982.8 135.9L984.0 138.8L984.8 140.5L986.0 142.8L986.8 144.4L988.2 146.8L988.8 147.9L989.4 148.8L990.5 150.8L991.8 152.8L992.8 154.5L994.1 156.8L994.8 158.0L996.3 160.8L996.8 161.8L998.1 164.8L998.8 166.4L999.7 168.8L1000.4 170.8L1000.8 172.1L1001.6 174.8L1002.1 176.8L1002.6 178.8L1003.1 180.8L1003.6 182.8L1004.0 184.8L1004.4 186.8L1004.7 188.8L1005.1 190.8L1005.5 192.8L1005.9 194.8L1006.2 196.8L1006.5 198.8L1006.8 200.5L1007.2 202.8L1007.5 204.8L1007.8 206.8L1008.2 208.8L1008.4 210.8L1008.7 212.8L1009.1 214.8L1009.4 216.8L1009.8 218.8L1010.1 220.8L1010.4 222.8L1010.8 224.8L1011.2 226.8L1011.5 228.8L1011.9 230.8L1012.3 232.8L1012.6 234.8L1013.0 236.8L1013.3 238.8L1013.6 240.8L1013.9 242.8L1014.1 244.8L1014.3 246.8L1014.5 248.8L1014.7 250.8L1014.8 252.4L1014.9 254.8L1015.0 256.8L1015.0 258.8L1015.1 260.8L1015.1 262.8L1015.1 264.8L1015.0 266.8L1015.0 268.8L1015.0 270.8L1014.9 272.8L1014.8 274.8L1014.7 276.8L1014.6 278.8L1014.5 280.8L1014.4 282.8L1014.3 284.8L1014.1 286.8L1014.0 288.8L1013.8 290.8L1013.7 292.8L1013.5 294.8L1013.2 296.8L1013.0 298.8L1012.8 300.7L1012.5 302.8L1012.2 304.8L1011.9 306.8L1011.6 308.8L1011.2 310.8L1010.9 312.8L1010.5 314.8L1010.2 316.8L1009.9 318.8L1009.5 320.8L1009.2 322.8L1008.8 324.8L1008.5 326.8L1008.2 328.8L1007.9 330.8L1007.6 332.8L1007.3 334.8L1007.0 336.8L1006.8 338.3L1006.3 340.8L1006.0 342.8L1005.5 344.8L1005.1 346.8L1004.5 348.8L1004.0 350.8L1003.3 352.8L1002.8 354.3L1001.8 356.8L1000.9 358.8L999.8 360.8L998.8 362.7L997.3 364.8L995.6 366.8L994.8 367.7L993.4 368.8L990.8 370.5L988.8 371.6L986.8 372.6L984.8 373.8L983.2 374.8L980.8 376.6L978.8 378.7L977.4 380.8L976.8 381.8L976.3 382.8L975.3 384.8L974.8 386.0L973.7 388.8L972.9 390.8L972.2 392.8L971.4 394.8L970.8 396.5L969.8 398.8L969.0 400.8L967.8 402.8L966.8 404.6L964.8 406.3L962.8 406.4L960.8 405.2L958.8 402.8L957.4 400.8L956.8 399.8L956.1 398.8L955.0 396.8L953.8 394.8L952.8 392.9L951.6 390.8L950.8 389.2L949.4 386.8L948.8 385.7L947.0 382.8L945.7 380.8L944.8 379.5L942.8 377.1L940.8 375.1L938.8 373.0L936.8 370.8L935.1 368.8L933.5 366.8L932.8 365.8L932.1 364.8L930.8 362.8L929.7 360.8L928.8 358.9L927.9 356.8L927.2 354.8L926.8 353.6L926.0 350.8L925.5 348.8L925.0 346.8L924.6 344.8L924.2 342.8L923.8 340.8L923.5 338.8L923.2 336.8L922.8 334.8L922.5 332.8L922.2 330.8L921.9 328.8L921.6 326.8L921.3 324.8L921.1 322.8L920.8 320.8L920.5 318.8L920.3 316.8L920.0 314.8L919.8 312.8L919.6 310.8L919.4 308.8L919.2 306.8L919.1 304.8L918.9 302.8L918.8 300.8L918.7 298.8L918.6 296.8L918.5 294.8L918.4 292.8L918.4 290.8L918.3 288.8L918.3 286.8L918.3 284.8L918.4 282.8L918.4 280.8L918.4 278.8L918.5 276.8L918.6 274.8L918.6 272.8L918.7 270.8L918.8 268.8L918.9 266.8L919.0 264.8L919.1 262.8L919.2 260.8L919.3 258.8L919.4 256.8L919.5 254.8L919.6 252.8L919.7 250.8L919.8 248.8L919.9 246.8L920.0 244.8L920.1 242.8L920.2 240.8L920.3 238.8L920.4 236.8L920.5 234.8L920.6 232.8L920.7 230.8L920.8 228.8L920.9 226.8L921.0 224.8L921.1 222.8L921.2 220.8L921.3 218.8L921.4 216.8L921.6 214.8L921.7 212.8L921.9 210.8L922.1 208.8L922.3 206.8L922.5 204.8L922.8 202.9L923.0 200.8L923.3 198.8L923.5 196.8L923.8 194.8L924.2 192.8L924.5 190.8L924.9 188.8L925.3 186.8L925.7 184.8L926.2 182.8L926.7 180.8L927.3 178.8L927.9 176.8L928.5 174.8L929.2 172.8L929.9 170.8L930.8 168.8L931.6 166.8L932.4 164.8L933.3 162.8L934.2 160.8L934.8 159.7L936.1 156.8L936.8 155.5L938.0 152.8L938.8 151.3L939.9 148.8L940.8 146.9L941.6 144.8L942.4 142.8L943.1 140.8L943.7 138.8L944.4 136.8L944.8 135.6L945.5 132.8L946.0 130.8L946.5 128.8L946.8 127.6L947.3 124.8L947.7 122.8L948.1 120.8L948.6 118.8L949.0 116.8L949.4 114.8L949.8 112.8L950.3 110.8L950.8 108.8L951.2 106.8L951.7 104.8L952.3 102.8L952.8 101.3L953.6 98.8L954.3 96.8L954.8 95.5L956.0 92.8L956.8 91.2L958.4 88.8L960.3 86.8Z" fill="#bdbdff" fill-rule="evenodd"/>
<path d="M961.1 90.8L962.8 90.1L964.8 90.4L966.8 91.9L967.4 92.8L968.8 94.7L969.8 96.8L970.8 98.8L971.5 100.8L972.2 102.8L972.8 104.6L973.4 106.8L973.9 108.8L974.4 110.8L974.8 112.2L975.4 114.8L975.8 116.8L976.3 118.8L976.7 120.8L977.2 122.8L977.6 124.8L978.1 126.8L978.6 128.8L979.1 130.8L979.7 132.8L980.3 134.8L980.8 136.2L981.8 138.8L982.5 140.8L983.5 142.8L984.4 144.8L985.4 146.8L986.5 148.8L987.6 150.8L988.7 152.8L989.9 154.8L990.8 156.4L992.1 158.8L992.8 160.1L994.2 162.8L994.8 164.1L996.0 166.8L996.8 168.8L997.6 170.8L998.2 172.8L998.8 174.6L999.4 176.8L1000.0 178.8L1000.4 180.8L1000.8 182.3L1001.3 184.8L1001.8 186.8L1002.1 188.8L1002.5 190.8L1002.8 192.8L1003.1 194.8L1003.4 196.8L1003.7 198.8L1004.0 200.8L1004.3 202.8L1004.5 204.8L1004.8 206.8L1005.0 208.8L1005.3 210.8L1005.6 212.8L1005.8 214.8L1006.1 216.8L1006.3 218.8L1006.5 220.8L1006.8 222.8L1007.1 224.8L1007.3 226.8L1007.6 228.8L1007.9 230.8L1008.2 232.8L1008.5 234.8L1008.8 236.5L1009.2 238.8L1009.5 240.8L1009.8 242.8L1010.1 244.8L1010.4 246.8L1010.6 248.8L1010.9 250.8L1011.1 252.8L1011.3 254.8L1011.4 256.8L1011.6 258.8L1011.6 260.8L1011.7 262.8L1011.7 264.8L1011.8 266.8L1011.8 268.8L1011.7 270.8L1011.7 272.8L1011.6 274.8L1011.5 276.8L1011.4 278.8L1011.2 280.8L1011.1 282.8L1010.9 284.8L1010.8 286.2L1010.5 288.8L1010.3 290.8L1010.1 292.8L1009.8 294.8L1009.5 296.8L1009.2 298.8L1008.8 300.8L1008.5 302.8L1008.2 304.8L1007.8 306.8L1007.4 308.8L1007.0 310.8L1006.8 312.1L1006.3 314.8L1005.9 316.8L1005.5 318.8L1005.1 320.8L1004.8 322.8L1004.4 324.8L1004.1 326.8L1003.7 328.8L1003.4 330.8L1003.0 332.8L1002.8 334.1L1002.2 336.8L1001.8 338.8L1001.3 340.8L1000.8 342.8L1000.2 344.8L999.6 346.8L998.8 348.8L997.9 350.8L996.8 352.8L995.5 354.8L994.8 355.8L993.8 356.8L992.8 357.9L991.8 358.8L990.8 359.7L989.4 360.8L987.0 362.8L984.8 364.7L982.8 366.4L980.8 368.3L978.8 370.6L977.3 372.8L976.2 374.8L975.3 376.8L974.8 377.9L973.7 380.8L972.9 382.8L972.2 384.8L971.4 386.8L970.8 388.6L969.9 390.8L969.0 392.8L967.9 394.8L966.8 396.7L964.8 398.3L962.8 398.2L961.2 396.8L959.7 394.8L958.8 393.3L957.4 390.8L956.8 389.4L955.5 386.8L954.8 385.1L953.7 382.8L952.9 380.8L951.9 378.8L951.1 376.8L950.1 374.8L949.2 372.8L948.1 370.8L946.9 368.8L945.4 366.8L943.4 364.8L941.1 362.8L938.8 360.8L936.8 358.9L935.0 356.8L933.6 354.8L932.8 353.6L931.3 350.8L930.8 349.7L929.7 346.8L929.0 344.8L928.4 342.8L927.9 340.8L927.4 338.8L927.0 336.8L926.6 334.8L926.2 332.8L925.8 330.8L925.5 328.8L925.2 326.8L924.9 324.8L924.6 322.8L924.3 320.8L924.0 318.8L923.7 316.8L923.5 314.8L923.2 312.8L923.0 310.8L922.8 308.8L922.6 306.8L922.4 304.8L922.2 302.8L922.0 300.8L921.9 298.8L921.7 296.8L921.6 294.8L921.5 292.8L921.5 290.8L921.4 288.8L921.3 286.8L921.3 284.8L921.3 282.8L921.3 280.8L921.3 278.8L921.3 276.8L921.3 274.8L921.3 272.8L921.4 270.8L921.4 268.8L921.5 266.8L921.5 264.8L921.6 262.8L921.6 260.8L921.7 258.8L921.8 256.8L921.9 254.8L922.0 252.8L922.0 250.8L922.1 248.8L922.2 246.8L922.3 244.8L922.4 242.8L922.5 240.8L922.5 238.8L922.6 236.8L922.7 234.8L922.8 232.8L922.9 230.8L923.0 228.8L923.0 226.8L923.1 224.8L923.2 222.8L923.3 220.8L923.5 218.8L923.6 216.8L923.7 214.8L923.9 212.8L924.1 210.8L924.3 208.8L924.5 206.8L924.7 204.8L924.9 202.8L925.2 200.8L925.5 198.8L925.8 196.8L926.1 194.8L926.5 192.8L926.8 191.2L927.2 188.8L927.7 186.8L928.2 184.8L928.7 182.8L929.2 180.8L929.8 178.8L930.5 176.8L931.1 174.8L931.8 172.8L932.6 170.8L933.4 168.8L934.2 166.8L934.8 165.6L935.9 162.8L936.8 161.1L937.8 158.8L938.7 156.8L939.6 154.8L940.5 152.8L941.4 150.8L942.2 148.8L942.8 147.6L943.8 144.8L944.5 142.8L945.1 140.8L945.7 138.8L946.2 136.8L946.8 134.9L947.2 132.8L947.7 130.8L948.1 128.8L948.5 126.8L948.9 124.8L949.3 122.8L949.7 120.8L950.1 118.8L950.6 116.8L951.0 114.8L951.4 112.8L951.9 110.8L952.4 108.8L952.8 107.5L953.5 104.8L954.2 102.8L954.8 101.0L955.6 98.8L956.5 96.8L957.6 94.8L958.8 92.9L960.8 90.9Z" fill="#b2b2ff" fill-rule="evenodd"/>
<path d="M961.5 94.8L962.8 94.3L964.8 94.6L966.8 96.3L968.5 98.8L969.5 100.8L970.3 102.8L971.1 104.8L971.7 106.8L972.3 108.8L972.8 110.3L973.4 112.8L973.9 114.8L974.4 116.8L974.8 118.7L975.3 120.8L975.7 122.8L976.1 124.8L976.6 126.8L977.1 128.8L977.6 130.8L978.1 132.8L978.6 134.8L979.3 136.8L979.9 138.8L980.6 140.8L981.4 142.8L982.3 144.8L982.8 145.9L984.2 148.8L984.8 149.9L986.3 152.8L987.4 154.8L988.5 156.8L989.6 158.8L990.6 160.8L991.6 162.8L992.6 164.8L993.5 166.8L994.4 168.8L995.2 170.8L995.9 172.8L996.6 174.8L997.2 176.8L997.8 178.8L998.3 180.8L998.8 182.8L999.2 184.8L999.7 186.8L1000.0 188.8L1000.4 190.8L1000.7 192.8L1001.0 194.8L1001.3 196.8L1001.6 198.8L1001.9 200.8L1002.1 202.8L1002.4 204.8L1002.6 206.8L1002.8 208.5L1003.0 210.8L1003.3 212.8L1003.5 214.8L1003.7 216.8L1003.9 218.8L1004.1 220.8L1004.2 222.8L1004.4 224.8L1004.6 226.8L1004.8 228.4L1005.0 230.8L1005.3 232.8L1005.5 234.8L1005.8 236.8L1006.0 238.8L1006.2 240.8L1006.5 242.8L1006.7 244.8L1007.0 246.8L1007.3 248.8L1007.5 250.8L1007.8 252.8L1008.0 254.8L1008.2 256.8L1008.3 258.8L1008.5 260.8L1008.6 262.8L1008.7 264.8L1008.7 266.8L1008.8 268.8L1008.8 270.8L1008.8 272.3L1008.7 274.8L1008.6 276.8L1008.5 278.8L1008.4 280.8L1008.3 282.8L1008.1 284.8L1007.9 286.8L1007.7 288.8L1007.5 290.8L1007.2 292.8L1006.9 294.8L1006.6 296.8L1006.2 298.8L1005.9 300.8L1005.5 302.8L1005.1 304.8L1004.8 306.5L1004.3 308.8L1003.9 310.8L1003.4 312.8L1003.0 314.8L1002.6 316.8L1002.1 318.8L1001.7 320.8L1001.3 322.8L1000.8 324.8L1000.4 326.8L999.9 328.8L999.4 330.8L998.9 332.8L998.3 334.8L997.7 336.8L997.0 338.8L996.2 340.8L995.3 342.8L994.8 343.8L994.2 344.8L992.9 346.8L991.4 348.8L989.8 350.8L988.8 352.0L986.8 354.3L984.8 356.6L982.8 358.8L981.0 360.8L979.4 362.8L978.0 364.8L976.8 366.8L975.8 368.8L974.8 370.8L974.1 372.8L973.3 374.8L972.8 376.2L971.8 378.8L971.1 380.8L970.3 382.8L969.5 384.8L968.8 386.6L967.5 388.8L966.8 390.0L965.7 390.8L964.8 391.5L962.8 391.1L960.8 388.9L959.6 386.8L958.8 385.3L957.6 382.8L956.8 380.8L956.0 378.8L955.2 376.8L954.8 375.6L953.7 372.8L953.0 370.8L952.1 368.8L951.3 366.8L950.8 365.4L949.5 362.8L948.8 361.4L947.1 358.8L945.3 356.8L943.1 354.8L940.8 353.0L938.8 351.2L936.8 349.0L935.2 346.8L934.0 344.8L933.0 342.8L932.1 340.8L931.4 338.8L930.8 336.9L930.2 334.8L929.6 332.8L929.2 330.8L928.8 329.0L928.3 326.8L927.9 324.8L927.6 322.8L927.2 320.8L926.9 318.8L926.6 316.8L926.3 314.8L926.0 312.8L925.8 310.8L925.5 308.8L925.3 306.8L925.1 304.8L924.9 302.8L924.8 301.2L924.5 298.8L924.4 296.8L924.2 294.8L924.1 292.8L924.0 290.8L923.9 288.8L923.8 286.8L923.8 284.8L923.7 282.8L923.7 280.8L923.6 278.8L923.6 276.8L923.6 274.8L923.6 272.8L923.6 270.8L923.6 268.8L923.6 266.8L923.7 264.8L923.7 262.8L923.8 260.8L923.8 258.8L923.9 256.8L923.9 254.8L924.0 252.8L924.1 250.8L924.2 248.8L924.2 246.8L924.3 244.8L924.4 242.8L924.4 240.8L924.5 238.8L924.6 236.8L924.7 234.8L924.8 232.8L924.8 230.8L924.9 228.8L925.0 226.8L925.1 224.8L925.2 222.8L925.3 220.8L925.4 218.8L925.5 216.8L925.7 214.8L925.8 212.8L926.0 210.8L926.2 208.8L926.4 206.8L926.6 204.8L926.9 202.8L927.1 200.8L927.4 198.8L927.7 196.8L928.1 194.8L928.5 192.8L928.8 191.5L929.3 188.8L929.8 186.8L930.3 184.8L930.8 183.1L931.4 180.8L932.0 178.8L932.7 176.8L933.3 174.8L934.1 172.8L934.8 171.1L935.6 168.8L936.5 166.8L937.3 164.8L938.2 162.8L938.8 161.5L940.0 158.8L940.8 157.1L941.7 154.8L942.6 152.8L943.4 150.8L944.2 148.8L944.8 147.3L945.6 144.8L946.2 142.8L946.8 140.9L947.3 138.8L947.8 136.8L948.3 134.8L948.7 132.8L949.1 130.8L949.5 128.8L949.9 126.8L950.3 124.8L950.8 122.9L951.2 120.8L951.6 118.8L952.0 116.8L952.5 114.8L953.0 112.8L953.5 110.8L954.0 108.8L954.6 106.8L955.3 104.8L956.0 102.8L956.8 101.0L957.9 98.8L958.8 97.4L960.8 95.2Z" fill="#a8a8ff" fill-rule="evenodd"/>
<path d="M961.6 98.8L962.8 98.2L964.8 98.6L966.8 100.4L968.2 102.8L969.2 104.8L970.0 106.8L970.7 108.8L971.4 110.8L971.9 112.8L972.5 114.8L973.0 116.8L973.4 118.8L973.9 120.8L974.3 122.8L974.8 124.8L975.2 126.8L975.7 128.8L976.2 130.8L976.6 132.8L977.2 134.8L977.8 136.8L978.4 138.8L978.8 140.1L979.8 142.8L980.5 144.8L981.4 146.8L982.3 148.8L983.3 150.8L984.3 152.8L985.4 154.8L986.4 156.8L987.5 158.8L988.5 160.8L989.5 162.8L990.5 164.8L991.4 166.8L992.3 168.8L992.8 170.0L993.9 172.8L994.6 174.8L995.2 176.8L995.9 178.8L996.4 180.8L996.8 182.2L997.4 184.8L997.9 186.8L998.3 188.8L998.6 190.8L999.0 192.8L999.3 194.8L999.6 196.8L999.9 198.8L1000.1 200.8L1000.4 202.8L1000.6 204.8L1000.8 206.5L1001.0 208.8L1001.2 210.8L1001.4 212.8L1001.6 214.8L1001.8 216.8L1001.9 218.8L1002.1 220.8L1002.2 222.8L1002.4 224.8L1002.5 226.8L1002.7 228.8L1002.8 230.8L1003.0 232.8L1003.2 234.8L1003.4 236.8L1003.6 238.8L1003.8 240.8L1004.0 242.8L1004.2 244.8L1004.4 246.8L1004.6 248.8L1004.8 250.8L1005.1 252.8L1005.3 254.8L1005.5 256.8L1005.7 258.8L1005.9 260.8L1006.0 262.8L1006.1 264.8L1006.2 266.8L1006.3 268.8L1006.3 270.8L1006.3 272.8L1006.3 274.8L1006.3 276.8L1006.2 278.8L1006.1 280.8L1005.9 282.8L1005.8 284.8L1005.6 286.8L1005.3 288.8L1005.1 290.8L1004.8 292.8L1004.4 294.8L1004.1 296.8L1003.7 298.8L1003.3 300.8L1002.9 302.8L1002.5 304.8L1002.0 306.8L1001.6 308.8L1001.1 310.8L1000.8 312.1L1000.1 314.8L999.5 316.8L999.0 318.8L998.5 320.8L997.9 322.8L997.3 324.8L996.8 326.6L996.0 328.8L995.3 330.8L994.8 332.2L993.6 334.8L992.8 336.6L991.6 338.8L990.8 340.2L989.1 342.8L987.9 344.8L986.8 346.4L985.1 348.8L983.6 350.8L982.8 352.0L980.8 354.6L979.2 356.8L977.9 358.8L976.8 360.6L975.8 362.8L974.8 364.8L974.0 366.8L973.3 368.8L972.8 370.1L971.8 372.8L971.1 374.8L970.3 376.8L969.5 378.8L968.8 380.7L967.5 382.8L966.8 384.1L965.8 384.8L964.8 385.5L962.8 384.9L961.1 382.8L960.0 380.8L959.0 378.8L958.2 376.8L957.4 374.8L956.8 373.0L956.0 370.8L955.3 368.8L954.8 367.1L953.9 364.8L953.2 362.8L952.8 361.4L951.7 358.8L950.8 356.8L949.8 354.8L948.8 353.0L947.1 350.8L945.2 348.8L942.8 346.8L940.8 345.1L938.8 343.1L937.0 340.8L935.8 338.8L934.8 336.8L933.9 334.8L933.2 332.8L932.8 331.6L931.9 328.8L931.4 326.8L930.9 324.8L930.4 322.8L930.0 320.8L929.6 318.8L929.3 316.8L928.9 314.8L928.6 312.8L928.3 310.8L928.0 308.8L927.8 306.8L927.5 304.8L927.3 302.8L927.1 300.8L926.9 298.8L926.8 297.2L926.5 294.8L926.4 292.8L926.2 290.8L926.1 288.8L926.0 286.8L925.9 284.8L925.8 282.8L925.8 280.8L925.7 278.8L925.7 276.8L925.6 274.8L925.6 272.8L925.6 270.8L925.6 268.8L925.6 266.8L925.6 264.8L925.6 262.8L925.7 260.8L925.7 258.8L925.7 256.8L925.8 254.8L925.8 252.8L925.9 250.8L926.0 248.8L926.0 246.8L926.1 244.8L926.2 242.8L926.2 240.8L926.3 238.8L926.4 236.8L926.4 234.8L926.5 232.8L926.6 230.8L926.7 228.8L926.8 227.2L926.9 224.8L927.0 222.8L927.1 220.8L927.2 218.8L927.3 216.8L927.4 214.8L927.6 212.8L927.8 210.8L928.0 208.8L928.2 206.8L928.4 204.8L928.7 202.8L928.9 200.8L929.2 198.8L929.5 196.8L929.9 194.8L930.3 192.8L930.7 190.8L931.2 188.8L931.6 186.8L932.1 184.8L932.7 182.8L933.3 180.8L933.9 178.8L934.6 176.8L935.3 174.8L936.0 172.8L936.8 170.9L937.5 168.8L938.4 166.8L939.2 164.8L940.1 162.8L940.8 161.3L941.8 158.8L942.7 156.8L943.5 154.8L944.3 152.8L945.1 150.8L945.8 148.8L946.5 146.8L947.1 144.8L947.6 142.8L948.2 140.8L948.7 138.8L949.2 136.8L949.6 134.8L950.0 132.8L950.4 130.8L950.8 129.3L951.3 126.8L951.6 124.8L952.1 122.8L952.5 120.8L952.9 118.8L953.4 116.8L953.9 114.8L954.4 112.8L954.8 111.5L955.6 108.8L956.3 106.8L956.8 105.7L958.1 102.8L958.8 101.6L960.8 99.2Z" fill="#9e9eff" fill-rule="evenodd"/>
<path d="M961.5 102.8L962.8 102.1L964.8 102.5L966.8 104.5L968.1 106.8L968.8 108.2L969.8 110.8L970.4 112.8L971.0 114.8L971.6 116.8L972.1 118.8L972.6 120.8L973.1 122.8L973.5 124.8L974.0 126.8L974.4 128.8L974.8 130.4L975.4 132.8L975.9 134.8L976.4 136.8L976.8 138.1L977.6 140.8L978.3 142.8L978.8 144.2L979.8 146.8L980.6 148.8L981.6 150.8L982.5 152.8L983.6 154.8L984.6 156.8L985.6 158.8L986.6 160.8L987.7 162.8L988.6 164.8L989.6 166.8L990.5 168.8L991.3 170.8L992.1 172.8L992.8 174.6L993.5 176.8L994.2 178.8L994.7 180.8L995.3 182.8L995.8 184.8L996.3 186.8L996.7 188.8L997.1 190.8L997.4 192.8L997.8 194.8L998.1 196.8L998.4 198.8L998.6 200.8L998.8 202.2L999.1 204.8L999.3 206.8L999.5 208.8L999.7 210.8L999.9 212.8L1000.0 214.8L1000.2 216.8L1000.3 218.8L1000.4 220.8L1000.6 222.8L1000.7 224.8L1000.8 226.8L1001.0 228.8L1001.1 230.8L1001.2 232.8L1001.4 234.8L1001.5 236.8L1001.7 238.8L1001.8 240.8L1002.0 242.8L1002.2 244.8L1002.4 246.8L1002.5 248.8L1002.7 250.8L1002.9 252.8L1003.1 254.8L1003.3 256.8L1003.5 258.8L1003.7 260.8L1003.8 262.8L1003.9 264.8L1004.0 266.8L1004.1 268.8L1004.2 270.8L1004.2 272.8L1004.2 274.8L1004.1 276.8L1004.1 278.8L1004.0 280.8L1003.8 282.8L1003.6 284.8L1003.4 286.8L1003.2 288.8L1002.9 290.8L1002.6 292.8L1002.2 294.8L1001.8 296.8L1001.4 298.8L1001.0 300.8L1000.5 302.8L1000.0 304.8L999.5 306.8L998.9 308.8L998.4 310.8L997.8 312.8L997.2 314.8L996.8 316.2L995.9 318.8L995.2 320.8L994.8 322.1L993.7 324.8L992.9 326.8L992.1 328.8L991.1 330.8L990.2 332.8L989.1 334.8L988.0 336.8L986.9 338.8L985.8 340.8L984.8 342.5L983.3 344.8L982.0 346.8L980.8 348.6L979.3 350.8L978.1 352.8L976.9 354.8L976.0 356.8L975.0 358.8L974.2 360.8L973.5 362.8L972.8 364.6L972.0 366.8L971.3 368.8L970.8 370.2L969.8 372.8L969.0 374.8L967.9 376.8L966.8 378.7L964.8 380.1L962.8 379.2L961.1 376.8L960.0 374.8L959.2 372.8L958.8 371.7L957.7 368.8L957.1 366.8L956.4 364.8L955.8 362.8L955.1 360.8L954.8 359.5L953.8 356.8L953.1 354.8L952.3 352.8L951.5 350.8L950.8 349.2L949.3 346.8L947.8 344.8L946.8 343.6L946.0 342.8L944.8 341.7L943.7 340.8L942.8 340.0L941.5 338.8L940.8 338.0L939.7 336.8L938.8 335.6L937.1 332.8L936.1 330.8L935.3 328.8L934.8 327.5L933.9 324.8L933.3 322.8L932.8 320.8L932.3 318.8L931.9 316.8L931.5 314.8L931.1 312.8L930.8 310.8L930.4 308.8L930.1 306.8L929.8 304.8L929.6 302.8L929.3 300.8L929.1 298.8L928.9 296.8L928.7 294.8L928.5 292.8L928.3 290.8L928.2 288.8L928.0 286.8L927.9 284.8L927.8 282.8L927.7 280.8L927.6 278.8L927.5 276.8L927.5 274.8L927.4 272.8L927.4 270.8L927.4 268.8L927.4 266.8L927.4 264.8L927.4 262.8L927.4 260.8L927.4 258.8L927.5 256.8L927.5 254.8L927.5 252.8L927.6 250.8L927.6 248.8L927.7 246.8L927.8 244.8L927.8 242.8L927.9 240.8L928.0 238.8L928.0 236.8L928.1 234.8L928.2 232.8L928.2 230.8L928.3 228.8L928.4 226.8L928.5 224.8L928.6 222.8L928.7 220.8L928.8 218.8L928.9 216.8L929.1 214.8L929.2 212.8L929.4 210.8L929.6 208.8L929.8 206.8L930.0 204.8L930.3 202.8L930.6 200.8L930.9 198.8L931.2 196.8L931.5 194.8L931.9 192.8L932.4 190.8L932.8 189.1L933.3 186.8L933.8 184.8L934.4 182.8L934.8 181.6L935.6 178.8L936.3 176.8L936.8 175.4L937.7 172.8L938.5 170.8L939.3 168.8L940.1 166.8L940.8 165.3L941.8 162.8L942.7 160.8L943.5 158.8L944.3 156.8L945.1 154.8L945.9 152.8L946.6 150.8L947.2 148.8L947.8 146.8L948.4 144.8L949.0 142.8L949.5 140.8L949.9 138.8L950.4 136.8L950.8 135.2L951.3 132.8L951.7 130.8L952.1 128.8L952.5 126.8L952.8 125.5L953.3 122.8L953.8 120.8L954.2 118.8L954.7 116.8L955.3 114.8L955.9 112.8L956.6 110.8L957.4 108.8L958.3 106.8L959.5 104.8L960.8 103.2Z" fill="#9494ff" fill-rule="evenodd"/>
<path d="M961.3 106.8L962.8 105.9L964.8 106.4L966.8 108.6L967.9 110.8L968.8 112.6L969.5 114.8L970.2 116.8L970.8 118.8L971.3 120.8L971.8 122.8L972.3 124.8L972.7 126.8L973.2 128.8L973.7 130.8L974.1 132.8L974.6 134.8L975.2 136.8L975.7 138.8L976.3 140.8L976.8 142.3L977.6 144.8L978.4 146.8L979.2 148.8L980.1 150.8L980.8 152.4L982.0 154.8L982.8 156.4L984.0 158.8L984.8 160.3L986.0 162.8L986.8 164.3L988.0 166.8L988.8 168.6L989.7 170.8L990.5 172.8L991.3 174.8L992.0 176.8L992.6 178.8L993.3 180.8L993.8 182.8L994.4 184.8L994.8 186.6L995.3 188.8L995.7 190.8L996.1 192.8L996.4 194.8L996.7 196.8L997.0 198.8L997.3 200.8L997.5 202.8L997.8 204.8L998.0 206.8L998.1 208.8L998.3 210.8L998.5 212.8L998.6 214.8L998.7 216.8L998.9 218.8L999.0 220.8L999.1 222.8L999.3 224.8L999.4 226.8L999.5 228.8L999.6 230.8L999.7 232.8L999.8 234.8L999.9 236.8L1000.1 238.8L1000.2 240.8L1000.3 242.8L1000.5 244.8L1000.6 246.8L1000.7 248.8L1000.9 250.8L1001.1 252.8L1001.3 254.8L1001.4 256.8L1001.6 258.8L1001.7 260.8L1001.9 262.8L1002.0 264.8L1002.1 266.8L1002.2 268.8L1002.2 270.8L1002.2 272.8L1002.2 274.8L1002.2 276.8L1002.1 278.8L1002.0 280.8L1001.8 282.8L1001.6 284.8L1001.4 286.8L1001.1 288.8L1000.8 290.8L1000.4 292.8L1000.1 294.8L999.6 296.8L999.2 298.8L998.8 300.4L998.1 302.8L997.5 304.8L996.9 306.8L996.3 308.8L995.7 310.8L995.0 312.8L994.3 314.8L993.6 316.8L992.8 318.8L992.0 320.8L991.2 322.8L990.3 324.8L989.4 326.8L988.8 328.2L987.5 330.8L986.8 332.3L985.5 334.8L984.8 336.1L983.3 338.8L982.1 340.8L980.9 342.8L979.7 344.8L978.8 346.2L977.4 348.8L976.8 349.9L975.4 352.8L974.8 354.2L973.8 356.8L973.0 358.8L972.3 360.8L971.6 362.8L970.9 364.8L970.1 366.8L969.3 368.8L968.8 370.2L967.3 372.8L965.1 374.8L962.8 374.0L962.0 372.8L960.8 370.8L960.0 368.8L959.2 366.8L958.8 365.6L957.8 362.8L957.2 360.8L956.8 359.2L956.0 356.8L955.4 354.8L954.8 352.8L954.1 350.8L953.4 348.8L952.8 347.0L951.7 344.8L950.8 342.8L949.4 340.8L948.8 339.8L947.9 338.8L946.8 337.5L944.8 335.6L944.0 334.8L942.8 333.6L942.0 332.8L940.8 331.3L939.1 328.8L938.0 326.8L937.1 324.8L936.4 322.8L935.7 320.8L935.1 318.8L934.5 316.8L934.0 314.8L933.6 312.8L933.2 310.8L932.8 308.8L932.4 306.8L932.1 304.8L931.8 302.8L931.5 300.8L931.2 298.8L930.9 296.8L930.8 295.3L930.5 292.8L930.3 290.8L930.1 288.8L929.9 286.8L929.7 284.8L929.6 282.8L929.5 280.8L929.4 278.8L929.3 276.8L929.2 274.8L929.1 272.8L929.1 270.8L929.0 268.8L929.0 266.8L929.0 264.8L929.0 262.8L929.0 260.8L929.0 258.8L929.1 256.8L929.1 254.8L929.1 252.8L929.2 250.8L929.2 248.8L929.3 246.8L929.3 244.8L929.4 242.8L929.4 240.8L929.5 238.8L929.6 236.8L929.6 234.8L929.7 232.8L929.8 230.8L929.8 228.8L929.9 226.8L930.0 224.8L930.1 222.8L930.2 220.8L930.3 218.8L930.4 216.8L930.6 214.8L930.7 212.8L930.9 210.8L931.1 208.8L931.3 206.8L931.5 204.8L931.7 202.8L932.0 200.8L932.3 198.8L932.7 196.8L933.0 194.8L933.4 192.8L933.8 190.8L934.3 188.8L934.8 187.0L935.3 184.8L935.9 182.8L936.5 180.8L937.1 178.8L937.8 176.8L938.5 174.8L939.2 172.8L940.0 170.8L940.8 169.0L941.6 166.8L942.5 164.8L943.3 162.8L944.2 160.8L944.8 159.4L945.8 156.8L946.5 154.8L947.2 152.8L947.9 150.8L948.5 148.8L949.1 146.8L949.7 144.8L950.2 142.8L950.7 140.8L951.1 138.8L951.6 136.8L952.0 134.8L952.4 132.8L952.8 131.2L953.3 128.8L953.7 126.8L954.1 124.8L954.6 122.8L955.1 120.8L955.6 118.8L956.2 116.8L956.8 114.9L957.6 112.8L958.4 110.8L959.6 108.8L960.8 107.1Z" fill="#8a8aff" fill-rule="evenodd"/>
<path d="M961.1 110.8L962.8 109.8L964.8 110.3L966.8 112.7L967.8 114.8L968.6 116.8L969.3 118.8L969.9 120.8L970.5 122.8L971.0 124.8L971.5 126.8L972.0 128.8L972.5 130.8L973.0 132.8L973.5 134.8L974.0 136.8L974.5 138.8L975.1 140.8L975.7 142.8L976.4 144.8L976.8 146.0L977.9 148.8L978.7 150.8L979.6 152.8L980.5 154.8L981.5 156.8L982.5 158.8L983.5 160.8L984.5 162.8L985.5 164.8L986.5 166.8L987.4 168.8L988.3 170.8L988.8 172.0L989.9 174.8L990.6 176.8L991.3 178.8L991.9 180.8L992.5 182.8L993.0 184.8L993.5 186.8L994.0 188.8L994.4 190.8L994.8 192.7L995.1 194.8L995.5 196.8L995.8 198.8L996.1 200.8L996.3 202.8L996.5 204.8L996.7 206.8L996.9 208.8L997.1 210.8L997.3 212.8L997.4 214.8L997.5 216.8L997.7 218.8L997.8 220.8L997.9 222.8L998.0 224.8L998.1 226.8L998.2 228.8L998.3 230.8L998.4 232.8L998.4 234.8L998.5 236.8L998.6 238.8L998.7 240.8L998.8 242.8L999.0 244.8L999.1 246.8L999.2 248.8L999.3 250.8L999.5 252.8L999.6 254.8L999.8 256.8L999.9 258.8L1000.0 260.8L1000.1 262.8L1000.2 264.8L1000.3 266.8L1000.4 268.8L1000.4 270.8L1000.4 272.8L1000.4 274.8L1000.3 276.8L1000.2 278.8L1000.1 280.8L999.9 282.8L999.7 284.8L999.4 286.8L999.1 288.8L998.8 290.6L998.3 292.8L997.9 294.8L997.4 296.8L996.9 298.8L996.3 300.8L995.7 302.8L995.1 304.8L994.4 306.8L993.7 308.8L993.0 310.8L992.3 312.8L991.5 314.8L990.8 316.7L989.9 318.8L989.1 320.8L988.2 322.8L987.3 324.8L986.8 326.0L985.5 328.8L984.8 330.2L983.5 332.8L982.8 334.1L981.3 336.8L980.1 338.8L979.0 340.8L977.9 342.8L976.8 344.8L975.9 346.8L975.0 348.8L974.2 350.8L973.5 352.8L972.8 354.7L972.0 356.8L971.3 358.8L970.8 360.4L969.8 362.8L969.0 364.8L968.0 366.8L966.9 368.8L964.8 370.2L962.8 369.0L961.5 366.8L960.8 365.4L959.8 362.8L959.1 360.8L958.5 358.8L957.9 356.8L957.3 354.8L956.8 352.9L956.1 350.8L955.5 348.8L954.9 346.8L954.2 344.8L953.4 342.8L952.8 341.0L951.6 338.8L950.8 337.1L949.2 334.8L947.5 332.8L946.8 331.9L945.7 330.8L944.8 329.8L943.9 328.8L942.8 327.5L940.9 324.8L939.7 322.8L938.8 320.8L938.0 318.8L937.3 316.8L936.8 315.2L936.1 312.8L935.6 310.8L935.1 308.8L934.8 307.1L934.3 304.8L933.9 302.8L933.6 300.8L933.3 298.8L933.0 296.8L932.8 295.5L932.4 292.8L932.2 290.8L931.9 288.8L931.7 286.8L931.5 284.8L931.4 282.8L931.2 280.8L931.1 278.8L931.0 276.8L930.9 274.8L930.8 272.8L930.7 270.8L930.6 268.8L930.6 266.8L930.6 264.8L930.6 262.8L930.6 260.8L930.6 258.8L930.6 256.8L930.6 254.8L930.6 252.8L930.7 250.8L930.7 248.8L930.8 247.2L930.8 244.8L930.9 242.8L930.9 240.8L931.0 238.8L931.0 236.8L931.1 234.8L931.1 232.8L931.2 230.8L931.3 228.8L931.3 226.8L931.4 224.8L931.5 222.8L931.6 220.8L931.7 218.8L931.8 216.8L931.9 214.8L932.1 212.8L932.3 210.8L932.4 208.8L932.7 206.8L932.9 204.8L933.1 202.8L933.4 200.8L933.7 198.8L934.0 196.8L934.4 194.8L934.8 193.0L935.2 190.8L935.7 188.8L936.2 186.8L936.7 184.8L937.3 182.8L937.9 180.8L938.5 178.8L939.2 176.8L939.9 174.8L940.7 172.8L941.4 170.8L942.2 168.8L942.8 167.6L943.9 164.8L944.7 162.8L945.5 160.8L946.3 158.8L946.8 157.7L947.8 154.8L948.5 152.8L949.1 150.8L949.7 148.8L950.3 146.8L950.8 145.1L951.3 142.8L951.8 140.8L952.2 138.8L952.7 136.8L953.1 134.8L953.5 132.8L954.0 130.8L954.4 128.8L954.8 127.2L955.4 124.8L955.9 122.8L956.4 120.8L956.8 119.6L957.7 116.8L958.5 114.8L959.6 112.8L960.8 111.1Z" fill="#8080ff" fill-rule="evenodd"/>
<path d="M961.1 114.8L962.8 113.7L964.8 114.3L966.7 116.8L967.6 118.8L968.4 120.8L969.1 122.8L969.7 124.8L970.2 126.8L970.8 128.7L971.3 130.8L971.8 132.8L972.3 134.8L972.8 136.6L973.4 138.8L973.9 140.8L974.5 142.8L975.2 144.8L975.9 146.8L976.6 148.8L977.4 150.8L978.3 152.8L978.8 153.9L980.1 156.8L980.8 158.1L982.1 160.8L982.8 162.1L984.1 164.8L984.8 166.1L986.0 168.8L986.8 170.5L987.8 172.8L988.6 174.8L989.3 176.8L990.0 178.8L990.6 180.8L991.3 182.8L991.8 184.8L992.3 186.8L992.8 188.7L993.2 190.8L993.6 192.8L994.0 194.8L994.3 196.8L994.6 198.8L994.9 200.8L995.2 202.8L995.4 204.8L995.6 206.8L995.8 208.8L996.0 210.8L996.1 212.8L996.3 214.8L996.4 216.8L996.5 218.8L996.6 220.8L996.7 222.8L996.8 224.8L996.9 226.8L997.0 228.8L997.1 230.8L997.1 232.8L997.2 234.8L997.3 236.8L997.4 238.8L997.5 240.8L997.6 242.8L997.6 244.8L997.7 246.8L997.8 248.8L997.9 250.8L998.0 252.8L998.1 254.8L998.2 256.8L998.3 258.8L998.4 260.8L998.5 262.8L998.6 264.8L998.6 266.8L998.6 268.8L998.7 270.8L998.6 272.8L998.6 274.8L998.5 276.8L998.4 278.8L998.2 280.8L998.0 282.8L997.7 284.8L997.4 286.8L997.0 288.8L996.8 290.2L996.2 292.8L995.7 294.8L995.2 296.8L994.8 298.2L994.0 300.8L993.4 302.8L992.8 304.6L992.0 306.8L991.3 308.8L990.8 310.2L989.8 312.8L989.0 314.8L988.2 316.8L987.4 318.8L986.8 320.2L985.6 322.8L984.8 324.7L983.8 326.8L982.8 328.8L981.8 330.8L980.8 332.7L979.6 334.8L978.8 336.4L977.5 338.8L976.8 340.3L975.7 342.8L974.8 344.8L974.0 346.8L973.3 348.8L972.8 350.1L971.8 352.8L971.1 354.8L970.4 356.8L969.6 358.8L968.8 360.8L967.7 362.8L966.8 364.5L964.8 365.7L963.6 364.8L962.0 362.8L961.0 360.8L960.3 358.8L959.6 356.8L959.0 354.8L958.4 352.8L957.8 350.8L957.2 348.8L956.8 347.0L956.1 344.8L955.4 342.8L954.8 340.8L954.1 338.8L953.2 336.8L952.8 335.6L951.2 332.8L950.0 330.8L948.8 329.1L946.9 326.8L945.2 324.8L943.7 322.8L942.8 321.5L941.2 318.8L940.2 316.8L939.4 314.8L938.8 313.0L938.1 310.8L937.5 308.8L937.0 306.8L936.5 304.8L936.1 302.8L935.7 300.8L935.3 298.8L934.9 296.8L934.6 294.8L934.3 292.8L934.0 290.8L933.7 288.8L933.5 286.8L933.3 284.8L933.1 282.8L932.9 280.8L932.8 279.1L932.6 276.8L932.5 274.8L932.4 272.8L932.3 270.8L932.2 268.8L932.2 266.8L932.1 264.8L932.1 262.8L932.1 260.8L932.1 258.8L932.1 256.8L932.1 254.8L932.1 252.8L932.1 250.8L932.2 248.8L932.2 246.8L932.2 244.8L932.3 242.8L932.3 240.8L932.4 238.8L932.4 236.8L932.4 234.8L932.5 232.8L932.6 230.8L932.6 228.8L932.7 226.8L932.8 224.8L932.8 222.8L932.9 220.8L933.0 218.8L933.1 216.8L933.2 214.8L933.4 212.8L933.5 210.8L933.7 208.8L933.9 206.8L934.1 204.8L934.4 202.8L934.7 200.8L935.0 198.8L935.3 196.8L935.6 194.8L936.0 192.8L936.5 190.8L936.9 188.8L937.4 186.8L938.0 184.8L938.5 182.8L939.1 180.8L939.8 178.8L940.5 176.8L941.2 174.8L941.9 172.8L942.8 170.8L943.5 168.8L944.4 166.8L945.2 164.8L946.0 162.8L946.8 160.9L947.5 158.8L948.3 156.8L948.8 155.5L949.6 152.8L950.2 150.8L950.8 149.1L951.4 146.8L951.9 144.8L952.4 142.8L952.8 141.3L953.3 138.8L953.8 136.8L954.2 134.8L954.7 132.8L955.1 130.8L955.6 128.8L956.1 126.8L956.6 124.8L957.2 122.8L957.9 120.8L958.7 118.8L959.7 116.8L960.8 115.1Z" fill="#7575ff" fill-rule="evenodd"/>
<path d="M961.2 118.8L962.8 117.7L964.8 118.3L966.5 120.8L967.4 122.8L968.2 124.8L968.8 126.3L969.5 128.8L970.0 130.8L970.6 132.8L971.1 134.8L971.7 136.8L972.2 138.8L972.8 140.7L973.4 142.8L974.0 144.8L974.7 146.8L975.4 148.8L976.2 150.8L976.8 152.2L977.9 154.8L978.8 156.6L979.8 158.8L980.8 160.7L981.8 162.8L982.8 164.7L983.8 166.8L984.7 168.8L985.7 170.8L986.5 172.8L987.3 174.8L988.1 176.8L988.8 178.7L989.5 180.8L990.1 182.8L990.7 184.8L991.2 186.8L991.7 188.8L992.2 190.8L992.5 192.8L992.9 194.8L993.3 196.8L993.6 198.8L993.9 200.8L994.1 202.8L994.4 204.8L994.6 206.8L994.7 208.8L994.9 210.8L995.1 212.8L995.2 214.8L995.4 216.8L995.5 218.8L995.6 220.8L995.7 222.8L995.8 224.8L995.8 226.8L995.9 228.8L996.0 230.8L996.0 232.8L996.1 234.8L996.2 236.8L996.2 238.8L996.3 240.8L996.3 242.8L996.4 244.8L996.5 246.8L996.5 248.8L996.6 250.8L996.7 252.8L996.7 254.8L996.8 256.8L996.9 258.8L996.9 260.8L997.0 262.8L997.0 264.8L997.0 266.8L997.0 268.8L997.0 270.8L996.9 272.8L996.9 274.8L996.7 276.8L996.6 278.8L996.3 280.8L996.1 282.8L995.8 284.8L995.4 286.8L995.0 288.8L994.8 290.0L994.1 292.8L993.6 294.8L993.0 296.8L992.4 298.8L991.8 300.8L991.1 302.8L990.5 304.8L989.8 306.8L989.0 308.8L988.3 310.8L987.5 312.8L986.8 314.7L985.9 316.8L985.0 318.8L984.2 320.8L983.3 322.8L982.8 323.9L981.3 326.8L980.8 327.9L979.3 330.8L978.8 331.8L977.3 334.8L976.8 335.8L975.5 338.8L974.8 340.4L973.9 342.8L973.1 344.8L972.4 346.8L971.7 348.8L971.0 350.8L970.3 352.8L969.5 354.8L968.8 356.7L967.5 358.8L966.8 360.2L965.5 360.8L962.8 359.5L961.5 356.8L960.8 355.2L960.0 352.8L959.4 350.8L958.8 348.8L958.2 346.8L957.6 344.8L957.1 342.8L956.8 341.6L955.9 338.8L955.2 336.8L954.8 335.4L953.7 332.8L952.8 330.8L951.7 328.8L950.8 327.1L949.2 324.8L947.7 322.8L946.8 321.6L944.8 318.8L943.5 316.8L942.8 315.5L941.5 312.8L940.8 311.1L940.0 308.8L939.3 306.8L938.8 304.9L938.2 302.8L937.8 300.8L937.3 298.8L936.9 296.8L936.5 294.8L936.2 292.8L935.9 290.8L935.6 288.8L935.3 286.8L935.0 284.8L934.8 282.8L934.6 280.8L934.4 278.8L934.2 276.8L934.1 274.8L933.9 272.8L933.8 270.8L933.7 268.8L933.7 266.8L933.6 264.8L933.6 262.8L933.5 260.8L933.5 258.8L933.5 256.8L933.5 254.8L933.5 252.8L933.5 250.8L933.5 248.8L933.6 246.8L933.6 244.8L933.6 242.8L933.6 240.8L933.7 238.8L933.7 236.8L933.7 234.8L933.8 232.8L933.8 230.8L933.9 228.8L933.9 226.8L934.0 224.8L934.0 222.8L934.1 220.8L934.2 218.8L934.3 216.8L934.4 214.8L934.6 212.8L934.7 210.8L934.9 208.8L935.1 206.8L935.3 204.8L935.5 202.8L935.8 200.8L936.1 198.8L936.4 196.8L936.8 195.1L937.2 192.8L937.6 190.8L938.1 188.8L938.6 186.8L939.1 184.8L939.7 182.8L940.3 180.8L940.8 179.6L941.7 176.8L942.4 174.8L943.2 172.8L944.0 170.8L944.8 168.9L945.6 166.8L946.4 164.8L947.2 162.8L947.9 160.8L948.7 158.8L949.4 156.8L950.1 154.8L950.7 152.8L951.3 150.8L951.9 148.8L952.4 146.8L952.8 145.6L953.5 142.8L953.9 140.8L954.4 138.8L954.8 137.3L955.4 134.8L955.8 132.8L956.3 130.8L956.8 129.1L957.5 126.8L958.1 124.8L958.8 122.9L959.9 120.8L960.8 119.2Z" fill="#6b6bff" fill-rule="evenodd"/>
<path d="M961.4 122.8L962.8 121.7L964.8 122.4L966.3 124.8L967.3 126.8L968.0 128.8L968.7 130.8L969.3 132.8L969.9 134.8L970.5 136.8L971.1 138.8L971.7 140.8L972.3 142.8L972.8 144.3L973.6 146.8L974.3 148.8L974.8 150.0L975.9 152.8L976.7 154.8L977.7 156.8L978.6 158.8L979.6 160.8L980.6 162.8L981.6 164.8L982.6 166.8L983.6 168.8L984.5 170.8L985.4 172.8L986.2 174.8L986.8 176.3L987.7 178.8L988.4 180.8L988.8 182.0L989.6 184.8L990.2 186.8L990.6 188.8L991.1 190.8L991.6 192.8L991.9 194.8L992.3 196.8L992.6 198.8L992.9 200.8L993.2 202.8L993.4 204.8L993.6 206.8L993.8 208.8L994.0 210.8L994.1 212.8L994.3 214.8L994.4 216.8L994.5 218.8L994.6 220.8L994.7 222.8L994.7 224.8L994.8 226.8L994.9 228.8L994.9 230.8L995.0 232.8L995.0 234.8L995.1 236.8L995.1 238.8L995.2 240.8L995.2 242.8L995.3 244.8L995.3 246.8L995.4 248.8L995.4 250.8L995.5 252.8L995.5 254.8L995.5 256.8L995.6 258.8L995.6 260.8L995.6 262.8L995.6 264.8L995.6 266.8L995.5 268.8L995.4 270.8L995.3 272.8L995.2 274.8L995.0 276.8L994.8 278.8L994.6 280.8L994.3 282.8L993.9 284.8L993.5 286.8L993.1 288.8L992.8 290.3L992.1 292.8L991.6 294.8L991.0 296.8L990.4 298.8L989.8 300.8L989.1 302.8L988.4 304.8L987.7 306.8L987.0 308.8L986.2 310.8L985.4 312.8L984.8 314.4L983.8 316.8L982.9 318.8L982.0 320.8L981.0 322.8L980.1 324.8L979.1 326.8L978.1 328.8L977.1 330.8L976.2 332.8L975.4 334.8L974.8 336.3L973.8 338.8L973.1 340.8L972.4 342.8L971.7 344.8L970.9 346.8L970.2 348.8L969.4 350.8L968.8 352.5L967.4 354.8L966.8 355.9L964.9 356.8L962.8 355.0L961.8 352.8L961.0 350.8L960.3 348.8L959.7 346.8L959.1 344.8L958.8 343.6L958.0 340.8L957.4 338.8L956.8 336.8L956.2 334.8L955.5 332.8L954.8 330.8L954.0 328.8L953.1 326.8L952.0 324.8L950.9 322.8L949.6 320.8L948.8 319.6L946.8 316.8L945.5 314.8L944.8 313.5L943.4 310.8L942.8 309.5L941.7 306.8L941.0 304.8L940.4 302.8L939.8 300.8L939.3 298.8L938.9 296.8L938.4 294.8L938.0 292.8L937.7 290.8L937.3 288.8L937.0 286.8L936.8 284.9L936.5 282.8L936.2 280.8L936.0 278.8L935.8 276.8L935.7 274.8L935.5 272.8L935.4 270.8L935.3 268.8L935.2 266.8L935.1 264.8L935.0 262.8L935.0 260.8L935.0 258.8L934.9 256.8L934.9 254.8L934.9 252.8L934.9 250.8L934.9 248.8L934.9 246.8L934.9 244.8L934.9 242.8L934.9 240.8L934.9 238.8L935.0 236.8L935.0 234.8L935.0 232.8L935.0 230.8L935.1 228.8L935.1 226.8L935.1 224.8L935.2 222.8L935.3 220.8L935.3 218.8L935.4 216.8L935.5 214.8L935.6 212.8L935.8 210.8L936.0 208.8L936.2 206.8L936.4 204.8L936.6 202.8L936.9 200.8L937.2 198.8L937.5 196.8L937.9 194.8L938.3 192.8L938.7 190.8L939.2 188.8L939.7 186.8L940.2 184.8L940.8 183.1L941.5 180.8L942.1 178.8L942.8 177.0L943.6 174.8L944.3 172.8L944.8 171.7L945.9 168.8L946.7 166.8L947.5 164.8L948.3 162.8L948.8 161.6L949.8 158.8L950.5 156.8L951.1 154.8L951.8 152.8L952.4 150.8L952.8 149.4L953.5 146.8L954.0 144.8L954.5 142.8L955.0 140.8L955.5 138.8L956.0 136.8L956.5 134.8L957.1 132.8L957.7 130.8L958.3 128.8L958.8 127.4L960.0 124.8L960.8 123.4Z" fill="#6161ff" fill-rule="evenodd"/>
<path d="M961.7 126.8L962.8 125.9L964.8 126.7L966.1 128.8L966.8 129.9L967.9 132.8L968.6 134.8L969.2 136.8L969.9 138.8L970.5 140.8L971.2 142.8L971.8 144.8L972.5 146.8L973.2 148.8L974.0 150.8L974.8 152.8L975.6 154.8L976.5 156.8L977.5 158.8L978.4 160.8L979.4 162.8L980.4 164.8L981.4 166.8L982.4 168.8L983.3 170.8L984.2 172.8L984.8 174.0L985.9 176.8L986.6 178.8L987.4 180.8L988.0 182.8L988.6 184.8L989.2 186.8L989.7 188.8L990.2 190.8L990.6 192.8L991.0 194.8L991.3 196.8L991.7 198.8L992.0 200.8L992.2 202.8L992.5 204.8L992.7 206.8L992.9 208.8L993.1 210.8L993.2 212.8L993.4 214.8L993.5 216.8L993.6 218.8L993.7 220.8L993.8 222.8L993.8 224.8L993.9 226.8L993.9 228.8L994.0 230.8L994.0 232.8L994.1 234.8L994.1 236.8L994.1 238.8L994.2 240.8L994.2 242.8L994.2 244.8L994.2 246.8L994.3 248.8L994.3 250.8L994.3 252.8L994.3 254.8L994.3 256.8L994.3 258.8L994.3 260.8L994.3 262.8L994.2 264.8L994.1 266.8L994.1 268.8L993.9 270.8L993.8 272.8L993.6 274.8L993.4 276.8L993.2 278.8L992.9 280.8L992.5 282.8L992.2 284.8L991.7 286.8L991.3 288.8L990.8 290.8L990.3 292.8L989.7 294.8L989.1 296.8L988.8 298.0L987.9 300.8L987.2 302.8L986.8 304.0L985.8 306.8L985.0 308.8L984.2 310.8L983.4 312.8L982.8 314.4L981.7 316.8L980.8 318.8L979.9 320.8L978.9 322.8L978.0 324.8L977.1 326.8L976.2 328.8L975.4 330.8L974.8 332.2L973.8 334.8L973.1 336.8L972.4 338.8L971.7 340.8L970.9 342.8L970.2 344.8L969.4 346.8L968.8 348.4L967.4 350.8L966.8 351.9L964.8 352.7L963.0 350.8L962.0 348.8L961.2 346.8L960.8 345.6L959.9 342.8L959.3 340.8L958.8 338.8L958.2 336.8L957.6 334.8L957.0 332.8L956.4 330.8L955.7 328.8L955.0 326.8L954.1 324.8L953.2 322.8L952.2 320.8L951.1 318.8L949.8 316.8L948.8 315.1L947.3 312.8L946.1 310.8L945.1 308.8L944.2 306.8L943.3 304.8L942.8 303.3L941.9 300.8L941.4 298.8L940.8 296.8L940.3 294.8L939.9 292.8L939.5 290.8L939.1 288.8L938.8 286.8L938.4 284.8L938.2 282.8L937.9 280.8L937.7 278.8L937.4 276.8L937.3 274.8L937.1 272.8L936.9 270.8L936.8 268.8L936.7 266.8L936.6 264.8L936.5 262.8L936.4 260.8L936.4 258.8L936.3 256.8L936.3 254.8L936.3 252.8L936.2 250.8L936.2 248.8L936.2 246.8L936.2 244.8L936.2 242.8L936.1 240.8L936.1 238.8L936.1 236.8L936.1 234.8L936.1 232.8L936.2 230.8L936.2 228.8L936.2 226.8L936.2 224.8L936.3 222.8L936.3 220.8L936.4 218.8L936.5 216.8L936.6 214.8L936.7 212.8L936.9 210.8L937.0 208.8L937.2 206.8L937.4 204.8L937.6 202.8L937.9 200.8L938.2 198.8L938.5 196.8L938.9 194.8L939.3 192.8L939.7 190.8L940.2 188.8L940.8 186.8L941.3 184.8L941.9 182.8L942.5 180.8L943.2 178.8L943.9 176.8L944.7 174.8L945.4 172.8L946.2 170.8L946.8 169.4L947.8 166.8L948.6 164.8L949.3 162.8L950.1 160.8L950.8 159.0L951.5 156.8L952.2 154.8L952.8 152.9L953.4 150.8L954.0 148.8L954.5 146.8L955.1 144.8L955.6 142.8L956.2 140.8L956.7 138.8L957.3 136.8L957.9 134.8L958.5 132.8L959.3 130.8L960.2 128.8L960.8 127.7L961.7 126.8Z" fill="#5757ff" fill-rule="evenodd"/>
<path d="M962.1 130.8L964.3 130.8L965.9 132.8L966.8 134.2L967.8 136.8L968.6 138.8L969.3 140.8L969.9 142.8L970.7 144.8L971.4 146.8L972.1 148.8L972.8 150.5L973.7 152.8L974.5 154.8L975.4 156.8L976.3 158.8L977.3 160.8L978.3 162.8L979.3 164.8L980.3 166.8L981.3 168.8L982.2 170.8L982.8 171.9L984.0 174.8L984.8 176.6L985.6 178.8L986.4 180.8L986.8 182.1L987.6 184.8L988.2 186.8L988.7 188.8L989.2 190.8L989.7 192.8L990.1 194.8L990.4 196.8L990.8 198.7L991.1 200.8L991.4 202.8L991.6 204.8L991.8 206.8L992.0 208.8L992.2 210.8L992.4 212.8L992.5 214.8L992.6 216.8L992.7 218.8L992.8 220.8L992.9 222.8L992.9 224.8L993.0 226.8L993.0 228.8L993.1 230.8L993.1 232.8L993.1 234.8L993.2 236.8L993.2 238.8L993.2 240.8L993.2 242.8L993.2 244.8L993.2 246.8L993.2 248.8L993.2 250.8L993.2 252.8L993.2 254.8L993.1 256.8L993.1 258.8L993.0 260.8L993.0 262.8L992.9 264.8L992.8 266.8L992.7 268.8L992.5 270.8L992.3 272.8L992.1 274.8L991.9 276.8L991.6 278.8L991.3 280.8L990.9 282.8L990.5 284.8L990.1 286.8L989.6 288.8L989.1 290.8L988.5 292.8L988.0 294.8L987.4 296.8L986.8 298.7L986.1 300.8L985.4 302.8L984.8 304.6L984.0 306.8L983.2 308.8L982.4 310.8L981.5 312.8L980.8 314.6L979.8 316.8L978.9 318.8L978.0 320.8L977.1 322.8L976.2 324.8L975.4 326.8L974.8 328.4L973.9 330.8L973.1 332.8L972.4 334.8L971.7 336.8L971.0 338.8L970.2 340.8L969.4 342.8L968.8 344.5L967.4 346.8L966.8 347.9L964.8 348.6L963.2 346.8L962.2 344.8L961.4 342.8L960.8 341.1L960.1 338.8L959.5 336.8L958.9 334.8L958.3 332.8L957.7 330.8L957.1 328.8L956.8 327.6L955.7 324.8L955.0 322.8L954.2 320.8L953.3 318.8L952.8 317.7L951.2 314.8L950.0 312.8L948.8 310.8L947.7 308.8L946.8 307.0L945.7 304.8L944.8 302.8L944.1 300.8L943.4 298.8L942.8 296.8L942.2 294.8L941.7 292.8L941.3 290.8L940.9 288.8L940.5 286.8L940.1 284.8L939.8 282.8L939.5 280.8L939.3 278.8L939.0 276.8L938.8 274.8L938.6 272.8L938.5 270.8L938.3 268.8L938.2 266.8L938.0 264.8L937.9 262.8L937.8 260.8L937.8 258.8L937.7 256.8L937.6 254.8L937.6 252.8L937.5 250.8L937.5 248.8L937.4 246.8L937.4 244.8L937.4 242.8L937.3 240.8L937.3 238.8L937.3 236.8L937.3 234.8L937.2 232.8L937.2 230.8L937.2 228.8L937.2 226.8L937.3 224.8L937.3 222.8L937.3 220.8L937.4 218.8L937.5 216.8L937.6 214.8L937.7 212.8L937.8 210.8L938.0 208.8L938.1 206.8L938.4 204.8L938.6 202.8L938.9 200.8L939.2 198.8L939.5 196.8L939.9 194.8L940.3 192.8L940.7 190.8L941.2 188.8L941.7 186.8L942.3 184.8L942.8 183.3L943.5 180.8L944.2 178.8L944.8 177.3L945.7 174.8L946.5 172.8L947.2 170.8L948.0 168.8L948.8 167.0L949.6 164.8L950.4 162.8L951.1 160.8L951.8 158.8L952.5 156.8L953.2 154.8L953.8 152.8L954.4 150.8L954.8 149.6L955.6 146.8L956.2 144.8L956.7 142.8L957.4 140.8L958.0 138.8L958.6 136.8L959.5 134.8L960.4 132.8L962.1 130.8Z" fill="#4c4cff" fill-rule="evenodd"/>
<path d="M962.4 134.8L964.8 135.2L965.8 136.8L966.8 138.3L967.8 140.8L968.7 142.8L969.4 144.8L970.2 146.8L970.8 148.2L971.8 150.8L972.6 152.8L973.4 154.8L974.3 156.8L975.3 158.8L976.2 160.8L976.8 161.9L978.2 164.8L978.8 165.9L980.2 168.8L980.8 169.9L982.1 172.8L982.8 174.3L983.9 176.8L984.6 178.8L985.4 180.8L986.1 182.8L986.7 184.8L987.3 186.8L987.9 188.8L988.3 190.8L988.8 192.7L989.2 194.8L989.6 196.8L989.9 198.8L990.3 200.8L990.5 202.8L990.8 204.8L991.0 206.8L991.2 208.8L991.4 210.8L991.5 212.8L991.7 214.8L991.8 216.8L991.9 218.8L992.0 220.8L992.0 222.8L992.1 224.8L992.2 226.8L992.2 228.8L992.2 230.8L992.2 232.8L992.3 234.8L992.3 236.8L992.3 238.8L992.3 240.8L992.3 242.8L992.2 244.8L992.2 246.8L992.2 248.8L992.2 250.8L992.1 252.8L992.1 254.8L992.0 256.8L992.0 258.8L991.9 260.8L991.8 262.8L991.7 264.8L991.5 266.8L991.3 268.8L991.2 270.8L990.9 272.8L990.7 274.8L990.4 276.8L990.1 278.8L989.7 280.8L989.3 282.8L988.9 284.8L988.4 286.8L988.0 288.8L987.4 290.8L986.9 292.8L986.3 294.8L985.7 296.8L985.0 298.8L984.4 300.8L983.7 302.8L982.9 304.8L982.2 306.8L981.4 308.8L980.8 310.3L979.7 312.8L978.8 314.8L978.0 316.8L977.1 318.8L976.3 320.8L975.5 322.8L974.8 324.6L974.0 326.8L973.2 328.8L972.8 330.1L971.8 332.8L971.1 334.8L970.3 336.8L969.5 338.8L968.8 340.8L967.5 342.8L966.8 344.0L964.8 344.6L963.3 342.8L962.3 340.8L961.5 338.8L960.8 336.8L960.1 334.8L959.6 332.8L959.0 330.8L958.4 328.8L957.7 326.8L957.1 324.8L956.8 323.6L955.7 320.8L955.0 318.8L954.2 316.8L953.3 314.8L952.8 313.7L951.2 310.8L950.1 308.8L949.1 306.8L948.0 304.8L947.1 302.8L946.2 300.8L945.4 298.8L944.8 296.9L944.1 294.8L943.5 292.8L943.0 290.8L942.6 288.8L942.2 286.8L941.8 284.8L941.4 282.8L941.1 280.8L940.8 278.8L940.6 276.8L940.3 274.8L940.1 272.8L939.9 270.8L939.8 268.8L939.6 266.8L939.5 264.8L939.3 262.8L939.2 260.8L939.1 258.8L939.0 256.8L938.9 254.8L938.9 252.8L938.8 250.8L938.7 248.8L938.6 246.8L938.6 244.8L938.5 242.8L938.5 240.8L938.4 238.8L938.4 236.8L938.3 234.8L938.3 232.8L938.3 230.8L938.2 228.8L938.2 226.8L938.2 224.8L938.3 222.8L938.3 220.8L938.3 218.8L938.4 216.8L938.5 214.8L938.6 212.8L938.7 210.8L938.9 208.8L939.1 206.8L939.3 204.8L939.5 202.8L939.8 200.8L940.1 198.8L940.4 196.8L940.8 195.0L941.2 192.8L941.6 190.8L942.1 188.8L942.7 186.8L943.2 184.8L943.8 182.8L944.5 180.8L945.2 178.8L945.9 176.8L946.7 174.8L947.4 172.8L948.2 170.8L948.8 169.5L949.8 166.8L950.6 164.8L951.3 162.8L952.1 160.8L952.8 158.9L953.5 156.8L954.2 154.8L954.8 153.0L955.5 150.8L956.1 148.8L956.7 146.8L957.4 144.8L958.1 142.8L958.7 140.8L959.6 138.8L960.6 136.8L962.4 134.8Z" fill="#4242ff" fill-rule="evenodd"/>
<path d="M962.5 138.8L964.8 139.2L965.8 140.8L966.8 142.1L968.0 144.8L968.8 146.4L969.8 148.8L970.6 150.8L971.5 152.8L972.3 154.8L973.3 156.8L974.2 158.8L974.8 160.0L976.1 162.8L976.8 164.1L978.2 166.8L978.8 168.0L980.2 170.8L980.8 172.1L982.0 174.8L982.8 176.5L983.7 178.8L984.5 180.8L985.2 182.8L985.8 184.8L986.4 186.8L986.8 188.1L987.5 190.8L988.0 192.8L988.4 194.8L988.8 196.8L989.1 198.8L989.4 200.8L989.7 202.8L990.0 204.8L990.2 206.8L990.4 208.8L990.6 210.8L990.7 212.8L990.9 214.8L991.0 216.8L991.1 218.8L991.2 220.8L991.2 222.8L991.3 224.8L991.3 226.8L991.4 228.8L991.4 230.8L991.4 232.8L991.4 234.8L991.4 236.8L991.4 238.8L991.4 240.8L991.3 242.8L991.3 244.8L991.3 246.8L991.2 248.8L991.2 250.8L991.1 252.8L991.0 254.8L990.9 256.8L990.8 258.8L990.7 260.8L990.6 262.8L990.4 264.8L990.3 266.8L990.1 268.8L989.8 270.8L989.6 272.8L989.3 274.8L989.0 276.8L988.6 278.8L988.3 280.8L987.8 282.8L987.4 284.8L986.9 286.8L986.4 288.8L985.9 290.8L985.3 292.8L984.8 294.6L984.1 296.8L983.4 298.8L982.8 300.7L982.0 302.8L981.3 304.8L980.8 306.1L979.7 308.8L978.8 310.8L978.0 312.8L977.2 314.8L976.4 316.8L975.6 318.8L974.8 320.8L974.1 322.8L973.4 324.8L972.8 326.5L971.9 328.8L971.2 330.8L970.8 332.1L969.7 334.8L968.9 336.8L967.7 338.8L966.8 340.3L964.8 340.8L963.3 338.8L962.3 336.8L961.5 334.8L960.8 332.8L960.2 330.8L959.6 328.8L959.0 326.8L958.3 324.8L957.7 322.8L957.1 320.8L956.4 318.8L955.7 316.8L954.9 314.8L954.1 312.8L953.2 310.8L952.3 308.8L951.3 306.8L950.8 305.8L949.3 302.8L948.8 301.7L947.5 298.8L946.8 297.0L946.0 294.8L945.4 292.8L944.8 290.8L944.3 288.8L943.8 286.8L943.4 284.8L943.0 282.8L942.8 281.3L942.4 278.8L942.1 276.8L941.8 274.8L941.6 272.8L941.4 270.8L941.2 268.8L941.0 266.8L940.9 264.8L940.7 262.8L940.6 260.8L940.4 258.8L940.3 256.8L940.2 254.8L940.1 252.8L940.0 250.8L939.9 248.8L939.8 246.8L939.7 244.8L939.6 242.8L939.5 240.8L939.5 238.8L939.4 236.8L939.3 234.8L939.3 232.8L939.2 230.8L939.2 228.8L939.2 226.8L939.2 224.8L939.2 222.8L939.2 220.8L939.2 218.8L939.3 216.8L939.4 214.8L939.5 212.8L939.6 210.8L939.7 208.8L939.9 206.8L940.1 204.8L940.4 202.8L940.7 200.8L941.0 198.8L941.3 196.8L941.7 194.8L942.1 192.8L942.5 190.8L943.0 188.8L943.6 186.8L944.1 184.8L944.8 182.9L945.4 180.8L946.1 178.8L946.8 177.1L947.6 174.8L948.4 172.8L949.2 170.8L950.0 168.8L950.8 166.9L951.5 164.8L952.3 162.8L952.8 161.6L953.8 158.8L954.5 156.8L955.2 154.8L955.9 152.8L956.6 150.8L957.3 148.8L958.0 146.8L958.7 144.8L959.7 142.8L960.6 140.8L962.5 138.8Z" fill="#3838ff" fill-rule="evenodd"/>
<path d="M962.4 142.8L964.8 143.0L966.1 144.8L967.4 146.8L968.4 148.8L969.4 150.8L970.3 152.8L971.2 154.8L972.2 156.8L972.8 158.0L974.1 160.8L974.8 162.1L976.1 164.8L976.8 166.1L978.1 168.8L978.8 170.0L980.1 172.8L980.8 174.2L981.9 176.8L982.8 178.8L983.6 180.8L984.3 182.8L984.8 184.3L985.6 186.8L986.1 188.8L986.7 190.8L987.1 192.8L987.6 194.8L988.0 196.8L988.3 198.8L988.6 200.8L988.9 202.8L989.2 204.8L989.4 206.8L989.7 208.8L989.8 210.8L990.0 212.8L990.1 214.8L990.2 216.8L990.3 218.8L990.4 220.8L990.5 222.8L990.5 224.8L990.5 226.8L990.6 228.8L990.6 230.8L990.6 232.8L990.6 234.8L990.5 236.8L990.5 238.8L990.5 240.8L990.4 242.8L990.4 244.8L990.3 246.8L990.3 248.8L990.2 250.8L990.1 252.8L990.0 254.8L989.9 256.8L989.8 258.8L989.6 260.8L989.4 262.8L989.3 264.8L989.1 266.8L988.8 268.8L988.6 270.8L988.3 272.8L988.0 274.8L987.6 276.8L987.2 278.8L986.8 280.8L986.4 282.8L985.9 284.8L985.4 286.8L984.9 288.8L984.3 290.8L983.8 292.8L983.1 294.8L982.8 296.0L981.8 298.8L981.1 300.8L980.4 302.8L979.6 304.8L978.8 306.8L978.1 308.8L977.3 310.8L976.8 312.1L975.8 314.8L975.0 316.8L974.3 318.8L973.5 320.8L972.8 322.8L972.1 324.8L971.4 326.8L970.8 328.6L969.9 330.8L969.1 332.8L968.0 334.8L966.8 336.7L964.8 337.0L963.1 334.8L962.2 332.8L961.5 330.8L960.8 328.9L960.1 326.8L959.5 324.8L958.9 322.8L958.3 320.8L957.6 318.8L957.0 316.8L956.3 314.8L955.6 312.8L954.9 310.8L954.0 308.8L953.1 306.8L952.2 304.8L951.3 302.8L950.8 301.6L949.5 298.8L948.8 297.1L947.9 294.8L947.2 292.8L946.8 291.5L946.0 288.8L945.5 286.8L945.0 284.8L944.6 282.8L944.2 280.8L943.9 278.8L943.6 276.8L943.3 274.8L943.0 272.8L942.8 270.8L942.6 268.8L942.4 266.8L942.2 264.8L942.0 262.8L941.9 260.8L941.7 258.8L941.6 256.8L941.4 254.8L941.3 252.8L941.2 250.8L941.0 248.8L940.9 246.8L940.8 244.8L940.7 242.8L940.6 240.8L940.5 238.8L940.4 236.8L940.3 234.8L940.3 232.8L940.2 230.8L940.1 228.8L940.1 226.8L940.1 224.8L940.1 222.8L940.1 220.8L940.1 218.8L940.2 216.8L940.2 214.8L940.3 212.8L940.4 210.8L940.6 208.8L940.8 207.1L941.0 204.8L941.2 202.8L941.5 200.8L941.8 198.8L942.1 196.8L942.5 194.8L942.9 192.8L943.4 190.8L943.9 188.8L944.4 186.8L945.0 184.8L945.7 182.8L946.3 180.8L946.8 179.6L947.8 176.8L948.6 174.8L949.3 172.8L950.1 170.8L950.8 169.2L951.7 166.8L952.5 164.8L953.3 162.8L954.0 160.8L954.8 158.8L955.5 156.8L956.3 154.8L956.8 153.4L957.8 150.8L958.6 148.8L959.5 146.8L960.5 144.8L962.4 142.8Z" fill="#2e2eff" fill-rule="evenodd"/>
<path d="M962.0 146.8L964.8 146.5L966.8 148.8L967.9 150.8L968.8 152.2L970.0 154.8L970.8 156.2L972.0 158.8L972.8 160.2L974.1 162.8L974.8 164.2L976.1 166.8L976.8 168.1L978.2 170.8L978.8 172.0L980.1 174.8L980.8 176.3L981.9 178.8L982.7 180.8L983.4 182.8L984.1 184.8L984.7 186.8L985.3 188.8L985.9 190.8L986.3 192.8L986.8 194.7L987.2 196.8L987.6 198.8L987.9 200.8L988.2 202.8L988.5 204.8L988.7 206.8L988.9 208.8L989.1 210.8L989.2 212.8L989.4 214.8L989.5 216.8L989.6 218.8L989.7 220.8L989.7 222.8L989.8 224.8L989.8 226.8L989.8 228.8L989.8 230.8L989.8 232.8L989.8 234.8L989.7 236.8L989.7 238.8L989.6 240.8L989.6 242.8L989.5 244.8L989.4 246.8L989.3 248.8L989.2 250.8L989.1 252.8L989.0 254.8L988.9 256.8L988.7 258.8L988.5 260.8L988.3 262.8L988.1 264.8L987.9 266.8L987.6 268.8L987.3 270.8L987.0 272.8L986.8 274.1L986.3 276.8L985.9 278.8L985.4 280.8L985.0 282.8L984.5 284.8L984.0 286.8L983.4 288.8L982.9 290.8L982.3 292.8L981.6 294.8L981.0 296.8L980.3 298.8L979.6 300.8L978.8 302.8L978.1 304.8L977.4 306.8L976.8 308.4L975.9 310.8L975.1 312.8L974.4 314.8L973.7 316.8L973.0 318.8L972.3 320.8L971.6 322.8L970.9 324.8L970.1 326.8L969.3 328.8L968.8 330.1L967.0 332.8L964.8 333.4L962.9 330.8L962.1 328.8L961.3 326.8L960.8 325.2L960.0 322.8L959.4 320.8L958.8 318.8L958.1 316.8L957.5 314.8L956.9 312.8L956.2 310.8L955.4 308.8L954.8 306.8L953.9 304.8L953.1 302.8L952.2 300.8L951.4 298.8L950.8 297.3L949.7 294.8L949.0 292.8L948.3 290.8L947.7 288.8L947.1 286.8L946.8 285.4L946.1 282.8L945.7 280.8L945.4 278.8L945.0 276.8L944.8 275.1L944.4 272.8L944.2 270.8L943.9 268.8L943.7 266.8L943.5 264.8L943.3 262.8L943.1 260.8L943.0 258.8L942.8 256.8L942.6 254.8L942.5 252.8L942.3 250.8L942.1 248.8L942.0 246.8L941.9 244.8L941.7 242.8L941.6 240.8L941.5 238.8L941.4 236.8L941.3 234.8L941.2 232.8L941.1 230.8L941.0 228.8L941.0 226.8L940.9 224.8L940.9 222.8L940.9 220.8L940.9 218.8L941.0 216.8L941.0 214.8L941.1 212.8L941.2 210.8L941.4 208.8L941.6 206.8L941.8 204.8L942.0 202.8L942.3 200.8L942.6 198.8L942.9 196.8L943.3 194.8L943.7 192.8L944.2 190.8L944.7 188.8L945.3 186.8L945.9 184.8L946.5 182.8L947.2 180.8L947.9 178.8L948.7 176.8L949.4 174.8L950.2 172.8L950.8 171.5L951.8 168.8L952.6 166.8L953.4 164.8L954.2 162.8L954.8 161.4L955.8 158.8L956.6 156.8L957.4 154.8L958.3 152.8L958.8 151.6L960.3 148.8L962.0 146.8Z" fill="#2424ff" fill-rule="evenodd"/>
<path d="M961.1 150.8L962.8 149.4L964.8 149.7L965.9 150.8L966.8 151.7L967.5 152.8L968.8 154.8L969.8 156.8L970.8 158.5L972.0 160.8L972.8 162.3L974.1 164.8L974.8 166.1L976.2 168.8L976.8 170.0L978.2 172.8L978.8 174.0L980.1 176.8L980.8 178.4L981.8 180.8L982.5 182.8L983.3 184.8L983.9 186.8L984.5 188.8L985.1 190.8L985.6 192.8L986.0 194.8L986.4 196.8L986.8 198.5L987.2 200.8L987.5 202.8L987.7 204.8L988.0 206.8L988.2 208.8L988.4 210.8L988.5 212.8L988.6 214.8L988.7 216.8L988.8 218.8L988.9 220.8L989.0 222.8L989.0 224.8L989.0 226.8L989.0 228.8L989.0 230.8L989.0 232.8L989.0 234.8L988.9 236.8L988.9 238.8L988.8 240.8L988.7 242.8L988.6 244.8L988.5 246.8L988.4 248.8L988.3 250.8L988.2 252.8L988.0 254.8L987.8 256.8L987.6 258.8L987.4 260.8L987.2 262.8L987.0 264.8L986.8 266.2L986.4 268.8L986.1 270.8L985.7 272.8L985.3 274.8L984.9 276.8L984.5 278.8L984.1 280.8L983.6 282.8L983.1 284.8L982.5 286.8L982.0 288.8L981.4 290.8L980.8 292.8L980.2 294.8L979.5 296.8L978.8 298.8L978.1 300.8L977.4 302.8L976.8 304.6L976.0 306.8L975.3 308.8L974.8 310.3L973.9 312.8L973.2 314.8L972.8 316.2L971.9 318.8L971.2 320.8L970.8 321.9L969.6 324.8L968.8 326.8L967.4 328.8L966.8 329.8L964.8 330.0L964.0 328.8L962.8 327.1L961.9 324.8L961.2 322.8L960.5 320.8L959.8 318.8L959.2 316.8L958.8 315.2L958.0 312.8L957.4 310.8L956.8 308.9L956.0 306.8L955.3 304.8L954.8 303.1L953.8 300.8L953.1 298.8L952.3 296.8L951.5 294.8L950.8 292.8L950.0 290.8L949.4 288.8L948.8 286.8L948.2 284.8L947.7 282.8L947.2 280.8L946.8 278.8L946.5 276.8L946.1 274.8L945.8 272.8L945.5 270.8L945.3 268.8L945.0 266.8L944.8 264.8L944.6 262.8L944.3 260.8L944.1 258.8L943.9 256.8L943.8 254.8L943.6 252.8L943.4 250.8L943.2 248.8L943.1 246.8L942.9 244.8L942.8 243.1L942.6 240.8L942.4 238.8L942.3 236.8L942.2 234.8L942.1 232.8L942.0 230.8L941.9 228.8L941.8 226.8L941.8 224.8L941.7 222.8L941.7 220.8L941.7 218.8L941.8 216.8L941.8 214.8L941.9 212.8L942.0 210.8L942.2 208.8L942.3 206.8L942.5 204.8L942.8 203.1L943.1 200.8L943.4 198.8L943.7 196.8L944.1 194.8L944.5 192.8L945.0 190.8L945.5 188.8L946.1 186.8L946.7 184.8L947.4 182.8L948.1 180.8L948.8 178.9L949.6 176.8L950.3 174.8L951.1 172.8L951.9 170.8L952.8 168.8L953.6 166.8L954.4 164.8L955.2 162.8L956.0 160.8L956.8 159.0L957.8 156.8L958.7 154.8L959.8 152.8L960.8 151.1Z" fill="#1919ff" fill-rule="evenodd"/>
<path d="M962.3 152.8L964.8 152.6L966.8 154.3L968.5 156.8L969.7 158.8L970.8 160.6L971.9 162.8L972.8 164.3L974.1 166.8L974.8 168.0L976.2 170.8L976.8 171.9L978.2 174.8L978.8 175.9L980.1 178.8L980.8 180.4L981.7 182.8L982.4 184.8L983.1 186.8L983.7 188.8L984.3 190.8L984.8 192.6L985.3 194.8L985.7 196.8L986.1 198.8L986.4 200.8L986.7 202.8L987.0 204.8L987.3 206.8L987.5 208.8L987.7 210.8L987.8 212.8L987.9 214.8L988.1 216.8L988.1 218.8L988.2 220.8L988.3 222.8L988.3 224.8L988.3 226.8L988.3 228.8L988.3 230.8L988.2 232.8L988.2 234.8L988.1 236.8L988.1 238.8L988.0 240.8L987.9 242.8L987.8 244.8L987.7 246.8L987.5 248.8L987.4 250.8L987.2 252.8L987.0 254.8L986.8 256.8L986.6 258.8L986.3 260.8L986.1 262.8L985.8 264.8L985.5 266.8L985.2 268.8L984.8 270.8L984.4 272.8L984.0 274.8L983.6 276.8L983.2 278.8L982.8 280.6L982.2 282.8L981.7 284.8L981.1 286.8L980.8 288.1L980.0 290.8L979.4 292.8L978.8 294.7L978.1 296.8L977.4 298.8L976.8 300.8L976.1 302.8L975.4 304.8L974.8 306.8L974.1 308.8L973.5 310.8L972.8 312.8L972.1 314.8L971.4 316.8L970.8 318.7L969.9 320.8L969.1 322.8L967.9 324.8L966.8 326.5L964.8 326.6L963.5 324.8L962.8 323.7L961.7 320.8L960.9 318.8L960.3 316.8L959.7 314.8L959.1 312.8L958.4 310.8L957.8 308.8L957.2 306.8L956.8 305.3L955.9 302.8L955.2 300.8L954.8 299.4L953.8 296.8L953.1 294.8L952.4 292.8L951.7 290.8L951.0 288.8L950.4 286.8L949.8 284.8L949.2 282.8L948.8 280.8L948.3 278.8L947.9 276.8L947.5 274.8L947.2 272.8L946.9 270.8L946.6 268.8L946.3 266.8L946.0 264.8L945.8 262.8L945.5 260.8L945.3 258.8L945.1 256.8L944.9 254.8L944.7 252.8L944.5 250.8L944.3 248.8L944.1 246.8L943.9 244.8L943.7 242.8L943.5 240.8L943.4 238.8L943.2 236.8L943.1 234.8L942.9 232.8L942.8 230.8L942.7 228.8L942.6 226.8L942.6 224.8L942.5 222.8L942.5 220.8L942.5 218.8L942.5 216.8L942.6 214.8L942.7 212.8L942.8 211.3L942.9 208.8L943.1 206.8L943.3 204.8L943.5 202.8L943.8 200.8L944.1 198.8L944.5 196.8L944.8 195.4L945.3 192.8L945.8 190.8L946.3 188.8L946.8 187.4L947.5 184.8L948.2 182.8L948.8 181.2L949.6 178.8L950.4 176.8L951.2 174.8L952.0 172.8L952.8 171.0L953.7 168.8L954.5 166.8L955.4 164.8L956.2 162.8L956.8 161.6L958.1 158.8L958.8 157.3L960.3 154.8L962.3 152.8Z" fill="#0f0fff" fill-rule="evenodd"/>
<path d="M960.8 156.8L962.8 155.2L964.8 155.2L966.8 156.8L968.3 158.8L969.6 160.8L970.8 162.7L972.0 164.8L972.8 166.2L974.2 168.8L974.8 169.9L976.3 172.8L977.3 174.8L978.3 176.8L978.8 177.8L980.1 180.8L980.8 182.5L981.6 184.8L982.3 186.8L982.8 188.2L983.5 190.8L984.1 192.8L984.5 194.8L985.0 196.8L985.4 198.8L985.7 200.8L986.0 202.8L986.3 204.8L986.6 206.8L986.8 208.7L987.0 210.8L987.1 212.8L987.3 214.8L987.4 216.8L987.4 218.8L987.5 220.8L987.5 222.8L987.6 224.8L987.6 226.8L987.6 228.8L987.5 230.8L987.5 232.8L987.4 234.8L987.4 236.8L987.3 238.8L987.2 240.8L987.1 242.8L986.9 244.8L986.8 246.8L986.6 248.8L986.4 250.8L986.2 252.8L986.0 254.8L985.8 256.8L985.5 258.8L985.3 260.8L985.0 262.8L984.8 264.2L984.3 266.8L984.0 268.8L983.6 270.8L983.2 272.8L982.8 274.8L982.3 276.8L981.8 278.8L981.4 280.8L980.8 282.8L980.3 284.8L979.8 286.8L979.2 288.8L978.8 290.3L978.0 292.8L977.4 294.8L976.8 296.8L976.2 298.8L975.6 300.8L974.9 302.8L974.3 304.8L973.6 306.8L973.0 308.8L972.3 310.8L971.7 312.8L971.0 314.8L970.2 316.8L969.4 318.8L968.8 320.4L967.1 322.8L964.8 323.3L963.1 320.8L962.2 318.8L961.4 316.8L960.8 315.0L960.1 312.8L959.5 310.8L958.9 308.8L958.3 306.8L957.7 304.8L957.1 302.8L956.4 300.8L955.8 298.8L955.2 296.8L954.8 295.5L953.8 292.8L953.2 290.8L952.8 289.4L951.9 286.8L951.3 284.8L950.8 282.8L950.2 280.8L949.7 278.8L949.3 276.8L948.9 274.8L948.5 272.8L948.2 270.8L947.8 268.8L947.5 266.8L947.2 264.8L947.0 262.8L946.8 261.1L946.5 258.8L946.2 256.8L946.0 254.8L945.7 252.8L945.5 250.8L945.3 248.8L945.1 246.8L944.9 244.8L944.6 242.8L944.4 240.8L944.3 238.8L944.1 236.8L943.9 234.8L943.8 232.8L943.6 230.8L943.5 228.8L943.4 226.8L943.3 224.8L943.3 222.8L943.3 220.8L943.3 218.8L943.3 216.8L943.3 214.8L943.4 212.8L943.5 210.8L943.6 208.8L943.8 206.8L944.0 204.8L944.3 202.8L944.5 200.8L944.8 199.5L945.2 196.8L945.6 194.8L946.1 192.8L946.6 190.8L947.1 188.8L947.7 186.8L948.3 184.8L948.8 183.6L949.7 180.8L950.5 178.8L951.3 176.8L952.1 174.8L952.8 173.1L953.7 170.8L954.6 168.8L955.5 166.8L956.4 164.8L957.3 162.8L958.3 160.8L959.5 158.8L960.8 156.8Z" fill="#0505ff" fill-rule="evenodd"/>
<path d="M961.4 158.8L962.8 157.7L964.8 157.7L966.3 158.8L968.1 160.8L969.6 162.8L970.8 164.6L972.0 166.8L972.8 168.0L974.3 170.8L975.4 172.8L976.4 174.8L977.4 176.8L978.3 178.8L979.2 180.8L980.0 182.8L980.8 184.7L981.5 186.8L982.2 188.8L982.8 190.8L983.3 192.8L983.8 194.8L984.3 196.8L984.7 198.8L985.0 200.8L985.3 202.8L985.6 204.8L985.9 206.8L986.1 208.8L986.3 210.8L986.4 212.8L986.6 214.8L986.7 216.8L986.7 218.8L986.8 220.8L986.8 222.8L986.9 224.8L986.9 226.8L986.8 228.8L986.8 230.8L986.7 232.8L986.7 234.8L986.6 236.8L986.5 238.8L986.4 240.8L986.2 242.8L986.1 244.8L985.9 246.8L985.7 248.8L985.5 250.8L985.3 252.8L985.0 254.8L984.8 256.8L984.5 258.8L984.2 260.8L983.8 262.8L983.5 264.8L983.1 266.8L982.8 268.8L982.3 270.8L981.9 272.8L981.5 274.8L981.0 276.8L980.5 278.8L980.0 280.8L979.5 282.8L979.0 284.8L978.5 286.8L977.9 288.8L977.4 290.8L976.8 292.8L976.2 294.8L975.6 296.8L975.0 298.8L974.4 300.8L973.8 302.8L973.2 304.8L972.8 306.2L971.9 308.8L971.3 310.8L970.8 312.3L969.8 314.8L968.9 316.8L967.7 318.8L966.8 320.1L964.8 320.2L963.9 318.8L962.8 317.1L961.9 314.8L961.2 312.8L960.8 311.7L959.9 308.8L959.3 306.8L958.8 305.0L958.1 302.8L957.5 300.8L956.9 298.8L956.3 296.8L955.7 294.8L955.1 292.8L954.8 291.5L953.9 288.8L953.3 286.8L952.8 284.8L952.2 282.8L951.6 280.8L951.2 278.8L950.8 277.1L950.3 274.8L949.8 272.8L949.5 270.8L949.1 268.8L948.8 266.8L948.5 264.8L948.2 262.8L947.9 260.8L947.6 258.8L947.3 256.8L947.0 254.8L946.8 252.8L946.5 250.8L946.3 248.8L946.0 246.8L945.8 244.8L945.6 242.8L945.3 240.8L945.1 238.8L944.9 236.8L944.8 234.8L944.6 232.8L944.4 230.8L944.3 228.8L944.2 226.8L944.1 224.8L944.0 222.8L944.0 220.8L944.0 218.8L944.0 216.8L944.0 214.8L944.1 212.8L944.2 210.8L944.3 208.8L944.5 206.8L944.7 204.8L945.0 202.8L945.3 200.8L945.6 198.8L945.9 196.8L946.4 194.8L946.8 193.1L947.3 190.8L947.9 188.8L948.5 186.8L949.1 184.8L949.8 182.8L950.6 180.8L951.3 178.8L952.1 176.8L952.8 175.2L953.8 172.8L954.6 170.8L955.6 168.8L956.5 166.8L957.5 164.8L958.5 162.8L959.8 160.8L960.8 159.4Z" fill="#0600f9" fill-rule="evenodd"/>
<path d="M962.6 160.8L964.8 160.6L966.8 161.8L967.6 162.8L968.8 164.1L970.6 166.8L971.9 168.8L972.8 170.3L974.2 172.8L974.8 173.9L976.3 176.8L977.2 178.8L978.2 180.8L978.8 182.2L979.8 184.8L980.5 186.8L981.2 188.8L981.8 190.8L982.4 192.8L982.8 194.2L983.4 196.8L983.8 198.8L984.2 200.8L984.5 202.8L984.8 204.7L985.0 206.8L985.3 208.8L985.4 210.8L985.6 212.8L985.7 214.8L985.8 216.8L985.9 218.8L986.0 220.8L986.0 222.8L986.0 224.8L986.0 226.8L985.9 228.8L985.9 230.8L985.8 232.8L985.7 234.8L985.6 236.8L985.5 238.8L985.3 240.8L985.2 242.8L985.0 244.8L984.8 246.8L984.6 248.8L984.3 250.8L984.1 252.8L983.8 254.8L983.5 256.8L983.1 258.8L982.8 260.8L982.4 262.8L982.0 264.8L981.6 266.8L981.2 268.8L980.8 270.8L980.4 272.8L979.9 274.8L979.4 276.8L978.9 278.8L978.5 280.8L978.0 282.8L977.5 284.8L976.9 286.8L976.4 288.8L975.9 290.8L975.3 292.8L974.8 294.8L974.2 296.8L973.7 298.8L973.1 300.8L972.5 302.8L971.9 304.8L971.2 306.8L970.8 308.3L969.8 310.8L969.0 312.8L967.8 314.8L966.8 316.3L964.8 316.3L963.8 314.8L962.8 313.2L961.9 310.8L961.2 308.8L960.8 307.6L959.9 304.8L959.3 302.8L958.8 300.8L958.2 298.8L957.6 296.8L957.1 294.8L956.8 293.4L956.0 290.8L955.4 288.8L954.9 286.8L954.4 284.8L953.8 282.8L953.3 280.8L952.8 278.8L952.3 276.8L951.9 274.8L951.5 272.8L951.1 270.8L950.8 269.3L950.3 266.8L949.9 264.8L949.6 262.8L949.3 260.8L949.0 258.8L948.8 257.5L948.4 254.8L948.1 252.8L947.8 250.8L947.5 248.8L947.2 246.8L946.9 244.8L946.8 243.4L946.4 240.8L946.2 238.8L946.0 236.8L945.8 234.8L945.6 232.8L945.4 230.8L945.3 228.8L945.1 226.8L945.0 224.8L945.0 222.8L944.9 220.8L944.9 218.8L944.9 216.8L944.9 214.8L945.0 212.8L945.1 210.8L945.2 208.8L945.4 206.8L945.6 204.8L945.8 202.8L946.1 200.8L946.5 198.8L946.8 197.3L947.3 194.8L947.7 192.8L948.3 190.8L948.8 189.1L949.4 186.8L950.1 184.8L950.8 183.0L951.6 180.8L952.4 178.8L953.2 176.8L954.0 174.8L954.8 173.1L955.8 170.8L956.8 168.9L957.9 166.8L958.8 165.1L960.4 162.8L962.6 160.8Z" fill="#1300ec" fill-rule="evenodd"/>
<path d="M961.0 164.8L962.8 163.4L964.8 163.2L966.8 164.3L968.8 166.4L970.5 168.8L971.7 170.8L972.8 172.5L974.1 174.8L974.8 176.1L976.1 178.8L976.8 180.1L978.0 182.8L978.8 184.7L979.6 186.8L980.3 188.8L980.8 190.3L981.5 192.8L982.0 194.8L982.5 196.8L982.8 198.0L983.3 200.8L983.6 202.8L983.9 204.8L984.2 206.8L984.4 208.8L984.6 210.8L984.8 212.7L984.9 214.8L985.0 216.8L985.1 218.8L985.1 220.8L985.1 222.8L985.1 224.8L985.1 226.8L985.1 228.8L985.0 230.8L984.9 232.8L984.8 234.8L984.6 236.8L984.5 238.8L984.3 240.8L984.1 242.8L983.9 244.8L983.7 246.8L983.4 248.8L983.1 250.8L982.8 252.8L982.5 254.8L982.1 256.8L981.8 258.8L981.4 260.8L981.0 262.8L980.6 264.8L980.2 266.8L979.7 268.8L979.3 270.8L978.8 272.8L978.4 274.8L977.9 276.8L977.5 278.8L977.0 280.8L976.5 282.8L976.0 284.8L975.5 286.8L975.0 288.8L974.5 290.8L974.0 292.8L973.5 294.8L973.0 296.8L972.4 298.8L971.8 300.8L971.2 302.8L970.8 304.3L969.8 306.8L969.0 308.8L967.9 310.8L966.8 312.5L964.8 312.4L963.7 310.8L962.8 309.2L961.9 306.8L961.2 304.8L960.8 303.5L960.0 300.8L959.4 298.8L958.9 296.8L958.3 294.8L957.8 292.8L957.3 290.8L956.8 288.8L956.3 286.8L955.8 284.8L955.3 282.8L954.8 280.8L954.4 278.8L953.9 276.8L953.4 274.8L953.0 272.8L952.6 270.8L952.2 268.8L951.8 266.8L951.4 264.8L951.0 262.8L950.8 261.3L950.3 258.8L950.0 256.8L949.6 254.8L949.3 252.8L949.0 250.8L948.8 249.3L948.4 246.8L948.1 244.8L947.8 242.8L947.5 240.8L947.3 238.8L947.0 236.8L946.8 234.8L946.6 232.8L946.4 230.8L946.2 228.8L946.1 226.8L945.9 224.8L945.8 222.8L945.8 220.8L945.7 218.8L945.7 216.8L945.8 214.8L945.8 212.8L945.9 210.8L946.1 208.8L946.2 206.8L946.4 204.8L946.7 202.8L947.0 200.8L947.3 198.8L947.7 196.8L948.2 194.8L948.6 192.8L949.2 190.8L949.8 188.8L950.4 186.8L951.1 184.8L951.8 182.8L952.6 180.8L953.4 178.8L954.2 176.8L954.8 175.6L956.1 172.8L956.8 171.4L958.2 168.8L958.8 167.8L959.5 166.8L960.8 165.0Z" fill="#2000df" fill-rule="evenodd"/>
<path d="M961.7 166.8L962.8 166.0L964.8 165.8L966.8 166.7L968.8 168.7L970.3 170.8L971.6 172.8L972.8 174.6L974.0 176.8L974.8 178.2L976.0 180.8L976.8 182.4L977.8 184.8L978.6 186.8L979.3 188.8L980.0 190.8L980.6 192.8L981.1 194.8L981.6 196.8L982.1 198.8L982.5 200.8L982.8 202.6L983.1 204.8L983.4 206.8L983.6 208.8L983.8 210.8L983.9 212.8L984.1 214.8L984.2 216.8L984.2 218.8L984.3 220.8L984.3 222.8L984.3 224.8L984.2 226.8L984.2 228.8L984.1 230.8L984.0 232.8L983.8 234.8L983.7 236.8L983.5 238.8L983.3 240.8L983.1 242.8L982.8 244.8L982.5 246.8L982.2 248.8L981.9 250.8L981.5 252.8L981.2 254.8L980.8 256.8L980.4 258.8L980.0 260.8L979.6 262.8L979.1 264.8L978.8 266.4L978.3 268.8L977.8 270.8L977.4 272.8L976.9 274.8L976.5 276.8L976.1 278.8L975.6 280.8L975.2 282.8L974.8 284.4L974.2 286.8L973.8 288.8L973.3 290.8L972.8 292.8L972.3 294.8L971.7 296.8L971.1 298.8L970.8 300.1L969.8 302.8L969.1 304.8L968.0 306.8L966.8 308.7L964.8 308.6L963.7 306.8L962.8 305.3L961.9 302.8L961.2 300.8L960.8 299.3L960.1 296.8L959.5 294.8L959.0 292.8L958.5 290.8L958.0 288.8L957.6 286.8L957.1 284.8L956.8 283.2L956.2 280.8L955.7 278.8L955.3 276.8L954.9 274.8L954.4 272.8L954.0 270.8L953.6 268.8L953.2 266.8L952.8 264.8L952.4 262.8L952.0 260.8L951.6 258.8L951.3 256.8L950.9 254.8L950.6 252.8L950.2 250.8L949.9 248.8L949.5 246.8L949.2 244.8L948.9 242.8L948.6 240.8L948.3 238.8L948.0 236.8L947.8 234.8L947.5 232.8L947.3 230.8L947.1 228.8L947.0 226.8L946.8 224.8L946.8 223.3L946.7 220.8L946.6 218.8L946.6 216.8L946.6 214.8L946.7 212.8L946.8 211.0L946.9 208.8L947.1 206.8L947.3 204.8L947.5 202.8L947.8 200.8L948.2 198.8L948.6 196.8L949.0 194.8L949.5 192.8L950.1 190.8L950.7 188.8L951.3 186.8L952.1 184.8L952.8 182.9L953.6 180.8L954.4 178.8L955.4 176.8L956.3 174.8L957.3 172.8L958.5 170.8L959.8 168.8L960.8 167.6L961.7 166.8Z" fill="#2d00d2" fill-rule="evenodd"/>
<path d="M962.3 168.8L964.8 168.1L966.3 168.8L968.7 170.8L970.2 172.8L971.6 174.8L972.8 176.7L973.9 178.8L974.8 180.4L975.9 182.8L976.8 184.7L977.6 186.8L978.4 188.8L978.8 189.9L979.7 192.8L980.2 194.8L980.8 196.8L981.2 198.8L981.6 200.8L982.0 202.8L982.3 204.8L982.5 206.8L982.8 208.7L983.0 210.8L983.1 212.8L983.3 214.8L983.3 216.8L983.4 218.8L983.4 220.8L983.4 222.8L983.4 224.8L983.3 226.8L983.3 228.8L983.2 230.8L983.0 232.8L982.9 234.8L982.7 236.8L982.5 238.8L982.2 240.8L982.0 242.8L981.7 244.8L981.4 246.8L981.0 248.8L980.8 250.2L980.3 252.8L979.9 254.8L979.4 256.8L979.0 258.8L978.6 260.8L978.1 262.8L977.7 264.8L977.3 266.8L976.8 268.8L976.4 270.8L976.0 272.8L975.6 274.8L975.2 276.8L974.8 278.6L974.3 280.8L973.9 282.8L973.5 284.8L973.0 286.8L972.5 288.8L972.1 290.8L971.6 292.8L971.0 294.8L970.4 296.8L969.8 298.8L969.1 300.8L968.0 302.8L966.8 304.8L964.8 304.7L963.6 302.8L962.8 301.3L962.0 298.8L961.3 296.8L960.8 295.0L960.2 292.8L959.7 290.8L959.2 288.8L958.8 286.8L958.3 284.8L957.8 282.8L957.4 280.8L957.0 278.8L956.6 276.8L956.1 274.8L955.7 272.8L955.3 270.8L954.9 268.8L954.5 266.8L954.1 264.8L953.7 262.8L953.3 260.8L952.9 258.8L952.5 256.8L952.2 254.8L951.8 252.8L951.4 250.8L951.0 248.8L950.8 247.4L950.3 244.8L950.0 242.8L949.6 240.8L949.3 238.8L949.0 236.8L948.8 235.0L948.5 232.8L948.2 230.8L948.0 228.8L947.9 226.8L947.7 224.8L947.6 222.8L947.5 220.8L947.5 218.8L947.4 216.8L947.4 214.8L947.5 212.8L947.6 210.8L947.7 208.8L947.9 206.8L948.1 204.8L948.4 202.8L948.7 200.8L949.0 198.8L949.5 196.8L949.9 194.8L950.4 192.8L951.0 190.8L951.6 188.8L952.3 186.8L952.8 185.5L953.8 182.8L954.6 180.8L955.6 178.8L956.5 176.8L957.6 174.8L958.7 172.8L960.2 170.8L962.3 168.8Z" fill="#3900c6" fill-rule="evenodd"/>
<path d="M962.7 170.8L964.8 170.4L966.8 171.2L968.5 172.8L970.1 174.8L971.5 176.8L972.8 178.8L973.8 180.8L974.8 182.6L975.8 184.8L976.6 186.8L977.4 188.8L978.1 190.8L978.8 192.8L979.4 194.8L979.9 196.8L980.3 198.8L980.8 200.8L981.1 202.8L981.4 204.8L981.7 206.8L982.0 208.8L982.1 210.8L982.3 212.8L982.4 214.8L982.5 216.8L982.6 218.8L982.6 220.8L982.6 222.8L982.5 224.8L982.5 226.8L982.4 228.8L982.2 230.8L982.1 232.8L981.9 234.8L981.7 236.8L981.4 238.8L981.2 240.8L980.9 242.8L980.5 244.8L980.2 246.8L979.8 248.8L979.4 250.8L979.0 252.8L978.5 254.8L978.1 256.8L977.7 258.8L977.2 260.8L976.8 262.8L976.3 264.8L975.9 266.8L975.5 268.8L975.1 270.8L974.8 272.5L974.3 274.8L973.9 276.8L973.5 278.8L973.1 280.8L972.8 282.5L972.3 284.8L971.8 286.8L971.3 288.8L970.8 290.8L970.3 292.8L969.6 294.8L969.0 296.8L968.0 298.8L966.8 300.8L964.8 300.7L963.7 298.8L962.8 297.1L962.1 294.8L961.5 292.8L960.9 290.8L960.4 288.8L959.9 286.8L959.5 284.8L959.0 282.8L958.6 280.8L958.2 278.8L957.8 276.8L957.4 274.8L957.0 272.8L956.6 270.8L956.2 268.8L955.8 266.8L955.4 264.8L955.0 262.8L954.6 260.8L954.2 258.8L953.8 256.8L953.4 254.8L953.0 252.8L952.6 250.8L952.2 248.8L951.8 246.8L951.4 244.8L951.0 242.8L950.8 241.3L950.3 238.8L950.0 236.8L949.7 234.8L949.4 232.8L949.2 230.8L949.0 228.8L948.8 226.9L948.6 224.8L948.5 222.8L948.4 220.8L948.3 218.8L948.3 216.8L948.3 214.8L948.3 212.8L948.4 210.8L948.5 208.8L948.7 206.8L948.9 204.8L949.2 202.8L949.5 200.8L949.9 198.8L950.3 196.8L950.8 195.0L951.3 192.8L951.9 190.8L952.6 188.8L953.3 186.8L954.0 184.8L954.8 183.0L955.7 180.8L956.7 178.8L957.8 176.8L958.8 175.0L960.4 172.8L962.7 170.8Z" fill="#4600b9" fill-rule="evenodd"/>
<path d="M963.9 172.8L966.8 173.4L968.4 174.8L970.1 176.8L970.8 177.7L971.5 178.8L972.7 180.8L973.7 182.8L974.7 184.8L975.6 186.8L976.4 188.8L977.2 190.8L977.8 192.8L978.5 194.8L979.0 196.8L979.5 198.8L979.9 200.8L980.3 202.8L980.6 204.8L980.9 206.8L981.1 208.8L981.3 210.8L981.5 212.8L981.6 214.8L981.7 216.8L981.7 218.8L981.7 220.8L981.7 222.8L981.7 224.8L981.6 226.8L981.4 228.8L981.3 230.8L981.1 232.8L980.9 234.8L980.7 236.8L980.4 238.8L980.1 240.8L979.7 242.8L979.3 244.8L979.0 246.8L978.5 248.8L978.1 250.8L977.7 252.8L977.2 254.8L976.8 256.8L976.3 258.8L975.9 260.8L975.5 262.8L975.1 264.8L974.8 266.2L974.3 268.8L973.9 270.8L973.5 272.8L973.1 274.8L972.8 276.6L972.3 278.8L971.9 280.8L971.5 282.8L971.1 284.8L970.8 286.1L970.0 288.8L969.5 290.8L968.8 292.8L967.8 294.8L966.8 296.7L964.8 296.6L963.8 294.8L962.8 292.8L962.2 290.8L961.6 288.8L961.1 286.8L960.8 285.5L960.2 282.8L959.7 280.8L959.3 278.8L958.9 276.8L958.5 274.8L958.1 272.8L957.7 270.8L957.4 268.8L957.0 266.8L956.6 264.8L956.2 262.8L955.8 260.8L955.4 258.8L955.0 256.8L954.6 254.8L954.1 252.8L953.7 250.8L953.3 248.8L952.9 246.8L952.5 244.8L952.1 242.8L951.7 240.8L951.3 238.8L951.0 236.8L950.8 235.4L950.4 232.8L950.1 230.8L949.9 228.8L949.6 226.8L949.5 224.8L949.3 222.8L949.2 220.8L949.1 218.8L949.1 216.8L949.1 214.8L949.1 212.8L949.2 210.8L949.4 208.8L949.5 206.8L949.8 204.8L950.0 202.8L950.4 200.8L950.7 198.8L951.2 196.8L951.7 194.8L952.2 192.8L952.8 191.1L953.5 188.8L954.2 186.8L954.8 185.5L955.9 182.8L956.8 181.0L957.9 178.8L958.8 177.3L960.6 174.8L962.8 173.0Z" fill="#5300ac" fill-rule="evenodd"/>
<path d="M964.6 174.8L966.8 175.5L968.3 176.8L970.0 178.8L970.8 179.7L971.4 180.8L972.6 182.8L973.6 184.8L974.6 186.8L975.4 188.8L976.2 190.8L976.8 192.3L977.5 194.8L978.1 196.8L978.6 198.8L979.1 200.8L979.4 202.8L979.8 204.8L980.1 206.8L980.3 208.8L980.5 210.8L980.7 212.8L980.8 214.7L980.8 216.8L980.9 218.8L980.9 220.8L980.8 222.8L980.8 224.8L980.7 226.8L980.5 228.8L980.3 230.8L980.1 232.8L979.9 234.8L979.6 236.8L979.3 238.8L978.9 240.8L978.6 242.8L978.2 244.8L977.7 246.8L977.3 248.8L976.8 250.8L976.4 252.8L975.9 254.8L975.5 256.8L975.0 258.8L974.8 260.1L974.2 262.8L973.8 264.8L973.4 266.8L973.1 268.8L972.8 270.4L972.3 272.8L971.9 274.8L971.5 276.8L971.1 278.8L970.8 280.6L970.2 282.8L969.7 284.8L969.2 286.8L968.8 288.3L967.5 290.8L966.8 292.3L964.8 292.2L964.1 290.8L963.1 288.8L962.4 286.8L961.9 284.8L961.4 282.8L960.9 280.8L960.5 278.8L960.1 276.8L959.7 274.8L959.3 272.8L958.9 270.8L958.5 268.8L958.1 266.8L957.7 264.8L957.3 262.8L956.9 260.8L956.5 258.8L956.1 256.8L955.7 254.8L955.3 252.8L954.8 250.8L954.4 248.8L954.0 246.8L953.6 244.8L953.1 242.8L952.8 240.9L952.4 238.8L952.0 236.8L951.6 234.8L951.3 232.8L951.0 230.8L950.8 228.8L950.5 226.8L950.3 224.8L950.2 222.8L950.0 220.8L950.0 218.8L949.9 216.8L949.9 214.8L950.0 212.8L950.0 210.8L950.2 208.8L950.4 206.8L950.6 204.8L950.9 202.8L951.2 200.8L951.6 198.8L952.1 196.8L952.6 194.8L953.1 192.8L953.8 190.8L954.5 188.8L955.3 186.8L956.1 184.8L956.8 183.3L958.1 180.8L958.8 179.6L960.8 176.9L962.8 175.2L964.6 174.8Z" fill="#60009f" fill-rule="evenodd"/>
<path d="M961.1 178.8L962.8 177.4L964.8 176.9L966.8 177.5L968.3 178.8L970.0 180.8L970.8 181.8L971.4 182.8L972.5 184.8L973.5 186.8L974.4 188.8L975.2 190.8L976.0 192.8L976.6 194.8L977.2 196.8L977.7 198.8L978.2 200.8L978.6 202.8L978.9 204.8L979.2 206.8L979.5 208.8L979.7 210.8L979.8 212.8L979.9 214.8L980.0 216.8L980.0 218.8L980.0 220.8L979.9 222.8L979.9 224.8L979.7 226.8L979.6 228.8L979.4 230.8L979.1 232.8L978.8 234.8L978.5 236.8L978.2 238.8L977.8 240.8L977.4 242.8L977.0 244.8L976.5 246.8L976.1 248.8L975.6 250.8L975.1 252.8L974.8 254.5L974.2 256.8L973.8 258.8L973.4 260.8L973.0 262.8L972.8 264.1L972.2 266.8L971.9 268.8L971.5 270.8L971.1 272.8L970.8 274.6L970.3 276.8L969.8 278.8L969.3 280.8L968.8 282.8L968.0 284.8L967.1 286.8L964.8 287.4L963.6 284.8L962.8 282.9L962.2 280.8L961.8 278.8L961.3 276.8L960.8 274.8L960.4 272.8L960.0 270.8L959.6 268.8L959.2 266.8L958.8 264.8L958.5 262.8L958.1 260.8L957.7 258.8L957.2 256.8L956.8 254.8L956.4 252.8L955.9 250.8L955.5 248.8L955.1 246.8L954.8 245.4L954.2 242.8L953.8 240.8L953.4 238.8L953.0 236.8L952.6 234.8L952.3 232.8L952.0 230.8L951.7 228.8L951.4 226.8L951.2 224.8L951.0 222.8L950.9 220.8L950.8 218.8L950.8 217.2L950.7 214.8L950.8 212.8L950.9 210.8L951.0 208.8L951.2 206.8L951.4 204.8L951.7 202.8L952.1 200.8L952.5 198.8L952.8 197.6L953.5 194.8L954.1 192.8L954.7 190.8L955.5 188.8L956.3 186.8L956.8 185.8L958.3 182.8L959.5 180.8L960.8 179.1Z" fill="#6c0093" fill-rule="evenodd"/>
<path d="M961.3 180.8L962.8 179.5L964.8 179.0L966.8 179.6L968.2 180.8L969.9 182.8L970.8 183.9L972.4 186.8L973.4 188.8L974.2 190.8L974.8 192.1L975.7 194.8L976.3 196.8L976.8 198.5L977.3 200.8L977.7 202.8L978.1 204.8L978.4 206.8L978.6 208.8L978.8 210.3L979.0 212.8L979.1 214.8L979.1 216.8L979.1 218.8L979.1 220.8L979.0 222.8L978.9 224.8L978.8 226.8L978.6 228.8L978.4 230.8L978.1 232.8L977.8 234.8L977.4 236.8L977.1 238.8L976.8 240.3L976.2 242.8L975.8 244.8L975.3 246.8L974.8 248.8L974.4 250.8L973.9 252.8L973.5 254.8L973.0 256.8L972.8 258.2L972.2 260.8L971.8 262.8L971.4 264.8L971.0 266.8L970.8 268.3L970.2 270.8L969.8 272.8L969.3 274.8L968.9 276.8L968.2 278.8L967.4 280.8L966.8 282.2L964.8 282.2L964.2 280.8L963.4 278.8L962.8 277.3L962.2 274.8L961.7 272.8L961.3 270.8L960.8 268.8L960.4 266.8L960.0 264.8L959.6 262.8L959.2 260.8L958.8 258.8L958.3 256.8L957.9 254.8L957.5 252.8L957.0 250.8L956.8 249.5L956.1 246.8L955.7 244.8L955.2 242.8L954.8 240.8L954.4 238.8L954.0 236.8L953.6 234.8L953.2 232.8L952.9 230.8L952.6 228.8L952.3 226.8L952.1 224.8L951.9 222.8L951.8 220.8L951.7 218.8L951.6 216.8L951.6 214.8L951.6 212.8L951.7 210.8L951.8 208.8L952.0 206.8L952.3 204.8L952.6 202.8L952.9 200.8L953.4 198.8L953.9 196.8L954.4 194.8L954.8 193.6L955.7 190.8L956.5 188.8L957.4 186.8L958.4 184.8L959.7 182.8L960.8 181.3Z" fill="#790086" fill-rule="evenodd"/>
<path d="M961.5 182.8L962.8 181.7L964.8 181.1L966.8 181.6L968.1 182.8L969.9 184.8L970.8 186.1L972.2 188.8L972.8 189.8L974.0 192.8L974.7 194.8L975.4 196.8L975.9 198.8L976.4 200.8L976.8 202.4L977.2 204.8L977.5 206.8L977.7 208.8L977.9 210.8L978.1 212.8L978.2 214.8L978.2 216.8L978.2 218.8L978.2 220.8L978.1 222.8L978.0 224.8L977.8 226.8L977.6 228.8L977.3 230.8L977.0 232.8L976.8 234.5L976.3 236.8L975.9 238.8L975.5 240.8L975.0 242.8L974.8 244.0L974.1 246.8L973.6 248.8L973.2 250.8L972.8 252.7L972.3 254.8L971.8 256.8L971.4 258.8L971.0 260.8L970.6 262.8L970.1 264.8L969.7 266.8L969.2 268.8L968.8 270.8L968.1 272.8L967.4 274.8L966.8 276.4L964.8 276.4L964.1 274.8L963.3 272.8L962.8 271.4L962.2 268.8L961.7 266.8L961.2 264.8L960.8 262.8L960.3 260.8L959.9 258.8L959.5 256.8L959.0 254.8L958.6 252.8L958.1 250.8L957.7 248.8L957.2 246.8L956.8 244.8L956.3 242.8L955.8 240.8L955.4 238.8L955.0 236.8L954.6 234.8L954.2 232.8L953.8 230.8L953.5 228.8L953.2 226.8L953.0 224.8L952.8 222.8L952.6 220.8L952.5 218.8L952.4 216.8L952.4 214.8L952.5 212.8L952.5 210.8L952.7 208.8L952.9 206.8L953.1 204.8L953.4 202.8L953.8 200.8L954.3 198.8L954.8 196.8L955.4 194.8L956.0 192.8L956.8 190.8L957.7 188.8L958.6 186.8L959.9 184.8L960.8 183.5Z" fill="#860079" fill-rule="evenodd"/>
<path d="M961.7 184.8L962.8 183.8L964.8 183.2L966.8 183.7L968.0 184.8L969.7 186.8L970.8 188.3L972.1 190.8L972.8 192.3L973.7 194.8L974.4 196.8L974.8 198.0L975.5 200.8L975.9 202.8L976.3 204.8L976.6 206.8L976.9 208.8L977.1 210.8L977.2 212.8L977.3 214.8L977.3 216.8L977.3 218.8L977.3 220.8L977.2 222.8L977.0 224.8L976.8 226.8L976.6 228.8L976.3 230.8L976.0 232.8L975.6 234.8L975.2 236.8L974.8 238.8L974.3 240.8L973.9 242.8L973.4 244.8L972.9 246.8L972.5 248.8L972.0 250.8L971.5 252.8L971.1 254.8L970.8 256.2L970.1 258.8L969.6 260.8L969.2 262.8L968.8 264.6L967.9 266.8L967.2 268.8L966.8 270.1L964.8 270.2L964.2 268.8L963.4 266.8L962.8 265.3L962.2 262.8L961.7 260.8L961.2 258.8L960.8 257.3L960.2 254.8L959.7 252.8L959.3 250.8L958.8 248.8L958.3 246.8L957.8 244.8L957.4 242.8L956.9 240.8L956.4 238.8L956.0 236.8L955.6 234.8L955.2 232.8L954.8 230.8L954.5 228.8L954.2 226.8L953.9 224.8L953.7 222.8L953.5 220.8L953.4 218.8L953.3 216.8L953.3 214.8L953.3 212.8L953.4 210.8L953.5 208.8L953.7 206.8L954.0 204.8L954.3 202.8L954.7 200.8L955.2 198.8L955.7 196.8L956.4 194.8L956.8 193.6L957.9 190.8L958.8 189.0L960.1 186.8L960.8 185.8L961.7 184.8Z" fill="#93006c" fill-rule="evenodd"/>
<path d="M962.0 186.8L962.8 186.0L964.8 185.3L966.8 185.8L967.9 186.8L968.8 187.6L969.6 188.8L970.8 190.6L971.8 192.8L972.7 194.8L973.4 196.8L974.0 198.8L974.6 200.8L975.0 202.8L975.4 204.8L975.7 206.8L976.0 208.8L976.2 210.8L976.3 212.8L976.4 214.8L976.4 216.8L976.4 218.8L976.3 220.8L976.2 222.8L976.1 224.8L975.8 226.8L975.6 228.8L975.3 230.8L974.9 232.8L974.5 234.8L974.1 236.8L973.7 238.8L973.2 240.8L972.8 242.6L972.2 244.8L971.7 246.8L971.2 248.8L970.8 250.8L970.2 252.8L969.7 254.8L969.2 256.8L968.8 258.4L967.8 260.8L967.1 262.8L964.8 263.9L964.3 262.8L963.4 260.8L962.8 259.4L962.1 256.8L961.5 254.8L961.0 252.8L960.4 250.8L959.9 248.8L959.4 246.8L958.9 244.8L958.4 242.8L957.9 240.8L957.5 238.8L957.0 236.8L956.6 234.8L956.1 232.8L955.8 230.8L955.4 228.8L955.1 226.8L954.8 224.8L954.6 222.8L954.4 220.8L954.3 218.8L954.2 216.8L954.2 214.8L954.2 212.8L954.3 210.8L954.4 208.8L954.6 206.8L954.9 204.8L955.3 202.8L955.7 200.8L956.2 198.8L956.7 196.8L957.4 194.8L958.2 192.8L958.8 191.5L960.3 188.8L962.0 186.8Z" fill="#9f0060" fill-rule="evenodd"/>
<path d="M962.3 188.8L964.8 187.5L966.8 188.0L967.6 188.8L968.8 189.9L969.4 190.8L970.6 192.8L971.5 194.8L972.3 196.8L972.8 198.0L973.6 200.8L974.0 202.8L974.5 204.8L974.8 206.6L975.1 208.8L975.3 210.8L975.4 212.8L975.5 214.8L975.5 216.8L975.5 218.8L975.4 220.8L975.2 222.8L975.1 224.8L974.8 226.8L974.5 228.8L974.2 230.8L973.8 232.8L973.4 234.8L973.0 236.8L972.5 238.8L972.0 240.8L971.5 242.8L971.0 244.8L970.4 246.8L969.9 248.8L969.3 250.8L968.8 252.8L967.9 254.8L967.1 256.8L964.8 257.9L964.2 256.8L963.2 254.8L962.4 252.8L961.9 250.8L961.2 248.8L960.8 247.4L960.1 244.8L959.6 242.8L959.0 240.8L958.5 238.8L958.1 236.8L957.6 234.8L957.2 232.8L956.8 230.9L956.4 228.8L956.1 226.8L955.8 224.8L955.5 222.8L955.3 220.8L955.2 218.8L955.1 216.8L955.1 214.8L955.1 212.8L955.2 210.8L955.3 208.8L955.6 206.8L955.8 204.8L956.2 202.8L956.6 200.8L957.2 198.8L957.8 196.8L958.5 194.8L959.5 192.8L960.6 190.8L962.3 188.8Z" fill="#ac0053" fill-rule="evenodd"/>
<path d="M962.6 190.8L964.8 189.7L966.8 190.3L968.8 192.3L970.2 194.8L970.8 195.8L971.9 198.8L972.5 200.8L973.1 202.8L973.5 204.8L973.8 206.8L974.1 208.8L974.3 210.8L974.4 212.8L974.5 214.8L974.5 216.8L974.5 218.8L974.4 220.8L974.2 222.8L974.0 224.8L973.8 226.8L973.5 228.8L973.1 230.8L972.8 232.6L972.3 234.8L971.8 236.8L971.3 238.8L970.8 240.8L970.2 242.8L969.6 244.8L969.0 246.8L968.2 248.8L967.3 250.8L966.8 252.0L964.8 252.4L963.9 250.8L962.8 248.9L962.1 246.8L961.4 244.8L960.8 242.8L960.2 240.8L959.7 238.8L959.2 236.8L958.8 235.3L958.2 232.8L957.8 230.8L957.4 228.8L957.0 226.8L956.8 225.1L956.5 222.8L956.3 220.8L956.1 218.8L956.0 216.8L956.0 214.8L956.0 212.8L956.1 210.8L956.3 208.8L956.5 206.8L956.8 205.0L957.2 202.8L957.7 200.8L958.3 198.8L958.8 197.3L959.9 194.8L960.8 193.0L962.6 190.8Z" fill="#b90046" fill-rule="evenodd"/>
<path d="M963.4 192.8L964.8 192.1L966.8 192.7L968.7 194.8L969.8 196.8L970.8 198.8L971.4 200.8L972.0 202.8L972.5 204.8L972.8 206.4L973.1 208.8L973.3 210.8L973.5 212.8L973.5 214.8L973.5 216.8L973.5 218.8L973.4 220.8L973.2 222.8L973.0 224.8L972.8 226.5L972.4 228.8L972.0 230.8L971.5 232.8L971.1 234.8L970.8 236.1L969.9 238.8L969.3 240.8L968.8 242.7L967.7 244.8L966.8 246.8L964.8 247.3L963.2 244.8L962.3 242.8L961.6 240.8L960.9 238.8L960.4 236.8L959.8 234.8L959.3 232.8L958.8 230.8L958.4 228.8L958.1 226.8L957.8 224.8L957.5 222.8L957.3 220.8L957.1 218.8L957.0 216.8L957.0 214.8L957.0 212.8L957.1 210.8L957.3 208.8L957.5 206.8L957.9 204.8L958.3 202.8L958.8 200.9L959.5 198.8L960.3 196.8L961.5 194.8L962.8 193.1Z" fill="#c60039" fill-rule="evenodd"/>
<path d="M964.6 194.8L966.8 195.3L968.1 196.8L968.8 197.7L969.3 198.8L970.1 200.8L970.8 202.5L971.3 204.8L971.7 206.8L972.0 208.8L972.3 210.8L972.4 212.8L972.5 214.8L972.5 216.8L972.4 218.8L972.3 220.8L972.1 222.8L971.9 224.8L971.5 226.8L971.2 228.8L970.8 230.8L970.3 232.8L969.7 234.8L969.1 236.8L968.3 238.8L967.3 240.8L966.8 241.9L964.8 242.5L963.6 240.8L962.8 239.5L961.8 236.8L961.1 234.8L960.8 233.7L960.1 230.8L959.6 228.8L959.2 226.8L958.8 224.8L958.5 222.8L958.3 220.8L958.1 218.8L958.0 216.8L958.0 214.8L958.0 212.8L958.1 210.8L958.3 208.8L958.6 206.8L959.0 204.8L959.5 202.8L960.1 200.8L960.8 199.0L962.1 196.8L962.8 195.9L964.6 194.8Z" fill="#d2002d" fill-rule="evenodd"/>
<path d="M962.9 198.8L964.8 197.6L966.8 198.2L968.6 200.8L969.4 202.8L970.0 204.8L970.6 206.8L970.9 208.8L971.2 210.8L971.3 212.8L971.4 214.8L971.4 216.8L971.3 218.8L971.2 220.8L971.0 222.8L970.8 224.4L970.3 226.8L969.8 228.8L969.3 230.8L968.8 232.8L967.9 234.8L966.9 236.8L964.8 237.8L964.1 236.8L962.8 234.8L962.1 232.8L961.4 230.8L960.8 228.8L960.4 226.8L960.0 224.8L959.7 222.8L959.4 220.8L959.2 218.8L959.1 216.8L959.1 214.8L959.1 212.8L959.3 210.8L959.5 208.8L959.8 206.8L960.2 204.8L960.8 202.9L961.7 200.8L962.8 198.9Z" fill="#df0020" fill-rule="evenodd"/>
<path d="M962.7 202.8L964.8 200.9L966.8 201.7L967.5 202.8L968.5 204.8L969.1 206.8L969.5 208.8L969.8 210.8L970.0 212.8L970.1 214.8L970.1 216.8L970.0 218.8L969.8 220.8L969.6 222.8L969.2 224.8L968.8 226.8L968.2 228.8L967.3 230.8L966.8 232.1L964.9 232.8L963.4 230.8L962.8 229.7L961.9 226.8L961.4 224.8L961.0 222.8L960.8 221.5L960.5 218.8L960.4 216.8L960.3 214.8L960.4 212.8L960.5 210.8L960.8 208.8L961.2 206.8L961.9 204.8L962.7 202.8Z" fill="#ec0013" fill-rule="evenodd"/>
<path d="M963.5 206.8L964.8 205.1L966.8 206.2L967.7 208.8L968.2 210.8L968.5 212.8L968.7 214.8L968.7 216.8L968.5 218.8L968.2 220.8L967.8 222.8L967.2 224.8L966.8 226.2L965.6 226.8L963.5 224.8L962.8 223.1L962.3 220.8L962.1 218.8L961.9 216.8L961.9 214.8L962.0 212.8L962.2 210.8L962.6 208.8L963.5 206.8Z" fill="#f90006" fill-rule="evenodd"/>
</g>
<path d="M851.2 47.81V580.24M1048.2 47.81V580.24" stroke="#fff" stroke-opacity="0.9" stroke-width="0.8"/>
</g>
<g clip-path="url(#c2)" fill="none" stroke-linecap="round" stroke-width="1.5" stroke-dasharray="6 6">
<path d="M917.37 580.24V42.81M1011.23 580.24V42.81" stroke="#006400"/>
<path d="M700.06 359.14H1237.19" stroke="#cd0000"/>
</g>
<rect x="699.76" y="47.81" width="532.43" height="532.43" fill="none" stroke="#000" stroke-width="0.75"/>
<path d="M747.3 580.24H1181.3M747.3 580.24v6M855.8 580.24v6M964.3 580.24v6M1072.8 580.24v6M1181.3 580.24v6M699.76 511V48M699.76 511h-6M699.76 418.4h-6M699.76 325.8h-6M699.76 233.2h-6M699.76 140.6h-6M699.76 48h-6" fill="none" stroke="#000" stroke-width="0.85" stroke-linecap="round"/>
<g font-size="10" text-anchor="middle" fill="#000">
<text x="747.3" y="601.5">-400</text>
<text x="855.8" y="601.5">-200</text>
<text x="964.3" y="601.5">0</text>
<text x="1072.8" y="601.5">200</text>
<text x="1181.3" y="601.5">400</text>
<text transform="translate(685.3 511) rotate(-90)">75</text>
<text transform="translate(685.3 418.4) rotate(-90)">80</text>
<text transform="translate(685.3 325.8) rotate(-90)">85</text>
<text transform="translate(685.3 233.2) rotate(-90)">90</text>
<text transform="translate(685.3 140.6) rotate(-90)">95</text>
<text transform="translate(685.3 48) rotate(-90)">100</text>
</g>
<text x="965.98" y="31.9" font-size="21.5" font-weight="bold" text-anchor="middle">Density heat map for the top hits</text>
<text x="965.98" y="626" font-size="15.9" text-anchor="middle">Distance to peak summit</text>
<text transform="translate(661.9 314.52) rotate(-90)" font-size="15.9" text-anchor="middle">Motif score</text>
</g>
<g id="p3">
<path d="M79.5 1200.5L80.5 1200.5L81.5 1200.5L82.5 1200.5L83.5 1200.5L84.5 1200.5L85.5 1200.5L86.5 1200.5L87.5 1200.5L88.5 1200.5L89.5 1200.4L90.5 1200.4L91.5 1200.4L92.5 1200.3L93.5 1200.3L94.5 1200.2L95.5 1200.1L96.5 1200.0L97.5 1199.9L98.5 1199.8L99.5 1199.7L100.5 1199.5L101.5 1199.4L102.5 1199.2L103.5 1199.0L104.5 1198.8L105.5 1198.6L106.5 1198.4L107.5 1198.2L108.5 1197.9L109.5 1197.7L110.5 1197.5L111.5 1197.3L112.5 1197.1L113.5 1196.8L114.5 1196.6L115.5 1196.4L116.5 1196.2L117.5 1196.1L118.5 1195.9L119.5 1195.7L120.5 1195.6L121.5 1195.4L122.5 1195.3L123.5 1195.2L124.5 1195.1L125.5 1195.0L126.5 1194.9L127.5 1194.8L128.5 1194.8L129.5 1194.7L130.5 1194.7L131.5 1194.6L132.5 1194.6L133.5 1194.6L134.5 1194.5L135.5 1194.5L136.5 1194.5L137.5 1194.4L138.5 1194.4L139.5 1194.4L140.5 1194.3L141.5 1194.3L142.5 1194.2L143.5 1194.2L144.5 1194.1L145.5 1194.1L146.5 1194.0L147.5 1193.9L148.5 1193.8L149.5 1193.7L150.5 1193.6L151.5 1193.5L152.5 1193.4L153.5 1193.2L154.5 1193.1L155.5 1192.9L156.5 1192.8L157.5 1192.6L158.5 1192.4L159.5 1192.2L160.5 1192.0L161.5 1191.8L162.5 1191.6L163.5 1191.3L164.5 1191.0L165.5 1190.7L166.5 1190.4L167.5 1190.1L168.5 1189.7L169.5 1189.4L170.5 1188.9L171.5 1188.5L172.5 1188.0L173.5 1187.5L174.5 1186.9L175.5 1186.3L176.5 1185.6L177.5 1184.9L178.5 1184.1L179.5 1183.3L180.5 1182.4L181.5 1181.5L182.5 1180.6L183.5 1179.6L184.5 1178.6L185.5 1177.6L186.5 1176.6L187.5 1175.5L188.5 1174.3L189.5 1173.2L190.5 1172.0L191.5 1170.8L192.5 1169.5L193.5 1168.3L194.5 1167.0L195.5 1165.7L196.5 1164.4L197.5 1163.1L198.5 1161.9L199.5 1160.6L200.5 1159.4L201.5 1158.2L202.5 1157.0L203.5 1155.8L204.5 1154.6L205.5 1153.4L206.5 1152.2L207.5 1150.9L208.5 1149.6L209.5 1148.2L210.5 1146.8L211.5 1145.3L212.5 1143.7L213.5 1142.1L214.5 1140.4L215.5 1138.7L216.5 1136.8L217.5 1135.0L218.5 1133.0L219.5 1131.0L220.5 1129.0L221.5 1126.8L222.5 1124.7L223.5 1122.4L224.5 1120.2L225.5 1117.9L226.5 1115.6L227.5 1113.3L228.5 1111.0L229.5 1108.7L230.5 1106.3L231.5 1104.1L232.5 1101.8L233.5 1099.6L234.5 1097.4L235.5 1095.3L236.5 1093.3L237.5 1091.3L238.5 1089.4L239.5 1087.7L240.5 1086.0L241.5 1084.3L242.5 1082.7L243.5 1081.1L244.5 1079.6L245.5 1078.0L246.5 1076.5L247.5 1074.9L248.5 1073.4L249.5 1071.8L250.5 1070.2L251.5 1068.5L252.5 1066.9L253.5 1065.1L254.5 1063.4L255.5 1061.6L256.5 1059.7L257.5 1057.9L258.5 1055.9L259.5 1053.9L260.5 1051.9L261.5 1049.9L262.5 1047.8L263.5 1045.7L264.5 1043.6L265.5 1041.4L266.5 1039.3L267.5 1037.1L268.5 1034.8L269.5 1032.5L270.5 1030.2L271.5 1027.8L272.5 1025.3L273.5 1022.8L274.5 1020.2L275.5 1017.4L276.5 1014.6L277.5 1011.7L278.5 1008.7L279.5 1005.6L280.5 1002.5L281.5 999.3L282.5 996.0L283.5 992.6L284.5 989.2L285.5 985.8L286.5 982.3L287.5 978.8L288.5 975.3L289.5 971.8L290.5 968.4L291.5 965.0L292.5 961.7L293.5 958.4L294.5 955.2L295.5 951.9L296.5 948.8L297.5 945.6L298.5 942.4L299.5 939.1L300.5 935.9L301.5 932.6L302.5 929.3L303.5 925.9L304.5 922.6L305.5 919.3L306.5 916.0L307.5 912.8L308.5 909.6L309.5 906.5L310.5 903.5L311.5 900.6L312.5 897.7L313.5 894.9L314.5 892.1L315.5 889.4L316.5 886.8L317.5 884.1L318.5 881.5L319.5 878.8L320.5 876.2L321.5 873.5L322.5 870.8L323.5 868.1L324.5 865.4L325.5 862.7L326.5 859.9L327.5 857.1L328.5 854.3L329.5 851.4L330.5 848.6L331.5 845.6L332.5 842.7L333.5 839.7L334.5 836.7L335.5 833.7L336.5 830.7L337.5 827.7L338.5 824.6L339.5 821.5L340.5 818.5L341.5 815.4L342.5 812.3L343.5 809.3L344.5 806.3L345.5 803.3L346.5 800.4L347.5 797.5L348.5 794.7L349.5 792.0L350.5 789.4L351.5 787.0L352.5 784.9L353.5 782.9L354.5 781.3L355.5 779.9L356.5 778.8L357.5 777.9L358.5 777.2L359.5 776.5L360.5 776.1L361.5 775.7L362.5 775.5L363.5 775.5L364.5 775.5L365.5 775.7L366.5 775.8L367.5 776.0L368.5 776.1L369.5 776.1L370.5 776.0L371.5 775.8L372.5 775.5L373.5 775.0L374.5 774.3L375.5 773.5L376.5 772.5L377.5 771.3L378.5 770.0L379.5 768.4L380.5 766.7L381.5 764.7L382.5 762.5L383.5 760.0L384.5 757.2L385.5 754.2L386.5 751.0L387.5 747.5L388.5 743.9L389.5 740.1L390.5 736.3L391.5 732.5L392.5 728.8L393.5 725.3L394.5 722.0L395.5 719.0L396.5 716.2L397.5 713.8L398.5 711.7L399.5 710.1L400.5 708.7L401.5 707.8L402.5 707.2L403.5 707.0L404.5 707.1L405.5 707.5L406.5 708.3L407.5 709.5L408.5 711.1L409.5 713.1L410.5 715.5L411.5 718.2L412.5 721.4L413.5 725.0L414.5 729.1L415.5 733.7L416.5 738.8L417.5 744.5L418.5 750.5L419.5 756.8L420.5 763.3L421.5 770.0L422.5 776.9L423.5 784.0L424.5 791.3L425.5 798.8L426.5 806.3L427.5 814.0L428.5 821.5L429.5 828.9L430.5 836.0L431.5 842.8L432.5 849.4L433.5 855.7L434.5 861.9L435.5 868.0L436.5 874.1L437.5 880.1L438.5 886.0L439.5 892.0L440.5 898.0L441.5 904.0L442.5 910.1L443.5 916.1L444.5 922.0L445.5 927.9L446.5 933.8L447.5 939.6L448.5 945.4L449.5 951.2L450.5 957.0L451.5 962.8L452.5 968.6L453.5 974.4L454.5 980.2L455.5 985.8L456.5 991.4L457.5 996.8L458.5 1002.1L459.5 1007.3L460.5 1012.4L461.5 1017.5L462.5 1022.5L463.5 1027.5L464.5 1032.4L465.5 1037.3L466.5 1042.1L467.5 1046.8L468.5 1051.4L469.5 1055.8L470.5 1060.1L471.5 1064.3L472.5 1068.3L473.5 1072.1L474.5 1075.8L475.5 1079.2L476.5 1082.5L477.5 1085.6L478.5 1088.6L479.5 1091.4L480.5 1094.2L481.5 1097.0L482.5 1099.7L483.5 1102.4L484.5 1105.0L485.5 1107.6L486.5 1110.1L487.5 1112.5L488.5 1114.8L489.5 1117.1L490.5 1119.3L491.5 1121.5L492.5 1123.6L493.5 1125.8L494.5 1127.9L495.5 1130.1L496.5 1132.3L497.5 1134.5L498.5 1136.7L499.5 1138.9L500.5 1141.1L501.5 1143.3L502.5 1145.5L503.5 1147.7L504.5 1149.9L505.5 1152.1L506.5 1154.4L507.5 1156.6L508.5 1158.8L509.5 1161.1L510.5 1163.2L511.5 1165.4L512.5 1167.5L513.5 1169.5L514.5 1171.5L515.5 1173.4L516.5 1175.2L517.5 1176.9L518.5 1178.4L519.5 1179.9L520.5 1181.2L521.5 1182.5L522.5 1183.6L523.5 1184.7L524.5 1185.8L525.5 1186.8L526.5 1187.8L527.5 1188.8L528.5 1189.7L529.5 1190.6L530.5 1191.4L531.5 1192.2L532.5 1192.9L533.5 1193.6L534.5 1194.2L535.5 1194.8L536.5 1195.3L537.5 1195.8L538.5 1196.3L539.5 1196.7L540.5 1197.2L541.5 1197.5L542.5 1197.9L543.5 1198.2L544.5 1198.5L545.5 1198.8L546.5 1199.0L547.5 1199.1L548.5 1199.3L549.5 1199.4L550.5 1199.6L551.5 1199.7L552.5 1199.8L553.5 1199.8L554.5 1199.9L555.5 1200.0L556.5 1200.0L557.5 1200.1L558.5 1200.1L559.5 1200.2L560.5 1200.2L561.5 1200.3L562.5 1200.3L563.5 1200.3L564.5 1200.4L565.5 1200.4L566.5 1200.4L567.5 1200.4L568.5 1200.5L569.5 1200.5L570.5 1200.5L571.5 1200.5L572.5 1200.5Z" fill="#f5deb3" stroke="#000" stroke-width="1.1" stroke-linejoin="round"/>
<clipPath id="c3"><rect x="59.76" y="687.81" width="532.43" height="532.43"/></clipPath>
<g clip-path="url(#c3)" fill="none" stroke-linecap="round" stroke-width="1.5" stroke-dasharray="6 6">
<path d="M290.92 1220.24V682.81" stroke="#cd0000"/>
</g>
<rect x="59.76" y="687.81" width="532.43" height="532.43" fill="none" stroke="#000" stroke-width="0.75"/>
<path d="M101.5 1220.24H532M101.5 1220.24v6M173.25 1220.24v6M245 1220.24v6M316.75 1220.24v6M388.5 1220.24v6M460.25 1220.24v6M532 1220.24v6M59.76 1200.6V750.92M59.76 1200.6h-6M59.76 1088.18h-6M59.76 975.76h-6M59.76 863.34h-6M59.76 750.92h-6" fill="none" stroke="#000" stroke-width="0.85" stroke-linecap="round"/>
<g font-size="10" text-anchor="middle" fill="#000">
<text x="101.5" y="1241.5">70</text>
<text x="173.25" y="1241.5">75</text>
<text x="245" y="1241.5">80</text>
<text x="316.75" y="1241.5">85</text>
<text x="388.5" y="1241.5">90</text>
<text x="460.25" y="1241.5">95</text>
<text x="532" y="1241.5">100</text>
<text transform="translate(45.3 1200.6) rotate(-90)">0.00</text>
<text transform="translate(45.3 1088.18) rotate(-90)">0.02</text>
<text transform="translate(45.3 975.76) rotate(-90)">0.04</text>
<text transform="translate(45.3 863.34) rotate(-90)">0.06</text>
<text transform="translate(45.3 750.92) rotate(-90)">0.08</text>
</g>
<text x="325.98" y="671.9" font-size="21.5" font-weight="bold" text-anchor="middle">Motif score threshold: 83.200</text>
<text x="325.98" y="1266" font-size="15.9" text-anchor="middle">Motif score</text>
<text transform="translate(21.9 954.52) rotate(-90)" font-size="15.9" text-anchor="middle">Density</text>
</g>
<g id="p4">
<path d="M719.3 1200.3L720.3 1200.3L721.3 1200.3L722.3 1200.2L723.3 1200.0L724.3 1199.7L725.3 1199.2L726.3 1198.4L727.3 1197.5L728.3 1196.3L729.3 1194.8L730.3 1193.1L731.3 1191.3L732.3 1189.4L733.3 1187.6L734.3 1186.0L735.3 1184.6L736.3 1183.5L737.3 1182.5L738.3 1181.8L739.3 1181.3L740.3 1180.9L741.3 1180.7L742.3 1180.5L743.3 1180.4L744.3 1180.2L745.3 1180.1L746.3 1179.9L747.3 1179.6L748.3 1179.4L749.3 1179.4L750.3 1179.5L751.3 1179.9L752.3 1180.4L753.3 1181.2L754.3 1182.1L755.3 1183.0L756.3 1183.8L757.3 1184.6L758.3 1185.2L759.3 1185.7L760.3 1186.1L761.3 1186.4L762.3 1186.7L763.3 1186.9L764.3 1187.1L765.3 1187.4L766.3 1187.7L767.3 1188.0L768.3 1188.3L769.3 1188.7L770.3 1189.1L771.3 1189.4L772.3 1189.8L773.3 1190.1L774.3 1190.3L775.3 1190.4L776.3 1190.4L777.3 1190.4L778.3 1190.2L779.3 1190.0L780.3 1189.8L781.3 1189.5L782.3 1189.3L783.3 1189.0L784.3 1188.7L785.3 1188.5L786.3 1188.2L787.3 1187.9L788.3 1187.7L789.3 1187.6L790.3 1187.5L791.3 1187.5L792.3 1187.6L793.3 1187.9L794.3 1188.2L795.3 1188.6L796.3 1188.9L797.3 1189.3L798.3 1189.6L799.3 1189.9L800.3 1190.1L801.3 1190.2L802.3 1190.2L803.3 1190.1L804.3 1189.9L805.3 1189.8L806.3 1189.6L807.3 1189.4L808.3 1189.4L809.3 1189.3L810.3 1189.4L811.3 1189.5L812.3 1189.6L813.3 1189.7L814.3 1189.9L815.3 1190.0L816.3 1190.1L817.3 1190.1L818.3 1190.1L819.3 1190.1L820.3 1189.9L821.3 1189.7L822.3 1189.4L823.3 1189.0L824.3 1188.6L825.3 1188.2L826.3 1187.9L827.3 1187.5L828.3 1187.3L829.3 1187.3L830.3 1187.5L831.3 1187.8L832.3 1188.1L833.3 1188.5L834.3 1188.9L835.3 1189.2L836.3 1189.3L837.3 1189.1L838.3 1188.7L839.3 1188.0L840.3 1187.1L841.3 1186.2L842.3 1185.2L843.3 1184.3L844.3 1183.5L845.3 1182.8L846.3 1182.3L847.3 1181.9L848.3 1181.7L849.3 1181.6L850.3 1181.8L851.3 1182.1L852.3 1182.5L853.3 1183.0L854.3 1183.6L855.3 1184.3L856.3 1185.0L857.3 1185.6L858.3 1186.1L859.3 1186.5L860.3 1186.6L861.3 1186.4L862.3 1186.2L863.3 1185.8L864.3 1185.3L865.3 1184.9L866.3 1184.5L867.3 1184.3L868.3 1184.3L869.3 1184.5L870.3 1184.8L871.3 1185.2L872.3 1185.6L873.3 1185.9L874.3 1186.1L875.3 1186.2L876.3 1186.3L877.3 1186.3L878.3 1186.3L879.3 1186.1L880.3 1185.9L881.3 1185.6L882.3 1185.2L883.3 1184.6L884.3 1183.9L885.3 1183.1L886.3 1182.0L887.3 1180.8L888.3 1179.4L889.3 1177.9L890.3 1176.4L891.3 1175.1L892.3 1173.8L893.3 1172.7L894.3 1171.7L895.3 1170.8L896.3 1170.0L897.3 1169.2L898.3 1168.5L899.3 1167.8L900.3 1167.1L901.3 1166.4L902.3 1165.8L903.3 1165.3L904.3 1164.9L905.3 1164.8L906.3 1164.8L907.3 1164.9L908.3 1165.0L909.3 1165.0L910.3 1164.7L911.3 1164.0L912.3 1162.9L913.3 1161.2L914.3 1158.9L915.3 1156.1L916.3 1153.0L917.3 1149.7L918.3 1146.2L919.3 1142.7L920.3 1139.1L921.3 1135.5L922.3 1131.9L923.3 1128.3L924.3 1124.9L925.3 1121.5L926.3 1118.2L927.3 1115.0L928.3 1111.8L929.3 1108.6L930.3 1105.2L931.3 1101.5L932.3 1097.5L933.3 1093.2L934.3 1088.5L935.3 1083.4L936.3 1077.9L937.3 1071.8L938.3 1065.2L939.3 1058.0L940.3 1050.4L941.3 1042.1L942.3 1033.2L943.3 1023.4L944.3 1012.6L945.3 1000.3L946.3 985.9L947.3 970.5L948.3 955.8L949.3 940.2L950.3 922.8L951.3 903.6L952.3 883.1L953.3 862.5L954.3 842.3L955.3 822.2L956.3 802.7L957.3 784.6L958.3 768.2L959.3 753.2L960.3 739.7L961.3 728.6L962.3 720.0L963.3 713.7L964.3 709.6L965.3 707.9L966.3 709.1L967.3 712.8L968.3 718.5L969.3 726.4L970.3 737.1L971.3 750.8L972.3 766.3L973.3 782.4L974.3 798.9L975.3 815.9L976.3 834.1L977.3 854.1L978.3 874.9L979.3 895.3L980.3 915.4L981.3 937.4L982.3 964.4L983.3 983.4L984.3 996.9L985.3 1011.0L986.3 1025.3L987.3 1037.8L988.3 1048.7L989.3 1058.4L990.3 1067.2L991.3 1075.0L992.3 1081.6L993.3 1087.0L994.3 1091.5L995.3 1095.5L996.3 1099.0L997.3 1102.1L998.3 1104.5L999.3 1106.5L1000.3 1108.2L1001.3 1110.0L1002.3 1111.9L1003.3 1114.0L1004.3 1116.4L1005.3 1119.0L1006.3 1121.7L1007.3 1124.6L1008.3 1127.6L1009.3 1130.9L1010.3 1134.4L1011.3 1137.8L1012.3 1141.0L1013.3 1144.0L1014.3 1146.8L1015.3 1149.6L1016.3 1152.3L1017.3 1155.0L1018.3 1157.6L1019.3 1160.0L1020.3 1162.2L1021.3 1164.1L1022.3 1165.8L1023.3 1167.2L1024.3 1168.3L1025.3 1169.2L1026.3 1169.8L1027.3 1170.2L1028.3 1170.4L1029.3 1170.6L1030.3 1170.6L1031.3 1170.7L1032.3 1170.8L1033.3 1171.0L1034.3 1171.5L1035.3 1172.1L1036.3 1172.9L1037.3 1173.8L1038.3 1174.8L1039.3 1175.8L1040.3 1176.7L1041.3 1177.6L1042.3 1178.2L1043.3 1178.7L1044.3 1179.0L1045.3 1179.2L1046.3 1179.2L1047.3 1179.0L1048.3 1178.8L1049.3 1178.4L1050.3 1178.0L1051.3 1177.4L1052.3 1176.8L1053.3 1176.2L1054.3 1175.5L1055.3 1174.9L1056.3 1174.4L1057.3 1174.0L1058.3 1173.8L1059.3 1174.0L1060.3 1174.5L1061.3 1175.4L1062.3 1176.6L1063.3 1178.0L1064.3 1179.6L1065.3 1181.2L1066.3 1182.8L1067.3 1184.2L1068.3 1185.4L1069.3 1186.3L1070.3 1187.0L1071.3 1187.4L1072.3 1187.4L1073.3 1187.2L1074.3 1186.8L1075.3 1186.3L1076.3 1185.8L1077.3 1185.3L1078.3 1184.9L1079.3 1184.6L1080.3 1184.5L1081.3 1184.5L1082.3 1184.6L1083.3 1184.9L1084.3 1185.2L1085.3 1185.7L1086.3 1186.3L1087.3 1186.9L1088.3 1187.6L1089.3 1188.3L1090.3 1188.9L1091.3 1189.5L1092.3 1190.0L1093.3 1190.4L1094.3 1190.8L1095.3 1191.0L1096.3 1191.1L1097.3 1191.1L1098.3 1190.9L1099.3 1190.5L1100.3 1189.9L1101.3 1189.2L1102.3 1188.3L1103.3 1187.4L1104.3 1186.5L1105.3 1185.8L1106.3 1185.1L1107.3 1184.7L1108.3 1184.4L1109.3 1184.3L1110.3 1184.3L1111.3 1184.5L1112.3 1184.8L1113.3 1185.1L1114.3 1185.4L1115.3 1185.6L1116.3 1185.7L1117.3 1185.7L1118.3 1185.5L1119.3 1185.1L1120.3 1184.6L1121.3 1184.1L1122.3 1183.4L1123.3 1182.7L1124.3 1182.1L1125.3 1181.5L1126.3 1181.0L1127.3 1180.7L1128.3 1180.6L1129.3 1180.8L1130.3 1181.2L1131.3 1181.7L1132.3 1182.3L1133.3 1183.0L1134.3 1183.5L1135.3 1183.7L1136.3 1183.6L1137.3 1183.1L1138.3 1182.4L1139.3 1181.7L1140.3 1181.0L1141.3 1180.4L1142.3 1180.1L1143.3 1180.0L1144.3 1180.2L1145.3 1180.8L1146.3 1181.7L1147.3 1182.9L1148.3 1184.3L1149.3 1185.8L1150.3 1187.3L1151.3 1188.6L1152.3 1189.8L1153.3 1190.7L1154.3 1191.4L1155.3 1191.7L1156.3 1191.8L1157.3 1191.7L1158.3 1191.4L1159.3 1191.1L1160.3 1190.8L1161.3 1190.4L1162.3 1190.0L1163.3 1189.5L1164.3 1189.0L1165.3 1188.5L1166.3 1187.9L1167.3 1187.2L1168.3 1186.5L1169.3 1185.7L1170.3 1184.9L1171.3 1184.2L1172.3 1183.5L1173.3 1183.0L1174.3 1182.8L1175.3 1182.7L1176.3 1182.8L1177.3 1183.1L1178.3 1183.5L1179.3 1184.0L1180.3 1184.6L1181.3 1185.3L1182.3 1186.0L1183.3 1186.6L1184.3 1187.2L1185.3 1187.6L1186.3 1187.8L1187.3 1188.0L1188.3 1188.0L1189.3 1187.9L1190.3 1187.8L1191.3 1187.7L1192.3 1187.9L1193.3 1188.2L1194.3 1188.8L1195.3 1189.7L1196.3 1190.8L1197.3 1192.1L1198.3 1193.4L1199.3 1194.8L1200.3 1195.9L1201.3 1197.0L1202.3 1197.9L1203.3 1198.6L1204.3 1199.2L1205.3 1199.6L1206.3 1199.9L1207.3 1200.1L1208.3 1200.2L1209.3 1200.3L1210.3 1200.3L1211.3 1200.3L1212.3 1200.3L1212.7 1200.3Z" fill="#f5deb3" stroke="#000" stroke-width="1.1" stroke-linejoin="round"/>
<clipPath id="c4"><rect x="699.76" y="687.81" width="532.43" height="532.43"/></clipPath>
<g clip-path="url(#c4)" fill="none" stroke-linecap="round" stroke-width="1.5" stroke-dasharray="6 6">
<path d="M923.96 1220.24V682.81M1005.84 1220.24V682.81" stroke="#006400"/>
</g>
<g fill="none" stroke-width="1.08" stroke-linecap="round" stroke-dasharray="1.08 3.24">
<path d="M1017 703.4H1041" stroke="#006400"/><path d="M1017 719.1H1041" stroke="#cd0000"/></g>
<circle cx="1028.7" cy="734.7" r="2.9" fill="#00f"/>
<g font-size="12.9" fill="#000"><text x="1052" y="707.5">enrichment zone = 86.5</text><text x="1052" y="723.8">motif score threshold = 83.200</text><text x="1052" y="738.8">centrality p-val = -55.8245</text></g>
<rect x="699.76" y="687.81" width="532.43" height="532.43" fill="none" stroke="#000" stroke-width="0.75"/>
<path d="M775.58 1220.24H1154.22M775.58 1220.24v6M870.24 1220.24v6M964.9 1220.24v6M1059.56 1220.24v6M1154.22 1220.24v6M699.76 1200.6V744.2M699.76 1200.6h-6M699.76 1086.5h-6M699.76 972.4h-6M699.76 858.3h-6M699.76 744.2h-6" fill="none" stroke="#000" stroke-width="0.85" stroke-linecap="round"/>
<g font-size="10" text-anchor="middle" fill="#000">
<text x="775.58" y="1241.5">-400</text>
<text x="870.24" y="1241.5">-200</text>
<text x="964.9" y="1241.5">0</text>
<text x="1059.56" y="1241.5">200</text>
<text x="1154.22" y="1241.5">400</text>
<text transform="translate(685.3 1200.6) rotate(-90)">0.000</text>
<text transform="translate(685.3 1086.5) rotate(-90)">0.002</text>
<text transform="translate(685.3 972.4) rotate(-90)">0.004</text>
<text transform="translate(685.3 858.3) rotate(-90)">0.006</text>
<text transform="translate(685.3 744.2) rotate(-90)">0.008</text>
</g>
<text x="965.98" y="671.9" font-size="21.5" font-weight="bold" text-anchor="middle">Enrichment zone: 86.50</text>
<text x="965.98" y="1266" font-size="15.9" text-anchor="middle">Distance to peak summit</text>
<text transform="translate(661.9 954.52) rotate(-90)" font-size="15.9" text-anchor="middle">Density</text>
</g>
</svg>
</body></html>
